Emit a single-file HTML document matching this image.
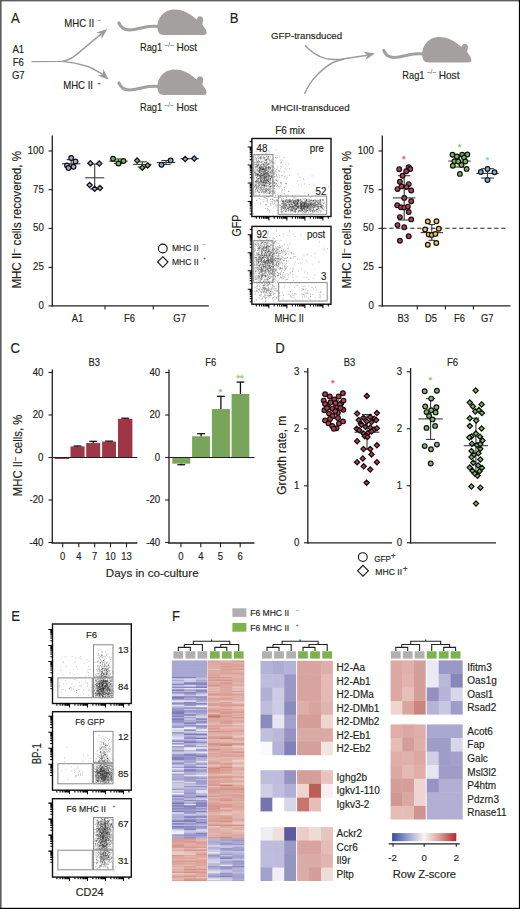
<!DOCTYPE html>
<html><head><meta charset="utf-8"><style>
html,body{margin:0;padding:0;background:#fff;}
svg{display:block;font-family:"Liberation Sans",sans-serif;}
</style></head><body>
<svg width="520" height="909" viewBox="0 0 520 909">
<rect width="520" height="909" fill="#fff"/>
<rect x="0" y="0" width="520" height="1.4" fill="#5d5d5d"/>
<rect x="0" y="0" width="1.6" height="909" fill="#5d5d5d"/>
<rect x="518.9" y="0" width="1.1" height="909" fill="#000"/>
<rect x="0" y="907.8" width="520" height="1.2" fill="#000"/>
<text x="11" y="22.7" font-size="14.3" fill="#231f20" textLength="8.77" lengthAdjust="spacingAndGlyphs" stroke-width="0.16" stroke="#231f20">A</text>
<text x="229.8" y="22.5" font-size="14.3" fill="#231f20" textLength="8.77" lengthAdjust="spacingAndGlyphs" stroke-width="0.16" stroke="#231f20">B</text>
<text x="10.6" y="353.3" font-size="14.3" fill="#231f20" textLength="9.5" lengthAdjust="spacingAndGlyphs" stroke-width="0.16" stroke="#231f20">C</text>
<text x="275.3" y="353" font-size="14.3" fill="#231f20" textLength="9.5" lengthAdjust="spacingAndGlyphs" stroke-width="0.16" stroke="#231f20">D</text>
<text x="11.2" y="620.9" font-size="14.3" fill="#231f20" textLength="8.77" lengthAdjust="spacingAndGlyphs" stroke-width="0.16" stroke="#231f20">E</text>
<text x="172.1" y="621.1" font-size="14.3" fill="#231f20" textLength="8.04" lengthAdjust="spacingAndGlyphs" stroke-width="0.16" stroke="#231f20">F</text>
<g transform="translate(0,0)"><path d="M158,31 C157,27 157,22 160,17.5 C163.5,11.5 169,9.4 175,9.4 C183,9.4 191,14 196.8,19.6 C197,17.5 198.3,16.2 200,16.2 C202,16.2 203.1,17.6 203.1,19.5 C203.1,21.5 202.6,23 202.3,24.4 C204.2,26.8 206.6,29.8 206.6,32.6 C206.6,34.4 205.3,35 203.2,35 L164,35 C161,35 159,34 158,31 Z" fill="#a4a09f"/><path d="M118.9,22.9 C120.6,27 124,30 129.5,30 C136,30 143,27.2 149,26.5 C152.5,26.1 155.5,26.1 158.5,26.4" fill="none" stroke="#a4a09f" stroke-width="3" stroke-linecap="round"/></g>
<g transform="translate(0,60)"><path d="M158,31 C157,27 157,22 160,17.5 C163.5,11.5 169,9.4 175,9.4 C183,9.4 191,14 196.8,19.6 C197,17.5 198.3,16.2 200,16.2 C202,16.2 203.1,17.6 203.1,19.5 C203.1,21.5 202.6,23 202.3,24.4 C204.2,26.8 206.6,29.8 206.6,32.6 C206.6,34.4 205.3,35 203.2,35 L164,35 C161,35 159,34 158,31 Z" fill="#a4a09f"/><path d="M118.9,22.9 C120.6,27 124,30 129.5,30 C136,30 143,27.2 149,26.5 C152.5,26.1 155.5,26.1 158.5,26.4" fill="none" stroke="#a4a09f" stroke-width="3" stroke-linecap="round"/></g>
<g transform="translate(264.8,27.5)"><path d="M158,31 C157,27 157,22 160,17.5 C163.5,11.5 169,9.4 175,9.4 C183,9.4 191,14 196.8,19.6 C197,17.5 198.3,16.2 200,16.2 C202,16.2 203.1,17.6 203.1,19.5 C203.1,21.5 202.6,23 202.3,24.4 C204.2,26.8 206.6,29.8 206.6,32.6 C206.6,34.4 205.3,35 203.2,35 L164,35 C161,35 159,34 158,31 Z" fill="#a4a09f"/><path d="M118.9,22.9 C120.6,27 124,30 129.5,30 C136,30 143,27.2 149,26.5 C152.5,26.1 155.5,26.1 158.5,26.4" fill="none" stroke="#a4a09f" stroke-width="3" stroke-linecap="round"/></g>
<text x="140.0" y="51.4" font-size="10.6" fill="#231f20" textLength="22.2" lengthAdjust="spacingAndGlyphs" stroke-width="0.16" stroke="#231f20">Rag1</text>
<text x="164.6" y="46.9" font-size="6.6" fill="#231f20" stroke-width="0" fill-opacity="0.85" stroke="#231f20">&#8211;/&#8211;</text>
<text x="176.4" y="51.4" font-size="10.6" fill="#231f20" textLength="20.8" lengthAdjust="spacingAndGlyphs" stroke-width="0.16" stroke="#231f20">Host</text>
<text x="140.0" y="111.4" font-size="10.6" fill="#231f20" textLength="22.2" lengthAdjust="spacingAndGlyphs" stroke-width="0.16" stroke="#231f20">Rag1</text>
<text x="164.6" y="106.9" font-size="6.6" fill="#231f20" stroke-width="0" fill-opacity="0.85" stroke="#231f20">&#8211;/&#8211;</text>
<text x="176.4" y="111.4" font-size="10.6" fill="#231f20" textLength="20.8" lengthAdjust="spacingAndGlyphs" stroke-width="0.16" stroke="#231f20">Host</text>
<text x="402.3" y="78.9" font-size="10.6" fill="#231f20" textLength="22.2" lengthAdjust="spacingAndGlyphs" stroke-width="0.16" stroke="#231f20">Rag1</text>
<text x="426.90000000000003" y="74.4" font-size="6.6" fill="#231f20" stroke-width="0" fill-opacity="0.85" stroke="#231f20">&#8211;/&#8211;</text>
<text x="438.7" y="78.9" font-size="10.6" fill="#231f20" textLength="20.8" lengthAdjust="spacingAndGlyphs" stroke-width="0.16" stroke="#231f20">Host</text>
<text x="18.3" y="53.2" font-size="10.6" text-anchor="middle" fill="#231f20" textLength="11.67" lengthAdjust="spacingAndGlyphs" stroke-width="0.16" stroke="#231f20">A1</text>
<text x="18.3" y="66" font-size="10.6" text-anchor="middle" fill="#231f20" textLength="11.13" lengthAdjust="spacingAndGlyphs" stroke-width="0.16" stroke="#231f20">F6</text>
<text x="18.3" y="78.6" font-size="10.6" text-anchor="middle" fill="#231f20" textLength="12.73" lengthAdjust="spacingAndGlyphs" stroke-width="0.16" stroke="#231f20">G7</text>
<path d="M31.5,61.6 L62,61.4 C66.5,61 69,59.5 73,57.2 C82,50.5 91,42 101.5,33.9" fill="none" stroke="#9c9a9a" stroke-width="1.4"/>
<path d="M62,61.4 C70,62 80,64 88,66.5 C92,68 96,70.5 103,74.6" fill="none" stroke="#9c9a9a" stroke-width="1.4"/>
<path d="M107.30,28.90 L96.22,32.43 L101.42,33.72 L101.68,39.07 Z" fill="#9c9a9a"/>
<path d="M108.70,79.60 L103.28,69.32 L102.92,74.67 L97.69,75.86 Z" fill="#9c9a9a"/>
<text x="64.3" y="27.3" font-size="10.6" fill="#231f20" textLength="29.8" lengthAdjust="spacingAndGlyphs" stroke-width="0.16" stroke="#231f20">MHC II</text>
<text x="99.3" y="21.6" font-size="6" text-anchor="middle" fill="#231f20" stroke-width="0" stroke="#231f20">&#8211;</text>
<text x="63.2" y="89" font-size="10.6" fill="#231f20" textLength="29.8" lengthAdjust="spacingAndGlyphs" stroke-width="0.16" stroke="#231f20">MHC II</text>
<text x="99" y="84.5" font-size="6" text-anchor="middle" fill="#231f20" stroke-width="0" stroke="#231f20">+</text>
<text x="271" y="39" font-size="9.7" fill="#231f20" stroke-width="0.16" stroke="#231f20">GFP-transduced</text>
<text x="271" y="111" font-size="9.7" fill="#231f20" stroke-width="0.16" stroke="#231f20">MHCII-transduced</text>
<path d="M305,45.2 C310,51 318,56.5 326,58.6 C331,59.6 336,59.6 341,59.2 L367.5,55.2" fill="none" stroke="#9c9a9a" stroke-width="1.4"/>
<path d="M304.5,93.7 C308,86 312,80 317,75 C322,70 327,65.5 333,62.5 C337,60.6 340,59.8 344,59.2" fill="none" stroke="#9c9a9a" stroke-width="1.4"/>
<path d="M374.90,53.40 L363.40,51.70 L367.50,55.15 L365.38,60.07 Z" fill="#9c9a9a"/>
<line x1="52.3" y1="135.4" x2="52.3" y2="306.4" stroke="#231f20" stroke-width="1.3"/>
<line x1="51.699999999999996" y1="305.9" x2="208.8" y2="305.9" stroke="#231f20" stroke-width="1.3"/>
<line x1="48.5" y1="151" x2="52.3" y2="151" stroke="#231f20" stroke-width="1.1"/>
<text x="43.8" y="154.0" font-size="10.4" text-anchor="end" fill="#231f20" textLength="16.14" lengthAdjust="spacingAndGlyphs" stroke-width="0.16" stroke="#231f20">100</text>
<line x1="48.5" y1="189.7" x2="52.3" y2="189.7" stroke="#231f20" stroke-width="1.1"/>
<text x="43.8" y="192.7" font-size="10.4" text-anchor="end" fill="#231f20" textLength="10.76" lengthAdjust="spacingAndGlyphs" stroke-width="0.16" stroke="#231f20">75</text>
<line x1="48.5" y1="228.4" x2="52.3" y2="228.4" stroke="#231f20" stroke-width="1.1"/>
<text x="43.8" y="231.4" font-size="10.4" text-anchor="end" fill="#231f20" textLength="10.76" lengthAdjust="spacingAndGlyphs" stroke-width="0.16" stroke="#231f20">50</text>
<line x1="48.5" y1="267.4" x2="52.3" y2="267.4" stroke="#231f20" stroke-width="1.1"/>
<text x="43.8" y="270.4" font-size="10.4" text-anchor="end" fill="#231f20" textLength="10.76" lengthAdjust="spacingAndGlyphs" stroke-width="0.16" stroke="#231f20">25</text>
<line x1="48.5" y1="305.9" x2="52.3" y2="305.9" stroke="#231f20" stroke-width="1.1"/>
<text x="43.8" y="308.9" font-size="10.4" text-anchor="end" fill="#231f20" textLength="5.38" lengthAdjust="spacingAndGlyphs" stroke-width="0.16" stroke="#231f20">0</text>
<line x1="105" y1="305.9" x2="105" y2="309.5" stroke="#231f20" stroke-width="1.1"/>
<line x1="153.3" y1="305.9" x2="153.3" y2="309.5" stroke="#231f20" stroke-width="1.1"/>
<text x="77.6" y="322.2" font-size="10.2" text-anchor="middle" fill="#231f20" textLength="11.48" lengthAdjust="spacingAndGlyphs" stroke-width="0.16" stroke="#231f20">A1</text>
<text x="129.5" y="322.2" font-size="10.2" text-anchor="middle" fill="#231f20" textLength="10.95" lengthAdjust="spacingAndGlyphs" stroke-width="0.16" stroke="#231f20">F6</text>
<text x="179.6" y="322.2" font-size="10.2" text-anchor="middle" fill="#231f20" textLength="12.52" lengthAdjust="spacingAndGlyphs" stroke-width="0.16" stroke="#231f20">G7</text>
<text transform="translate(20.6,219.85) rotate(-90)" x="0" y="0" font-size="12.6" text-anchor="middle" fill="#231f20" stroke="#231f20" stroke-width="0.16" textLength="137.5" lengthAdjust="spacingAndGlyphs">MHC II<tspan dy="-4.5" font-size="8">&#8211;</tspan><tspan dy="4.5"> cells recovered, %</tspan></text>
<line x1="62.0" y1="163.8" x2="80.4" y2="163.8" stroke="#3a3a3a" stroke-width="1.1"/>
<line x1="71.2" y1="159.6" x2="71.2" y2="167.5" stroke="#3a3a3a" stroke-width="1.1"/>
<line x1="66.60000000000001" y1="159.6" x2="75.8" y2="159.6" stroke="#3a3a3a" stroke-width="1.1"/>
<line x1="66.60000000000001" y1="167.5" x2="75.8" y2="167.5" stroke="#3a3a3a" stroke-width="1.1"/>
<circle cx="71.2" cy="158" r="2.35" fill="#afa7d8" stroke="#111" stroke-width="1.2"/>
<circle cx="75.5" cy="161.5" r="2.35" fill="#afa7d8" stroke="#111" stroke-width="1.2"/>
<circle cx="67" cy="165.5" r="2.35" fill="#afa7d8" stroke="#111" stroke-width="1.2"/>
<circle cx="73.5" cy="166.8" r="2.35" fill="#afa7d8" stroke="#111" stroke-width="1.2"/>
<circle cx="68.5" cy="168" r="2.35" fill="#afa7d8" stroke="#111" stroke-width="1.2"/>
<line x1="85.2" y1="177.8" x2="104.2" y2="177.8" stroke="#3a3a3a" stroke-width="1.1"/>
<line x1="94.7" y1="164" x2="94.7" y2="189" stroke="#3a3a3a" stroke-width="1.1"/>
<line x1="90.10000000000001" y1="164" x2="99.3" y2="164" stroke="#3a3a3a" stroke-width="1.1"/>
<line x1="90.10000000000001" y1="189" x2="99.3" y2="189" stroke="#3a3a3a" stroke-width="1.1"/>
<path d="M90.4,160.60L93.00,163.2L90.4,165.80L87.80,163.2Z" fill="#afa7d8" stroke="#111" stroke-width="1.25"/>
<path d="M99.3,160.90L101.90,163.5L99.3,166.10L96.70,163.5Z" fill="#afa7d8" stroke="#111" stroke-width="1.25"/>
<path d="M89.6,182.40L92.20,185L89.6,187.60L87.00,185Z" fill="#afa7d8" stroke="#111" stroke-width="1.25"/>
<path d="M94.7,186.20L97.30,188.8L94.7,191.40L92.10,188.8Z" fill="#afa7d8" stroke="#111" stroke-width="1.25"/>
<path d="M100,185.40L102.60,188L100,190.60L97.40,188Z" fill="#afa7d8" stroke="#111" stroke-width="1.25"/>
<line x1="109.3" y1="161.2" x2="127.7" y2="161.2" stroke="#3a3a3a" stroke-width="1.1"/>
<line x1="118.5" y1="159" x2="118.5" y2="163.4" stroke="#3a3a3a" stroke-width="1.1"/>
<line x1="113.9" y1="159" x2="123.1" y2="159" stroke="#3a3a3a" stroke-width="1.1"/>
<line x1="113.9" y1="163.4" x2="123.1" y2="163.4" stroke="#3a3a3a" stroke-width="1.1"/>
<circle cx="113" cy="158.8" r="2.35" fill="#79b85a" stroke="#111" stroke-width="1.2"/>
<circle cx="118.5" cy="163.5" r="2.35" fill="#79b85a" stroke="#111" stroke-width="1.2"/>
<circle cx="123.5" cy="161" r="2.35" fill="#79b85a" stroke="#111" stroke-width="1.2"/>
<line x1="133.10000000000002" y1="164.4" x2="151.5" y2="164.4" stroke="#3a3a3a" stroke-width="1.1"/>
<line x1="142.3" y1="161.8" x2="142.3" y2="167" stroke="#3a3a3a" stroke-width="1.1"/>
<line x1="137.70000000000002" y1="161.8" x2="146.9" y2="161.8" stroke="#3a3a3a" stroke-width="1.1"/>
<line x1="137.70000000000002" y1="167" x2="146.9" y2="167" stroke="#3a3a3a" stroke-width="1.1"/>
<path d="M137.1,158.00L139.70,160.6L137.1,163.20L134.50,160.6Z" fill="#79b85a" stroke="#111" stroke-width="1.25"/>
<path d="M142.3,165.10L144.90,167.7L142.3,170.30L139.70,167.7Z" fill="#79b85a" stroke="#111" stroke-width="1.25"/>
<path d="M147.7,162.80L150.30,165.4L147.7,168.00L145.10,165.4Z" fill="#79b85a" stroke="#111" stroke-width="1.25"/>
<line x1="156.7" y1="162.5" x2="175.3" y2="162.5" stroke="#3a3a3a" stroke-width="1.1"/>
<line x1="166" y1="160.5" x2="166" y2="164.5" stroke="#3a3a3a" stroke-width="1.1"/>
<line x1="161.4" y1="160.5" x2="170.6" y2="160.5" stroke="#3a3a3a" stroke-width="1.1"/>
<line x1="161.4" y1="164.5" x2="170.6" y2="164.5" stroke="#3a3a3a" stroke-width="1.1"/>
<circle cx="161.5" cy="164.8" r="2.35" fill="#79b0dd" stroke="#111" stroke-width="1.2"/>
<circle cx="170.6" cy="160.4" r="2.35" fill="#79b0dd" stroke="#111" stroke-width="1.2"/>
<line x1="180.5" y1="158.7" x2="198.89999999999998" y2="158.7" stroke="#3a3a3a" stroke-width="1.1"/>
<path d="M185.2,156.40L187.80,159L185.2,161.60L182.60,159Z" fill="#79b0dd" stroke="#111" stroke-width="1.25"/>
<path d="M194.2,155.90L196.80,158.5L194.2,161.10L191.60,158.5Z" fill="#79b0dd" stroke="#111" stroke-width="1.25"/>
<circle cx="162.8" cy="248.5" r="4.4" fill="none" stroke="#111" stroke-width="1.1"/>
<path d="M162.8,256.7L168,262L162.8,267.3L157.6,262Z" fill="none" stroke="#111" stroke-width="1.1"/>
<text x="172" y="251.0" font-size="9.0" fill="#231f20" textLength="26.5" lengthAdjust="spacingAndGlyphs" stroke-width="0.16" stroke="#231f20">MHC II</text>
<text x="204.5" y="246.3" font-size="6" text-anchor="middle" fill="#231f20" stroke-width="0" fill-opacity="0.8" stroke="#231f20">&#8211;</text>
<text x="172" y="264.5" font-size="9.0" fill="#231f20" textLength="26.5" lengthAdjust="spacingAndGlyphs" stroke-width="0.16" stroke="#231f20">MHC II</text>
<text x="204.5" y="260.3" font-size="6" text-anchor="middle" fill="#231f20" stroke-width="0" fill-opacity="0.8" stroke="#231f20">+</text>
<line x1="382.3" y1="135.4" x2="382.3" y2="306.4" stroke="#231f20" stroke-width="1.3"/>
<line x1="381.7" y1="305.9" x2="510.4" y2="305.9" stroke="#231f20" stroke-width="1.3"/>
<line x1="378.5" y1="151" x2="382.3" y2="151" stroke="#231f20" stroke-width="1.1"/>
<text x="373.8" y="154.0" font-size="10.4" text-anchor="end" fill="#231f20" textLength="16.14" lengthAdjust="spacingAndGlyphs" stroke-width="0.16" stroke="#231f20">100</text>
<line x1="378.5" y1="189.7" x2="382.3" y2="189.7" stroke="#231f20" stroke-width="1.1"/>
<text x="373.8" y="192.7" font-size="10.4" text-anchor="end" fill="#231f20" textLength="10.76" lengthAdjust="spacingAndGlyphs" stroke-width="0.16" stroke="#231f20">75</text>
<line x1="378.5" y1="228.4" x2="382.3" y2="228.4" stroke="#231f20" stroke-width="1.1"/>
<text x="373.8" y="231.4" font-size="10.4" text-anchor="end" fill="#231f20" textLength="10.76" lengthAdjust="spacingAndGlyphs" stroke-width="0.16" stroke="#231f20">50</text>
<line x1="378.5" y1="267.4" x2="382.3" y2="267.4" stroke="#231f20" stroke-width="1.1"/>
<text x="373.8" y="270.4" font-size="10.4" text-anchor="end" fill="#231f20" textLength="10.76" lengthAdjust="spacingAndGlyphs" stroke-width="0.16" stroke="#231f20">25</text>
<line x1="378.5" y1="305.9" x2="382.3" y2="305.9" stroke="#231f20" stroke-width="1.1"/>
<text x="373.8" y="308.9" font-size="10.4" text-anchor="end" fill="#231f20" textLength="5.38" lengthAdjust="spacingAndGlyphs" stroke-width="0.16" stroke="#231f20">0</text>
<line x1="417.3" y1="305.9" x2="417.3" y2="309.5" stroke="#231f20" stroke-width="1.1"/>
<line x1="445.4" y1="305.9" x2="445.4" y2="309.5" stroke="#231f20" stroke-width="1.1"/>
<line x1="473.4" y1="305.9" x2="473.4" y2="309.5" stroke="#231f20" stroke-width="1.1"/>
<text x="403.3" y="322.4" font-size="10.2" text-anchor="middle" fill="#231f20" textLength="11.48" lengthAdjust="spacingAndGlyphs" stroke-width="0.16" stroke="#231f20">B3</text>
<text x="431" y="322.4" font-size="10.2" text-anchor="middle" fill="#231f20" textLength="12.0" lengthAdjust="spacingAndGlyphs" stroke-width="0.16" stroke="#231f20">D5</text>
<text x="459.5" y="322.4" font-size="10.2" text-anchor="middle" fill="#231f20" textLength="10.95" lengthAdjust="spacingAndGlyphs" stroke-width="0.16" stroke="#231f20">F6</text>
<text x="487.3" y="322.4" font-size="10.2" text-anchor="middle" fill="#231f20" textLength="12.52" lengthAdjust="spacingAndGlyphs" stroke-width="0.16" stroke="#231f20">G7</text>
<text transform="translate(350.6,219.85) rotate(-90)" x="0" y="0" font-size="12.6" text-anchor="middle" fill="#231f20" stroke="#231f20" stroke-width="0.16" textLength="137.5" lengthAdjust="spacingAndGlyphs">MHC II<tspan dy="-4.5" font-size="8">&#8211;</tspan><tspan dy="4.5"> cells recovered, %</tspan></text>
<line x1="382.3" y1="228.3" x2="506" y2="228.3" stroke="#231f20" stroke-width="1.1" stroke-dasharray="4.2,2.8"/>
<line x1="393.0" y1="197.9" x2="415.4" y2="197.9" stroke="#3a3a3a" stroke-width="1.1"/>
<line x1="404.2" y1="175.7" x2="404.2" y2="220" stroke="#3a3a3a" stroke-width="1.1"/>
<line x1="398.09999999999997" y1="175.7" x2="410.3" y2="175.7" stroke="#3a3a3a" stroke-width="1.1"/>
<line x1="398.09999999999997" y1="220" x2="410.3" y2="220" stroke="#3a3a3a" stroke-width="1.1"/>
<circle cx="399.2" cy="169.3" r="2.35" fill="#b83e52" stroke="#111" stroke-width="1.2"/>
<circle cx="408.7" cy="167.3" r="2.35" fill="#b83e52" stroke="#111" stroke-width="1.2"/>
<circle cx="410.3" cy="169" r="2.35" fill="#b83e52" stroke="#111" stroke-width="1.2"/>
<circle cx="406.2" cy="171.2" r="2.35" fill="#b83e52" stroke="#111" stroke-width="1.2"/>
<circle cx="402.6" cy="175.7" r="2.35" fill="#b83e52" stroke="#111" stroke-width="1.2"/>
<circle cx="399.9" cy="181.7" r="2.35" fill="#b83e52" stroke="#111" stroke-width="1.2"/>
<circle cx="408.7" cy="184.1" r="2.35" fill="#b83e52" stroke="#111" stroke-width="1.2"/>
<circle cx="401.5" cy="186.4" r="2.35" fill="#b83e52" stroke="#111" stroke-width="1.2"/>
<circle cx="406.6" cy="187.1" r="2.35" fill="#b83e52" stroke="#111" stroke-width="1.2"/>
<circle cx="397.5" cy="189.1" r="2.35" fill="#b83e52" stroke="#111" stroke-width="1.2"/>
<circle cx="411.2" cy="190.5" r="2.35" fill="#b83e52" stroke="#111" stroke-width="1.2"/>
<circle cx="404.2" cy="197.9" r="2.35" fill="#b83e52" stroke="#111" stroke-width="1.2"/>
<circle cx="411.2" cy="201.2" r="2.35" fill="#b83e52" stroke="#111" stroke-width="1.2"/>
<circle cx="397.2" cy="205.3" r="2.35" fill="#b83e52" stroke="#111" stroke-width="1.2"/>
<circle cx="400.9" cy="207.3" r="2.35" fill="#b83e52" stroke="#111" stroke-width="1.2"/>
<circle cx="404.2" cy="207.6" r="2.35" fill="#b83e52" stroke="#111" stroke-width="1.2"/>
<circle cx="407.9" cy="206.6" r="2.35" fill="#b83e52" stroke="#111" stroke-width="1.2"/>
<circle cx="408.7" cy="212" r="2.35" fill="#b83e52" stroke="#111" stroke-width="1.2"/>
<circle cx="399.9" cy="217.1" r="2.35" fill="#b83e52" stroke="#111" stroke-width="1.2"/>
<circle cx="411.2" cy="219.4" r="2.35" fill="#b83e52" stroke="#111" stroke-width="1.2"/>
<circle cx="397.5" cy="225.1" r="2.35" fill="#b83e52" stroke="#111" stroke-width="1.2"/>
<circle cx="404.2" cy="227.2" r="2.35" fill="#b83e52" stroke="#111" stroke-width="1.2"/>
<circle cx="408.7" cy="236.2" r="2.35" fill="#b83e52" stroke="#111" stroke-width="1.2"/>
<circle cx="399.9" cy="240.7" r="2.35" fill="#b83e52" stroke="#111" stroke-width="1.2"/>
<line x1="420.6" y1="232.6" x2="443.0" y2="232.6" stroke="#3a3a3a" stroke-width="1.1"/>
<line x1="431.8" y1="224.5" x2="431.8" y2="240.3" stroke="#3a3a3a" stroke-width="1.1"/>
<line x1="428.6" y1="224.5" x2="435.0" y2="224.5" stroke="#3a3a3a" stroke-width="1.1"/>
<line x1="428.6" y1="240.3" x2="435.0" y2="240.3" stroke="#3a3a3a" stroke-width="1.1"/>
<circle cx="427.8" cy="221.4" r="2.35" fill="#f5c843" stroke="#111" stroke-width="1.2"/>
<circle cx="436.5" cy="221.2" r="2.35" fill="#f5c843" stroke="#111" stroke-width="1.2"/>
<circle cx="425.1" cy="229.5" r="2.35" fill="#f5c843" stroke="#111" stroke-width="1.2"/>
<circle cx="438.8" cy="228.8" r="2.35" fill="#f5c843" stroke="#111" stroke-width="1.2"/>
<circle cx="428.7" cy="234.6" r="2.35" fill="#f5c843" stroke="#111" stroke-width="1.2"/>
<circle cx="431.8" cy="234.9" r="2.35" fill="#f5c843" stroke="#111" stroke-width="1.2"/>
<circle cx="435.4" cy="233.9" r="2.35" fill="#f5c843" stroke="#111" stroke-width="1.2"/>
<circle cx="427.8" cy="244.7" r="2.35" fill="#f5c843" stroke="#111" stroke-width="1.2"/>
<circle cx="436.3" cy="243" r="2.35" fill="#f5c843" stroke="#111" stroke-width="1.2"/>
<line x1="448.3" y1="161.1" x2="470.7" y2="161.1" stroke="#3a3a3a" stroke-width="1.1"/>
<line x1="459.5" y1="155" x2="459.5" y2="167" stroke="#3a3a3a" stroke-width="1.1"/>
<line x1="455.0" y1="155" x2="464.0" y2="155" stroke="#3a3a3a" stroke-width="1.1"/>
<line x1="455.0" y1="167" x2="464.0" y2="167" stroke="#3a3a3a" stroke-width="1.1"/>
<circle cx="452.5" cy="154.8" r="2.35" fill="#79b85a" stroke="#111" stroke-width="1.2"/>
<circle cx="456.8" cy="156.4" r="2.35" fill="#79b85a" stroke="#111" stroke-width="1.2"/>
<circle cx="462.2" cy="154.8" r="2.35" fill="#79b85a" stroke="#111" stroke-width="1.2"/>
<circle cx="467.3" cy="154.5" r="2.35" fill="#79b85a" stroke="#111" stroke-width="1.2"/>
<circle cx="464" cy="157.5" r="2.35" fill="#79b85a" stroke="#111" stroke-width="1.2"/>
<circle cx="454.5" cy="161.3" r="2.35" fill="#79b85a" stroke="#111" stroke-width="1.2"/>
<circle cx="458.2" cy="161.5" r="2.35" fill="#79b85a" stroke="#111" stroke-width="1.2"/>
<circle cx="465.3" cy="161.5" r="2.35" fill="#79b85a" stroke="#111" stroke-width="1.2"/>
<circle cx="452.8" cy="165.8" r="2.35" fill="#79b85a" stroke="#111" stroke-width="1.2"/>
<circle cx="461.5" cy="164.9" r="2.35" fill="#79b85a" stroke="#111" stroke-width="1.2"/>
<circle cx="466.6" cy="168.9" r="2.35" fill="#79b85a" stroke="#111" stroke-width="1.2"/>
<circle cx="459.9" cy="173.9" r="2.35" fill="#79b85a" stroke="#111" stroke-width="1.2"/>
<line x1="476.3" y1="173.4" x2="498.7" y2="173.4" stroke="#3a3a3a" stroke-width="1.1"/>
<line x1="487.5" y1="168.7" x2="487.5" y2="178" stroke="#3a3a3a" stroke-width="1.1"/>
<line x1="481.1" y1="168.7" x2="493.9" y2="168.7" stroke="#3a3a3a" stroke-width="1.1"/>
<line x1="481.1" y1="178" x2="493.9" y2="178" stroke="#3a3a3a" stroke-width="1.1"/>
<circle cx="480.8" cy="172" r="2.35" fill="#79b0dd" stroke="#111" stroke-width="1.2"/>
<circle cx="487.5" cy="169" r="2.35" fill="#79b0dd" stroke="#111" stroke-width="1.2"/>
<circle cx="494.5" cy="172.3" r="2.35" fill="#79b0dd" stroke="#111" stroke-width="1.2"/>
<circle cx="487.5" cy="180.1" r="2.35" fill="#79b0dd" stroke="#111" stroke-width="1.2"/>
<text x="403.8" y="161.6" font-size="9.5" text-anchor="middle" fill="#d9667a" stroke="#d9667a" stroke-width="0.3">*</text>
<text x="459.5" y="149.5" font-size="9.5" text-anchor="middle" fill="#8fcc6f" stroke="#8fcc6f" stroke-width="0.3">*</text>
<text x="487.4" y="162.9" font-size="9.5" text-anchor="middle" fill="#93c6ee" stroke="#93c6ee" stroke-width="0.3">*</text>
<path d="M260.3,162.6h.8M266.2,159.7h.8M264.1,170.5h.8M255.5,175.8h.8M255.2,173.0h.8M255.8,160.4h.8M262.1,187.6h.8M256.7,165.3h.8M265.8,192.1h.8M264.9,171.7h.8M272.1,158.7h.8M270.0,167.7h.8M257.1,161.4h.8M260.1,187.2h.8M257.8,178.5h.8M266.0,170.8h.8M264.4,159.3h.8M255.6,164.6h.8M266.7,172.8h.8M260.2,178.7h.8M262.7,168.1h.8M268.8,182.9h.8M258.9,178.3h.8M264.0,189.4h.8M267.6,167.7h.8M272.1,161.4h.8M262.0,185.0h.8M257.2,175.1h.8M255.2,181.7h.8M268.3,178.2h.8M270.3,168.6h.8M267.0,179.0h.8M264.9,173.9h.8M269.6,192.0h.8M263.0,181.6h.8M255.6,183.0h.8M266.1,193.7h.8M269.3,167.5h.8M261.4,181.7h.8M254.9,174.1h.8M257.5,161.3h.8M255.6,185.4h.8M256.8,166.2h.8M261.5,189.2h.8M256.0,173.6h.8M264.4,189.7h.8M269.2,189.0h.8M259.5,172.4h.8M261.0,189.7h.8M271.7,162.6h.8M257.7,165.6h.8M258.7,174.9h.8M265.1,166.7h.8M254.6,172.5h.8M261.1,178.0h.8M271.7,182.5h.8M263.8,179.9h.8M266.7,159.0h.8M270.7,185.9h.8M270.2,186.5h.8M261.6,171.8h.8M256.4,180.5h.8M255.6,159.5h.8M258.3,163.0h.8M260.6,158.9h.8M254.5,162.6h.8M256.3,170.5h.8M255.0,189.4h.8M265.6,162.5h.8M259.0,169.9h.8M261.1,161.5h.8M269.8,193.7h.8M262.9,174.9h.8M256.0,160.8h.8M260.7,166.8h.8M269.4,163.0h.8M254.9,192.2h.8M264.0,162.4h.8M264.3,158.0h.8M264.0,193.2h.8M270.0,182.8h.8M259.2,170.6h.8M257.5,185.6h.8M264.1,185.8h.8M260.4,165.3h.8M269.1,193.4h.8M269.8,186.8h.8M269.2,184.4h.8M258.6,176.2h.8M260.9,158.1h.8M255.0,167.3h.8M259.2,182.6h.8M271.7,173.5h.8M271.4,193.6h.8M271.7,170.5h.8M258.5,165.4h.8M258.0,164.6h.8M265.7,190.3h.8M269.6,174.7h.8M266.3,186.6h.8M256.0,181.4h.8M270.9,185.9h.8M268.0,174.7h.8M257.7,186.2h.8M260.5,186.6h.8M272.0,171.6h.8M261.7,192.0h.8M267.5,163.3h.8M256.8,162.6h.8M270.8,186.8h.8M257.1,187.6h.8M272.1,181.3h.8M260.8,177.3h.8M256.9,157.5h.8M272.0,181.0h.8M264.0,191.5h.8M262.3,189.3h.8M269.4,164.8h.8M259.0,167.8h.8M258.8,178.7h.8M259.2,172.5h.8M256.9,190.7h.8M260.9,174.0h.8M265.0,190.5h.8M262.1,191.0h.8M263.5,176.7h.8M263.9,157.7h.8M262.4,163.8h.8M254.6,186.6h.8M257.6,174.5h.8M267.6,177.6h.8M260.4,176.2h.8M264.5,186.0h.8M256.4,177.7h.8M259.0,167.2h.8M268.4,175.8h.8M264.6,185.1h.8M270.9,173.4h.8M265.5,175.7h.8M263.7,182.6h.8M262.6,176.7h.8M263.1,191.8h.8M267.1,189.4h.8M271.5,166.6h.8M264.6,191.9h.8M269.6,162.1h.8M256.7,173.4h.8M255.8,165.9h.8M255.8,181.8h.8M268.6,190.2h.8M257.3,183.5h.8M266.4,162.3h.8M270.4,192.8h.8M258.5,192.2h.8M261.7,175.0h.8M272.3,187.8h.8M257.4,173.0h.8M263.8,169.5h.8M258.0,168.8h.8M267.5,157.7h.8M264.5,173.3h.8M254.8,169.3h.8M265.7,176.0h.8M255.7,193.4h.8M268.7,193.0h.8M256.4,166.8h.8M255.2,185.8h.8M259.4,161.8h.8M262.1,190.7h.8M269.2,166.6h.8M257.2,191.0h.8M264.8,182.9h.8M256.1,159.1h.8M266.9,172.7h.8M255.8,191.7h.8M265.9,186.7h.8M256.0,188.7h.8M255.7,188.9h.8M262.7,169.5h.8M264.5,191.3h.8M259.3,161.8h.8M264.0,165.8h.8M256.5,163.0h.8M255.4,164.5h.8M260.1,168.3h.8M268.2,167.7h.8M263.5,163.6h.8M260.7,157.7h.8M259.0,157.6h.8M267.7,177.4h.8M257.9,174.6h.8M271.3,160.9h.8M269.2,173.0h.8M263.4,187.9h.8M261.6,175.7h.8M266.9,193.4h.8M260.7,187.8h.8M267.2,180.5h.8M261.8,169.9h.8M255.5,161.8h.8M255.8,184.4h.8M259.1,163.0h.8M256.0,188.1h.8M270.2,181.8h.8M259.6,166.0h.8M259.8,174.0h.8M257.3,173.5h.8M259.2,192.6h.8M272.0,177.2h.8M258.9,192.7h.8M260.1,170.2h.8M254.5,171.1h.8M263.0,175.6h.8M258.1,175.7h.8M254.6,166.8h.8M256.1,171.8h.8M255.3,157.8h.8M260.0,165.6h.8M265.0,176.6h.8M268.0,181.3h.8M267.4,189.5h.8M261.5,169.1h.8M272.2,162.5h.8M267.5,180.8h.8M255.3,187.9h.8M270.6,180.2h.8M267.7,187.1h.8M257.0,176.4h.8M263.6,187.9h.8M269.0,187.6h.8M265.0,190.0h.8M266.8,182.7h.8M258.6,158.2h.8M256.9,170.3h.8M256.4,187.9h.8M264.6,180.2h.8M265.8,182.2h.8M263.3,157.1h.8M268.9,184.7h.8M263.6,176.8h.8M266.4,159.4h.8M267.8,166.3h.8M255.8,166.8h.8M267.6,164.6h.8M267.8,193.1h.8M263.4,171.2h.8M263.1,182.3h.8M268.3,179.8h.8M266.1,159.9h.8M257.2,166.4h.8M267.9,168.3h.8M264.7,157.5h.8M255.6,166.9h.8M266.6,182.6h.8M266.7,167.8h.8M263.8,174.2h.8M262.9,161.4h.8M270.6,164.4h.8M272.1,191.6h.8M254.8,174.0h.8M269.3,192.8h.8M262.6,166.9h.8M258.3,192.0h.8M258.3,178.5h.8M257.1,176.4h.8M271.6,161.9h.8M269.3,175.8h.8M270.5,183.0h.8M258.7,190.2h.8M263.3,157.9h.8M254.6,175.2h.8M262.6,168.2h.8M257.0,169.7h.8M260.2,188.1h.8M254.5,184.8h.8M269.6,161.4h.8M271.2,183.4h.8M270.7,167.7h.8M261.2,171.5h.8M272.5,178.8h.8M261.0,172.8h.8M259.5,158.8h.8M256.3,187.9h.8M259.6,191.6h.8M259.0,166.8h.8M263.7,164.0h.8M261.2,192.4h.8M270.4,187.0h.8M265.9,190.8h.8M271.4,177.3h.8M267.5,158.8h.8M267.7,173.7h.8M268.0,180.8h.8M259.7,158.8h.8M271.2,161.7h.8M263.0,169.7h.8M259.9,184.3h.8M272.1,166.6h.8M266.3,168.1h.8M264.5,171.6h.8M265.1,180.7h.8M266.6,196.5h.8M259.6,175.6h.8M278.9,156.8h.8M260.6,177.2h.8M264.3,179.6h.8M262.2,179.2h.8M263.8,183.2h.8M263.5,165.2h.8M257.8,181.8h.8M259.9,181.8h.8M267.6,178.6h.8M266.3,174.5h.8M255.7,175.2h.8M266.0,170.2h.8M263.0,183.0h.8M258.7,181.9h.8M273.7,170.0h.8M264.3,174.0h.8M272.0,178.7h.8M268.4,168.6h.8M263.4,175.4h.8M268.4,158.0h.8M267.6,174.2h.8M266.0,179.2h.8M255.3,173.4h.8M271.7,169.8h.8M257.9,161.9h.8M256.8,178.9h.8M272.8,179.8h.8M264.9,197.8h.8M260.6,168.8h.8M266.4,181.0h.8M257.9,163.8h.8M265.1,178.0h.8M256.3,173.5h.8M260.5,180.1h.8M262.9,174.6h.8M261.6,186.0h.8M271.1,171.8h.8M268.2,167.9h.8M263.9,183.0h.8M271.8,171.7h.8M263.1,177.5h.8M255.3,175.7h.8M259.8,179.2h.8M257.3,155.7h.8M263.7,178.1h.8M260.5,184.4h.8M262.0,169.4h.8M266.1,159.8h.8M259.8,175.3h.8M268.2,173.9h.8M265.2,168.9h.8M265.2,192.1h.8M259.7,199.2h.8M260.0,175.7h.8M264.5,185.7h.8M256.7,154.5h.8M266.8,183.5h.8M266.9,201.8h.8M264.6,178.0h.8M268.6,179.2h.8M272.7,163.1h.8M268.0,171.8h.8M268.6,197.0h.8M263.5,173.0h.8M260.8,167.1h.8M260.0,181.9h.8M263.7,176.2h.8M262.5,184.6h.8M266.2,174.1h.8M267.2,174.0h.8M257.2,190.1h.8M266.1,165.9h.8M269.4,178.9h.8M254.9,191.6h.8M265.3,184.4h.8M264.6,174.0h.8M255.0,185.2h.8M263.7,172.6h.8M265.4,176.3h.8M267.2,171.8h.8M263.3,154.1h.8M261.2,182.3h.8M270.9,171.9h.8M262.8,191.3h.8M261.7,182.8h.8M272.7,175.9h.8M270.2,168.4h.8M264.6,174.7h.8M264.1,186.8h.8M276.6,168.8h.8M260.3,180.5h.8M257.7,180.5h.8M266.6,172.7h.8M266.4,160.0h.8M267.7,160.1h.8M259.7,169.9h.8M261.3,184.1h.8M263.9,171.5h.8M266.5,191.3h.8M263.5,179.2h.8M270.3,178.2h.8M256.4,200.4h.8M275.6,155.7h.8M263.3,179.7h.8M268.8,182.2h.8M262.0,165.0h.8M264.1,185.8h.8M257.5,165.2h.8M263.4,156.1h.8M262.1,171.1h.8M266.0,168.5h.8M258.6,171.6h.8M263.2,168.9h.8M263.6,183.0h.8M270.0,192.5h.8M259.2,171.3h.8M259.5,175.2h.8M266.4,161.9h.8M266.1,175.2h.8M270.1,156.8h.8M267.9,177.6h.8M266.1,179.9h.8M270.7,173.3h.8M268.3,171.4h.8M267.5,167.4h.8M262.9,192.8h.8M266.0,173.9h.8M257.2,167.6h.8M264.6,184.9h.8M265.8,180.7h.8M263.3,189.0h.8M261.4,170.0h.8M268.4,176.1h.8M262.0,169.7h.8M262.1,181.7h.8M265.4,163.4h.8M265.8,177.3h.8M258.0,183.2h.8M262.0,172.1h.8M267.9,188.7h.8M259.7,179.9h.8M258.7,198.6h.8M260.8,187.4h.8M259.9,183.6h.8M275.7,150.1h.8M261.1,180.5h.8M263.0,168.8h.8M275.3,176.3h.8M254.5,184.0h.8M254.0,187.0h.8M260.3,176.9h.8M270.4,176.7h.8M255.8,158.5h.8M270.0,182.9h.8M259.0,184.1h.8M266.2,182.0h.8M268.5,182.8h.8M268.3,150.9h.8M264.4,180.4h.8M277.5,166.0h.8M261.7,175.9h.8M268.4,171.1h.8M269.8,167.6h.8M265.0,170.2h.8M264.4,168.6h.8M254.7,186.4h.8M265.2,169.9h.8M264.6,185.4h.8M258.1,174.4h.8M266.5,180.8h.8M261.7,154.4h.8M270.3,178.8h.8M263.6,172.7h.8M264.9,171.2h.8M257.9,168.1h.8M260.2,169.4h.8M257.1,181.9h.8M256.3,182.1h.8M257.9,179.0h.8M271.1,177.5h.8M259.5,176.0h.8M264.3,158.2h.8M260.2,177.1h.8M260.9,176.3h.8M267.5,183.2h.8M268.5,181.4h.8M261.9,175.3h.8M262.0,172.4h.8M262.5,158.3h.8M261.7,175.3h.8M258.1,175.3h.8M266.3,173.9h.8M262.4,157.2h.8M266.4,172.5h.8M266.5,153.1h.8M268.2,179.2h.8M263.6,169.6h.8M267.0,170.6h.8M264.7,170.4h.8M264.6,183.0h.8M258.7,175.2h.8M266.9,177.0h.8M270.3,195.4h.8M258.5,156.3h.8M268.2,190.8h.8M268.6,183.6h.8M260.1,168.4h.8M268.4,166.4h.8M277.2,194.7h.8M259.7,168.2h.8M264.8,168.0h.8M270.7,174.7h.8M257.5,188.6h.8M260.3,177.7h.8M263.4,172.4h.8M265.3,168.6h.8M256.5,167.9h.8M263.4,176.1h.8M266.6,176.7h.8M259.1,168.4h.8M266.2,180.8h.8M262.8,173.8h.8M268.6,175.7h.8M267.6,181.3h.8M264.7,188.6h.8M260.4,171.9h.8M259.1,167.5h.8M272.1,193.1h.8M263.6,181.2h.8M270.0,183.6h.8M270.1,162.9h.8M260.0,180.0h.8M271.4,176.5h.8M258.8,172.0h.8M259.9,166.9h.8M271.8,169.2h.8M263.6,197.1h.8M270.0,178.9h.8M260.1,179.6h.8M272.4,181.7h.8M270.4,176.5h.8M266.3,173.5h.8M265.8,188.5h.8M255.6,174.9h.8M264.8,169.8h.8M261.8,183.4h.8M274.5,181.8h.8M265.3,160.0h.8M274.1,176.3h.8M263.3,164.3h.8M263.2,164.5h.8M263.9,180.2h.8M263.7,178.3h.8M258.8,189.8h.8M259.9,157.3h.8M262.5,167.9h.8M257.9,172.0h.8M265.1,163.7h.8M262.7,189.8h.8M267.3,174.0h.8M264.2,174.3h.8M263.2,182.8h.8M263.0,151.5h.8M263.4,166.6h.8M267.1,169.4h.8M264.3,197.3h.8M257.7,164.3h.8M255.7,151.6h.8M260.0,156.8h.8M255.3,181.7h.8M259.2,171.8h.8M265.3,189.1h.8M274.2,185.8h.8M264.3,177.3h.8M273.4,189.8h.8M261.8,180.1h.8M265.1,176.0h.8M260.7,162.2h.8M260.6,160.1h.8M270.2,180.9h.8M256.9,189.5h.8M268.4,156.4h.8M273.6,183.6h.8M274.9,163.2h.8M266.4,179.7h.8M264.6,177.2h.8M269.3,160.6h.8M256.7,161.6h.8M260.4,169.4h.8M265.5,178.2h.8M263.7,168.7h.8M261.1,185.0h.8M267.7,176.5h.8M261.7,191.0h.8M260.2,182.0h.8M269.8,172.8h.8M268.0,164.3h.8M269.1,177.5h.8M254.8,182.2h.8M258.6,188.3h.8M259.8,173.9h.8M265.1,172.2h.8M264.9,170.0h.8M267.2,175.6h.8M269.9,175.8h.8M266.1,186.2h.8M257.5,191.0h.8M262.6,199.4h.8M262.7,182.3h.8M261.5,164.3h.8M269.5,184.6h.8M272.0,184.1h.8M260.3,158.9h.8M259.9,168.7h.8M259.0,181.3h.8M265.3,172.8h.8M264.4,174.0h.8M264.7,183.0h.8M268.8,168.6h.8M255.2,189.8h.8M264.1,186.6h.8M254.5,172.2h.8M263.6,161.1h.8M260.7,182.7h.8M269.4,191.4h.8M258.8,161.5h.8M266.4,184.9h.8M264.6,162.5h.8M267.8,183.4h.8M266.5,170.6h.8M265.2,183.4h.8M260.4,157.1h.8M265.3,180.3h.8M263.6,184.4h.8M260.3,174.7h.8M261.8,181.2h.8M272.3,173.0h.8M274.8,190.8h.8M267.8,181.4h.8M273.2,173.7h.8M262.9,164.9h.8M266.1,188.9h.8M266.4,179.7h.8M262.4,177.2h.8M255.7,186.0h.8M261.2,164.5h.8M259.4,167.3h.8M268.2,186.1h.8M256.0,184.8h.8M268.4,169.7h.8M255.3,168.0h.8M260.0,178.9h.8M261.5,155.2h.8M264.8,160.2h.8M268.5,163.4h.8M259.7,167.0h.8M260.5,188.5h.8M268.2,181.5h.8M265.3,160.0h.8M260.6,170.0h.8M258.1,180.6h.8M259.4,168.4h.8M257.8,154.9h.8M266.8,188.8h.8M264.5,165.7h.8M270.2,178.5h.8M268.6,190.3h.8M269.7,171.1h.8M269.3,183.3h.8M255.0,171.4h.8M255.7,174.4h.8M266.7,164.8h.8M265.6,190.2h.8M256.2,186.1h.8M274.9,195.6h.8M262.3,178.2h.8M262.7,185.5h.8M269.2,176.4h.8M256.0,182.9h.8M260.9,181.8h.8M264.9,191.7h.8M269.8,171.0h.8M265.4,193.1h.8M260.5,179.8h.8M270.0,188.1h.8M266.4,162.3h.8M256.6,178.0h.8M265.6,201.0h.8M258.8,186.9h.8M267.7,158.8h.8M259.0,177.2h.8M260.8,174.0h.8M266.1,167.4h.8M266.1,169.1h.8M260.5,180.9h.8M260.3,178.4h.8M272.3,175.8h.8M262.7,182.9h.8M261.5,186.3h.8M256.4,181.7h.8M260.7,167.5h.8M273.2,167.0h.8M273.2,182.1h.8M271.5,165.7h.8M270.1,190.1h.8M262.9,174.2h.8M277.0,177.3h.8M261.2,169.2h.8M266.0,178.8h.8M264.5,192.7h.8M261.7,180.2h.8M271.5,165.5h.8M269.2,193.8h.8M256.0,164.5h.8M257.8,157.0h.8M266.0,156.9h.8M266.2,190.0h.8M254.6,172.3h.8M259.4,172.8h.8M263.8,181.0h.8M261.6,175.7h.8M260.5,176.6h.8M257.1,176.1h.8M274.0,176.3h.8M256.6,178.1h.8M258.2,159.0h.8M259.4,182.9h.8M265.6,174.5h.8M258.4,164.7h.8M270.9,177.9h.8M258.3,154.4h.8M256.0,200.3h.8M257.2,174.7h.8M264.7,173.9h.8M262.0,161.8h.8M257.7,192.4h.8M259.3,184.0h.8M254.2,172.8h.8M264.9,185.9h.8M257.3,181.5h.8M265.6,168.1h.8M266.1,166.5h.8M259.1,175.3h.8M258.0,160.9h.8M261.2,183.1h.8M261.3,188.2h.8M257.1,162.4h.8M272.0,179.5h.8M268.7,167.2h.8M267.9,178.1h.8M267.1,175.8h.8M270.1,169.0h.8M258.2,160.7h.8M269.9,168.1h.8M257.8,166.1h.8M261.1,162.8h.8M261.9,169.2h.8M260.5,165.9h.8M263.7,170.9h.8M264.1,178.0h.8M265.4,153.6h.8M260.6,167.5h.8M267.8,159.7h.8M259.6,172.6h.8M261.7,185.4h.8M261.1,185.1h.8M255.4,157.4h.8M270.2,179.9h.8M266.2,176.7h.8M266.2,163.3h.8M268.7,170.2h.8M268.9,176.4h.8M269.7,174.1h.8M261.3,177.9h.8M261.2,170.1h.8M264.1,176.9h.8M271.8,176.0h.8M273.8,193.5h.8M272.9,186.1h.8M264.2,176.9h.8M262.7,168.2h.8M263.1,169.1h.8M272.5,180.8h.8M261.0,156.3h.8M263.2,171.3h.8M257.5,164.1h.8M263.1,201.3h.8M263.3,174.0h.8M271.4,176.8h.8M264.4,171.8h.8M260.2,190.5h.8M269.0,192.7h.8M261.6,175.8h.8M258.7,185.2h.8M255.8,181.1h.8M269.5,189.6h.8M258.3,186.4h.8M259.6,167.9h.8M256.2,187.1h.8M272.6,169.6h.8M259.3,172.1h.8M277.3,185.5h.8M260.5,157.6h.8M259.8,187.4h.8M273.8,172.8h.8M259.7,170.4h.8M257.5,186.1h.8M254.1,162.8h.8M265.1,167.9h.8M267.8,175.6h.8M257.0,181.7h.8M268.1,156.4h.8M273.5,180.5h.8M267.7,156.9h.8M259.5,172.0h.8M269.4,160.9h.8M258.6,155.2h.8M262.2,179.0h.8M254.2,169.6h.8M266.3,191.4h.8M267.2,172.5h.8M257.0,166.1h.8M259.8,177.0h.8M263.2,192.2h.8M265.1,164.8h.8M272.0,185.0h.8M264.1,168.3h.8M268.5,167.5h.8M256.2,177.5h.8M264.8,181.6h.8M267.1,189.6h.8M258.9,185.3h.8M258.1,182.4h.8M264.5,177.9h.8M268.8,175.3h.8M269.6,184.3h.8M264.2,169.8h.8M259.4,170.2h.8M262.4,175.3h.8M279.9,181.9h.8M267.7,166.9h.8M259.6,172.3h.8M264.6,165.1h.8M272.4,169.9h.8M269.4,152.1h.8M263.5,178.3h.8M264.6,181.5h.8M265.0,177.1h.8M265.2,173.5h.8M259.0,169.7h.8M273.7,192.8h.8M263.2,188.4h.8M254.8,156.1h.8M260.8,166.8h.8M260.4,177.4h.8M280.1,168.9h.8M263.8,178.3h.8M263.3,184.8h.8M273.3,163.1h.8M264.4,172.9h.8M265.5,160.2h.8M266.4,177.4h.8M263.9,151.8h.8M261.4,167.9h.8M255.7,166.3h.8M267.3,180.9h.8M263.4,180.6h.8M260.2,176.2h.8M263.7,181.0h.8M263.1,174.1h.8M262.8,169.1h.8M275.8,180.6h.8M265.9,198.4h.8M271.2,159.9h.8M267.3,183.9h.8M273.9,188.7h.8M267.7,163.7h.8M258.7,178.2h.8M266.3,165.3h.8M261.4,171.5h.8M263.8,178.9h.8M261.9,163.1h.8M270.3,191.5h.8M262.9,185.7h.8M265.9,182.1h.8M266.1,167.9h.8M266.7,185.6h.8M258.6,195.2h.8M275.0,193.7h.8M274.4,182.9h.8M261.6,169.5h.8M259.0,176.7h.8M263.3,182.2h.8M276.0,175.2h.8M267.2,180.3h.8M265.0,173.4h.8M262.8,167.3h.8M264.5,175.3h.8M265.3,166.9h.8M263.7,176.0h.8M266.8,164.9h.8M265.8,185.3h.8M266.8,171.8h.8M260.8,173.1h.8M267.5,191.0h.8M262.6,169.1h.8M265.6,177.5h.8M258.5,168.1h.8M262.9,182.2h.8M256.9,165.3h.8M266.2,163.3h.8M264.1,179.0h.8M262.9,165.3h.8M263.2,172.2h.8M265.3,167.1h.8M269.5,158.7h.8M262.5,175.6h.8M268.8,169.4h.8M266.5,169.8h.8M267.6,192.9h.8M261.3,179.9h.8M258.4,185.2h.8M270.2,175.9h.8M257.3,179.5h.8M269.8,186.4h.8M268.0,157.2h.8M259.8,189.7h.8M256.8,186.8h.8M273.9,183.1h.8M269.7,172.2h.8M256.8,174.5h.8M262.4,175.0h.8M267.3,174.1h.8M264.6,179.7h.8M263.5,193.9h.8M265.9,176.3h.8M262.4,169.2h.8M270.9,177.0h.8M257.6,169.9h.8M262.7,171.0h.8M269.5,163.9h.8M266.2,176.9h.8M257.0,176.0h.8M263.0,180.5h.8M261.0,178.5h.8M254.3,164.7h.8M267.8,185.9h.8M263.4,169.5h.8M269.5,154.6h.8M259.1,182.2h.8M267.1,165.2h.8M264.3,166.5h.8M263.8,184.5h.8M267.6,154.7h.8M267.7,157.7h.8M269.8,179.5h.8M275.9,169.4h.8M263.5,186.0h.8M260.0,168.5h.8M261.5,174.8h.8M257.5,180.3h.8M266.5,176.2h.8M272.9,172.2h.8M270.7,170.0h.8M267.7,156.2h.8M264.6,173.7h.8M260.8,169.4h.8M261.6,168.3h.8M260.5,170.3h.8M257.7,174.1h.8M267.8,173.0h.8M260.8,189.1h.8M268.9,184.7h.8M269.9,172.2h.8M262.8,186.6h.8M260.5,174.3h.8M265.6,179.2h.8M262.0,185.3h.8M262.5,182.8h.8M269.4,182.1h.8M267.5,163.9h.8M256.3,169.3h.8M266.1,190.5h.8M256.8,178.6h.8M258.8,168.2h.8M262.0,182.4h.8M264.7,187.3h.8M258.1,184.4h.8M268.6,176.2h.8M266.1,169.9h.8M257.5,171.4h.8M260.8,192.0h.8M264.6,178.6h.8M267.6,167.7h.8M268.5,179.3h.8M255.2,181.5h.8M266.5,180.0h.8M272.2,171.4h.8M266.3,183.0h.8M258.5,187.5h.8M255.5,162.5h.8M266.4,164.6h.8M262.9,159.1h.8M263.9,164.2h.8M265.4,160.2h.8M266.0,172.8h.8M263.9,174.8h.8M264.2,162.3h.8M258.4,171.0h.8M265.8,155.6h.8M259.3,169.4h.8M257.7,178.8h.8M262.7,167.3h.8M258.1,183.6h.8M259.9,181.4h.8M266.0,156.6h.8M257.5,175.5h.8M265.4,183.3h.8M267.9,185.8h.8M261.4,173.4h.8M267.8,171.2h.8M269.3,159.6h.8M267.1,173.8h.8M265.2,175.7h.8M257.6,170.8h.8M271.8,167.2h.8M256.9,174.2h.8M261.3,166.4h.8M258.9,186.0h.8M255.6,195.1h.8M260.5,164.6h.8M267.8,181.1h.8M257.8,183.0h.8M269.7,172.9h.8M256.3,180.6h.8M268.5,175.3h.8M265.8,183.2h.8M273.7,173.0h.8M260.8,175.1h.8M270.1,166.1h.8M267.9,168.7h.8M266.0,182.4h.8M257.0,174.6h.8M264.8,181.4h.8M258.4,165.6h.8M262.4,173.3h.8M255.3,184.8h.8M260.6,189.9h.8M268.2,175.7h.8M267.5,164.4h.8M261.7,169.7h.8M256.5,175.7h.8M262.7,189.9h.8M258.4,170.9h.8M265.8,179.5h.8M263.7,170.8h.8M266.2,179.1h.8M255.9,163.7h.8M264.3,176.1h.8M264.1,166.7h.8M262.4,166.4h.8M265.6,182.4h.8M273.2,188.2h.8M259.1,170.9h.8M258.3,178.6h.8M274.4,182.6h.8M256.4,180.7h.8M263.5,178.5h.8M273.3,167.2h.8M258.8,195.2h.8M265.4,167.7h.8M263.7,185.4h.8M262.7,168.6h.8M259.4,194.5h.8M263.6,181.7h.8M261.3,180.5h.8M268.0,174.0h.8M261.0,173.6h.8M258.2,173.4h.8M261.8,177.6h.8M270.8,188.6h.8M261.1,181.5h.8M265.1,183.1h.8M263.6,178.2h.8M260.9,167.7h.8M268.3,188.5h.8M267.1,179.9h.8M265.0,171.0h.8M264.6,170.0h.8M258.2,188.3h.8M267.0,199.2h.8M259.6,175.3h.8M260.7,177.1h.8M262.3,168.0h.8M269.4,167.7h.8M260.7,181.0h.8M260.5,171.2h.8M265.5,171.8h.8M256.6,174.5h.8M274.7,200.5h.8M269.4,191.6h.8M271.3,175.7h.8M274.0,183.2h.8M281.2,201.0h.8M272.2,196.0h.8M282.0,189.8h.8M271.4,190.8h.8M275.4,184.2h.8M274.4,188.0h.8M282.7,193.6h.8M274.8,191.9h.8M284.7,168.8h.8M284.8,164.0h.8M279.3,187.1h.8M284.9,183.3h.8M273.1,170.4h.8M268.5,189.2h.8M274.6,171.4h.8M279.2,170.8h.8M273.4,174.5h.8M285.9,197.6h.8M275.1,161.1h.8M277.7,180.9h.8M278.1,186.8h.8M274.1,191.1h.8M281.0,182.5h.8M273.6,174.2h.8M280.2,166.8h.8M275.0,171.0h.8M275.8,180.4h.8M281.2,162.1h.8M275.6,183.5h.8M281.0,167.0h.8M280.3,182.6h.8M284.1,193.7h.8M276.0,174.9h.8M274.0,168.7h.8M275.8,157.5h.8M275.5,185.1h.8M281.9,175.8h.8M284.3,172.2h.8M275.2,157.5h.8M271.4,170.5h.8M284.8,186.2h.8M269.5,186.3h.8M278.8,177.3h.8M276.1,176.4h.8M272.8,159.2h.8M275.5,195.1h.8M284.4,176.7h.8M271.6,177.5h.8M281.3,184.1h.8M272.6,184.2h.8M274.8,186.0h.8M273.6,162.8h.8M276.3,188.9h.8M269.5,178.7h.8M281.1,175.6h.8M272.2,203.8h.8M280.9,192.0h.8M270.5,199.1h.8M280.3,195.5h.8M270.6,172.2h.8M277.1,157.5h.8M279.7,186.5h.8M273.4,186.3h.8M280.5,183.6h.8M279.0,197.6h.8M273.2,181.9h.8M273.0,192.0h.8M273.6,185.5h.8M276.8,180.8h.8M286.0,179.0h.8M284.2,189.6h.8M283.7,178.1h.8M281.4,188.8h.8M272.4,183.1h.8M275.3,179.6h.8M283.6,171.6h.8M273.4,172.5h.8M276.1,186.6h.8M286.2,183.6h.8M278.7,171.5h.8M279.4,195.7h.8M283.8,157.4h.8M281.2,198.3h.8M280.8,162.7h.8M274.2,186.8h.8M278.4,170.6h.8M270.9,191.2h.8M268.3,196.6h.8M276.1,183.5h.8M268.3,173.1h.8M280.0,163.0h.8M288.0,163.8h.8M268.9,180.5h.8M278.8,188.5h.8M273.9,177.6h.8M274.6,173.4h.8M277.4,181.8h.8M272.4,182.9h.8M275.9,179.1h.8M282.4,160.1h.8M277.5,167.7h.8M274.2,197.3h.8M269.8,178.8h.8M272.6,190.9h.8M270.4,160.6h.8M279.0,175.9h.8M274.2,192.5h.8M270.9,175.7h.8M276.9,184.8h.8M273.0,191.9h.8M288.9,175.3h.8M317.3,211.7h.8M321.4,207.2h.8M315.1,200.3h.8M309.4,207.1h.8M293.5,206.6h.8M321.0,205.5h.8M308.2,203.2h.8M295.4,210.6h.8M282.2,201.9h.8M309.5,205.1h.8M284.6,207.8h.8M296.6,206.8h.8M298.5,206.1h.8M304.7,204.5h.8M285.8,201.8h.8M318.4,206.4h.8M285.7,210.3h.8M291.6,200.7h.8M303.3,202.6h.8M301.5,206.4h.8M290.5,206.7h.8M285.7,205.9h.8M305.7,200.5h.8M298.1,200.4h.8M299.5,210.3h.8M304.1,208.4h.8M312.8,200.9h.8M322.6,208.5h.8M285.3,209.9h.8M297.5,201.6h.8M321.3,206.5h.8M313.5,201.2h.8M313.6,200.2h.8M290.9,204.2h.8M281.6,206.9h.8M290.0,203.2h.8M310.7,204.8h.8M318.3,207.3h.8M317.6,206.5h.8M319.5,210.4h.8M288.1,208.8h.8M295.3,209.0h.8M309.6,209.8h.8M286.2,204.2h.8M312.0,211.4h.8M311.3,200.0h.8M306.4,200.7h.8M304.1,209.5h.8M285.7,211.1h.8M309.4,202.7h.8M289.1,205.1h.8M316.2,206.8h.8M285.8,199.8h.8M285.6,209.5h.8M288.8,206.4h.8M293.2,208.1h.8M297.0,201.3h.8M317.8,206.2h.8M310.0,209.6h.8M320.8,199.7h.8M295.4,201.4h.8M302.1,210.4h.8M314.6,199.9h.8M288.7,209.7h.8M309.5,204.4h.8M301.0,201.5h.8M316.5,204.4h.8M317.7,207.1h.8M284.2,203.6h.8M290.1,210.7h.8M305.7,200.0h.8M288.1,204.0h.8M300.6,206.7h.8M297.3,203.9h.8M281.3,206.7h.8M295.0,199.8h.8M300.3,211.8h.8M282.9,201.3h.8M309.2,202.9h.8M292.5,205.8h.8M292.0,206.6h.8M303.2,211.5h.8M322.7,199.9h.8M304.5,209.1h.8M317.6,209.2h.8M307.6,207.4h.8M296.2,203.0h.8M314.4,210.4h.8M320.4,208.0h.8M293.8,209.0h.8M312.1,205.9h.8M307.7,203.9h.8M304.1,204.6h.8M283.5,203.7h.8M294.6,211.9h.8M301.2,204.1h.8M291.2,202.4h.8M295.7,201.2h.8M281.3,210.4h.8M300.0,205.1h.8M304.9,203.3h.8M288.1,200.3h.8M293.7,203.4h.8M311.5,206.4h.8M320.4,203.8h.8M319.7,206.8h.8M284.4,201.7h.8M305.4,211.8h.8M296.0,209.2h.8M299.0,210.4h.8M283.8,205.6h.8M318.8,202.9h.8M291.8,199.8h.8M287.9,202.9h.8M310.6,202.2h.8M297.8,202.0h.8M306.3,210.3h.8M308.2,202.0h.8M311.8,211.5h.8M306.2,200.5h.8M315.0,210.4h.8M295.3,201.2h.8M288.9,206.2h.8M317.8,207.5h.8M319.8,202.2h.8M294.7,208.9h.8M308.3,204.6h.8M309.5,203.7h.8M283.4,204.7h.8M282.9,207.3h.8M295.0,205.7h.8M306.1,202.7h.8M300.5,199.7h.8M319.9,206.6h.8M322.5,200.2h.8M306.8,208.6h.8M294.8,200.7h.8M287.6,201.3h.8M313.2,200.6h.8M315.2,204.8h.8M303.6,206.9h.8M304.3,207.7h.8M306.3,203.6h.8M312.1,202.7h.8M310.9,209.0h.8M313.6,203.4h.8M313.4,211.7h.8M300.0,203.0h.8M303.0,211.3h.8M286.5,199.6h.8M301.0,207.7h.8M313.5,204.0h.8M322.6,202.4h.8M312.8,200.6h.8M282.2,201.2h.8M283.5,205.8h.8M304.3,201.8h.8M320.5,204.1h.8M287.3,201.7h.8M312.0,211.0h.8M287.8,199.9h.8M313.7,202.5h.8M322.3,205.7h.8M307.7,203.8h.8M314.6,205.3h.8M294.6,210.8h.8M285.5,208.7h.8M283.7,207.6h.8M297.9,210.3h.8M283.5,206.6h.8M298.2,211.0h.8M320.7,207.3h.8M290.4,202.6h.8M292.0,204.9h.8M290.7,202.0h.8M312.9,207.5h.8M293.5,211.9h.8M290.1,206.6h.8M287.6,210.3h.8M317.5,202.8h.8M312.6,209.8h.8M292.9,203.6h.8M301.4,210.6h.8M287.8,208.0h.8M306.1,205.2h.8M305.3,210.5h.8M289.8,210.5h.8M296.1,209.2h.8M317.3,201.8h.8M317.3,211.9h.8M293.5,199.8h.8M285.7,211.7h.8M281.4,210.9h.8M287.3,208.7h.8M285.1,201.6h.8M309.7,200.6h.8M295.3,211.0h.8M311.1,210.5h.8M322.1,199.9h.8M290.9,209.4h.8M310.0,200.0h.8M302.2,202.4h.8M299.1,200.8h.8M281.8,211.9h.8M294.3,210.5h.8M286.1,205.6h.8M286.7,204.9h.8M288.5,208.1h.8M287.2,208.7h.8M302.0,200.9h.8M295.9,205.7h.8M319.6,203.9h.8M290.0,211.6h.8M318.1,208.6h.8M292.5,201.7h.8M292.1,200.4h.8M282.8,205.9h.8M298.1,206.5h.8M296.2,199.6h.8M309.9,207.7h.8M303.8,206.4h.8M310.0,211.8h.8M317.7,208.5h.8M297.8,203.5h.8M298.6,211.7h.8M297.3,204.3h.8M298.2,201.3h.8M322.9,199.6h.8M306.5,211.1h.8M291.7,207.1h.8M296.8,202.5h.8M289.3,201.0h.8M316.4,209.3h.8M319.2,200.1h.8M310.2,203.6h.8M308.1,206.4h.8M294.3,211.6h.8M281.0,208.8h.8M316.8,205.9h.8M305.9,211.9h.8M290.8,207.4h.8M312.2,204.2h.8M310.9,204.4h.8M303.1,207.2h.8M309.4,203.5h.8M307.4,206.3h.8M290.4,207.2h.8M292.1,210.9h.8M300.9,208.5h.8M302.9,205.5h.8M290.3,201.3h.8M319.9,206.1h.8M303.0,206.1h.8M315.2,202.5h.8M288.2,209.8h.8M300.3,207.5h.8M315.8,210.7h.8M317.4,200.0h.8M297.0,209.9h.8M315.3,201.0h.8M287.5,202.6h.8M285.3,204.0h.8M314.7,206.0h.8M300.0,200.6h.8M297.6,212.0h.8M310.2,205.1h.8M301.1,209.5h.8M312.9,201.4h.8M309.6,204.1h.8M302.9,202.5h.8M296.6,203.8h.8M297.0,199.7h.8M289.4,206.6h.8M283.4,201.7h.8M311.2,202.9h.8M294.6,202.5h.8M316.0,200.6h.8M307.7,210.2h.8M289.5,204.8h.8M314.3,207.2h.8M296.6,200.0h.8M299.6,204.1h.8M310.9,203.2h.8M298.1,207.6h.8M315.1,203.9h.8M297.2,206.7h.8M319.8,201.9h.8M321.8,208.4h.8M296.6,207.8h.8M294.8,200.4h.8M312.8,204.2h.8M303.1,205.7h.8M318.9,209.0h.8M282.1,206.9h.8M300.4,205.3h.8M316.3,204.7h.8M300.9,210.6h.8M299.5,205.6h.8M302.5,209.8h.8M309.2,208.8h.8M297.9,200.0h.8M309.6,206.4h.8M313.3,209.1h.8M286.0,202.3h.8M284.2,209.7h.8M285.3,200.6h.8M312.6,206.6h.8M283.3,208.0h.8M310.9,205.5h.8M283.3,208.1h.8M298.6,206.8h.8M322.9,209.7h.8M317.6,201.3h.8M295.0,206.0h.8M281.3,211.9h.8M292.5,202.8h.8M294.1,202.7h.8M317.1,206.4h.8M302.5,204.8h.8M283.1,203.3h.8M317.4,209.5h.8M317.0,202.7h.8M289.5,200.2h.8M303.5,204.2h.8M300.5,205.6h.8M305.5,204.1h.8M314.7,202.0h.8M319.6,206.5h.8M283.1,203.4h.8M303.4,204.6h.8M304.7,203.5h.8M292.5,209.5h.8M293.2,208.4h.8M314.7,206.9h.8M300.1,211.2h.8M299.7,210.5h.8M283.4,204.9h.8M307.8,200.1h.8M317.2,200.4h.8M306.0,201.8h.8M319.7,206.5h.8M314.6,205.7h.8M309.3,207.9h.8M293.4,202.1h.8M316.2,201.3h.8M319.6,202.1h.8M285.2,200.7h.8M313.9,211.4h.8M298.4,207.7h.8M291.8,210.8h.8M309.8,201.4h.8M283.4,208.2h.8M282.8,210.0h.8M293.3,202.4h.8M305.4,203.5h.8M304.5,201.4h.8M319.3,203.6h.8M316.3,201.4h.8M314.6,211.8h.8M297.4,199.9h.8M297.0,207.5h.8M290.4,206.3h.8M284.9,205.3h.8M311.6,204.9h.8M309.5,200.9h.8M315.8,201.0h.8M319.8,212.0h.8M320.5,206.1h.8M293.2,203.8h.8M312.5,205.7h.8M320.1,200.7h.8M301.4,210.3h.8M306.1,206.3h.8M284.7,201.2h.8M292.4,210.7h.8M316.5,202.3h.8M319.8,199.9h.8M306.1,211.6h.8M295.5,211.3h.8M308.6,200.1h.8M295.0,205.1h.8M291.4,208.8h.8M288.5,209.3h.8M293.5,200.4h.8M304.5,200.7h.8M304.2,209.3h.8M306.0,205.3h.8M282.4,205.9h.8M285.1,207.6h.8M286.5,206.7h.8M295.8,204.2h.8M308.9,201.5h.8M288.1,211.3h.8M294.9,210.0h.8M317.7,205.5h.8M287.3,200.7h.8M317.9,201.0h.8M301.8,206.2h.8M285.9,205.3h.8M287.9,206.2h.8M302.3,204.1h.8M289.3,204.5h.8M289.5,201.1h.8M291.1,210.4h.8M302.1,210.6h.8M281.6,211.3h.8M301.5,209.4h.8M305.0,208.1h.8M290.6,208.9h.8M287.5,202.8h.8M282.3,204.4h.8M302.8,203.1h.8M318.4,200.6h.8M305.3,202.4h.8M306.0,209.3h.8M310.9,200.3h.8M291.3,207.0h.8M322.3,200.0h.8M307.0,208.1h.8M315.2,203.8h.8M315.0,205.3h.8M319.7,199.6h.8M320.5,204.6h.8M298.1,200.6h.8M291.3,208.7h.8M309.5,201.4h.8M295.5,201.3h.8M289.3,202.2h.8M294.9,211.7h.8M322.9,209.4h.8M301.1,205.7h.8M313.7,210.9h.8M312.6,207.5h.8M289.4,207.3h.8M316.5,209.3h.8M284.9,208.5h.8M295.7,201.5h.8M321.6,207.9h.8M312.3,201.2h.8M315.8,211.2h.8M319.0,208.8h.8M316.0,209.5h.8M305.8,204.9h.8M315.7,209.3h.8M317.6,203.2h.8M321.4,206.1h.8M320.7,200.9h.8M321.7,209.3h.8M291.6,210.0h.8M290.7,202.0h.8M293.2,206.1h.8M294.2,200.7h.8M286.0,209.1h.8M305.5,200.7h.8M320.2,203.3h.8M297.1,206.3h.8M289.0,200.4h.8M293.1,209.3h.8M311.1,200.5h.8M313.7,205.6h.8M306.3,205.7h.8M305.4,202.3h.8M291.4,203.3h.8M297.1,207.5h.8M288.1,210.6h.8M294.3,203.6h.8M308.4,206.9h.8M297.4,202.1h.8M290.4,200.4h.8M313.1,208.9h.8M320.8,207.1h.8M304.5,207.9h.8M311.1,204.7h.8M304.7,212.3h.8M283.1,201.0h.8M290.8,207.9h.8M313.6,204.4h.8M308.1,205.3h.8M304.2,203.8h.8M300.7,205.5h.8M313.0,212.6h.8M281.8,207.2h.8M300.9,208.6h.8M312.2,208.0h.8M309.6,202.5h.8M282.9,210.8h.8M313.8,202.5h.8M314.7,207.6h.8M290.5,209.2h.8M293.8,203.1h.8M284.6,204.8h.8M311.8,203.4h.8M281.3,212.3h.8M320.6,207.7h.8M295.3,201.6h.8M283.6,207.3h.8M314.8,202.1h.8M301.0,204.6h.8M298.3,207.1h.8M323.2,203.5h.8M310.0,209.0h.8M298.0,205.0h.8M286.8,208.9h.8M295.4,203.4h.8M301.7,202.8h.8M289.9,204.6h.8M316.8,204.8h.8M306.6,200.8h.8M280.3,211.3h.8M296.8,200.6h.8M299.9,207.4h.8M282.7,202.7h.8M303.8,202.6h.8M309.5,208.6h.8M305.7,204.1h.8M300.5,203.5h.8M299.6,206.5h.8M297.8,208.6h.8M304.6,208.1h.8M307.8,204.7h.8M295.9,208.7h.8M307.6,207.1h.8M292.5,207.5h.8M309.4,204.9h.8M307.9,212.4h.8M281.1,207.4h.8M288.6,201.2h.8M298.5,207.2h.8M301.6,201.8h.8M285.7,203.7h.8M301.1,202.9h.8M285.0,211.1h.8M292.1,205.0h.8M295.2,203.6h.8M301.4,204.5h.8M307.6,201.7h.8M285.2,211.7h.8M300.2,208.0h.8M313.6,207.3h.8M301.4,200.5h.8M284.0,208.6h.8M308.2,207.3h.8M283.3,198.7h.8M289.7,201.7h.8M302.7,202.2h.8M317.9,203.5h.8M295.0,208.3h.8M304.5,202.6h.8M309.8,211.6h.8M287.9,204.7h.8M289.5,199.3h.8M307.7,207.7h.8M311.4,206.9h.8M279.5,205.4h.8M293.9,201.7h.8M289.2,208.0h.8M297.8,211.8h.8M306.0,199.4h.8M310.6,209.5h.8M301.3,201.6h.8M319.9,201.3h.8M300.1,199.4h.8M287.6,200.0h.8M312.7,209.3h.8M296.7,201.1h.8M300.4,206.7h.8M284.7,201.8h.8M299.9,207.8h.8M301.8,206.9h.8M304.3,202.5h.8M299.7,204.3h.8M306.2,203.0h.8M316.5,205.6h.8M306.7,207.5h.8M312.1,206.8h.8M282.2,203.5h.8M321.0,207.0h.8M307.0,207.0h.8M294.1,203.3h.8M294.0,209.2h.8M304.9,211.2h.8M306.4,211.6h.8M305.9,201.7h.8M319.7,206.6h.8M313.8,206.2h.8M297.5,206.0h.8M288.9,201.6h.8M291.4,203.8h.8M286.4,205.2h.8M304.3,212.1h.8M320.9,205.3h.8M310.5,204.8h.8M305.2,205.4h.8M295.2,205.7h.8M285.0,206.9h.8M297.9,202.0h.8M297.1,207.3h.8M293.7,207.0h.8M307.2,210.6h.8M289.2,205.1h.8M306.5,210.4h.8M303.8,207.9h.8M285.1,203.6h.8M319.0,204.6h.8M324.4,203.1h.8M298.0,200.3h.8M307.9,206.4h.8M322.9,206.0h.8M298.3,200.9h.8M300.1,208.6h.8M309.0,209.5h.8M310.4,205.3h.8M307.6,206.1h.8M286.5,211.1h.8M305.1,202.1h.8M305.2,206.4h.8M311.8,210.2h.8M317.6,202.4h.8M280.8,206.4h.8M304.7,206.6h.8M288.9,204.0h.8M303.1,207.9h.8M324.9,206.5h.8M294.4,197.8h.8M312.7,205.1h.8M299.8,202.3h.8M309.0,199.6h.8M302.2,205.9h.8M304.3,209.8h.8M299.9,205.8h.8M310.3,200.4h.8M297.8,205.7h.8M311.4,202.9h.8M309.8,206.8h.8M284.8,200.7h.8M285.4,206.0h.8M303.3,207.9h.8M310.0,203.7h.8M312.7,208.2h.8M306.2,207.1h.8M286.9,206.7h.8M289.7,201.6h.8M297.2,206.0h.8M300.4,204.4h.8M290.1,206.1h.8M292.9,200.9h.8M302.0,210.3h.8M296.6,202.0h.8M316.1,211.1h.8M297.8,204.8h.8M302.5,208.8h.8M305.9,199.5h.8M288.9,201.5h.8M305.7,205.8h.8M320.6,204.6h.8M304.4,205.7h.8M302.5,213.1h.8M304.1,210.3h.8M315.2,203.5h.8M308.5,204.2h.8M302.2,206.0h.8M301.2,204.0h.8M318.1,204.6h.8M308.7,211.0h.8M307.9,208.9h.8M316.2,209.1h.8M319.8,200.8h.8M322.5,205.6h.8M281.8,203.4h.8M285.7,205.4h.8M284.7,202.2h.8M304.2,206.0h.8M292.2,204.7h.8M299.9,205.7h.8M300.9,204.8h.8M310.6,200.2h.8M295.6,205.9h.8M296.6,203.7h.8M296.2,206.2h.8M314.7,204.9h.8M298.1,206.7h.8M298.3,199.1h.8M303.9,204.3h.8M294.7,207.6h.8M301.5,203.6h.8M301.2,205.1h.8M305.8,206.2h.8M295.7,201.3h.8M289.0,205.0h.8M288.4,208.0h.8M286.4,199.6h.8M298.9,199.6h.8M318.9,202.2h.8M300.4,204.7h.8M292.0,199.7h.8M280.5,208.4h.8M312.2,212.6h.8M284.9,207.3h.8M300.8,208.3h.8M295.3,207.9h.8M310.9,207.5h.8M316.9,204.9h.8M318.0,203.2h.8M301.1,202.9h.8M301.0,208.9h.8M308.9,205.8h.8M319.7,200.6h.8M292.0,210.5h.8M304.6,198.7h.8M304.7,201.6h.8M317.3,209.3h.8M295.0,209.8h.8M291.8,208.5h.8M307.4,205.1h.8M285.4,204.6h.8M280.6,209.5h.8M307.4,206.7h.8M295.4,212.5h.8M309.5,205.7h.8M306.3,208.7h.8M294.5,200.8h.8M300.5,200.0h.8M301.1,208.0h.8M317.6,206.4h.8M303.2,208.0h.8M316.4,204.4h.8M287.5,202.9h.8M287.2,202.6h.8M299.7,206.6h.8M302.7,205.7h.8M297.1,206.9h.8M310.7,208.0h.8M317.5,204.5h.8M298.2,211.1h.8M303.2,206.9h.8M297.3,208.7h.8M296.6,202.2h.8M300.3,204.0h.8M310.2,204.3h.8M302.4,204.8h.8M304.7,203.4h.8M313.2,200.8h.8M296.8,203.2h.8M308.1,205.6h.8M306.3,204.4h.8M293.1,201.8h.8M297.3,203.7h.8M304.1,206.7h.8M311.7,205.1h.8M292.8,202.0h.8M301.7,206.7h.8M322.4,206.1h.8M320.3,211.7h.8M289.5,209.5h.8M313.5,209.9h.8M300.9,208.7h.8M295.7,205.3h.8M301.2,211.4h.8M298.6,208.7h.8M301.7,203.2h.8M303.7,207.7h.8M293.2,207.6h.8M293.2,202.6h.8M303.4,204.7h.8M290.2,200.1h.8M301.3,206.3h.8M295.9,206.1h.8M284.2,206.8h.8M305.6,206.4h.8M294.3,205.8h.8M302.4,209.0h.8M304.0,206.3h.8M293.0,208.3h.8M313.9,203.9h.8M308.0,206.5h.8M300.5,201.3h.8M320.3,199.3h.8M304.3,204.3h.8M313.6,204.1h.8M301.4,207.5h.8M306.0,203.8h.8M308.5,206.8h.8M311.9,203.8h.8M300.5,204.2h.8M291.8,206.3h.8M305.5,210.2h.8M297.4,206.8h.8M313.5,205.1h.8M301.7,205.9h.8M293.4,202.2h.8M313.3,206.1h.8M300.2,201.4h.8M302.3,209.4h.8M288.4,202.6h.8M313.2,210.2h.8M318.0,203.7h.8M307.6,203.0h.8M306.7,204.3h.8M303.1,209.9h.8M304.7,204.7h.8M301.6,206.4h.8M295.4,206.2h.8M307.6,210.6h.8M287.5,208.4h.8M302.3,209.2h.8M295.4,203.9h.8M304.7,203.6h.8M313.1,205.5h.8M305.2,213.8h.8M296.1,208.5h.8M292.0,209.6h.8M311.5,206.0h.8M311.8,210.8h.8M316.0,205.5h.8M300.4,209.1h.8M284.9,203.5h.8M306.3,207.4h.8M321.3,211.3h.8M304.5,206.9h.8M286.6,204.9h.8M303.8,204.8h.8M301.7,207.5h.8M290.6,203.6h.8M281.6,209.2h.8M289.5,199.9h.8M309.4,204.8h.8M311.5,204.3h.8M324.1,207.8h.8M302.6,205.9h.8M298.8,208.1h.8M322.8,204.1h.8M289.2,207.4h.8M312.6,200.6h.8M293.5,202.2h.8M307.1,207.1h.8M293.0,201.8h.8M308.4,198.8h.8M308.0,205.0h.8M321.9,208.7h.8M294.7,204.6h.8M298.0,203.1h.8M301.9,208.6h.8M284.6,204.8h.8M317.2,207.9h.8M292.2,202.9h.8M291.7,200.3h.8M313.5,205.7h.8M293.4,200.8h.8M296.8,203.8h.8M319.7,204.0h.8M302.3,209.0h.8M308.2,204.9h.8M307.5,204.1h.8M300.0,202.4h.8M291.3,200.7h.8M306.4,207.2h.8M302.9,208.0h.8M306.8,205.9h.8M291.4,207.4h.8M313.8,207.5h.8M314.5,204.0h.8M290.4,209.6h.8M294.7,206.3h.8M298.9,205.6h.8M298.1,203.8h.8M281.7,211.7h.8M303.2,199.3h.8M291.2,201.9h.8M307.2,210.8h.8M298.3,207.9h.8M307.5,201.5h.8M314.1,200.0h.8M294.8,204.3h.8M314.5,205.9h.8M299.7,202.9h.8M302.0,205.6h.8M308.9,210.0h.8M308.9,205.6h.8M299.4,210.7h.8M303.2,205.4h.8M320.4,210.6h.8M307.1,205.1h.8M294.2,208.9h.8M296.1,208.6h.8M292.6,205.8h.8M305.3,206.0h.8M303.5,206.7h.8M288.9,201.9h.8M299.4,211.3h.8M299.7,202.5h.8M293.9,205.6h.8M313.7,203.7h.8M307.0,206.1h.8M297.2,202.5h.8M299.4,203.2h.8M306.8,199.8h.8M313.1,207.9h.8M307.2,210.3h.8M307.5,200.0h.8M301.6,207.0h.8M293.7,201.9h.8M305.7,207.1h.8M296.4,204.7h.8M295.6,203.7h.8M300.4,209.0h.8M283.7,204.4h.8M318.3,206.5h.8M302.7,208.2h.8M290.2,201.6h.8M283.2,200.8h.8M303.7,208.2h.8M296.5,203.3h.8M305.3,207.5h.8M303.8,199.4h.8M303.6,202.8h.8M294.0,210.3h.8M315.2,207.0h.8M304.0,206.1h.8M294.7,205.3h.8M321.5,202.7h.8M293.9,206.0h.8M310.6,208.2h.8M290.6,205.1h.8M298.2,201.5h.8M301.8,204.0h.8M310.8,206.9h.8M292.7,205.8h.8M297.2,203.5h.8M295.8,208.9h.8M296.6,200.0h.8M292.7,208.1h.8M324.0,202.1h.8M297.2,204.4h.8M285.9,206.8h.8M300.5,206.4h.8M325.0,204.6h.8M309.5,208.2h.8M294.2,203.6h.8M317.7,207.8h.8M302.5,202.0h.8M310.4,207.2h.8M324.5,210.2h.8M309.6,206.4h.8M301.7,203.7h.8M304.3,206.3h.8M308.0,209.0h.8M304.3,203.8h.8M309.6,210.5h.8M292.1,206.8h.8M306.9,207.2h.8M306.4,205.2h.8M299.9,210.9h.8M319.5,201.0h.8M293.8,203.8h.8M284.0,206.6h.8M300.4,203.8h.8M310.6,213.3h.8M316.8,209.3h.8M296.6,207.6h.8M300.6,209.2h.8M307.2,205.4h.8M306.9,203.2h.8M309.5,210.3h.8M297.1,207.3h.8M283.2,208.5h.8M310.4,202.2h.8M319.6,205.9h.8M282.5,201.1h.8M310.3,204.6h.8M312.8,200.5h.8M299.9,208.6h.8M293.8,207.7h.8M297.2,206.6h.8M304.5,212.7h.8M287.8,208.0h.8M315.0,201.9h.8M301.9,212.9h.8M298.5,200.0h.8M304.2,203.2h.8M295.0,202.8h.8M304.1,204.0h.8M291.3,204.8h.8M305.3,202.8h.8M312.9,200.2h.8M305.4,204.3h.8M317.8,203.4h.8M293.9,201.2h.8M322.2,207.5h.8M289.4,204.4h.8M290.8,210.4h.8M305.5,199.0h.8M303.2,208.4h.8M301.0,207.0h.8M299.8,206.2h.8M303.3,203.2h.8M304.7,206.0h.8M300.6,203.3h.8M290.2,206.3h.8M309.8,197.7h.8M295.3,209.8h.8M310.8,203.2h.8M315.5,202.3h.8M292.6,211.7h.8M296.3,204.8h.8M283.4,202.3h.8M288.4,205.1h.8M281.4,208.9h.8M297.2,203.6h.8M294.2,207.9h.8M317.4,204.2h.8M318.3,210.7h.8M315.4,206.5h.8M285.1,207.7h.8M296.6,206.1h.8M280.8,204.6h.8M303.5,202.5h.8M304.1,210.9h.8M303.5,203.3h.8M291.2,206.8h.8M294.7,198.1h.8M303.8,208.2h.8M292.5,210.2h.8M306.4,209.3h.8M284.7,205.5h.8M318.1,212.0h.8M315.1,205.5h.8M303.0,203.5h.8M312.8,203.3h.8M302.3,198.9h.8M284.9,211.2h.8M301.6,206.2h.8M323.2,200.7h.8M295.3,204.8h.8M287.5,201.1h.8M287.7,207.6h.8M300.5,208.1h.8M289.4,207.4h.8M296.3,205.8h.8M311.0,205.6h.8M297.2,200.1h.8M301.7,208.0h.8M294.2,205.3h.8M282.0,201.2h.8M305.3,209.7h.8M297.7,200.1h.8M296.9,200.5h.8M298.0,211.7h.8M304.2,205.0h.8M312.2,204.3h.8M304.6,206.1h.8M305.8,200.7h.8M308.7,208.4h.8M291.3,210.3h.8M301.2,207.7h.8M307.0,208.4h.8M294.1,203.6h.8M305.1,207.5h.8M307.2,206.6h.8M295.8,209.1h.8M306.1,208.9h.8M293.8,205.9h.8M295.8,204.5h.8M303.1,206.6h.8M292.6,207.3h.8M291.9,206.9h.8M297.0,202.4h.8M313.7,210.9h.8M299.9,205.3h.8M311.4,201.2h.8M291.5,209.2h.8M310.8,203.9h.8M292.6,206.6h.8M285.7,203.9h.8M279.8,160.0h.8M291.2,204.6h.8M297.8,174.1h.8M265.2,182.7h.8M269.5,189.7h.8M285.9,200.3h.8M303.1,178.9h.8M295.2,196.1h.8M266.8,196.1h.8M272.9,208.0h.8M301.1,185.4h.8M270.5,195.8h.8M268.4,206.5h.8M285.4,183.4h.8M273.5,204.1h.8M272.1,191.3h.8M294.5,212.1h.8M292.1,195.3h.8M306.6,203.2h.8M289.1,202.0h.8M293.2,197.9h.8M280.7,171.8h.8M311.7,175.9h.8M310.0,211.0h.8M274.6,197.7h.8M282.7,166.3h.8M278.3,198.1h.8M299.4,177.2h.8M287.6,195.1h.8M285.1,196.1h.8M277.9,174.9h.8M289.3,199.4h.8M291.1,211.4h.8M265.7,161.3h.8M270.2,199.6h.8M282.8,204.2h.8M327.9,186.8h.8M280.6,185.6h.8M286.4,201.3h.8M269.4,212.4h.8M299.0,200.2h.8M281.5,190.7h.8M260.0,203.2h.8M269.4,187.0h.8M296.9,181.1h.8M275.7,206.0h.8M309.0,184.3h.8M298.4,184.8h.8M288.4,200.8h.8M267.1,208.4h.8M308.2,194.7h.8M286.8,177.6h.8M308.0,194.9h.8M265.1,204.7h.8M262.5,184.4h.8M253.2,213.3h.8M313.9,185.1h.8M273.9,185.9h.8M275.1,201.8h.8M303.4,179.9h.8M289.2,168.8h.8M304.3,192.8h.8M273.2,215.4h.8M281.5,213.2h.8M271.8,194.8h.8M288.2,191.3h.8M304.3,184.0h.8M297.0,213.1h.8M255.7,180.4h.8M270.3,186.4h.8M288.5,191.6h.8M284.1,187.6h.8M276.5,204.9h.8M281.5,199.9h.8M276.3,200.0h.8M275.9,197.3h.8M282.7,205.7h.8M276.3,200.3h.8M274.3,200.3h.8M267.7,209.5h.8M270.0,205.3h.8M280.6,196.7h.8M265.5,205.2h.8M265.1,208.7h.8M274.0,203.3h.8M277.0,200.8h.8M276.1,201.8h.8M284.5,202.6h.8M276.8,200.9h.8M273.2,200.1h.8M277.1,210.3h.8M283.7,203.9h.8M287.0,207.1h.8M278.2,202.3h.8M270.4,204.0h.8M275.1,196.7h.8M269.3,210.7h.8M278.3,205.0h.8M278.2,201.1h.8M279.8,207.3h.8M275.1,205.0h.8M283.2,201.1h.8M278.0,200.0h.8M280.6,201.5h.8M283.9,199.9h.8M287.1,201.8h.8M272.0,199.4h.8M281.0,199.6h.8M287.8,208.1h.8M280.1,197.3h.8M276.9,200.1h.8M266.1,204.7h.8M290.2,200.9h.8M281.9,208.1h.8M271.2,201.6h.8M278.6,204.9h.8M270.1,203.9h.8M276.4,206.8h.8M267.4,200.7h.8M274.0,201.7h.8M281.3,200.5h.8M282.0,207.1h.8M282.8,202.2h.8M272.0,202.0h.8M281.0,203.5h.8M280.5,205.3h.8M271.7,199.3h.8M285.6,201.1h.8M267.5,210.4h.8M272.0,199.3h.8" stroke="#222" stroke-opacity="0.45" stroke-width="0.8" fill="none"/>
<rect x="251.9" y="138.5" width="79.1" height="78.0" fill="none" stroke="#111" stroke-width="1.4"/>
<path d="M247.7,201.5h4.2M247.7,183.0h4.2M247.7,165.0h4.2M247.7,147.0h4.2M249.7,214.1h2.2M249.7,210.9h2.2M249.7,208.7h2.2M249.7,206.9h2.2M249.7,205.5h2.2M249.7,204.3h2.2M249.7,203.2h2.2M249.7,202.3h2.2M249.7,196.1h2.2M249.7,192.9h2.2M249.7,190.7h2.2M249.7,188.9h2.2M249.7,187.5h2.2M249.7,186.3h2.2M249.7,185.2h2.2M249.7,184.3h2.2M249.7,177.6h2.2M249.7,174.4h2.2M249.7,172.2h2.2M249.7,170.4h2.2M249.7,169.0h2.2M249.7,167.8h2.2M249.7,166.7h2.2M249.7,165.8h2.2M249.7,159.6h2.2M249.7,156.4h2.2M249.7,154.2h2.2M249.7,152.4h2.2M249.7,151.0h2.2M249.7,149.8h2.2M249.7,148.7h2.2M249.7,147.8h2.2M249.7,141.6h2.2" stroke="#000" stroke-width="1.05" fill="none"/>
<path d="M268.9,216.5v4.0M286.9,216.5v4.0M304.9,216.5v4.0M322.9,216.5v4.0M256.3,216.5v2.2M259.5,216.5v2.2M261.7,216.5v2.2M263.5,216.5v2.2M264.9,216.5v2.2M266.1,216.5v2.2M267.2,216.5v2.2M268.1,216.5v2.2M274.3,216.5v2.2M277.5,216.5v2.2M279.7,216.5v2.2M281.5,216.5v2.2M282.9,216.5v2.2M284.1,216.5v2.2M285.2,216.5v2.2M286.1,216.5v2.2M292.3,216.5v2.2M295.5,216.5v2.2M297.7,216.5v2.2M299.5,216.5v2.2M300.9,216.5v2.2M302.1,216.5v2.2M303.2,216.5v2.2M304.1,216.5v2.2M310.3,216.5v2.2M313.5,216.5v2.2M315.7,216.5v2.2M317.5,216.5v2.2M318.9,216.5v2.2M320.1,216.5v2.2M321.2,216.5v2.2M322.1,216.5v2.2M328.3,216.5v2.2" stroke="#000" stroke-width="1.05" fill="none"/>
<path d="M270.5,268.8h.8M261.2,266.2h.8M260.1,280.8h.8M259.0,280.9h.8M255.7,242.4h.8M264.7,250.2h.8M263.9,246.7h.8M270.0,268.8h.8M267.2,279.1h.8M272.9,269.1h.8M267.7,242.1h.8M255.4,259.1h.8M272.4,254.5h.8M265.0,242.4h.8M262.2,278.1h.8M265.4,275.0h.8M254.7,250.1h.8M257.8,275.3h.8M256.4,279.3h.8M259.4,277.2h.8M264.0,254.9h.8M272.4,258.2h.8M267.4,244.7h.8M269.9,281.2h.8M256.5,271.8h.8M259.5,247.9h.8M261.2,268.5h.8M272.1,281.8h.8M272.9,266.9h.8M266.6,248.4h.8M267.9,264.1h.8M261.1,278.0h.8M259.2,247.7h.8M257.4,248.0h.8M265.4,274.0h.8M257.5,262.1h.8M265.1,264.4h.8M262.1,263.7h.8M254.8,244.3h.8M262.3,251.5h.8M268.5,251.7h.8M269.7,251.7h.8M256.2,261.1h.8M261.7,255.4h.8M268.7,250.9h.8M266.9,275.4h.8M262.9,262.1h.8M271.6,266.2h.8M257.8,244.8h.8M256.0,255.3h.8M256.1,268.0h.8M262.3,254.3h.8M264.0,279.5h.8M259.0,248.2h.8M260.1,255.0h.8M271.3,270.2h.8M262.4,248.6h.8M255.3,246.9h.8M270.2,267.9h.8M257.4,267.0h.8M255.6,262.3h.8M260.7,246.1h.8M268.2,270.7h.8M263.9,248.7h.8M266.9,259.3h.8M266.7,245.7h.8M271.2,242.1h.8M258.6,257.9h.8M258.2,245.5h.8M267.2,281.8h.8M260.7,252.6h.8M266.9,250.9h.8M261.9,269.5h.8M262.5,248.2h.8M255.8,263.7h.8M272.8,278.8h.8M256.3,262.1h.8M263.5,249.8h.8M266.9,261.8h.8M269.5,253.7h.8M271.8,274.6h.8M263.3,247.7h.8M263.4,247.1h.8M267.2,269.9h.8M265.2,281.1h.8M255.3,270.6h.8M269.3,246.5h.8M260.5,244.2h.8M265.3,270.9h.8M260.9,269.8h.8M261.3,270.5h.8M259.6,281.1h.8M262.6,242.1h.8M256.2,271.0h.8M270.5,267.5h.8M257.4,276.9h.8M267.8,246.6h.8M261.5,268.9h.8M254.6,243.7h.8M261.0,277.0h.8M272.9,254.7h.8M271.3,273.4h.8M270.5,265.5h.8M272.4,267.8h.8M272.0,264.6h.8M258.1,262.7h.8M263.4,255.5h.8M261.4,262.4h.8M265.4,250.9h.8M259.6,262.1h.8M263.8,258.8h.8M266.8,249.4h.8M264.3,253.0h.8M268.7,270.1h.8M268.9,262.7h.8M259.1,279.0h.8M264.0,257.0h.8M259.9,258.1h.8M267.6,274.7h.8M263.4,271.2h.8M258.4,260.1h.8M261.1,254.3h.8M261.2,272.2h.8M268.1,250.3h.8M258.8,273.4h.8M266.6,269.0h.8M266.3,269.7h.8M259.5,244.4h.8M261.2,243.3h.8M272.3,263.0h.8M266.9,280.7h.8M269.4,251.2h.8M260.7,246.3h.8M269.2,271.5h.8M263.5,256.8h.8M259.5,261.5h.8M267.7,277.8h.8M270.2,276.7h.8M262.6,258.8h.8M260.3,281.0h.8M257.9,248.3h.8M259.7,278.9h.8M270.3,255.3h.8M270.3,277.6h.8M262.4,249.7h.8M268.8,257.0h.8M256.7,278.1h.8M262.6,257.9h.8M265.5,252.2h.8M254.9,257.6h.8M261.5,242.4h.8M261.4,272.4h.8M260.7,269.2h.8M266.1,249.5h.8M254.9,269.0h.8M265.8,253.8h.8M258.2,276.2h.8M271.3,251.3h.8M265.3,265.0h.8M260.5,243.5h.8M260.5,267.8h.8M265.6,262.4h.8M256.8,250.5h.8M260.3,258.7h.8M261.2,278.1h.8M256.6,281.5h.8M258.9,276.3h.8M259.0,265.5h.8M261.5,243.5h.8M269.2,274.4h.8M259.5,273.0h.8M263.4,281.5h.8M255.5,257.2h.8M258.7,267.0h.8M268.9,275.7h.8M264.6,257.5h.8M269.3,246.2h.8M259.3,272.1h.8M262.6,281.7h.8M256.2,260.5h.8M258.4,242.1h.8M256.2,245.6h.8M261.3,259.3h.8M263.9,253.6h.8M267.5,262.6h.8M272.7,248.8h.8M263.9,261.7h.8M261.4,276.4h.8M258.4,277.1h.8M261.1,255.4h.8M265.9,264.5h.8M259.8,245.4h.8M272.2,256.8h.8M256.6,268.3h.8M264.3,255.1h.8M260.6,275.8h.8M260.8,258.7h.8M272.2,256.4h.8M261.9,248.5h.8M266.8,268.6h.8M262.8,258.2h.8M258.8,273.6h.8M263.0,275.3h.8M261.4,271.3h.8M255.0,250.8h.8M272.3,269.3h.8M267.0,261.9h.8M263.2,249.9h.8M257.7,267.8h.8M267.3,252.3h.8M266.4,247.4h.8M265.8,248.9h.8M263.9,254.6h.8M264.7,247.4h.8M263.4,266.7h.8M257.0,254.3h.8M267.1,263.8h.8M265.9,273.2h.8M265.1,250.9h.8M262.7,275.2h.8M265.0,272.1h.8M261.2,259.9h.8M272.4,274.9h.8M266.6,246.3h.8M265.8,243.3h.8M271.8,280.9h.8M268.0,252.7h.8M270.1,249.1h.8M269.8,262.8h.8M254.8,277.6h.8M262.6,275.2h.8M267.2,263.3h.8M270.5,250.1h.8M271.1,255.6h.8M255.0,255.5h.8M255.7,244.9h.8M266.0,246.8h.8M257.5,253.7h.8M259.7,278.8h.8M271.2,276.8h.8M272.8,259.6h.8M269.2,253.2h.8M271.6,274.4h.8M268.0,251.1h.8M256.2,279.0h.8M264.7,266.5h.8M270.4,247.7h.8M267.4,260.6h.8M269.0,260.2h.8M258.1,280.3h.8M259.7,271.8h.8M269.9,251.9h.8M267.4,257.8h.8M258.6,250.7h.8M272.1,256.7h.8M263.9,262.1h.8M255.0,272.1h.8M268.3,277.0h.8M261.1,250.4h.8M260.9,271.3h.8M266.7,258.2h.8M264.2,248.2h.8M271.5,260.9h.8M263.9,273.5h.8M258.2,270.9h.8M261.0,274.5h.8M256.2,253.0h.8M266.3,261.3h.8M261.5,265.1h.8M258.5,259.5h.8M254.5,273.9h.8M259.2,275.2h.8M264.7,266.1h.8M266.1,247.0h.8M268.9,253.7h.8M270.5,273.5h.8M267.0,274.6h.8M262.6,268.9h.8M272.1,249.6h.8M256.4,258.5h.8M263.9,248.0h.8M258.6,276.7h.8M261.7,248.0h.8M257.9,265.1h.8M258.0,261.0h.8M264.4,259.6h.8M263.8,275.5h.8M254.8,279.2h.8M258.2,243.5h.8M268.7,264.8h.8M264.5,250.7h.8M268.9,254.3h.8M267.9,251.1h.8M265.1,267.9h.8M261.4,261.2h.8M255.7,267.7h.8M267.3,248.1h.8M264.7,271.3h.8M256.4,275.6h.8M270.6,244.0h.8M265.0,266.0h.8M264.9,266.1h.8M259.7,261.6h.8M262.6,273.7h.8M256.5,276.3h.8M264.4,255.2h.8M265.1,262.5h.8M263.4,266.0h.8M261.0,241.2h.8M269.8,260.8h.8M276.5,265.6h.8M260.3,267.5h.8M280.3,273.9h.8M257.5,260.0h.8M268.9,249.1h.8M268.1,272.0h.8M270.6,253.2h.8M260.2,248.0h.8M256.1,264.8h.8M265.3,276.3h.8M266.9,257.3h.8M255.2,279.1h.8M266.1,260.7h.8M258.1,248.8h.8M269.4,249.7h.8M269.0,268.4h.8M262.4,242.2h.8M267.8,277.5h.8M259.3,246.4h.8M272.5,262.8h.8M260.7,275.4h.8M263.1,266.4h.8M262.2,252.3h.8M266.5,251.1h.8M273.5,273.9h.8M279.9,272.7h.8M276.1,264.0h.8M262.0,266.5h.8M258.5,269.7h.8M261.9,264.1h.8M259.1,259.6h.8M271.7,258.6h.8M260.4,264.4h.8M271.1,258.9h.8M257.0,243.0h.8M255.8,273.5h.8M264.4,266.7h.8M272.4,264.4h.8M268.3,255.2h.8M264.3,267.8h.8M257.7,259.5h.8M278.8,251.3h.8M265.7,276.4h.8M263.4,262.6h.8M262.0,276.1h.8M264.4,256.8h.8M268.0,258.4h.8M261.5,279.0h.8M271.7,262.4h.8M270.5,270.7h.8M269.0,261.7h.8M265.5,265.9h.8M268.9,265.3h.8M261.2,260.3h.8M268.1,249.8h.8M264.9,269.9h.8M266.2,257.9h.8M264.8,255.6h.8M271.7,256.8h.8M267.1,263.6h.8M261.8,246.0h.8M264.0,251.5h.8M260.5,261.2h.8M259.7,264.8h.8M259.9,255.8h.8M263.4,278.0h.8M275.8,272.0h.8M260.0,261.2h.8M271.3,270.5h.8M259.9,269.8h.8M269.4,255.0h.8M279.7,258.0h.8M281.7,259.2h.8M264.4,283.0h.8M261.4,255.8h.8M275.1,260.7h.8M268.3,246.7h.8M277.3,272.5h.8M267.4,269.3h.8M261.6,255.7h.8M254.2,265.4h.8M273.5,271.0h.8M271.3,269.3h.8M258.7,246.2h.8M269.4,263.1h.8M271.8,258.0h.8M259.0,266.3h.8M261.2,242.4h.8M260.8,251.1h.8M257.4,254.9h.8M271.5,288.1h.8M276.8,256.4h.8M272.8,260.4h.8M267.8,253.5h.8M264.5,242.0h.8M277.3,252.4h.8M269.0,254.5h.8M266.9,247.7h.8M262.4,271.6h.8M269.1,239.0h.8M270.8,246.2h.8M267.0,267.1h.8M260.6,257.6h.8M263.3,265.8h.8M271.3,276.8h.8M267.2,284.0h.8M258.5,281.5h.8M263.2,270.0h.8M264.1,262.1h.8M258.7,265.6h.8M278.9,262.9h.8M264.9,261.2h.8M269.9,258.9h.8M265.0,263.7h.8M273.9,272.1h.8M257.8,254.0h.8M265.1,270.9h.8M271.6,258.8h.8M279.6,259.3h.8M274.6,277.4h.8M275.9,263.5h.8M268.9,243.8h.8M269.9,273.3h.8M264.3,273.1h.8M269.0,278.6h.8M254.1,251.8h.8M258.4,249.3h.8M276.3,250.7h.8M259.3,256.7h.8M271.1,255.9h.8M270.0,267.5h.8M260.6,234.3h.8M258.7,247.0h.8M276.2,253.0h.8M257.7,265.5h.8M265.4,250.5h.8M272.5,271.6h.8M266.9,252.6h.8M259.0,237.8h.8M267.6,265.7h.8M258.7,261.5h.8M287.5,248.3h.8M262.1,255.5h.8M269.3,259.7h.8M271.8,267.1h.8M273.0,262.5h.8M266.7,245.3h.8M265.5,271.2h.8M258.0,261.6h.8M259.9,249.7h.8M260.8,275.7h.8M269.7,260.8h.8M264.4,262.6h.8M267.0,263.3h.8M259.1,231.4h.8M269.8,247.4h.8M264.0,260.1h.8M260.9,267.2h.8M263.1,258.0h.8M258.4,257.9h.8M257.9,261.6h.8M274.1,272.7h.8M267.9,245.6h.8M272.1,271.8h.8M279.2,235.5h.8M265.1,257.3h.8M272.5,248.7h.8M262.4,287.6h.8M271.8,238.4h.8M265.1,276.7h.8M260.8,267.9h.8M265.7,244.4h.8M260.7,274.1h.8M273.2,254.2h.8M272.7,253.0h.8M266.7,260.9h.8M256.4,264.8h.8M259.3,251.4h.8M259.3,249.9h.8M260.3,233.1h.8M271.1,261.9h.8M266.8,258.0h.8M265.4,258.1h.8M257.5,243.7h.8M265.5,272.7h.8M266.6,279.5h.8M255.6,258.1h.8M260.7,275.2h.8M276.7,255.1h.8M270.0,258.3h.8M258.1,259.8h.8M257.8,278.8h.8M269.1,274.7h.8M267.5,233.2h.8M270.5,262.1h.8M272.0,280.7h.8M258.0,270.1h.8M267.3,259.1h.8M263.0,267.1h.8M269.0,268.6h.8M262.2,245.9h.8M274.1,275.9h.8M261.1,260.7h.8M270.6,240.9h.8M268.4,288.8h.8M266.9,253.0h.8M279.1,261.2h.8M266.5,256.2h.8M266.2,240.4h.8M256.2,244.1h.8M271.2,260.0h.8M272.9,237.6h.8M260.9,277.8h.8M259.5,239.6h.8M259.9,257.1h.8M264.9,276.0h.8M274.1,278.9h.8M269.0,255.3h.8M261.6,244.0h.8M273.8,275.4h.8M265.6,250.8h.8M269.6,266.6h.8M266.1,247.7h.8M266.6,254.5h.8M270.1,267.9h.8M268.0,256.1h.8M275.5,269.9h.8M273.7,270.7h.8M269.6,265.5h.8M257.6,240.1h.8M258.6,268.1h.8M271.3,263.1h.8M265.6,282.1h.8M262.3,240.5h.8M254.4,257.3h.8M269.8,269.5h.8M263.5,270.4h.8M264.7,252.7h.8M262.4,269.7h.8M271.6,248.1h.8M258.2,262.4h.8M279.6,247.6h.8M256.4,265.8h.8M268.5,254.0h.8M264.8,266.6h.8M269.1,271.6h.8M273.0,260.2h.8M255.1,276.5h.8M270.3,253.7h.8M272.1,273.0h.8M264.0,233.9h.8M261.8,252.3h.8M259.3,260.1h.8M257.6,265.5h.8M278.0,247.3h.8M272.1,254.9h.8M268.7,259.5h.8M273.8,252.8h.8M270.0,252.1h.8M266.6,260.8h.8M272.5,242.9h.8M255.7,277.0h.8M267.6,280.5h.8M257.9,263.4h.8M269.1,281.3h.8M264.6,255.9h.8M269.9,259.8h.8M259.9,269.8h.8M274.3,255.3h.8M262.8,265.3h.8M272.7,267.1h.8M258.4,254.5h.8M272.2,259.6h.8M260.7,271.1h.8M272.8,286.0h.8M257.6,252.9h.8M260.3,265.1h.8M261.7,273.8h.8M260.6,257.8h.8M268.9,263.3h.8M258.1,278.3h.8M268.9,255.3h.8M266.4,248.3h.8M256.6,257.5h.8M267.5,262.2h.8M259.7,245.1h.8M267.5,251.8h.8M273.1,267.2h.8M262.2,253.9h.8M272.8,264.8h.8M276.2,265.2h.8M261.0,254.1h.8M260.2,263.9h.8M266.7,268.0h.8M268.1,248.9h.8M263.6,250.2h.8M268.3,245.9h.8M261.0,251.1h.8M260.8,258.0h.8M275.3,258.1h.8M255.2,257.5h.8M270.1,267.4h.8M266.6,283.9h.8M272.6,262.1h.8M273.3,245.6h.8M263.8,251.0h.8M266.2,279.6h.8M261.6,279.3h.8M258.0,277.4h.8M271.8,259.9h.8M266.0,260.9h.8M266.2,258.9h.8M258.3,257.7h.8M265.8,250.6h.8M268.2,281.3h.8M263.1,261.2h.8M265.7,252.7h.8M264.8,261.1h.8M264.4,278.7h.8M265.9,244.0h.8M254.3,267.8h.8M262.7,253.9h.8M255.8,257.5h.8M264.4,253.1h.8M262.6,271.2h.8M270.3,267.3h.8M263.8,245.4h.8M270.3,278.2h.8M273.7,274.4h.8M266.9,265.3h.8M264.9,275.4h.8M263.2,285.7h.8M270.3,257.3h.8M265.0,242.5h.8M260.0,257.5h.8M281.7,251.6h.8M271.2,261.9h.8M263.0,268.2h.8M278.2,264.4h.8M264.6,262.8h.8M269.5,255.4h.8M265.8,266.8h.8M262.6,265.5h.8M267.3,269.2h.8M258.3,254.8h.8M262.1,274.8h.8M266.7,242.0h.8M256.3,283.3h.8M267.3,246.1h.8M258.8,262.6h.8M274.7,279.6h.8M262.5,257.6h.8M278.0,249.7h.8M275.6,264.9h.8M265.6,275.8h.8M268.3,251.4h.8M254.6,261.2h.8M268.5,276.7h.8M269.2,278.5h.8M270.4,263.5h.8M267.9,265.6h.8M260.7,259.7h.8M265.9,255.8h.8M255.0,244.4h.8M268.4,267.0h.8M265.7,247.5h.8M270.8,256.5h.8M254.9,287.0h.8M268.6,255.9h.8M275.1,276.7h.8M266.8,241.3h.8M262.4,257.7h.8M268.1,259.6h.8M267.3,242.2h.8M260.6,277.6h.8M255.1,271.7h.8M280.7,268.5h.8M255.6,275.4h.8M262.2,275.3h.8M273.0,263.2h.8M277.2,272.3h.8M261.8,249.7h.8M281.7,256.3h.8M267.8,259.7h.8M261.8,242.4h.8M264.0,259.7h.8M271.7,255.1h.8M254.4,248.6h.8M264.7,263.9h.8M269.9,256.6h.8M268.7,262.7h.8M276.5,260.4h.8M266.0,267.5h.8M273.3,250.4h.8M261.8,257.8h.8M272.3,261.3h.8M287.9,275.7h.8M278.8,279.1h.8M271.2,244.6h.8M275.4,265.9h.8M256.9,261.6h.8M270.1,272.4h.8M266.2,255.0h.8M270.2,252.2h.8M264.5,269.8h.8M255.2,265.3h.8M256.6,260.0h.8M269.9,260.4h.8M271.2,262.1h.8M263.6,266.7h.8M263.4,262.6h.8M272.1,254.4h.8M272.8,248.2h.8M263.5,240.9h.8M261.4,279.4h.8M267.4,275.7h.8M255.0,249.3h.8M268.2,270.6h.8M270.7,241.6h.8M268.5,260.2h.8M265.8,266.5h.8M263.1,241.4h.8M257.7,244.3h.8M256.0,259.5h.8M273.9,252.7h.8M259.8,247.7h.8M261.7,258.2h.8M258.5,266.6h.8M256.8,267.4h.8M260.5,270.1h.8M259.0,266.1h.8M268.0,260.1h.8M276.1,263.0h.8M259.0,269.0h.8M259.4,254.7h.8M265.1,263.1h.8M276.6,240.8h.8M263.2,274.1h.8M263.9,264.7h.8M275.4,246.7h.8M265.3,270.2h.8M261.0,240.7h.8M258.2,263.3h.8M266.3,282.4h.8M274.0,243.1h.8M272.1,271.6h.8M276.0,259.2h.8M261.2,262.7h.8M275.5,268.2h.8M276.6,270.1h.8M261.0,249.3h.8M277.6,243.4h.8M262.6,257.3h.8M258.8,254.4h.8M265.0,288.6h.8M264.6,254.9h.8M265.8,271.9h.8M259.4,256.3h.8M269.6,278.4h.8M256.8,286.2h.8M271.0,257.8h.8M262.3,257.4h.8M256.7,269.9h.8M260.9,252.6h.8M268.5,262.3h.8M261.0,258.3h.8M261.6,276.6h.8M271.8,252.6h.8M264.7,276.9h.8M263.0,281.7h.8M268.0,268.8h.8M267.3,267.8h.8M268.3,267.1h.8M261.5,271.5h.8M265.4,248.8h.8M258.1,262.9h.8M267.3,235.4h.8M264.9,294.1h.8M254.5,258.1h.8M260.9,267.5h.8M274.6,279.7h.8M258.1,275.4h.8M256.7,264.6h.8M266.2,268.2h.8M259.5,276.6h.8M264.5,260.8h.8M263.2,248.6h.8M269.9,264.9h.8M268.1,282.7h.8M259.1,257.7h.8M265.1,271.0h.8M263.8,271.9h.8M268.1,240.5h.8M260.3,237.4h.8M263.0,256.2h.8M269.0,263.0h.8M264.6,275.7h.8M269.1,246.7h.8M260.3,264.8h.8M276.6,258.7h.8M263.8,264.1h.8M270.3,260.0h.8M267.0,256.1h.8M261.2,251.8h.8M269.5,254.5h.8M268.8,265.7h.8M258.4,246.8h.8M263.9,270.4h.8M282.3,279.0h.8M274.3,265.4h.8M262.4,267.2h.8M265.1,268.2h.8M258.0,248.2h.8M260.6,260.5h.8M267.4,256.9h.8M267.4,268.9h.8M257.1,259.8h.8M254.4,254.6h.8M271.2,252.7h.8M277.7,266.9h.8M271.1,262.2h.8M270.9,273.8h.8M265.7,254.8h.8M261.2,283.5h.8M263.7,255.7h.8M260.2,241.3h.8M261.6,264.8h.8M261.7,252.2h.8M267.8,266.4h.8M262.0,264.6h.8M258.3,271.0h.8M258.3,257.1h.8M265.9,256.1h.8M257.2,285.5h.8M275.4,240.7h.8M265.8,246.2h.8M267.1,245.8h.8M269.0,267.2h.8M276.7,275.1h.8M261.9,272.0h.8M261.9,259.7h.8M261.6,240.4h.8M269.1,237.3h.8M263.4,267.1h.8M265.8,242.6h.8M260.6,268.9h.8M272.5,279.6h.8M261.7,269.9h.8M269.8,253.5h.8M262.5,249.6h.8M272.6,245.5h.8M258.8,257.1h.8M262.8,285.7h.8M266.9,251.3h.8M269.0,265.0h.8M266.9,260.2h.8M268.2,247.3h.8M256.8,256.0h.8M257.4,269.2h.8M278.3,275.4h.8M268.1,265.0h.8M260.3,245.8h.8M268.8,243.7h.8M267.1,259.4h.8M270.1,261.6h.8M265.7,254.2h.8M269.8,273.2h.8M274.4,249.4h.8M258.6,269.2h.8M261.9,291.0h.8M267.2,243.3h.8M261.2,279.4h.8M255.5,279.7h.8M261.9,249.0h.8M279.9,262.2h.8M263.2,247.4h.8M267.3,255.5h.8M259.2,277.2h.8M268.0,250.6h.8M275.1,260.4h.8M268.4,262.7h.8M273.1,268.2h.8M262.6,269.4h.8M262.3,262.6h.8M276.2,248.6h.8M257.9,256.3h.8M261.6,276.2h.8M254.1,287.8h.8M275.8,255.7h.8M266.3,256.8h.8M269.6,268.7h.8M270.1,270.0h.8M278.2,259.0h.8M269.8,258.8h.8M265.3,263.6h.8M264.6,265.0h.8M259.2,259.2h.8M260.9,247.3h.8M260.2,255.2h.8M264.0,242.7h.8M263.2,247.8h.8M259.4,263.2h.8M272.6,264.4h.8M261.7,255.9h.8M274.2,242.0h.8M272.8,243.4h.8M260.7,261.5h.8M263.5,280.5h.8M268.4,260.4h.8M271.5,261.4h.8M259.5,274.1h.8M275.3,276.0h.8M257.0,283.3h.8M262.1,270.0h.8M273.2,288.8h.8M273.1,266.8h.8M268.0,258.8h.8M265.0,263.7h.8M270.2,257.9h.8M258.9,256.8h.8M278.5,253.0h.8M264.5,283.2h.8M272.2,262.4h.8M270.0,257.8h.8M258.8,272.7h.8M265.9,279.8h.8M263.2,256.6h.8M267.4,258.8h.8M262.9,250.5h.8M266.7,264.8h.8M277.6,260.7h.8M280.7,255.8h.8M259.5,259.0h.8M263.7,243.3h.8M269.0,250.7h.8M269.4,283.5h.8M273.6,263.3h.8M261.5,257.9h.8M271.6,254.9h.8M267.9,272.3h.8M258.8,254.1h.8M268.1,261.1h.8M264.1,254.8h.8M264.6,282.8h.8M274.3,242.1h.8M265.3,262.1h.8M265.3,244.8h.8M264.1,262.7h.8M260.3,264.7h.8M265.7,265.6h.8M263.9,255.6h.8M266.3,273.7h.8M271.2,260.1h.8M261.8,273.5h.8M268.7,271.4h.8M263.1,250.9h.8M266.3,253.7h.8M272.9,271.0h.8M274.2,273.2h.8M261.7,250.9h.8M271.7,272.9h.8M265.4,247.4h.8M254.5,264.1h.8M259.3,253.0h.8M268.1,273.3h.8M273.9,260.5h.8M262.6,268.5h.8M257.2,246.6h.8M265.1,279.4h.8M272.0,260.9h.8M272.0,256.2h.8M256.9,241.3h.8M266.9,271.6h.8M267.6,260.6h.8M262.2,273.8h.8M264.7,244.1h.8M274.4,253.4h.8M267.7,261.0h.8M272.2,263.9h.8M273.4,263.5h.8M261.8,255.0h.8M269.5,251.3h.8M271.4,258.2h.8M258.6,250.7h.8M264.0,281.8h.8M270.3,261.2h.8M258.8,283.4h.8M263.1,261.0h.8M262.1,276.7h.8M266.2,255.6h.8M266.3,249.3h.8M257.8,259.1h.8M278.7,247.9h.8M264.0,242.4h.8M266.2,263.5h.8M270.1,245.3h.8M260.9,253.4h.8M263.3,287.9h.8M263.6,260.5h.8M261.5,270.4h.8M282.6,274.7h.8M275.5,248.4h.8M272.3,261.3h.8M273.6,273.5h.8M269.5,241.3h.8M265.9,255.1h.8M268.1,261.4h.8M272.2,242.1h.8M259.9,260.1h.8M267.2,256.2h.8M264.8,261.7h.8M272.2,259.7h.8M266.7,239.6h.8M267.5,233.9h.8M267.8,259.9h.8M265.0,252.4h.8M262.1,270.8h.8M267.5,260.7h.8M261.6,263.5h.8M273.2,260.8h.8M262.5,247.1h.8M265.7,250.2h.8M255.1,271.3h.8M260.7,237.0h.8M260.1,282.7h.8M264.3,245.4h.8M257.4,269.5h.8M267.8,263.5h.8M263.7,266.7h.8M275.6,266.7h.8M263.9,244.5h.8M268.1,279.5h.8M269.5,246.2h.8M266.3,276.3h.8M260.6,266.8h.8M273.3,280.3h.8M254.0,240.4h.8M267.6,269.3h.8M262.6,260.8h.8M262.2,275.2h.8M256.2,253.0h.8M254.4,250.3h.8M264.8,261.3h.8M277.3,258.4h.8M267.4,265.2h.8M266.8,278.3h.8M266.0,262.8h.8M264.2,261.0h.8M264.6,272.8h.8M265.1,261.8h.8M264.7,270.0h.8M261.7,272.1h.8M261.1,269.2h.8M278.2,263.7h.8M264.4,247.1h.8M270.1,261.2h.8M271.3,253.2h.8M268.6,282.4h.8M267.8,257.1h.8M256.0,260.9h.8M269.5,268.1h.8M257.3,248.9h.8M258.3,248.9h.8M263.1,264.1h.8M278.3,263.3h.8M275.0,241.4h.8M275.6,270.4h.8M268.0,270.8h.8M269.3,283.6h.8M270.6,240.4h.8M264.4,276.6h.8M262.6,253.2h.8M262.6,264.7h.8M266.3,253.7h.8M268.7,268.3h.8M258.7,247.8h.8M265.1,252.8h.8M260.8,259.4h.8M265.2,267.8h.8M270.8,266.2h.8M272.7,249.5h.8M269.2,265.4h.8M257.8,253.0h.8M268.1,261.9h.8M256.3,254.4h.8M275.5,271.0h.8M265.6,277.0h.8M258.7,259.0h.8M271.6,257.0h.8M257.3,267.9h.8M276.1,230.9h.8M266.1,246.2h.8M262.9,244.3h.8M283.0,252.9h.8M265.3,252.6h.8M258.2,255.6h.8M266.4,281.8h.8M267.0,279.6h.8M257.6,261.8h.8M262.0,242.4h.8M290.8,258.1h.8M266.7,252.1h.8M261.0,248.7h.8M272.1,256.2h.8M264.0,263.1h.8M256.5,263.8h.8M263.8,266.3h.8M262.3,261.5h.8M268.6,272.5h.8M260.2,272.5h.8M258.2,258.8h.8M265.9,262.7h.8M263.7,272.0h.8M260.1,278.9h.8M268.7,261.2h.8M266.8,272.1h.8M259.4,268.0h.8M272.4,258.2h.8M259.1,248.5h.8M268.0,251.5h.8M282.2,267.8h.8M256.0,257.6h.8M275.6,269.1h.8M258.0,273.3h.8M261.7,287.3h.8M261.2,268.1h.8M268.9,255.7h.8M263.9,274.7h.8M268.4,260.3h.8M268.1,281.7h.8M271.4,266.6h.8M267.3,242.5h.8M265.9,255.2h.8M270.1,253.8h.8M268.1,248.5h.8M271.2,252.4h.8M264.8,267.8h.8M262.8,261.1h.8M272.3,282.0h.8M269.7,272.2h.8M261.7,262.1h.8M263.7,288.0h.8M263.6,246.9h.8M254.3,245.9h.8M274.0,256.4h.8M278.5,268.6h.8M267.6,268.6h.8M270.5,271.9h.8M258.2,254.4h.8M261.2,262.2h.8M263.3,246.4h.8M260.2,282.2h.8M279.7,250.9h.8M267.6,260.6h.8M259.1,269.5h.8M264.5,280.8h.8M268.2,257.3h.8M270.9,252.5h.8M271.1,269.1h.8M267.2,269.9h.8M266.1,260.8h.8M262.6,257.6h.8M265.0,248.4h.8M269.4,257.1h.8M268.6,255.0h.8M267.8,262.5h.8M271.2,266.5h.8M271.5,259.0h.8M264.6,257.9h.8M256.3,259.5h.8M272.5,270.1h.8M259.1,264.6h.8M270.2,244.9h.8M267.4,264.9h.8M270.2,264.0h.8M278.7,256.3h.8M273.8,276.0h.8M265.6,247.5h.8M274.5,260.6h.8M268.6,266.7h.8M271.6,273.0h.8M255.2,244.3h.8M266.0,261.1h.8M270.4,259.4h.8M263.7,285.0h.8M274.5,274.7h.8M272.2,251.7h.8M264.4,260.2h.8M257.4,250.7h.8M266.1,246.6h.8M268.7,266.6h.8M263.4,257.0h.8M269.2,266.7h.8M267.5,246.5h.8M260.5,256.7h.8M259.9,270.4h.8M262.1,255.2h.8M259.6,255.8h.8M254.1,264.2h.8M273.3,262.8h.8M261.3,275.9h.8M268.4,248.8h.8M261.0,253.8h.8M264.7,275.3h.8M260.1,259.3h.8M265.8,246.9h.8M261.7,268.2h.8M272.8,238.9h.8M269.9,257.6h.8M273.9,268.3h.8M278.6,264.7h.8M262.3,251.2h.8M255.1,267.5h.8M268.6,270.7h.8M267.4,243.4h.8M262.2,258.1h.8M266.1,270.0h.8M274.8,264.4h.8M256.7,263.8h.8M263.5,274.1h.8M272.5,255.6h.8M271.5,261.2h.8M268.2,276.9h.8M272.2,261.3h.8M288.1,253.8h.8M280.3,263.4h.8M276.5,247.9h.8M274.9,251.4h.8M285.4,264.7h.8M283.2,249.2h.8M282.0,263.6h.8M285.2,254.2h.8M283.8,276.8h.8M289.7,252.0h.8M272.3,246.2h.8M284.7,268.4h.8M281.0,252.7h.8M286.4,279.3h.8M278.8,260.7h.8M286.1,267.5h.8M287.0,257.6h.8M281.0,258.4h.8M275.6,258.8h.8M277.3,267.4h.8M277.2,262.8h.8M274.2,248.8h.8M287.5,251.4h.8M289.8,272.1h.8M276.5,262.2h.8M277.9,255.5h.8M286.4,260.6h.8M284.7,254.6h.8M274.9,276.4h.8M277.3,250.2h.8M278.0,273.3h.8M278.1,254.3h.8M282.8,272.6h.8M277.8,258.6h.8M276.8,291.1h.8M277.9,280.8h.8M278.1,266.4h.8M279.3,258.6h.8M276.6,247.3h.8M270.2,263.8h.8M275.2,261.0h.8M277.9,256.6h.8M274.7,282.0h.8M272.5,256.5h.8M277.3,249.6h.8M273.3,271.3h.8M284.5,263.4h.8M298.2,270.9h.8M286.3,253.2h.8M285.4,280.1h.8M276.8,281.5h.8M274.2,249.8h.8M278.7,253.3h.8M282.8,250.1h.8M279.5,241.0h.8M278.8,273.3h.8M277.5,265.4h.8M285.5,250.2h.8M271.5,262.9h.8M280.7,259.1h.8M273.3,275.0h.8M272.1,259.2h.8M278.8,269.8h.8M276.4,253.2h.8M290.9,252.9h.8M283.7,260.4h.8M276.2,261.5h.8M277.5,265.3h.8M279.4,251.6h.8M276.7,287.1h.8M290.0,268.9h.8M280.4,258.7h.8M287.2,257.2h.8M274.2,269.4h.8M273.3,253.5h.8M287.6,244.8h.8M278.6,263.3h.8M280.6,246.4h.8M277.7,258.4h.8M290.4,272.8h.8M274.5,271.4h.8M282.9,260.8h.8M277.6,259.1h.8M269.9,255.2h.8M284.6,277.5h.8M290.0,258.0h.8M282.7,236.2h.8M277.4,248.4h.8M283.9,244.2h.8M272.9,250.1h.8M281.4,271.0h.8M273.6,281.4h.8M280.0,253.1h.8M281.1,261.9h.8M284.0,265.7h.8M292.0,274.6h.8M275.2,270.5h.8M283.5,251.3h.8M274.6,253.3h.8M277.7,275.2h.8M275.7,262.8h.8M283.3,272.4h.8M280.9,250.8h.8M292.1,271.3h.8M287.1,279.4h.8M287.3,266.5h.8M281.8,268.8h.8M270.1,270.7h.8M273.3,266.5h.8M273.0,269.7h.8M276.2,288.7h.8M280.2,267.5h.8M273.7,258.9h.8M278.7,258.9h.8M276.5,252.6h.8M283.5,257.9h.8M274.2,265.9h.8M274.2,260.1h.8M276.0,252.1h.8M277.7,253.2h.8M271.6,265.8h.8M277.3,246.3h.8M276.7,264.0h.8M281.6,266.0h.8M280.5,268.4h.8M276.1,253.5h.8M282.7,257.6h.8M279.1,269.0h.8M284.6,275.1h.8M275.0,258.0h.8M282.3,246.7h.8M271.6,268.5h.8M275.4,252.1h.8M283.8,267.7h.8M284.5,258.5h.8M277.3,258.4h.8M280.8,240.3h.8M275.0,269.6h.8M274.4,261.3h.8M279.8,267.6h.8M276.2,249.9h.8M293.8,254.3h.8M289.2,243.2h.8M279.7,259.9h.8M290.2,283.8h.8M284.8,251.2h.8M274.3,254.0h.8M276.0,264.8h.8M274.4,259.4h.8M287.7,277.4h.8M268.1,251.8h.8M276.9,275.9h.8M277.1,282.4h.8M281.2,277.4h.8M274.0,258.7h.8M285.1,268.1h.8M268.0,259.1h.8M280.1,268.7h.8M275.3,280.6h.8M280.0,277.5h.8M281.4,262.9h.8M277.2,249.5h.8M284.2,270.1h.8M284.6,258.0h.8M273.1,258.0h.8M277.2,261.9h.8M284.9,252.3h.8M276.2,269.4h.8M284.4,285.6h.8M282.2,253.0h.8M272.9,253.6h.8M279.5,264.7h.8M278.7,255.5h.8M278.0,261.2h.8M282.6,262.9h.8M274.3,249.5h.8M287.8,261.1h.8M278.0,261.8h.8M285.7,258.7h.8M280.1,259.5h.8M282.5,251.2h.8M280.3,273.0h.8M286.0,268.6h.8M280.8,278.8h.8M283.2,276.9h.8M272.0,250.3h.8M283.8,259.2h.8M276.5,251.9h.8M287.8,249.3h.8M279.7,247.2h.8M278.1,286.0h.8M293.4,256.8h.8M273.1,279.4h.8M274.0,243.0h.8M281.1,250.5h.8M270.5,274.0h.8M274.8,250.7h.8M280.1,260.0h.8M285.7,263.0h.8M288.4,274.1h.8M289.6,274.0h.8M279.5,267.8h.8M279.2,245.5h.8M272.2,269.9h.8M271.5,261.3h.8M273.0,264.7h.8M277.9,257.0h.8M274.1,238.4h.8M279.5,248.3h.8M277.4,266.0h.8M285.2,269.5h.8M287.8,246.9h.8M283.1,278.7h.8M281.4,250.2h.8M281.4,256.5h.8M275.3,273.4h.8M278.0,250.1h.8M275.1,282.9h.8M274.1,269.2h.8M280.1,274.5h.8M277.5,252.0h.8M275.3,251.1h.8M294.3,264.1h.8M277.2,275.4h.8M282.9,260.1h.8M282.7,264.9h.8M285.7,279.6h.8M277.3,261.7h.8M278.0,275.0h.8M281.3,270.4h.8M284.4,255.3h.8M279.9,276.8h.8M284.5,270.7h.8M277.5,258.2h.8M274.1,259.2h.8M278.7,246.8h.8M285.9,253.9h.8M280.6,268.4h.8M275.9,242.8h.8M284.8,266.4h.8M277.6,274.1h.8M284.3,251.9h.8M278.6,243.3h.8M277.6,277.0h.8M260.4,296.0h.8M255.8,290.6h.8M272.6,300.3h.8M269.2,295.7h.8M254.4,301.2h.8M283.0,294.9h.8M266.6,293.3h.8M266.3,289.0h.8M266.0,291.4h.8M270.7,295.3h.8M272.8,294.9h.8M259.5,298.7h.8M268.4,289.5h.8M278.9,286.7h.8M258.1,289.6h.8M269.0,295.9h.8M266.9,295.2h.8M261.3,289.1h.8M267.0,285.5h.8M267.4,290.1h.8M270.8,287.1h.8M262.5,289.3h.8M263.6,287.2h.8M264.3,285.5h.8M269.8,295.3h.8M266.0,291.1h.8M260.1,287.4h.8M264.6,287.6h.8M258.1,292.8h.8M266.0,290.1h.8M260.6,291.8h.8M261.4,289.9h.8M267.4,295.5h.8M271.3,289.1h.8M274.3,286.4h.8M264.9,298.3h.8M282.2,292.6h.8M263.7,290.2h.8M257.9,291.3h.8M263.2,288.4h.8M274.2,288.3h.8M277.6,296.1h.8M270.5,289.2h.8M268.0,290.7h.8M268.7,288.8h.8M269.4,284.8h.8M274.8,290.3h.8M265.0,284.6h.8M259.3,295.4h.8M261.1,291.8h.8M265.1,301.6h.8M272.1,285.6h.8M262.9,286.5h.8M256.7,288.7h.8M273.6,292.2h.8M270.7,291.4h.8M263.2,292.4h.8M265.6,301.3h.8M278.3,293.8h.8M260.7,295.9h.8M274.4,290.1h.8M264.6,289.8h.8M271.5,292.1h.8M276.3,297.7h.8M264.0,289.1h.8M264.5,287.8h.8M263.3,291.7h.8M272.1,284.4h.8M256.6,288.3h.8M264.0,294.2h.8M260.8,299.3h.8M262.5,291.0h.8M266.5,297.7h.8M268.1,292.1h.8M262.4,292.8h.8M268.8,290.3h.8M265.9,283.1h.8M262.5,297.7h.8M275.7,291.7h.8M263.3,296.9h.8M261.9,298.7h.8M273.9,286.9h.8M264.6,286.1h.8M268.0,290.1h.8M256.0,286.9h.8M267.7,284.6h.8M273.4,294.2h.8M264.9,298.8h.8M259.8,295.3h.8M256.9,290.4h.8M270.4,289.4h.8M265.3,295.2h.8M276.4,298.3h.8M269.2,290.7h.8M256.3,300.3h.8M271.9,291.8h.8M270.8,293.5h.8M264.8,292.0h.8M265.8,297.7h.8M264.3,289.4h.8M270.5,295.1h.8M269.0,293.4h.8M276.0,297.4h.8M267.5,291.0h.8M262.6,288.6h.8M267.2,290.1h.8M282.7,295.6h.8M266.1,290.5h.8M274.4,296.0h.8M272.3,297.9h.8M263.6,288.8h.8M261.2,292.5h.8M272.8,286.9h.8M262.5,285.5h.8M279.5,295.9h.8M267.5,286.1h.8M259.1,288.9h.8M266.3,285.8h.8M264.5,297.9h.8M266.2,292.5h.8M265.1,288.6h.8M256.7,291.7h.8M259.2,289.3h.8M255.3,291.5h.8M272.2,287.9h.8M268.2,284.6h.8M270.0,294.6h.8M263.5,296.3h.8M260.2,292.2h.8M277.4,291.9h.8M258.5,297.6h.8M269.7,290.7h.8M255.8,299.2h.8M268.0,287.9h.8M273.8,299.1h.8M260.4,294.4h.8M255.0,293.8h.8M278.3,285.1h.8M266.4,288.9h.8M265.4,292.4h.8M267.9,296.3h.8M269.5,297.1h.8M272.9,297.4h.8M261.5,294.0h.8M263.6,287.9h.8M279.2,293.4h.8M264.5,295.8h.8M264.7,289.3h.8M276.0,290.5h.8M263.8,291.5h.8M264.5,297.1h.8M269.9,291.7h.8M263.6,290.9h.8M277.4,290.5h.8M270.5,284.3h.8M268.2,295.4h.8M274.6,293.5h.8M269.9,293.6h.8M273.2,302.0h.8M267.4,288.0h.8M270.1,291.5h.8M270.4,295.8h.8M267.1,289.9h.8M268.1,285.9h.8M267.9,287.7h.8M269.1,292.6h.8M264.6,286.1h.8M266.4,288.7h.8M265.1,295.4h.8M272.5,285.7h.8M272.3,298.6h.8M273.6,293.4h.8M265.5,300.5h.8M263.9,284.6h.8M266.7,293.4h.8M259.1,286.1h.8M279.3,292.6h.8M271.3,289.2h.8M255.9,291.1h.8M275.1,288.7h.8M254.1,291.2h.8M264.2,292.1h.8M259.1,290.5h.8M281.8,277.5h.8M292.5,277.3h.8M260.2,271.4h.8M303.6,277.4h.8M289.0,230.6h.8M282.6,269.1h.8M311.3,256.0h.8M281.6,248.4h.8M305.8,277.3h.8M262.2,283.3h.8M276.1,236.2h.8M265.8,249.2h.8M271.1,250.2h.8M292.6,269.3h.8M282.9,234.2h.8M283.9,250.0h.8M262.7,264.5h.8M267.7,231.5h.8M313.4,278.5h.8M312.3,264.1h.8M283.9,260.5h.8M269.3,275.0h.8M294.3,256.7h.8M261.6,260.1h.8M315.1,287.5h.8M303.6,255.8h.8M292.3,271.8h.8M293.2,280.4h.8M253.1,246.0h.8M269.0,273.7h.8M306.7,262.0h.8M298.4,263.4h.8M292.8,253.7h.8M284.0,282.9h.8M286.1,261.3h.8M308.5,279.3h.8M284.2,266.5h.8M274.7,264.3h.8M295.0,262.0h.8M292.7,268.4h.8M291.3,253.4h.8M275.4,257.8h.8M314.8,258.0h.8M280.2,253.6h.8M272.0,270.5h.8M275.1,278.0h.8M304.1,272.1h.8M306.1,260.5h.8M263.2,260.9h.8M300.0,234.8h.8M271.5,281.3h.8M296.9,285.7h.8M300.4,263.2h.8M296.8,276.9h.8M289.8,258.3h.8M295.0,256.5h.8M327.2,248.5h.8M266.9,239.3h.8M306.3,254.9h.8M292.6,258.2h.8M294.5,236.5h.8M291.5,251.9h.8M306.9,273.0h.8M270.9,245.0h.8M298.9,283.0h.8M302.0,259.3h.8M287.4,235.7h.8M275.5,258.3h.8M307.0,254.2h.8M297.1,259.1h.8M319.1,241.6h.8M322.8,236.4h.8M293.4,234.1h.8M301.3,269.3h.8M282.3,276.1h.8M286.1,263.3h.8M323.5,249.4h.8M268.2,246.8h.8M314.3,275.0h.8M257.8,252.3h.8M330.8,240.1h.8M289.3,232.2h.8M318.8,262.2h.8M314.6,253.6h.8M324.3,248.2h.8M317.7,262.0h.8M319.5,296.0h.8M304.2,296.8h.8M283.7,287.1h.8M323.5,294.5h.8M289.9,291.7h.8M301.3,294.3h.8M293.6,297.9h.8M311.6,287.4h.8M287.7,294.2h.8M306.6,292.3h.8M303.3,294.6h.8M288.7,294.2h.8M290.4,296.6h.8M320.2,298.1h.8M295.2,293.7h.8M305.7,293.2h.8M308.2,298.3h.8M310.1,294.0h.8M312.5,294.3h.8M318.6,297.6h.8M304.4,292.8h.8M293.9,294.3h.8M310.0,296.1h.8M301.4,288.8h.8M310.3,296.4h.8M303.4,289.5h.8M305.7,297.0h.8M309.6,299.2h.8M290.0,291.3h.8M305.4,289.1h.8M295.4,299.5h.8M306.9,293.6h.8M295.9,294.2h.8M302.8,289.7h.8M313.2,289.0h.8M319.6,292.7h.8M306.9,290.6h.8M320.5,291.6h.8M319.9,292.3h.8M302.5,288.6h.8M303.9,295.6h.8M302.4,289.6h.8M314.8,297.6h.8M302.0,297.1h.8M315.9,290.1h.8M302.7,286.6h.8M289.9,295.7h.8M291.9,295.6h.8M307.8,285.8h.8M303.4,294.5h.8M294.1,287.6h.8M300.8,290.5h.8M304.6,286.3h.8M293.5,295.3h.8M291.5,297.4h.8M292.3,293.4h.8M320.1,296.1h.8M298.9,288.0h.8M282.6,298.8h.8M309.8,294.2h.8M319.4,294.6h.8M293.8,293.6h.8M301.9,293.9h.8M306.7,293.0h.8" stroke="#222" stroke-opacity="0.42" stroke-width="0.8" fill="none"/>
<rect x="251.9" y="226.4" width="79.1" height="77.79999999999998" fill="none" stroke="#111" stroke-width="1.4"/>
<path d="M247.7,289.2h4.2M247.7,270.7h4.2M247.7,252.7h4.2M247.7,234.7h4.2M249.7,301.8h2.2M249.7,298.6h2.2M249.7,296.4h2.2M249.7,294.6h2.2M249.7,293.2h2.2M249.7,292.0h2.2M249.7,290.9h2.2M249.7,290.0h2.2M249.7,283.8h2.2M249.7,280.6h2.2M249.7,278.4h2.2M249.7,276.6h2.2M249.7,275.2h2.2M249.7,274.0h2.2M249.7,272.9h2.2M249.7,272.0h2.2M249.7,265.3h2.2M249.7,262.1h2.2M249.7,259.9h2.2M249.7,258.1h2.2M249.7,256.7h2.2M249.7,255.5h2.2M249.7,254.4h2.2M249.7,253.5h2.2M249.7,247.3h2.2M249.7,244.1h2.2M249.7,241.9h2.2M249.7,240.1h2.2M249.7,238.7h2.2M249.7,237.5h2.2M249.7,236.4h2.2M249.7,235.5h2.2M249.7,229.3h2.2" stroke="#000" stroke-width="1.05" fill="none"/>
<path d="M268.9,304.2v4.0M286.9,304.2v4.0M304.9,304.2v4.0M322.9,304.2v4.0M256.3,304.2v2.2M259.5,304.2v2.2M261.7,304.2v2.2M263.5,304.2v2.2M264.9,304.2v2.2M266.1,304.2v2.2M267.2,304.2v2.2M268.1,304.2v2.2M274.3,304.2v2.2M277.5,304.2v2.2M279.7,304.2v2.2M281.5,304.2v2.2M282.9,304.2v2.2M284.1,304.2v2.2M285.2,304.2v2.2M286.1,304.2v2.2M292.3,304.2v2.2M295.5,304.2v2.2M297.7,304.2v2.2M299.5,304.2v2.2M300.9,304.2v2.2M302.1,304.2v2.2M303.2,304.2v2.2M304.1,304.2v2.2M310.3,304.2v2.2M313.5,304.2v2.2M315.7,304.2v2.2M317.5,304.2v2.2M318.9,304.2v2.2M320.1,304.2v2.2M321.2,304.2v2.2M322.1,304.2v2.2M328.3,304.2v2.2" stroke="#000" stroke-width="1.05" fill="none"/>
<rect x="253.7" y="154.6" width="19.30000000000001" height="41.5" fill="none" stroke="#8a8a8a" stroke-width="1"/>
<rect x="278.2" y="196.1" width="48.5" height="18.200000000000017" fill="none" stroke="#8a8a8a" stroke-width="1"/>
<rect x="253.7" y="240.7" width="19.30000000000001" height="41.900000000000034" fill="none" stroke="#8a8a8a" stroke-width="1"/>
<rect x="278.7" y="282.6" width="48.5" height="18.399999999999977" fill="none" stroke="#8a8a8a" stroke-width="1"/>
<text x="290.1" y="134.3" font-size="10.2" text-anchor="middle" fill="#231f20" textLength="29.8" lengthAdjust="spacingAndGlyphs" stroke-width="0.16" stroke="#231f20">F6 mix</text>
<text x="256.6" y="152.4" font-size="10.2" fill="#231f20" textLength="10.78" lengthAdjust="spacingAndGlyphs" stroke-width="0.16" stroke="#231f20">48</text>
<text x="323.8" y="152.2" font-size="10.2" text-anchor="end" fill="#231f20" textLength="14.01" lengthAdjust="spacingAndGlyphs" stroke-width="0.16" stroke="#231f20">pre</text>
<text x="326.3" y="194.5" font-size="10.2" text-anchor="end" fill="#231f20" textLength="10.78" lengthAdjust="spacingAndGlyphs" stroke-width="0.16" stroke="#231f20">52</text>
<text x="256.6" y="238.4" font-size="10.2" fill="#231f20" textLength="10.78" lengthAdjust="spacingAndGlyphs" stroke-width="0.16" stroke="#231f20">92</text>
<text x="325.2" y="238.2" font-size="10.2" text-anchor="end" fill="#231f20" textLength="18.32" lengthAdjust="spacingAndGlyphs" stroke-width="0.16" stroke="#231f20">post</text>
<text x="326.5" y="279.5" font-size="10.2" text-anchor="end" fill="#231f20" textLength="5.39" lengthAdjust="spacingAndGlyphs" stroke-width="0.16" stroke="#231f20">3</text>
<text transform="translate(240.6,225.5) rotate(-90)" x="0" y="0" font-size="12.8" text-anchor="middle" fill="#231f20" stroke="#231f20" stroke-width="0.16" textLength="21.8" lengthAdjust="spacingAndGlyphs">GFP</text>
<text x="289.2" y="322" font-size="10.2" text-anchor="middle" fill="#231f20" textLength="29.5" lengthAdjust="spacingAndGlyphs" stroke-width="0.16" stroke="#231f20">MHC II</text>
<text x="94.2" y="366" font-size="10.2" text-anchor="middle" fill="#231f20" textLength="11.48" lengthAdjust="spacingAndGlyphs" stroke-width="0.16" stroke="#231f20">B3</text>
<text x="210.7" y="365.8" font-size="10.2" text-anchor="middle" fill="#231f20" textLength="10.95" lengthAdjust="spacingAndGlyphs" stroke-width="0.16" stroke="#231f20">F6</text>
<rect x="54.7" y="457.50" width="14.50" height="1.49" fill="#9e3645"/>
<rect x="70.5" y="446.45" width="14.10" height="11.05" fill="#9e3645"/>
<line x1="77.55" y1="446.45" x2="77.55" y2="446.025" stroke="#111" stroke-width="1.3"/>
<line x1="73.64999999999999" y1="446.025" x2="81.45" y2="446.025" stroke="#111" stroke-width="1.3"/>
<rect x="86.2" y="443.05" width="14.00" height="14.45" fill="#9e3645"/>
<line x1="93.2" y1="443.05" x2="93.2" y2="441.35" stroke="#111" stroke-width="1.3"/>
<line x1="89.3" y1="441.35" x2="97.10000000000001" y2="441.35" stroke="#111" stroke-width="1.3"/>
<rect x="102.1" y="441.56" width="13.90" height="15.94" fill="#9e3645"/>
<line x1="109.05" y1="441.5625" x2="109.05" y2="441.1375" stroke="#111" stroke-width="1.3"/>
<line x1="105.14999999999999" y1="441.1375" x2="112.95" y2="441.1375" stroke="#111" stroke-width="1.3"/>
<rect x="118.0" y="418.82" width="14.40" height="38.68" fill="#9e3645"/>
<line x1="125.2" y1="418.825" x2="125.2" y2="418.1875" stroke="#111" stroke-width="1.3"/>
<line x1="121.3" y1="418.1875" x2="129.1" y2="418.1875" stroke="#111" stroke-width="1.3"/>
<line x1="52.3" y1="369.5" x2="52.3" y2="543.6" stroke="#231f20" stroke-width="1.3"/>
<line x1="51.699999999999996" y1="457.5" x2="137.3" y2="457.5" stroke="#231f20" stroke-width="1.2"/>
<line x1="51.699999999999996" y1="543" x2="137.3" y2="543" stroke="#231f20" stroke-width="1.3"/>
<line x1="48.5" y1="372.5" x2="52.3" y2="372.5" stroke="#231f20" stroke-width="1.1"/>
<text x="43.5" y="375.5" font-size="10.4" text-anchor="end" fill="#231f20" textLength="10.76" lengthAdjust="spacingAndGlyphs" stroke-width="0.16" stroke="#231f20">40</text>
<line x1="48.5" y1="415" x2="52.3" y2="415" stroke="#231f20" stroke-width="1.1"/>
<text x="43.5" y="418.0" font-size="10.4" text-anchor="end" fill="#231f20" textLength="10.76" lengthAdjust="spacingAndGlyphs" stroke-width="0.16" stroke="#231f20">20</text>
<line x1="48.5" y1="457.5" x2="52.3" y2="457.5" stroke="#231f20" stroke-width="1.1"/>
<text x="43.5" y="460.5" font-size="10.4" text-anchor="end" fill="#231f20" textLength="5.38" lengthAdjust="spacingAndGlyphs" stroke-width="0.16" stroke="#231f20">0</text>
<line x1="48.5" y1="500.0" x2="52.3" y2="500.0" stroke="#231f20" stroke-width="1.1"/>
<text x="43.5" y="503.0" font-size="10.4" text-anchor="end" fill="#231f20" textLength="13.98" lengthAdjust="spacingAndGlyphs" stroke-width="0.16" stroke="#231f20">-20</text>
<line x1="48.5" y1="542.5" x2="52.3" y2="542.5" stroke="#231f20" stroke-width="1.1"/>
<text x="43.5" y="545.5" font-size="10.4" text-anchor="end" fill="#231f20" textLength="13.98" lengthAdjust="spacingAndGlyphs" stroke-width="0.16" stroke="#231f20">-40</text>
<line x1="62.7" y1="543" x2="62.7" y2="547.3" stroke="#231f20" stroke-width="1.1"/>
<text x="62.7" y="560" font-size="10.2" text-anchor="middle" fill="#231f20" textLength="5.28" lengthAdjust="spacingAndGlyphs" stroke-width="0.16" stroke="#231f20">0</text>
<line x1="78.8" y1="543" x2="78.8" y2="547.3" stroke="#231f20" stroke-width="1.1"/>
<text x="78.8" y="560" font-size="10.2" text-anchor="middle" fill="#231f20" textLength="5.28" lengthAdjust="spacingAndGlyphs" stroke-width="0.16" stroke="#231f20">4</text>
<line x1="94.7" y1="543" x2="94.7" y2="547.3" stroke="#231f20" stroke-width="1.1"/>
<text x="94.7" y="560" font-size="10.2" text-anchor="middle" fill="#231f20" textLength="5.28" lengthAdjust="spacingAndGlyphs" stroke-width="0.16" stroke="#231f20">7</text>
<line x1="110.5" y1="543" x2="110.5" y2="547.3" stroke="#231f20" stroke-width="1.1"/>
<text x="110.5" y="560" font-size="10.2" text-anchor="middle" fill="#231f20" textLength="10.55" lengthAdjust="spacingAndGlyphs" stroke-width="0.16" stroke="#231f20">10</text>
<line x1="126.5" y1="543" x2="126.5" y2="547.3" stroke="#231f20" stroke-width="1.1"/>
<text x="126.5" y="560" font-size="10.2" text-anchor="middle" fill="#231f20" textLength="10.55" lengthAdjust="spacingAndGlyphs" stroke-width="0.16" stroke="#231f20">13</text>
<rect x="172.3" y="457.50" width="18.00" height="6.16" fill="#79a55b"/>
<line x1="181.3" y1="463.6625" x2="181.3" y2="464.725" stroke="#111" stroke-width="1.3"/>
<line x1="177.4" y1="464.725" x2="185.20000000000002" y2="464.725" stroke="#111" stroke-width="1.3"/>
<rect x="192.1" y="436.25" width="18.00" height="21.25" fill="#79a55b"/>
<line x1="201.1" y1="436.25" x2="201.1" y2="433.7" stroke="#111" stroke-width="1.3"/>
<line x1="197.2" y1="433.7" x2="205.0" y2="433.7" stroke="#111" stroke-width="1.3"/>
<rect x="211.9" y="409.05" width="18.00" height="48.45" fill="#79a55b"/>
<line x1="220.9" y1="409.05" x2="220.9" y2="396.3" stroke="#111" stroke-width="1.3"/>
<line x1="217.0" y1="396.3" x2="224.8" y2="396.3" stroke="#111" stroke-width="1.3"/>
<rect x="231.6" y="393.96" width="17.70" height="63.54" fill="#79a55b"/>
<line x1="240.45" y1="393.9625" x2="240.45" y2="382.0625" stroke="#111" stroke-width="1.3"/>
<line x1="236.54999999999998" y1="382.0625" x2="244.35" y2="382.0625" stroke="#111" stroke-width="1.3"/>
<line x1="169.0" y1="369.5" x2="169.0" y2="543.6" stroke="#231f20" stroke-width="1.3"/>
<line x1="168.4" y1="457.5" x2="254.4" y2="457.5" stroke="#231f20" stroke-width="1.2"/>
<line x1="168.4" y1="543" x2="254.4" y2="543" stroke="#231f20" stroke-width="1.3"/>
<line x1="165.2" y1="372.5" x2="169.0" y2="372.5" stroke="#231f20" stroke-width="1.1"/>
<text x="160.2" y="375.5" font-size="10.4" text-anchor="end" fill="#231f20" textLength="10.76" lengthAdjust="spacingAndGlyphs" stroke-width="0.16" stroke="#231f20">40</text>
<line x1="165.2" y1="415" x2="169.0" y2="415" stroke="#231f20" stroke-width="1.1"/>
<text x="160.2" y="418.0" font-size="10.4" text-anchor="end" fill="#231f20" textLength="10.76" lengthAdjust="spacingAndGlyphs" stroke-width="0.16" stroke="#231f20">20</text>
<line x1="165.2" y1="457.5" x2="169.0" y2="457.5" stroke="#231f20" stroke-width="1.1"/>
<text x="160.2" y="460.5" font-size="10.4" text-anchor="end" fill="#231f20" textLength="5.38" lengthAdjust="spacingAndGlyphs" stroke-width="0.16" stroke="#231f20">0</text>
<line x1="165.2" y1="500.0" x2="169.0" y2="500.0" stroke="#231f20" stroke-width="1.1"/>
<text x="160.2" y="503.0" font-size="10.4" text-anchor="end" fill="#231f20" textLength="13.98" lengthAdjust="spacingAndGlyphs" stroke-width="0.16" stroke="#231f20">-20</text>
<line x1="165.2" y1="542.5" x2="169.0" y2="542.5" stroke="#231f20" stroke-width="1.1"/>
<text x="160.2" y="545.5" font-size="10.4" text-anchor="end" fill="#231f20" textLength="13.98" lengthAdjust="spacingAndGlyphs" stroke-width="0.16" stroke="#231f20">-40</text>
<line x1="180.9" y1="543" x2="180.9" y2="547.3" stroke="#231f20" stroke-width="1.1"/>
<text x="180.9" y="560" font-size="10.2" text-anchor="middle" fill="#231f20" textLength="5.28" lengthAdjust="spacingAndGlyphs" stroke-width="0.16" stroke="#231f20">0</text>
<line x1="200.8" y1="543" x2="200.8" y2="547.3" stroke="#231f20" stroke-width="1.1"/>
<text x="200.8" y="560" font-size="10.2" text-anchor="middle" fill="#231f20" textLength="5.28" lengthAdjust="spacingAndGlyphs" stroke-width="0.16" stroke="#231f20">4</text>
<line x1="220.5" y1="543" x2="220.5" y2="547.3" stroke="#231f20" stroke-width="1.1"/>
<text x="220.5" y="560" font-size="10.2" text-anchor="middle" fill="#231f20" textLength="5.28" lengthAdjust="spacingAndGlyphs" stroke-width="0.16" stroke="#231f20">5</text>
<line x1="240.2" y1="543" x2="240.2" y2="547.3" stroke="#231f20" stroke-width="1.1"/>
<text x="240.2" y="560" font-size="10.2" text-anchor="middle" fill="#231f20" textLength="5.28" lengthAdjust="spacingAndGlyphs" stroke-width="0.16" stroke="#231f20">6</text>
<text x="105.8" y="576.5" font-size="11.6" fill="#231f20" stroke-width="0.16" stroke="#231f20">Days in co-culture</text>
<text transform="translate(21.6,455.5) rotate(-90)" x="0" y="0" font-size="12.6" text-anchor="middle" fill="#231f20" stroke="#231f20" stroke-width="0.16" textLength="81.5" lengthAdjust="spacingAndGlyphs">MHC II<tspan dy="-4.5" font-size="8">&#8211;</tspan><tspan dy="4.5"> cells, %</tspan></text>
<text x="220.3" y="395.1" font-size="9.5" text-anchor="middle" fill="#8fcc6f" stroke="#8fcc6f" stroke-width="0.3">*</text>
<text x="240" y="381.1" font-size="9.5" text-anchor="middle" fill="#8fcc6f" stroke="#8fcc6f" stroke-width="0.3">**</text>
<text x="349.5" y="365.8" font-size="10.2" text-anchor="middle" fill="#231f20" textLength="11.48" lengthAdjust="spacingAndGlyphs" stroke-width="0.16" stroke="#231f20">B3</text>
<text x="452.5" y="365.8" font-size="10.2" text-anchor="middle" fill="#231f20" textLength="10.95" lengthAdjust="spacingAndGlyphs" stroke-width="0.16" stroke="#231f20">F6</text>
<line x1="307.8" y1="368" x2="307.8" y2="543.4" stroke="#231f20" stroke-width="1.3"/>
<line x1="307.2" y1="542.8" x2="392.0" y2="542.8" stroke="#231f20" stroke-width="1.3"/>
<line x1="304.0" y1="371.79999999999995" x2="307.8" y2="371.79999999999995" stroke="#231f20" stroke-width="1.1"/>
<text x="299.4" y="374.79999999999995" font-size="10.4" text-anchor="end" fill="#231f20" textLength="5.38" lengthAdjust="spacingAndGlyphs" stroke-width="0.16" stroke="#231f20">3</text>
<line x1="304.0" y1="428.79999999999995" x2="307.8" y2="428.79999999999995" stroke="#231f20" stroke-width="1.1"/>
<text x="299.4" y="431.79999999999995" font-size="10.4" text-anchor="end" fill="#231f20" textLength="5.38" lengthAdjust="spacingAndGlyphs" stroke-width="0.16" stroke="#231f20">2</text>
<line x1="304.0" y1="485.79999999999995" x2="307.8" y2="485.79999999999995" stroke="#231f20" stroke-width="1.1"/>
<text x="299.4" y="488.79999999999995" font-size="10.4" text-anchor="end" fill="#231f20" textLength="5.38" lengthAdjust="spacingAndGlyphs" stroke-width="0.16" stroke="#231f20">1</text>
<line x1="304.0" y1="542.8" x2="307.8" y2="542.8" stroke="#231f20" stroke-width="1.1"/>
<text x="299.4" y="545.8" font-size="10.4" text-anchor="end" fill="#231f20" textLength="5.38" lengthAdjust="spacingAndGlyphs" stroke-width="0.16" stroke="#231f20">0</text>
<line x1="410.6" y1="368" x2="410.6" y2="543.4" stroke="#231f20" stroke-width="1.3"/>
<line x1="410.0" y1="542.8" x2="496.0" y2="542.8" stroke="#231f20" stroke-width="1.3"/>
<line x1="406.8" y1="371.79999999999995" x2="410.6" y2="371.79999999999995" stroke="#231f20" stroke-width="1.1"/>
<text x="402.2" y="374.79999999999995" font-size="10.4" text-anchor="end" fill="#231f20" textLength="5.38" lengthAdjust="spacingAndGlyphs" stroke-width="0.16" stroke="#231f20">3</text>
<line x1="406.8" y1="428.79999999999995" x2="410.6" y2="428.79999999999995" stroke="#231f20" stroke-width="1.1"/>
<text x="402.2" y="431.79999999999995" font-size="10.4" text-anchor="end" fill="#231f20" textLength="5.38" lengthAdjust="spacingAndGlyphs" stroke-width="0.16" stroke="#231f20">2</text>
<line x1="406.8" y1="485.79999999999995" x2="410.6" y2="485.79999999999995" stroke="#231f20" stroke-width="1.1"/>
<text x="402.2" y="488.79999999999995" font-size="10.4" text-anchor="end" fill="#231f20" textLength="5.38" lengthAdjust="spacingAndGlyphs" stroke-width="0.16" stroke="#231f20">1</text>
<line x1="406.8" y1="542.8" x2="410.6" y2="542.8" stroke="#231f20" stroke-width="1.1"/>
<text x="402.2" y="545.8" font-size="10.4" text-anchor="end" fill="#231f20" textLength="5.38" lengthAdjust="spacingAndGlyphs" stroke-width="0.16" stroke="#231f20">0</text>
<text transform="translate(285.8,455.2) rotate(-90)" x="0" y="0" font-size="12.4" text-anchor="middle" fill="#231f20" stroke="#231f20" stroke-width="0.16" textLength="79" lengthAdjust="spacingAndGlyphs">Growth rate, m</text>
<line x1="322.3" y1="409.5" x2="345.3" y2="409.5" stroke="#3a3a3a" stroke-width="1.1"/>
<line x1="333.8" y1="400.3" x2="333.8" y2="418.5" stroke="#3a3a3a" stroke-width="1.1"/>
<line x1="328.8" y1="400.3" x2="338.8" y2="400.3" stroke="#3a3a3a" stroke-width="1.1"/>
<line x1="328.8" y1="418.5" x2="338.8" y2="418.5" stroke="#3a3a3a" stroke-width="1.1"/>
<circle cx="325.1" cy="394.2" r="2.35" fill="#bf3a50" stroke="#111" stroke-width="1.2"/>
<circle cx="329.8" cy="396.5" r="2.35" fill="#bf3a50" stroke="#111" stroke-width="1.2"/>
<circle cx="334.2" cy="399.5" r="2.35" fill="#bf3a50" stroke="#111" stroke-width="1.2"/>
<circle cx="338.6" cy="396.5" r="2.35" fill="#bf3a50" stroke="#111" stroke-width="1.2"/>
<circle cx="342.9" cy="393.2" r="2.35" fill="#bf3a50" stroke="#111" stroke-width="1.2"/>
<circle cx="323.7" cy="400.6" r="2.35" fill="#bf3a50" stroke="#111" stroke-width="1.2"/>
<circle cx="327.8" cy="404.9" r="2.35" fill="#bf3a50" stroke="#111" stroke-width="1.2"/>
<circle cx="332.5" cy="408.6" r="2.35" fill="#bf3a50" stroke="#111" stroke-width="1.2"/>
<circle cx="337.2" cy="406.6" r="2.35" fill="#bf3a50" stroke="#111" stroke-width="1.2"/>
<circle cx="341.2" cy="403.3" r="2.35" fill="#bf3a50" stroke="#111" stroke-width="1.2"/>
<circle cx="343.5" cy="400.6" r="2.35" fill="#bf3a50" stroke="#111" stroke-width="1.2"/>
<circle cx="325" cy="404" r="2.35" fill="#bf3a50" stroke="#111" stroke-width="1.2"/>
<circle cx="339.9" cy="404.6" r="2.35" fill="#bf3a50" stroke="#111" stroke-width="1.2"/>
<circle cx="330.5" cy="402.5" r="2.35" fill="#bf3a50" stroke="#111" stroke-width="1.2"/>
<circle cx="335.5" cy="403" r="2.35" fill="#bf3a50" stroke="#111" stroke-width="1.2"/>
<circle cx="324.4" cy="410.3" r="2.35" fill="#bf3a50" stroke="#111" stroke-width="1.2"/>
<circle cx="329.1" cy="413.6" r="2.35" fill="#bf3a50" stroke="#111" stroke-width="1.2"/>
<circle cx="332.5" cy="416" r="2.35" fill="#bf3a50" stroke="#111" stroke-width="1.2"/>
<circle cx="337.9" cy="412.7" r="2.35" fill="#bf3a50" stroke="#111" stroke-width="1.2"/>
<circle cx="343.3" cy="409.7" r="2.35" fill="#bf3a50" stroke="#111" stroke-width="1.2"/>
<circle cx="335.2" cy="411.3" r="2.35" fill="#bf3a50" stroke="#111" stroke-width="1.2"/>
<circle cx="327" cy="408" r="2.35" fill="#bf3a50" stroke="#111" stroke-width="1.2"/>
<circle cx="340.5" cy="408" r="2.35" fill="#bf3a50" stroke="#111" stroke-width="1.2"/>
<circle cx="325.1" cy="420.4" r="2.35" fill="#bf3a50" stroke="#111" stroke-width="1.2"/>
<circle cx="328.5" cy="423.2" r="2.35" fill="#bf3a50" stroke="#111" stroke-width="1.2"/>
<circle cx="332.2" cy="425.9" r="2.35" fill="#bf3a50" stroke="#111" stroke-width="1.2"/>
<circle cx="336.5" cy="428.2" r="2.35" fill="#bf3a50" stroke="#111" stroke-width="1.2"/>
<circle cx="333.8" cy="428.8" r="2.35" fill="#bf3a50" stroke="#111" stroke-width="1.2"/>
<circle cx="339" cy="423.5" r="2.35" fill="#bf3a50" stroke="#111" stroke-width="1.2"/>
<circle cx="343" cy="421.4" r="2.35" fill="#bf3a50" stroke="#111" stroke-width="1.2"/>
<circle cx="330" cy="419" r="2.35" fill="#bf3a50" stroke="#111" stroke-width="1.2"/>
<circle cx="338" cy="418" r="2.35" fill="#bf3a50" stroke="#111" stroke-width="1.2"/>
<line x1="354.5" y1="432.2" x2="379.5" y2="432.2" stroke="#3a3a3a" stroke-width="1.1"/>
<line x1="367" y1="414.5" x2="367" y2="449" stroke="#3a3a3a" stroke-width="1.1"/>
<line x1="362" y1="414.5" x2="372" y2="414.5" stroke="#3a3a3a" stroke-width="1.1"/>
<line x1="362" y1="449" x2="372" y2="449" stroke="#3a3a3a" stroke-width="1.1"/>
<path d="M366.8,393.30L369.40,395.9L366.8,398.50L364.20,395.9Z" fill="#bf3a50" stroke="#111" stroke-width="1.25"/>
<path d="M357.1,411.00L359.70,413.6L357.1,416.20L354.50,413.6Z" fill="#bf3a50" stroke="#111" stroke-width="1.25"/>
<path d="M376.9,410.50L379.50,413.1L376.9,415.70L374.30,413.1Z" fill="#bf3a50" stroke="#111" stroke-width="1.25"/>
<path d="M363.5,415.20L366.10,417.8L363.5,420.40L360.90,417.8Z" fill="#bf3a50" stroke="#111" stroke-width="1.25"/>
<path d="M370.2,414.40L372.80,417L370.2,419.60L367.60,417Z" fill="#bf3a50" stroke="#111" stroke-width="1.25"/>
<path d="M374.2,416.10L376.80,418.7L374.2,421.30L371.60,418.7Z" fill="#bf3a50" stroke="#111" stroke-width="1.25"/>
<path d="M358.7,417.50L361.30,420.1L358.7,422.70L356.10,420.1Z" fill="#bf3a50" stroke="#111" stroke-width="1.25"/>
<path d="M360.8,420.90L363.40,423.5L360.8,426.10L358.20,423.5Z" fill="#bf3a50" stroke="#111" stroke-width="1.25"/>
<path d="M366.8,418.80L369.40,421.4L366.8,424.00L364.20,421.4Z" fill="#bf3a50" stroke="#111" stroke-width="1.25"/>
<path d="M371.5,419.50L374.10,422.1L371.5,424.70L368.90,422.1Z" fill="#bf3a50" stroke="#111" stroke-width="1.25"/>
<path d="M376.2,417.50L378.80,420.1L376.2,422.70L373.60,420.1Z" fill="#bf3a50" stroke="#111" stroke-width="1.25"/>
<path d="M361.4,422.20L364.00,424.8L361.4,427.40L358.80,424.8Z" fill="#bf3a50" stroke="#111" stroke-width="1.25"/>
<path d="M365.5,424.20L368.10,426.8L365.5,429.40L362.90,426.8Z" fill="#bf3a50" stroke="#111" stroke-width="1.25"/>
<path d="M370.2,424.90L372.80,427.5L370.2,430.10L367.60,427.5Z" fill="#bf3a50" stroke="#111" stroke-width="1.25"/>
<path d="M356.7,426.20L359.30,428.8L356.7,431.40L354.10,428.8Z" fill="#bf3a50" stroke="#111" stroke-width="1.25"/>
<path d="M374.2,426.90L376.80,429.5L374.2,432.10L371.60,429.5Z" fill="#bf3a50" stroke="#111" stroke-width="1.25"/>
<path d="M376.9,425.60L379.50,428.2L376.9,430.80L374.30,428.2Z" fill="#bf3a50" stroke="#111" stroke-width="1.25"/>
<path d="M359.4,427.60L362.00,430.2L359.4,432.80L356.80,430.2Z" fill="#bf3a50" stroke="#111" stroke-width="1.25"/>
<path d="M363.5,430.90L366.10,433.5L363.5,436.10L360.90,433.5Z" fill="#bf3a50" stroke="#111" stroke-width="1.25"/>
<path d="M368.2,430.30L370.80,432.9L368.2,435.50L365.60,432.9Z" fill="#bf3a50" stroke="#111" stroke-width="1.25"/>
<path d="M371.5,428.90L374.10,431.5L371.5,434.10L368.90,431.5Z" fill="#bf3a50" stroke="#111" stroke-width="1.25"/>
<path d="M364.8,433.60L367.40,436.2L364.8,438.80L362.20,436.2Z" fill="#bf3a50" stroke="#111" stroke-width="1.25"/>
<path d="M367.5,434.30L370.10,436.9L367.5,439.50L364.90,436.9Z" fill="#bf3a50" stroke="#111" stroke-width="1.25"/>
<path d="M357.1,438.60L359.70,441.2L357.1,443.80L354.50,441.2Z" fill="#bf3a50" stroke="#111" stroke-width="1.25"/>
<path d="M376.9,442.70L379.50,445.3L376.9,447.90L374.30,445.3Z" fill="#bf3a50" stroke="#111" stroke-width="1.25"/>
<path d="M363.5,446.40L366.10,449L363.5,451.60L360.90,449Z" fill="#bf3a50" stroke="#111" stroke-width="1.25"/>
<path d="M370.2,446.40L372.80,449L370.2,451.60L367.60,449Z" fill="#bf3a50" stroke="#111" stroke-width="1.25"/>
<path d="M371.5,451.80L374.10,454.4L371.5,457.00L368.90,454.4Z" fill="#bf3a50" stroke="#111" stroke-width="1.25"/>
<path d="M362.8,455.90L365.40,458.5L362.8,461.10L360.20,458.5Z" fill="#bf3a50" stroke="#111" stroke-width="1.25"/>
<path d="M357.1,459.60L359.70,462.2L357.1,464.80L354.50,462.2Z" fill="#bf3a50" stroke="#111" stroke-width="1.25"/>
<path d="M376.9,459.60L379.50,462.2L376.9,464.80L374.30,462.2Z" fill="#bf3a50" stroke="#111" stroke-width="1.25"/>
<path d="M363.7,463.70L366.30,466.3L363.7,468.90L361.10,466.3Z" fill="#bf3a50" stroke="#111" stroke-width="1.25"/>
<path d="M370.2,467.00L372.80,469.6L370.2,472.20L367.60,469.6Z" fill="#bf3a50" stroke="#111" stroke-width="1.25"/>
<path d="M366.6,480.20L369.20,482.8L366.6,485.40L364.00,482.8Z" fill="#bf3a50" stroke="#111" stroke-width="1.25"/>
<line x1="418.40000000000003" y1="418.9" x2="442.8" y2="418.9" stroke="#3a3a3a" stroke-width="1.1"/>
<line x1="430.6" y1="398.6" x2="430.6" y2="439.4" stroke="#3a3a3a" stroke-width="1.1"/>
<line x1="426.0" y1="398.6" x2="435.20000000000005" y2="398.6" stroke="#3a3a3a" stroke-width="1.1"/>
<line x1="426.0" y1="439.4" x2="435.20000000000005" y2="439.4" stroke="#3a3a3a" stroke-width="1.1"/>
<circle cx="424.7" cy="391.3" r="2.35" fill="#80ba60" stroke="#111" stroke-width="1.2"/>
<circle cx="436.9" cy="390.8" r="2.35" fill="#80ba60" stroke="#111" stroke-width="1.2"/>
<circle cx="431.2" cy="398.6" r="2.35" fill="#80ba60" stroke="#111" stroke-width="1.2"/>
<circle cx="425.2" cy="406.4" r="2.35" fill="#80ba60" stroke="#111" stroke-width="1.2"/>
<circle cx="436.4" cy="407.2" r="2.35" fill="#80ba60" stroke="#111" stroke-width="1.2"/>
<circle cx="431.2" cy="410.3" r="2.35" fill="#80ba60" stroke="#111" stroke-width="1.2"/>
<circle cx="426.5" cy="412.1" r="2.35" fill="#80ba60" stroke="#111" stroke-width="1.2"/>
<circle cx="435.6" cy="412.4" r="2.35" fill="#80ba60" stroke="#111" stroke-width="1.2"/>
<circle cx="429.1" cy="416" r="2.35" fill="#80ba60" stroke="#111" stroke-width="1.2"/>
<circle cx="432.5" cy="419.4" r="2.35" fill="#80ba60" stroke="#111" stroke-width="1.2"/>
<circle cx="426.5" cy="427.9" r="2.35" fill="#80ba60" stroke="#111" stroke-width="1.2"/>
<circle cx="435.1" cy="425.9" r="2.35" fill="#80ba60" stroke="#111" stroke-width="1.2"/>
<circle cx="424.7" cy="446.1" r="2.35" fill="#80ba60" stroke="#111" stroke-width="1.2"/>
<circle cx="431" cy="449.2" r="2.35" fill="#80ba60" stroke="#111" stroke-width="1.2"/>
<circle cx="436.9" cy="444.6" r="2.35" fill="#80ba60" stroke="#111" stroke-width="1.2"/>
<circle cx="430.7" cy="463.5" r="2.35" fill="#80ba60" stroke="#111" stroke-width="1.2"/>
<line x1="463.79999999999995" y1="445.7" x2="488.0" y2="445.7" stroke="#3a3a3a" stroke-width="1.1"/>
<line x1="475.9" y1="418.2" x2="475.9" y2="472.7" stroke="#3a3a3a" stroke-width="1.1"/>
<line x1="472.59999999999997" y1="418.2" x2="479.2" y2="418.2" stroke="#3a3a3a" stroke-width="1.1"/>
<line x1="472.59999999999997" y1="472.7" x2="479.2" y2="472.7" stroke="#3a3a3a" stroke-width="1.1"/>
<path d="M475.7,387.90L478.30,390.5L475.7,393.10L473.10,390.5Z" fill="#80ba60" stroke="#111" stroke-width="1.25"/>
<path d="M469.8,400.00L472.40,402.6L469.8,405.20L467.20,402.6Z" fill="#80ba60" stroke="#111" stroke-width="1.25"/>
<path d="M472.9,403.80L475.50,406.4L472.9,409.00L470.30,406.4Z" fill="#80ba60" stroke="#111" stroke-width="1.25"/>
<path d="M481.6,401.80L484.20,404.4L481.6,407.00L479.00,404.4Z" fill="#80ba60" stroke="#111" stroke-width="1.25"/>
<path d="M475.3,408.80L477.90,411.4L475.3,414.00L472.70,411.4Z" fill="#80ba60" stroke="#111" stroke-width="1.25"/>
<path d="M478.9,407.40L481.50,410L478.9,412.60L476.30,410Z" fill="#80ba60" stroke="#111" stroke-width="1.25"/>
<path d="M481.9,410.40L484.50,413L481.9,415.60L479.30,413Z" fill="#80ba60" stroke="#111" stroke-width="1.25"/>
<path d="M469.8,415.60L472.40,418.2L469.8,420.80L467.20,418.2Z" fill="#80ba60" stroke="#111" stroke-width="1.25"/>
<path d="M476.2,417.90L478.80,420.5L476.2,423.10L473.60,420.5Z" fill="#80ba60" stroke="#111" stroke-width="1.25"/>
<path d="M469.8,423.40L472.40,426L469.8,428.60L467.20,426Z" fill="#80ba60" stroke="#111" stroke-width="1.25"/>
<path d="M481.6,425.90L484.20,428.5L481.6,431.10L479.00,428.5Z" fill="#80ba60" stroke="#111" stroke-width="1.25"/>
<path d="M475.9,431.00L478.50,433.6L475.9,436.20L473.30,433.6Z" fill="#80ba60" stroke="#111" stroke-width="1.25"/>
<path d="M471.5,433.80L474.10,436.4L471.5,439.00L468.90,436.4Z" fill="#80ba60" stroke="#111" stroke-width="1.25"/>
<path d="M469.3,434.90L471.90,437.5L469.3,440.10L466.70,437.5Z" fill="#80ba60" stroke="#111" stroke-width="1.25"/>
<path d="M480,434.10L482.60,436.7L480,439.30L477.40,436.7Z" fill="#80ba60" stroke="#111" stroke-width="1.25"/>
<path d="M482.5,438.00L485.10,440.6L482.5,443.20L479.90,440.6Z" fill="#80ba60" stroke="#111" stroke-width="1.25"/>
<path d="M472,441.10L474.60,443.7L472,446.30L469.40,443.7Z" fill="#80ba60" stroke="#111" stroke-width="1.25"/>
<path d="M477,442.40L479.60,445L477,447.60L474.40,445Z" fill="#80ba60" stroke="#111" stroke-width="1.25"/>
<path d="M480.3,441.50L482.90,444.1L480.3,446.70L477.70,444.1Z" fill="#80ba60" stroke="#111" stroke-width="1.25"/>
<path d="M471.5,448.40L474.10,451L471.5,453.60L468.90,451Z" fill="#80ba60" stroke="#111" stroke-width="1.25"/>
<path d="M480.3,446.20L482.90,448.8L480.3,451.40L477.70,448.8Z" fill="#80ba60" stroke="#111" stroke-width="1.25"/>
<path d="M478.4,450.60L481.00,453.2L478.4,455.80L475.80,453.2Z" fill="#80ba60" stroke="#111" stroke-width="1.25"/>
<path d="M473.7,452.30L476.30,454.9L473.7,457.50L471.10,454.9Z" fill="#80ba60" stroke="#111" stroke-width="1.25"/>
<path d="M471.5,454.50L474.10,457.1L471.5,459.70L468.90,457.1Z" fill="#80ba60" stroke="#111" stroke-width="1.25"/>
<path d="M480.3,456.90L482.90,459.5L480.3,462.10L477.70,459.5Z" fill="#80ba60" stroke="#111" stroke-width="1.25"/>
<path d="M473.3,460.20L475.90,462.8L473.3,465.40L470.70,462.8Z" fill="#80ba60" stroke="#111" stroke-width="1.25"/>
<path d="M478.1,462.80L480.70,465.4L478.1,468.00L475.50,465.4Z" fill="#80ba60" stroke="#111" stroke-width="1.25"/>
<path d="M469.8,465.00L472.40,467.6L469.8,470.20L467.20,467.6Z" fill="#80ba60" stroke="#111" stroke-width="1.25"/>
<path d="M481.9,465.30L484.50,467.9L481.9,470.50L479.30,467.9Z" fill="#80ba60" stroke="#111" stroke-width="1.25"/>
<path d="M472.6,468.30L475.20,470.9L472.6,473.50L470.00,470.9Z" fill="#80ba60" stroke="#111" stroke-width="1.25"/>
<path d="M479.5,468.60L482.10,471.2L479.5,473.80L476.90,471.2Z" fill="#80ba60" stroke="#111" stroke-width="1.25"/>
<path d="M474.8,471.00L477.40,473.6L474.8,476.20L472.20,473.6Z" fill="#80ba60" stroke="#111" stroke-width="1.25"/>
<path d="M477.5,473.20L480.10,475.8L477.5,478.40L474.90,475.8Z" fill="#80ba60" stroke="#111" stroke-width="1.25"/>
<path d="M471.4,483.90L474.00,486.5L471.4,489.10L468.80,486.5Z" fill="#80ba60" stroke="#111" stroke-width="1.25"/>
<path d="M480.4,485.10L483.00,487.7L480.4,490.30L477.80,487.7Z" fill="#80ba60" stroke="#111" stroke-width="1.25"/>
<path d="M476,501.00L478.60,503.6L476,506.20L473.40,503.6Z" fill="#80ba60" stroke="#111" stroke-width="1.25"/>
<text x="332.9" y="386.1" font-size="9.5" text-anchor="middle" fill="#d9667a" stroke="#d9667a" stroke-width="0.3">*</text>
<text x="430.4" y="383.20000000000005" font-size="9.5" text-anchor="middle" fill="#8fcc6f" stroke="#8fcc6f" stroke-width="0.3">*</text>
<circle cx="362.8" cy="557.1" r="4.4" fill="none" stroke="#111" stroke-width="1.1"/>
<path d="M363,565.4L368.4,570.8L363,576.2L357.6,570.8Z" fill="none" stroke="#111" stroke-width="1.1"/>
<text x="374.2" y="561.8" font-size="9.0" fill="#231f20" textLength="16.6" lengthAdjust="spacingAndGlyphs" stroke-width="0.16" stroke="#231f20">GFP</text>
<text x="393.1" y="558.6" font-size="8.4" text-anchor="middle" fill="#231f20" stroke-width="0.1" stroke="#231f20">+</text>
<text x="375.3" y="575.3" font-size="9.0" fill="#231f20" textLength="26.8" lengthAdjust="spacingAndGlyphs" stroke-width="0.16" stroke="#231f20">MHC II</text>
<text x="405.1" y="572.2" font-size="8.4" text-anchor="middle" fill="#231f20" stroke-width="0.1" stroke="#231f20">+</text>
<path d="M99.7,682.1h.8M109.9,695.5h.8M103.2,682.0h.8M94.4,686.4h.8M108.8,690.7h.8M95.8,684.0h.8M99.3,694.9h.8M102.6,682.1h.8M98.8,693.4h.8M102.5,692.9h.8M97.3,693.5h.8M94.9,687.8h.8M102.0,688.7h.8M98.1,693.1h.8M98.3,684.5h.8M106.7,688.8h.8M99.2,695.4h.8M105.6,694.1h.8M102.2,695.7h.8M100.7,681.3h.8M103.0,679.6h.8M109.3,692.4h.8M94.6,689.0h.8M107.3,685.8h.8M105.1,684.5h.8M102.7,687.5h.8M105.5,682.2h.8M97.4,690.0h.8M100.5,691.1h.8M100.5,680.1h.8M106.7,689.6h.8M106.7,686.0h.8M101.2,695.6h.8M105.6,687.7h.8M103.5,691.6h.8M99.2,689.7h.8M104.0,688.6h.8M106.3,691.3h.8M106.5,692.8h.8M97.7,695.3h.8M96.7,692.1h.8M107.6,694.1h.8M110.7,679.7h.8M104.9,690.8h.8M109.3,682.6h.8M103.1,685.8h.8M102.2,687.1h.8M102.8,688.4h.8M99.5,684.1h.8M98.6,697.6h.8M107.7,686.9h.8M98.1,690.9h.8M100.0,696.9h.8M108.6,687.3h.8M106.1,683.2h.8M95.1,693.1h.8M111.2,686.2h.8M98.1,686.8h.8M109.1,688.3h.8M102.9,688.1h.8M107.3,687.8h.8M103.8,687.6h.8M97.4,696.1h.8M99.5,680.1h.8M100.8,688.2h.8M107.1,679.1h.8M96.6,689.1h.8M104.9,681.4h.8M97.3,689.1h.8M102.3,678.3h.8M98.6,696.9h.8M97.7,694.3h.8M95.3,697.0h.8M111.1,684.2h.8M99.6,691.8h.8M96.8,691.3h.8M109.1,689.6h.8M104.6,687.1h.8M108.1,683.1h.8M111.0,687.9h.8M101.4,678.2h.8M100.8,689.4h.8M109.3,678.3h.8M102.4,683.9h.8M97.0,688.0h.8M99.2,693.2h.8M105.6,686.0h.8M103.7,682.2h.8M97.7,683.6h.8M102.7,682.9h.8M100.9,682.8h.8M104.2,681.1h.8M102.9,688.6h.8M107.8,683.5h.8M97.3,679.0h.8M106.8,684.2h.8M108.0,687.5h.8M99.6,692.8h.8M99.9,692.1h.8M94.7,694.1h.8M104.6,680.6h.8M100.4,684.1h.8M98.7,692.8h.8M103.7,692.5h.8M107.3,681.1h.8M96.2,690.8h.8M103.2,688.5h.8M98.9,694.1h.8M105.5,694.9h.8M101.2,692.2h.8M102.7,682.3h.8M102.6,678.0h.8M102.1,689.1h.8M106.5,681.7h.8M96.3,683.6h.8M99.2,683.9h.8M111.9,681.0h.8M102.4,687.5h.8M99.3,683.7h.8M94.6,682.9h.8M109.5,696.5h.8M101.6,692.2h.8M105.3,688.7h.8M102.3,695.3h.8M105.9,686.6h.8M101.8,693.6h.8M100.0,683.7h.8M101.6,685.0h.8M109.3,690.1h.8M102.6,684.8h.8M110.1,690.7h.8M101.9,684.7h.8M101.6,689.1h.8M107.0,690.9h.8M110.9,678.8h.8M103.1,679.5h.8M97.8,684.4h.8M99.7,682.2h.8M95.4,694.8h.8M101.4,693.8h.8M100.0,693.3h.8M100.2,690.4h.8M97.6,696.4h.8M105.2,694.3h.8M101.6,695.7h.8M103.4,685.1h.8M99.8,688.3h.8M98.4,680.8h.8M103.7,692.3h.8M101.5,693.1h.8M110.9,680.4h.8M104.3,682.2h.8M99.8,689.1h.8M107.2,691.3h.8M101.2,694.6h.8M110.3,691.0h.8M94.1,687.1h.8M101.5,678.3h.8M102.7,692.5h.8M101.7,686.9h.8M110.4,684.3h.8M98.3,688.2h.8M108.6,691.6h.8M103.4,685.0h.8M109.2,693.3h.8M94.3,690.0h.8M106.1,684.2h.8M96.5,686.2h.8M94.2,691.4h.8M102.9,695.1h.8M96.6,685.9h.8M112.1,689.1h.8M100.2,689.1h.8M106.9,682.0h.8M102.5,678.2h.8M95.1,678.7h.8M107.2,689.9h.8M106.7,695.3h.8M103.2,689.4h.8M105.0,690.8h.8M97.7,686.3h.8M102.2,688.2h.8M99.2,687.2h.8M104.4,689.1h.8M106.0,692.9h.8M105.8,693.8h.8M107.2,696.4h.8M106.1,684.3h.8M109.3,692.4h.8M103.2,681.1h.8M105.2,685.9h.8M110.8,681.0h.8M97.5,690.8h.8M105.8,683.2h.8M103.0,689.5h.8M103.8,691.2h.8M106.9,685.8h.8M101.1,682.0h.8M106.8,691.5h.8M102.8,689.9h.8M104.6,686.6h.8M104.6,680.2h.8M107.4,685.5h.8M100.1,679.0h.8M102.4,686.9h.8M99.8,678.6h.8M103.8,690.5h.8M108.7,691.1h.8M110.6,695.2h.8M102.5,681.7h.8M105.2,693.8h.8M95.2,680.6h.8M106.4,684.7h.8M110.3,689.3h.8M100.2,680.0h.8M96.5,680.1h.8M101.9,685.7h.8M106.5,695.5h.8M102.0,694.8h.8M101.9,680.3h.8M112.8,683.9h.8M103.0,680.5h.8M106.4,689.2h.8M101.5,685.6h.8M100.1,683.7h.8M95.9,695.3h.8M107.5,679.6h.8M97.1,690.4h.8M101.4,686.5h.8M104.2,686.9h.8M108.4,693.9h.8M105.8,697.5h.8M101.8,684.7h.8M104.8,681.6h.8M102.3,685.6h.8M97.6,694.7h.8M101.0,690.7h.8M100.3,688.9h.8M100.7,688.4h.8M102.5,683.9h.8M105.2,686.9h.8M98.1,681.7h.8M105.2,696.0h.8M96.4,685.5h.8M105.3,694.3h.8M106.6,680.9h.8M103.2,693.4h.8M104.2,686.6h.8M97.1,689.0h.8M102.7,688.2h.8M110.5,695.1h.8M99.0,689.4h.8M101.4,688.6h.8M111.2,693.5h.8M103.2,684.0h.8M102.2,690.2h.8M100.5,694.6h.8M103.1,680.9h.8M101.6,687.3h.8M108.0,694.7h.8M110.3,697.4h.8M104.6,688.7h.8M108.1,687.8h.8M96.7,685.3h.8M106.3,691.7h.8M97.4,695.2h.8M104.6,678.9h.8M105.3,694.1h.8M105.7,686.1h.8M99.0,694.7h.8M104.1,688.0h.8M101.0,681.8h.8M108.6,692.6h.8M99.6,697.2h.8M101.9,681.9h.8M107.9,696.3h.8M101.0,680.6h.8M103.3,697.2h.8M104.4,683.6h.8M106.6,685.0h.8M109.4,685.8h.8M104.0,682.3h.8M96.6,690.1h.8M104.8,682.1h.8M105.8,685.5h.8M100.2,687.6h.8M105.0,692.4h.8M109.2,690.3h.8M99.3,683.9h.8M104.9,680.8h.8M102.1,685.7h.8M102.5,689.1h.8M108.2,697.9h.8M107.4,694.1h.8M97.6,694.2h.8M109.5,679.8h.8M103.3,683.2h.8M100.1,694.4h.8M104.3,685.7h.8M108.8,682.4h.8M98.7,684.6h.8M99.2,692.1h.8M101.8,681.7h.8M103.8,688.6h.8M106.1,686.6h.8M105.0,682.4h.8M103.1,688.9h.8M96.9,691.5h.8M103.7,688.3h.8M103.0,683.4h.8M98.7,691.6h.8M101.9,683.3h.8M99.4,693.6h.8M103.4,694.3h.8M102.9,680.9h.8M107.3,689.9h.8M99.7,686.1h.8M98.1,693.0h.8M100.9,690.9h.8M104.3,686.4h.8M104.9,686.5h.8M97.1,685.5h.8M97.1,692.5h.8M106.3,684.5h.8M106.1,689.5h.8M107.9,682.4h.8M103.1,682.0h.8M99.6,696.2h.8M105.4,692.7h.8M94.4,690.2h.8M108.5,693.4h.8M99.3,696.1h.8M102.1,691.7h.8M102.0,697.6h.8M101.4,689.1h.8M104.4,683.7h.8M101.8,681.2h.8M101.8,688.5h.8M104.2,697.9h.8M105.2,681.1h.8M103.4,688.0h.8M98.0,692.3h.8M112.5,692.0h.8M106.9,694.4h.8M102.4,693.8h.8M99.0,689.1h.8M106.5,695.8h.8M101.6,686.2h.8M105.3,687.5h.8M103.7,692.8h.8M99.2,693.2h.8M104.9,686.4h.8M96.8,684.2h.8M102.8,693.6h.8M104.0,681.2h.8M107.3,690.4h.8M105.2,682.2h.8M97.5,693.4h.8M110.0,690.2h.8M102.0,685.3h.8M94.5,693.9h.8M102.5,695.4h.8M99.4,694.3h.8M99.4,691.5h.8M109.8,683.8h.8M107.5,688.0h.8M98.3,689.2h.8M106.2,683.7h.8M101.7,684.6h.8M99.2,686.7h.8M107.1,685.0h.8M109.2,685.7h.8M99.6,694.4h.8M110.0,684.1h.8M105.9,681.1h.8M101.0,685.8h.8M106.5,680.5h.8M100.5,683.9h.8M103.5,680.7h.8M104.1,679.0h.8M107.1,680.2h.8M109.2,683.0h.8M97.6,690.8h.8M106.3,681.0h.8M94.2,690.3h.8M108.0,688.8h.8M103.0,696.2h.8M98.8,694.5h.8M107.1,684.3h.8M103.6,688.6h.8M105.9,682.2h.8M101.8,688.5h.8M103.1,688.1h.8M104.2,686.9h.8M100.5,694.1h.8M99.8,686.1h.8M98.7,681.2h.8M105.2,687.7h.8M102.3,690.7h.8M102.1,692.0h.8M111.9,690.1h.8M101.7,697.8h.8M106.5,678.1h.8M109.6,689.2h.8M107.2,681.2h.8M98.8,684.2h.8M105.7,681.3h.8M99.5,693.6h.8M99.8,688.7h.8M102.6,687.3h.8M95.9,693.7h.8M107.0,693.2h.8M100.5,681.2h.8M102.6,689.0h.8M102.1,684.5h.8M98.1,683.7h.8M102.6,685.1h.8M111.2,686.4h.8M105.2,685.3h.8M102.1,682.3h.8M100.6,679.2h.8M97.8,690.5h.8M102.4,684.6h.8M106.6,684.7h.8M105.1,685.8h.8M107.8,693.6h.8M103.3,694.4h.8M105.5,697.2h.8M102.4,678.9h.8M104.0,689.4h.8M101.2,686.8h.8M101.7,680.6h.8M111.4,683.4h.8M97.7,678.7h.8M98.9,687.8h.8M110.2,691.5h.8M99.4,680.7h.8M97.5,687.5h.8M107.2,685.2h.8M108.3,687.4h.8M106.3,693.8h.8M98.1,688.4h.8M103.9,683.6h.8M106.4,687.2h.8M103.8,697.6h.8M102.2,694.1h.8M99.3,688.9h.8M105.6,686.4h.8M108.3,689.0h.8M102.6,680.5h.8M101.4,683.7h.8M101.5,689.3h.8M96.4,694.2h.8M101.7,691.5h.8M101.5,685.7h.8M99.7,689.8h.8M105.0,682.2h.8M101.4,694.3h.8M107.2,687.4h.8M96.0,685.9h.8M99.4,695.3h.8M94.7,693.4h.8M95.5,684.6h.8M96.1,683.9h.8M100.8,690.2h.8M100.1,692.0h.8M111.5,688.9h.8M97.3,686.9h.8M102.5,685.9h.8M108.6,694.8h.8M112.8,691.1h.8M106.2,683.2h.8M100.0,693.3h.8M103.7,681.4h.8M103.0,680.8h.8M102.7,681.0h.8M98.4,685.0h.8M97.2,684.8h.8M108.1,692.7h.8M106.4,686.1h.8M103.6,683.5h.8M102.1,683.2h.8M95.9,682.1h.8M112.4,690.3h.8M99.3,687.3h.8M100.8,695.1h.8M102.8,684.2h.8M106.3,689.9h.8M99.6,683.4h.8M103.7,678.4h.8M98.5,693.9h.8M107.2,694.5h.8M100.8,684.5h.8M101.6,685.2h.8M109.2,686.7h.8M109.6,683.8h.8M104.8,697.5h.8M99.3,684.1h.8M100.0,678.5h.8M101.5,684.2h.8M107.6,687.8h.8M104.4,692.2h.8M100.2,688.2h.8M103.6,697.7h.8M109.8,689.0h.8M96.4,693.2h.8M102.7,694.8h.8M103.2,689.0h.8M106.1,683.7h.8M98.7,693.5h.8M106.3,692.8h.8M109.6,680.1h.8M103.2,690.0h.8M108.0,694.3h.8M98.4,686.4h.8M102.2,683.9h.8M99.0,684.1h.8M108.5,696.0h.8M106.6,697.9h.8M103.4,681.6h.8M99.8,689.2h.8M107.9,695.1h.8M98.6,693.6h.8M100.3,691.5h.8M107.4,696.7h.8M100.4,689.4h.8M105.0,685.5h.8M103.4,691.5h.8M94.9,684.2h.8M98.3,691.0h.8M106.2,690.6h.8M105.8,684.4h.8M110.7,681.4h.8M105.4,686.4h.8M94.6,693.3h.8M101.6,692.2h.8M109.1,689.0h.8M99.7,686.7h.8M102.6,696.5h.8M107.1,697.3h.8M106.6,683.5h.8M107.4,693.7h.8M102.3,690.7h.8M101.4,680.6h.8M102.5,692.5h.8M99.0,694.4h.8M104.0,694.6h.8M99.3,685.5h.8M98.1,683.4h.8M105.4,688.8h.8M100.6,689.7h.8M96.6,685.7h.8M95.6,679.2h.8M96.3,681.5h.8M110.6,696.1h.8M109.0,684.6h.8M106.0,681.3h.8M100.3,689.4h.8M95.2,689.2h.8M102.3,688.8h.8M97.4,691.3h.8M103.5,683.7h.8M110.9,689.5h.8M100.5,686.7h.8M94.5,686.6h.8M105.7,689.2h.8M96.8,683.0h.8M103.5,689.8h.8M98.5,686.7h.8M99.0,691.7h.8M106.0,684.7h.8M100.7,680.7h.8M102.9,693.1h.8M105.7,696.7h.8M101.3,682.6h.8M108.0,693.4h.8M99.7,694.5h.8M102.9,687.7h.8M111.9,691.1h.8M104.4,686.1h.8M103.9,694.2h.8M105.1,683.5h.8M105.1,687.3h.8M104.4,686.8h.8M106.3,685.3h.8M104.1,693.8h.8M103.8,680.2h.8M107.6,684.8h.8M100.1,689.2h.8M105.1,680.6h.8M102.9,688.3h.8M109.9,695.6h.8M98.5,690.1h.8M110.8,682.0h.8M101.2,683.6h.8M105.5,690.4h.8M102.7,691.9h.8M99.1,685.8h.8M102.7,688.3h.8M109.3,688.4h.8M109.3,689.4h.8M108.6,689.1h.8M98.4,682.9h.8M112.0,686.1h.8M98.8,693.5h.8M95.5,693.4h.8M104.8,691.7h.8M97.0,690.3h.8M107.5,687.7h.8M108.0,688.1h.8M104.6,686.1h.8M96.3,687.1h.8M105.4,683.5h.8M109.4,686.7h.8M99.2,695.4h.8M102.1,679.0h.8M100.8,682.7h.8M102.0,682.5h.8M103.3,690.7h.8M100.1,686.8h.8M102.2,692.9h.8M99.4,692.5h.8M109.0,686.8h.8M98.2,686.2h.8M94.2,684.8h.8M97.1,687.0h.8M101.1,691.1h.8M103.5,690.5h.8M102.7,689.7h.8M97.4,692.0h.8M109.3,694.6h.8M96.3,690.5h.8M94.9,692.5h.8M101.9,685.2h.8M99.3,686.6h.8M102.9,682.2h.8M103.2,689.6h.8M105.5,687.7h.8M107.9,689.9h.8M96.1,691.7h.8M102.1,690.3h.8M103.1,688.6h.8M102.2,696.3h.8M104.8,686.3h.8M98.7,684.8h.8M104.5,688.9h.8M104.4,696.1h.8M108.5,690.5h.8M103.1,687.6h.8M101.8,694.0h.8M96.7,681.8h.8M100.7,682.2h.8M99.3,695.2h.8M96.5,686.5h.8M100.1,682.1h.8M95.6,688.4h.8M101.0,694.6h.8M112.1,686.2h.8M99.0,686.3h.8M105.2,693.6h.8M98.2,690.8h.8M102.8,694.9h.8M100.9,686.8h.8M98.7,680.1h.8M104.3,692.3h.8M108.5,689.6h.8M100.7,682.5h.8M97.2,683.7h.8M104.6,688.5h.8M101.5,681.7h.8M102.8,691.2h.8M97.8,679.9h.8M101.3,689.6h.8M101.7,697.3h.8M103.7,682.0h.8M106.8,684.1h.8M106.3,688.6h.8M109.0,682.0h.8M106.5,690.6h.8M98.5,692.2h.8M99.2,687.1h.8M109.4,689.5h.8M110.3,684.1h.8M109.4,678.5h.8M102.1,686.2h.8M100.5,695.3h.8M100.0,690.1h.8M112.1,693.0h.8M100.9,683.6h.8M107.3,694.6h.8M99.0,695.3h.8M108.6,696.1h.8M101.5,688.1h.8M100.5,685.3h.8M111.2,696.5h.8M111.9,695.3h.8M103.3,690.9h.8M110.4,686.8h.8M110.6,693.4h.8M99.8,685.5h.8M106.7,682.0h.8M99.4,682.5h.8M96.8,695.3h.8M112.0,693.8h.8M103.6,692.4h.8M106.7,686.9h.8M103.8,681.3h.8M99.1,685.2h.8M101.1,690.9h.8M99.1,683.3h.8M109.9,693.1h.8M110.8,693.0h.8M98.3,687.8h.8M109.2,693.5h.8M98.9,687.7h.8M105.0,679.2h.8M99.1,692.3h.8M106.3,687.0h.8M104.7,688.5h.8M100.9,680.5h.8M107.6,692.9h.8M102.4,692.9h.8M109.1,691.4h.8M108.7,696.4h.8M95.7,696.0h.8M102.7,693.0h.8M107.5,680.8h.8M105.0,680.6h.8M107.4,685.1h.8M101.4,683.9h.8M108.8,690.5h.8M100.1,692.3h.8M98.2,693.4h.8M105.3,692.8h.8M105.5,696.7h.8M106.8,687.3h.8M105.0,689.2h.8M99.9,684.5h.8M108.6,693.7h.8M111.4,691.4h.8M103.6,686.1h.8M107.0,690.7h.8M111.0,692.5h.8M101.5,684.0h.8M95.8,693.0h.8M102.3,686.1h.8M95.9,687.9h.8M110.3,684.0h.8M107.6,692.7h.8M106.2,689.7h.8M99.2,691.1h.8M104.9,696.4h.8M103.8,685.4h.8M110.4,690.2h.8M100.8,690.7h.8M97.6,682.4h.8M110.0,687.3h.8M108.6,682.9h.8M103.0,683.3h.8M108.6,689.7h.8M101.7,685.9h.8M98.6,682.8h.8M106.7,684.6h.8M96.8,685.9h.8M102.7,696.8h.8M101.6,686.3h.8M111.5,692.0h.8M102.8,686.2h.8M98.8,681.7h.8M103.0,690.5h.8M96.8,687.6h.8M97.9,689.8h.8M100.9,691.0h.8M108.3,686.3h.8M101.5,680.4h.8M98.6,690.2h.8M108.7,681.5h.8M111.6,695.5h.8M101.2,688.7h.8M106.4,684.9h.8M101.2,692.0h.8M103.2,686.9h.8M104.6,681.1h.8M103.0,684.3h.8M97.8,688.4h.8M106.9,688.5h.8M103.5,691.1h.8M102.2,696.7h.8M98.6,679.1h.8M104.7,691.5h.8M101.5,686.2h.8M100.8,683.4h.8M108.5,694.5h.8M99.7,689.2h.8M102.8,681.4h.8M107.5,688.6h.8M111.8,695.4h.8M110.4,683.7h.8M96.9,693.6h.8M96.8,691.4h.8M98.0,691.7h.8M95.9,680.6h.8M109.8,688.3h.8M102.7,696.5h.8M108.3,683.1h.8M107.0,685.9h.8M102.9,684.6h.8M98.9,684.4h.8M99.6,682.4h.8M109.9,685.8h.8M104.5,693.6h.8M106.5,681.8h.8M111.2,695.8h.8M109.3,684.9h.8M109.1,690.6h.8M95.5,685.8h.8M106.9,688.8h.8M111.1,693.2h.8M109.2,696.6h.8M100.8,695.3h.8M95.0,693.4h.8M96.5,688.0h.8M102.5,680.3h.8M105.8,693.2h.8M98.8,683.4h.8M108.1,688.5h.8M95.3,684.5h.8M111.0,684.0h.8M99.9,687.1h.8M110.1,693.6h.8M101.5,691.0h.8M95.5,680.2h.8M101.3,690.4h.8M97.4,679.8h.8M109.5,682.3h.8M95.9,680.5h.8M96.3,684.1h.8M104.8,690.8h.8M99.9,688.3h.8M100.7,689.4h.8M96.9,690.2h.8M95.0,695.6h.8M98.6,689.0h.8M98.2,687.0h.8M99.5,690.5h.8M108.2,694.2h.8M111.6,687.2h.8M104.3,685.3h.8M99.9,688.1h.8M111.5,680.0h.8M107.7,684.8h.8M105.2,683.8h.8M107.2,687.9h.8M100.3,687.1h.8M95.1,680.8h.8M110.4,680.5h.8M101.8,691.1h.8M95.6,695.8h.8M98.5,696.3h.8M102.4,689.6h.8M105.3,680.6h.8M103.6,692.5h.8M108.4,692.2h.8M106.6,681.3h.8M102.0,688.2h.8M95.7,692.8h.8M96.7,689.2h.8M99.5,681.9h.8M111.2,690.2h.8M107.5,689.9h.8M104.6,694.7h.8M96.1,685.8h.8M98.7,689.7h.8M101.7,695.6h.8M99.0,683.8h.8M110.6,692.0h.8M102.3,685.7h.8M107.5,681.7h.8M107.3,683.1h.8M108.7,680.3h.8M110.5,694.5h.8M95.4,681.9h.8M110.5,693.7h.8M100.0,693.4h.8M104.9,683.4h.8M106.7,686.5h.8M97.4,694.3h.8M107.2,683.4h.8M102.3,691.3h.8M101.3,683.6h.8M103.9,696.1h.8M96.6,683.5h.8M103.2,696.7h.8M111.9,679.2h.8M105.9,681.5h.8M98.5,681.4h.8M103.5,696.9h.8M111.4,685.6h.8M110.3,691.4h.8M96.3,695.2h.8M99.6,696.6h.8M97.2,695.2h.8M103.7,688.3h.8M98.1,687.8h.8M107.9,689.0h.8M111.7,688.6h.8M110.4,681.4h.8M107.5,689.8h.8M110.0,685.0h.8M102.9,693.6h.8M99.3,685.7h.8M109.4,690.7h.8M103.3,679.3h.8M108.0,686.5h.8M99.0,685.9h.8M97.3,694.1h.8M108.6,696.4h.8M106.5,681.9h.8M102.2,696.9h.8M95.0,685.2h.8M97.5,682.1h.8M99.7,690.1h.8M96.1,694.6h.8M102.3,682.1h.8M96.7,688.4h.8M100.9,688.0h.8M96.8,685.4h.8M103.6,680.5h.8M103.5,694.1h.8M105.0,681.3h.8M105.7,680.5h.8M97.4,679.2h.8M104.0,682.2h.8M99.7,681.2h.8M110.2,681.6h.8M106.5,693.5h.8M102.6,689.5h.8M100.7,693.7h.8M106.7,680.4h.8M107.0,681.5h.8M101.1,676.8h.8M98.0,677.6h.8M103.1,666.3h.8M107.6,668.9h.8M98.8,663.2h.8M97.5,655.5h.8M109.5,670.9h.8M104.2,670.3h.8M96.9,665.4h.8M104.0,666.2h.8M100.4,663.2h.8M102.5,673.4h.8M108.2,665.4h.8M107.9,667.6h.8M98.7,657.7h.8M103.4,660.4h.8M104.3,676.6h.8M102.0,655.1h.8M103.6,670.2h.8M103.4,667.6h.8M106.5,668.7h.8M107.4,677.7h.8M106.0,667.1h.8M109.3,658.8h.8M107.3,662.2h.8M99.3,670.6h.8M102.4,661.4h.8M105.9,674.8h.8M108.6,665.0h.8M94.6,662.5h.8M98.8,655.3h.8M109.5,661.3h.8M101.2,656.1h.8M100.3,665.6h.8M112.6,672.2h.8M105.4,675.0h.8M100.8,671.7h.8M103.6,671.9h.8M102.2,668.4h.8M106.8,673.4h.8M103.1,673.7h.8M108.5,670.2h.8M108.9,666.7h.8M107.8,665.7h.8M102.7,672.9h.8M103.0,660.3h.8M101.9,672.3h.8M107.6,654.1h.8M101.1,674.6h.8M106.8,674.3h.8M104.1,666.7h.8M105.9,658.6h.8M102.9,673.8h.8M109.3,674.0h.8M99.1,667.0h.8M106.1,677.3h.8M103.7,674.2h.8M101.7,673.0h.8M104.4,664.2h.8M105.2,652.2h.8M105.9,674.7h.8M102.3,655.6h.8M100.7,660.5h.8M104.5,668.5h.8M103.1,676.0h.8M102.4,668.9h.8M101.5,666.5h.8M105.2,677.6h.8M99.4,659.3h.8M100.3,656.2h.8M100.2,659.5h.8M106.2,663.4h.8M101.3,674.7h.8M104.9,668.3h.8M109.2,663.2h.8M104.4,676.1h.8M106.2,655.4h.8M104.5,672.8h.8M102.1,663.1h.8M104.4,674.3h.8M100.5,675.9h.8M104.3,670.4h.8M96.8,671.3h.8M100.3,671.6h.8M109.5,667.6h.8M106.7,675.8h.8M99.4,677.2h.8M106.3,663.1h.8M99.2,671.9h.8M106.2,669.5h.8M108.3,673.9h.8M104.7,664.4h.8M100.8,675.0h.8M106.6,668.7h.8M112.4,648.0h.8M99.5,677.4h.8M105.3,665.7h.8M104.0,665.9h.8M101.2,669.4h.8M104.4,659.0h.8M101.7,671.7h.8M96.3,675.8h.8M104.6,661.6h.8M101.9,671.1h.8M106.4,677.0h.8M101.0,655.1h.8M106.2,672.3h.8M108.3,672.5h.8M102.2,676.2h.8M105.9,671.7h.8M103.8,668.6h.8M100.5,674.0h.8M98.1,668.4h.8M99.7,674.9h.8M102.7,660.6h.8M101.4,661.5h.8M101.0,675.4h.8M107.5,669.0h.8M101.1,667.2h.8M104.9,671.1h.8M106.0,666.7h.8M104.5,665.4h.8M99.5,662.7h.8M97.6,673.6h.8M109.5,671.1h.8M107.0,674.0h.8M107.5,656.1h.8M105.9,673.6h.8M102.2,675.8h.8M98.3,654.2h.8M106.3,666.1h.8M104.8,676.5h.8M97.0,666.3h.8M103.8,662.3h.8M101.6,677.1h.8M98.8,671.2h.8M101.5,653.0h.8M102.1,677.5h.8M101.4,677.0h.8M104.7,676.4h.8M105.6,676.0h.8M107.4,668.0h.8M108.2,674.3h.8M109.1,671.2h.8M101.8,668.1h.8M106.1,672.5h.8M108.2,675.7h.8M101.4,651.5h.8M105.1,677.5h.8M109.2,676.5h.8M107.5,666.3h.8M101.6,671.1h.8M97.7,674.9h.8M97.3,676.3h.8M104.3,664.2h.8M102.2,666.1h.8M105.1,669.1h.8M107.4,671.2h.8M109.2,656.9h.8M102.8,668.4h.8M104.3,676.7h.8M107.7,669.6h.8M110.6,657.5h.8M106.8,672.2h.8M106.2,653.9h.8M94.7,673.9h.8M97.7,661.4h.8M107.8,668.9h.8M105.4,656.8h.8M102.0,664.9h.8M96.6,673.5h.8M111.7,654.1h.8M96.4,669.3h.8M103.4,674.8h.8M98.0,665.7h.8M99.0,668.2h.8M104.9,666.0h.8M102.4,662.5h.8M99.9,656.7h.8M105.4,672.8h.8M101.8,652.0h.8M101.7,672.7h.8M101.2,675.9h.8M100.0,665.1h.8M103.5,674.1h.8M98.1,653.4h.8M102.7,673.4h.8M100.2,662.6h.8M107.2,669.6h.8M107.5,664.0h.8M109.4,667.5h.8M106.3,673.8h.8M102.3,669.3h.8M106.5,672.9h.8M109.9,673.9h.8M104.0,676.6h.8M99.8,676.8h.8M112.2,671.5h.8M104.6,670.5h.8M104.1,669.4h.8M103.9,672.0h.8M98.8,677.3h.8M103.7,675.2h.8M101.3,673.9h.8M100.2,662.8h.8M101.5,671.5h.8M99.5,649.3h.8M99.3,658.2h.8M100.9,676.0h.8M107.5,677.9h.8M95.7,661.9h.8M101.1,655.3h.8M106.8,673.9h.8M97.3,662.0h.8M107.2,671.6h.8M100.1,670.6h.8M106.4,676.3h.8M102.3,656.6h.8M101.9,665.1h.8M100.2,670.1h.8M99.2,673.2h.8M105.9,670.3h.8M105.5,674.3h.8M102.9,676.2h.8M105.7,676.6h.8M99.2,676.0h.8M103.3,674.2h.8M98.1,676.2h.8M108.1,665.6h.8M106.4,662.2h.8M103.7,663.3h.8M104.6,674.4h.8M106.5,670.3h.8M97.0,670.8h.8M104.5,676.3h.8M106.1,673.9h.8M107.6,670.6h.8M105.4,669.1h.8M100.7,677.9h.8M98.5,666.8h.8M99.0,669.5h.8M105.8,676.8h.8M98.4,650.3h.8M105.1,669.2h.8M107.4,671.8h.8M98.6,669.1h.8M97.7,660.8h.8M106.2,670.3h.8M106.1,670.0h.8M102.6,670.1h.8M101.4,668.9h.8M109.1,675.4h.8M103.1,674.4h.8M101.7,677.4h.8M105.2,676.0h.8M100.4,665.6h.8M98.8,669.2h.8M97.8,673.6h.8M103.4,668.5h.8M106.3,671.1h.8M108.0,664.5h.8M105.7,673.3h.8M102.4,670.1h.8M110.2,674.3h.8M102.0,675.6h.8M100.9,672.0h.8M95.3,674.6h.8M101.1,674.1h.8M107.6,671.4h.8M100.0,674.9h.8M100.9,669.2h.8M103.0,660.5h.8M104.6,677.3h.8M98.4,673.6h.8M100.9,673.2h.8M103.2,676.1h.8M103.7,656.2h.8M112.5,673.8h.8M102.2,664.2h.8M101.9,657.7h.8M102.2,671.6h.8M110.1,659.5h.8M101.5,669.7h.8M97.5,668.8h.8M96.8,661.7h.8M104.4,659.9h.8M95.8,669.6h.8M98.9,665.9h.8M101.0,673.2h.8M106.1,674.5h.8M106.2,670.0h.8M102.2,672.6h.8M98.8,676.5h.8M102.2,668.3h.8M103.9,673.6h.8M88.5,666.8h.8M85.2,676.8h.8M62.7,674.8h.8M60.6,670.4h.8M83.8,663.5h.8M86.7,671.9h.8M74.9,661.2h.8M64.8,656.7h.8M76.2,666.5h.8M65.6,666.7h.8M62.4,661.6h.8M80.1,658.3h.8M75.7,657.9h.8M86.5,659.7h.8M87.9,675.2h.8M88.9,661.2h.8M80.4,656.5h.8M89.2,670.2h.8M61.1,658.0h.8M63.2,662.7h.8M88.1,672.4h.8M69.8,672.8h.8M60.3,667.0h.8M71.7,656.7h.8M87.6,669.5h.8M89.9,669.1h.8M78.6,657.8h.8M74.3,674.7h.8M76.8,669.0h.8M73.8,662.9h.8M59.4,682.9h.8M65.1,680.6h.8M60.8,692.6h.8M91.8,691.6h.8M86.4,682.8h.8M87.0,685.9h.8M87.2,683.3h.8M68.9,688.5h.8M66.4,683.7h.8M83.0,693.2h.8M91.4,690.8h.8M70.6,687.4h.8M78.3,689.7h.8M89.3,689.2h.8M90.7,687.6h.8M73.7,679.5h.8M69.7,687.7h.8M59.4,686.9h.8M62.8,683.8h.8M88.2,695.5h.8M62.8,689.6h.8M75.1,680.0h.8M68.8,688.6h.8M73.0,689.3h.8M61.2,690.0h.8M79.2,682.4h.8M77.7,695.8h.8M88.4,690.1h.8M76.2,692.5h.8M74.0,691.7h.8M71.3,689.0h.8M83.2,689.5h.8M78.9,685.9h.8M70.6,690.8h.8M73.7,686.9h.8M71.5,684.2h.8M79.7,694.8h.8M65.4,690.7h.8M76.5,690.5h.8M80.9,686.2h.8M59.3,685.5h.8M76.2,690.3h.8M89.6,690.8h.8M80.6,685.3h.8M85.2,681.3h.8" stroke="#222" stroke-opacity="0.4" stroke-width="0.8" fill="none"/>
<rect x="52.5" y="624" width="78.80000000000001" height="79.5" fill="none" stroke="#111" stroke-width="1.4"/>
<path d="M48.3,677.5h4.2M48.3,661.5h4.2M48.3,645.5h4.2M48.3,629.5h4.2M50.3,688.7h2.2M50.3,685.9h2.2M50.3,683.9h2.2M50.3,682.3h2.2M50.3,681.0h2.2M50.3,680.0h2.2M50.3,679.1h2.2M50.3,678.2h2.2M50.3,672.7h2.2M50.3,669.9h2.2M50.3,667.9h2.2M50.3,666.3h2.2M50.3,665.0h2.2M50.3,664.0h2.2M50.3,663.1h2.2M50.3,662.2h2.2M50.3,656.7h2.2M50.3,653.9h2.2M50.3,651.9h2.2M50.3,650.3h2.2M50.3,649.0h2.2M50.3,648.0h2.2M50.3,647.1h2.2M50.3,646.2h2.2M50.3,640.7h2.2M50.3,637.9h2.2M50.3,635.9h2.2M50.3,634.3h2.2M50.3,633.0h2.2M50.3,632.0h2.2M50.3,631.1h2.2M50.3,630.2h2.2" stroke="#000" stroke-width="1.05" fill="none"/>
<path d="M69.5,703.5v4.0M87.5,703.5v4.0M105.5,703.5v4.0M123.5,703.5v4.0M56.9,703.5v2.2M60.1,703.5v2.2M62.3,703.5v2.2M64.1,703.5v2.2M65.5,703.5v2.2M66.7,703.5v2.2M67.8,703.5v2.2M68.7,703.5v2.2M74.9,703.5v2.2M78.1,703.5v2.2M80.3,703.5v2.2M82.1,703.5v2.2M83.5,703.5v2.2M84.7,703.5v2.2M85.8,703.5v2.2M86.7,703.5v2.2M92.9,703.5v2.2M96.1,703.5v2.2M98.3,703.5v2.2M100.1,703.5v2.2M101.5,703.5v2.2M102.7,703.5v2.2M103.8,703.5v2.2M104.7,703.5v2.2M110.9,703.5v2.2M114.1,703.5v2.2M116.3,703.5v2.2M118.1,703.5v2.2M119.5,703.5v2.2M120.7,703.5v2.2M121.8,703.5v2.2M122.7,703.5v2.2M128.9,703.5v2.2" stroke="#000" stroke-width="1.05" fill="none"/>
<rect x="93.5" y="644.8" width="19.5" height="32.200000000000045" fill="none" stroke="#8a8a8a" stroke-width="1"/>
<rect x="93.5" y="677.9" width="19.5" height="19.800000000000068" fill="none" stroke="#8a8a8a" stroke-width="1"/>
<rect x="57.9" y="677.9" width="34.4" height="19.800000000000068" fill="none" stroke="#8a8a8a" stroke-width="1"/>
<path d="M107.4,769.4h.8M95.7,776.7h.8M104.3,775.5h.8M100.0,771.6h.8M98.9,773.1h.8M100.6,777.2h.8M103.0,777.2h.8M111.1,772.6h.8M101.5,776.2h.8M111.3,780.8h.8M98.0,776.3h.8M109.5,774.4h.8M98.5,783.4h.8M98.8,771.4h.8M102.7,778.4h.8M106.4,777.1h.8M108.9,774.3h.8M100.1,773.8h.8M101.8,770.2h.8M102.9,770.3h.8M106.1,770.4h.8M105.4,775.9h.8M103.8,777.1h.8M99.5,778.3h.8M103.0,771.6h.8M111.6,780.3h.8M101.6,777.3h.8M106.3,783.1h.8M108.0,773.1h.8M101.7,767.5h.8M104.2,779.0h.8M101.0,777.9h.8M103.6,771.5h.8M96.8,780.4h.8M97.5,768.2h.8M104.2,777.8h.8M112.2,775.0h.8M103.6,776.3h.8M101.2,772.5h.8M102.4,777.3h.8M94.7,773.2h.8M110.6,776.2h.8M106.5,778.1h.8M104.0,776.1h.8M98.9,772.9h.8M112.2,767.1h.8M102.1,766.9h.8M100.3,769.7h.8M96.8,775.5h.8M98.2,777.1h.8M102.3,776.2h.8M104.0,781.0h.8M110.5,768.7h.8M102.5,775.9h.8M98.6,774.6h.8M94.6,771.5h.8M102.1,766.8h.8M104.9,766.5h.8M105.8,773.7h.8M103.8,766.5h.8M101.9,776.8h.8M94.2,768.1h.8M106.3,773.7h.8M97.5,771.8h.8M101.7,776.6h.8M97.1,774.1h.8M107.9,776.4h.8M109.7,777.5h.8M105.3,782.8h.8M100.7,771.0h.8M97.9,775.5h.8M105.2,779.4h.8M110.2,777.6h.8M109.1,772.6h.8M98.2,778.3h.8M108.1,781.7h.8M102.2,771.4h.8M101.2,776.1h.8M102.7,773.0h.8M104.3,772.4h.8M104.7,770.6h.8M95.2,772.3h.8M112.5,769.4h.8M107.6,781.8h.8M100.3,775.5h.8M110.7,775.1h.8M99.3,774.7h.8M104.4,771.7h.8M101.4,769.4h.8M105.9,775.2h.8M104.7,771.2h.8M105.5,772.3h.8M104.5,773.1h.8M99.7,767.8h.8M94.8,769.4h.8M102.0,767.3h.8M109.2,767.4h.8M102.5,770.4h.8M106.8,765.7h.8M104.5,775.3h.8M105.8,776.5h.8M101.4,768.6h.8M105.7,772.7h.8M103.8,780.4h.8M102.5,783.8h.8M107.2,765.5h.8M100.1,781.1h.8M100.5,780.9h.8M100.2,773.3h.8M108.1,764.9h.8M103.4,771.4h.8M103.8,783.9h.8M105.5,766.2h.8M107.8,771.4h.8M103.8,780.7h.8M101.4,779.6h.8M103.9,768.8h.8M101.4,766.2h.8M108.9,775.0h.8M107.8,767.6h.8M107.2,767.1h.8M104.4,773.9h.8M100.0,775.8h.8M103.2,769.0h.8M99.3,766.5h.8M109.9,774.9h.8M101.2,778.0h.8M98.7,767.3h.8M104.8,783.2h.8M104.5,774.9h.8M111.7,765.1h.8M102.6,766.2h.8M96.9,772.6h.8M99.9,775.6h.8M97.9,772.5h.8M101.5,772.3h.8M100.4,773.3h.8M94.0,771.5h.8M100.4,768.0h.8M107.0,769.0h.8M110.1,776.9h.8M98.9,777.5h.8M100.1,777.3h.8M107.6,780.7h.8M97.7,773.3h.8M103.0,766.9h.8M105.1,778.0h.8M96.1,770.8h.8M97.5,766.6h.8M97.7,782.0h.8M99.7,771.7h.8M107.9,780.0h.8M99.8,771.6h.8M102.2,780.8h.8M102.1,773.7h.8M105.6,776.6h.8M105.5,775.9h.8M106.0,773.7h.8M105.0,766.4h.8M108.7,766.9h.8M110.0,779.9h.8M102.7,772.3h.8M106.9,772.2h.8M97.1,775.6h.8M96.9,771.3h.8M112.0,778.7h.8M100.7,773.6h.8M99.8,773.9h.8M95.8,778.0h.8M103.1,770.4h.8M100.8,771.2h.8M100.1,771.1h.8M109.5,778.0h.8M105.1,776.1h.8M110.6,778.2h.8M104.1,775.6h.8M104.0,774.1h.8M105.8,774.3h.8M107.9,775.8h.8M101.6,777.5h.8M103.9,771.4h.8M101.1,771.5h.8M101.5,771.4h.8M102.4,780.5h.8M100.6,773.1h.8M99.3,766.1h.8M98.7,771.0h.8M103.8,772.0h.8M97.0,771.8h.8M110.6,768.9h.8M103.3,779.9h.8M99.0,770.7h.8M100.4,774.9h.8M103.5,774.9h.8M105.3,772.3h.8M103.8,766.0h.8M101.4,782.8h.8M104.2,770.2h.8M103.7,780.1h.8M94.4,766.7h.8M99.7,771.4h.8M102.6,770.6h.8M103.5,774.5h.8M97.2,770.4h.8M96.8,775.7h.8M104.3,777.8h.8M98.6,770.9h.8M94.9,776.0h.8M108.4,776.6h.8M106.1,775.3h.8M104.9,779.5h.8M101.7,778.9h.8M107.3,776.5h.8M104.3,766.6h.8M108.4,768.8h.8M99.7,769.0h.8M105.8,768.4h.8M105.3,777.3h.8M103.5,772.0h.8M106.0,781.6h.8M100.7,767.9h.8M100.0,768.9h.8M101.8,773.1h.8M98.9,771.5h.8M97.9,775.3h.8M104.1,782.8h.8M101.6,779.3h.8M104.6,768.6h.8M108.0,770.5h.8M104.8,771.7h.8M101.9,774.9h.8M97.4,774.6h.8M107.9,772.9h.8M102.1,777.1h.8M110.9,768.7h.8M95.0,772.4h.8M106.8,766.3h.8M108.6,779.5h.8M106.9,769.1h.8M96.5,777.8h.8M104.3,778.0h.8M108.6,779.8h.8M101.6,774.0h.8M105.3,778.3h.8M102.1,771.0h.8M98.1,780.0h.8M104.7,770.7h.8M96.6,771.0h.8M96.6,771.4h.8M100.3,777.0h.8M100.0,766.0h.8M106.7,772.8h.8M94.7,768.9h.8M102.9,773.8h.8M104.5,779.7h.8M108.5,773.3h.8M96.5,771.8h.8M106.2,768.6h.8M109.3,768.4h.8M97.4,778.8h.8M102.5,775.9h.8M101.5,774.2h.8M106.3,773.3h.8M105.4,778.8h.8M100.4,775.0h.8M104.0,770.7h.8M99.1,772.8h.8M101.5,771.6h.8M106.3,774.4h.8M111.5,779.0h.8M101.2,770.1h.8M105.5,771.8h.8M94.9,774.7h.8M101.5,772.7h.8M106.1,775.1h.8M102.5,775.8h.8M100.8,771.0h.8M111.7,765.6h.8M97.2,780.6h.8M110.7,774.7h.8M104.2,767.6h.8M101.2,766.3h.8M102.5,773.5h.8M103.6,778.6h.8M97.2,766.7h.8M101.2,771.5h.8M102.8,781.9h.8M103.1,767.7h.8M101.5,768.9h.8M101.8,777.4h.8M97.4,778.1h.8M111.9,782.8h.8M111.1,774.5h.8M102.7,775.3h.8M101.2,768.6h.8M106.1,765.9h.8M96.1,777.2h.8M101.1,769.1h.8M105.5,782.2h.8M101.6,773.2h.8M105.8,779.4h.8M108.1,777.9h.8M99.7,777.1h.8M109.2,777.3h.8M109.8,773.6h.8M106.6,773.6h.8M103.8,779.3h.8M103.3,777.5h.8M102.8,781.1h.8M111.3,776.5h.8M100.5,770.4h.8M112.9,774.5h.8M105.5,777.4h.8M108.7,764.6h.8M101.3,774.4h.8M103.3,777.3h.8M105.0,776.1h.8M102.3,775.7h.8M103.3,781.1h.8M103.5,773.1h.8M102.1,766.6h.8M103.7,771.3h.8M109.4,772.1h.8M100.7,770.9h.8M110.7,775.8h.8M102.3,770.3h.8M109.4,775.7h.8M101.4,779.2h.8M107.4,768.3h.8M108.7,780.3h.8M101.8,766.4h.8M108.4,772.0h.8M102.0,772.4h.8M101.7,778.8h.8M97.6,777.1h.8M108.8,780.1h.8M106.6,775.5h.8M102.0,773.3h.8M98.7,783.6h.8M102.4,768.2h.8M107.1,782.7h.8M104.4,772.2h.8M97.5,777.7h.8M101.8,770.2h.8M106.0,766.6h.8M100.0,765.8h.8M101.8,778.6h.8M96.6,781.8h.8M99.7,771.3h.8M107.9,769.8h.8M110.2,772.8h.8M102.6,768.5h.8M108.7,773.6h.8M100.7,768.6h.8M99.9,773.5h.8M99.5,778.6h.8M102.9,770.5h.8M105.3,782.2h.8M108.4,774.8h.8M107.1,765.2h.8M99.4,779.8h.8M102.6,774.4h.8M106.1,776.1h.8M105.3,771.2h.8M101.6,781.5h.8M100.6,765.8h.8M101.3,779.1h.8M111.9,774.9h.8M100.0,777.5h.8M104.5,780.7h.8M105.6,778.3h.8M105.6,776.4h.8M98.6,773.1h.8M110.9,781.6h.8M107.8,776.3h.8M102.5,776.0h.8M101.5,780.2h.8M101.6,769.7h.8M95.2,782.9h.8M99.4,769.1h.8M106.4,772.1h.8M105.9,769.3h.8M101.9,774.2h.8M103.2,778.4h.8M107.2,772.4h.8M104.4,769.2h.8M100.1,772.1h.8M108.1,770.1h.8M95.5,768.3h.8M97.3,773.0h.8M101.6,767.4h.8M99.3,771.7h.8M105.0,777.5h.8M109.6,772.6h.8M106.2,774.4h.8M97.8,770.4h.8M111.2,778.7h.8M111.2,772.9h.8M107.7,772.3h.8M97.8,767.4h.8M105.3,764.9h.8M104.9,769.1h.8M104.9,766.2h.8M107.3,772.7h.8M95.7,765.9h.8M103.5,764.7h.8M104.8,776.8h.8M100.0,781.9h.8M110.2,775.8h.8M105.4,776.7h.8M101.9,781.5h.8M103.3,776.5h.8M107.2,767.8h.8M109.9,769.4h.8M106.2,778.2h.8M104.1,780.4h.8M105.6,771.6h.8M95.3,782.1h.8M110.7,770.7h.8M98.4,780.4h.8M103.5,768.6h.8M100.9,774.4h.8M108.0,782.9h.8M100.2,782.7h.8M95.9,778.1h.8M102.5,776.5h.8M101.1,770.0h.8M104.6,780.4h.8M101.3,767.9h.8M96.7,776.9h.8M105.9,777.7h.8M100.2,771.6h.8M111.7,771.8h.8M103.8,779.7h.8M111.3,776.1h.8M99.6,772.2h.8M109.5,775.8h.8M109.0,774.6h.8M103.4,770.7h.8M97.2,776.9h.8M105.0,777.3h.8M100.6,771.6h.8M105.0,777.5h.8M112.8,769.1h.8M108.0,779.0h.8M101.9,774.8h.8M102.9,782.7h.8M102.0,779.4h.8M105.6,773.0h.8M106.9,779.0h.8M101.3,778.8h.8M101.7,774.9h.8M96.2,782.4h.8M101.4,774.9h.8M103.0,778.3h.8M100.4,778.2h.8M99.2,765.6h.8M105.7,774.9h.8M103.7,770.4h.8M102.3,771.8h.8M101.4,770.2h.8M95.1,776.0h.8M112.9,769.7h.8M98.8,767.4h.8M98.3,781.1h.8M106.5,779.1h.8M104.9,775.3h.8M100.4,768.5h.8M101.4,781.2h.8M99.8,774.2h.8M111.4,773.6h.8M106.3,770.8h.8M112.3,767.0h.8M105.9,772.7h.8M104.2,776.1h.8M109.6,779.0h.8M108.3,776.1h.8M98.0,781.7h.8M110.6,776.8h.8M107.1,772.7h.8M96.2,779.6h.8M106.5,773.9h.8M100.2,774.6h.8M98.3,771.9h.8M110.9,772.3h.8M112.1,773.5h.8M105.2,768.7h.8M101.8,771.5h.8M106.1,773.5h.8M97.9,774.2h.8M98.1,768.5h.8M94.8,777.2h.8M96.4,773.2h.8M103.5,769.7h.8M111.8,777.1h.8M100.1,764.6h.8M104.0,770.2h.8M108.1,768.0h.8M109.0,771.4h.8M104.1,772.5h.8M106.2,780.6h.8M100.6,768.9h.8M112.4,779.5h.8M112.4,779.5h.8M103.8,783.3h.8M99.9,771.6h.8M101.2,777.9h.8M99.1,773.0h.8M99.1,772.7h.8M108.6,780.4h.8M99.8,776.6h.8M97.4,781.1h.8M102.6,775.6h.8M109.3,774.2h.8M100.1,770.5h.8M98.6,777.2h.8M100.9,776.9h.8M95.9,771.5h.8M102.7,780.8h.8M104.5,782.8h.8M97.5,778.4h.8M98.0,777.9h.8M99.0,776.4h.8M105.4,769.9h.8M104.3,767.9h.8M107.9,779.2h.8M102.4,778.0h.8M94.1,775.9h.8M101.0,769.5h.8M107.5,779.8h.8M106.0,783.4h.8M100.1,771.6h.8M102.1,774.3h.8M98.5,775.3h.8M108.3,770.4h.8M105.9,773.1h.8M102.4,774.7h.8M110.5,777.0h.8M106.5,774.9h.8M103.0,774.6h.8M100.7,765.2h.8M105.8,767.2h.8M102.2,771.1h.8M100.1,769.6h.8M100.8,778.5h.8M111.0,779.3h.8M103.1,773.2h.8M101.9,773.9h.8M100.1,773.0h.8M107.2,772.7h.8M99.1,773.3h.8M103.5,773.6h.8M101.8,778.1h.8M102.9,768.2h.8M105.9,769.9h.8M106.9,778.7h.8M105.5,775.8h.8M96.5,772.9h.8M103.7,777.7h.8M97.6,773.1h.8M95.6,775.0h.8M103.5,774.7h.8M111.2,778.2h.8M102.2,770.7h.8M100.9,778.5h.8M107.6,771.1h.8M102.5,771.5h.8M106.5,775.1h.8M99.6,768.9h.8M109.5,766.0h.8M107.3,777.2h.8M107.2,780.5h.8M100.8,773.9h.8M107.9,777.2h.8M99.4,769.7h.8M96.0,775.5h.8M100.5,765.1h.8M100.4,775.9h.8M104.0,772.7h.8M103.9,777.8h.8M97.2,769.3h.8M107.9,778.2h.8M96.2,769.9h.8M110.2,778.3h.8M102.4,779.9h.8M109.8,782.1h.8M96.3,766.6h.8M100.6,773.7h.8M101.4,775.4h.8M110.4,780.3h.8M108.0,774.0h.8M111.2,776.6h.8M104.3,773.9h.8M103.0,779.2h.8M97.4,779.9h.8M104.3,768.6h.8M107.8,774.1h.8M98.2,776.2h.8M98.0,779.6h.8M104.2,773.6h.8M107.3,774.2h.8M108.2,782.2h.8M107.3,768.5h.8M106.4,772.5h.8M104.6,779.6h.8M99.8,775.2h.8M110.3,769.2h.8M102.1,778.2h.8M102.0,779.9h.8M98.1,765.4h.8M105.0,773.2h.8M104.6,779.5h.8M108.3,772.0h.8M98.3,775.4h.8M104.2,765.5h.8M107.0,773.8h.8M108.5,772.0h.8M107.9,767.7h.8M106.5,776.4h.8M106.4,783.6h.8M106.9,776.9h.8M95.3,776.1h.8M101.3,768.5h.8M98.1,773.2h.8M106.0,770.3h.8M104.6,778.1h.8M101.5,769.8h.8M106.4,773.0h.8M104.6,773.3h.8M107.4,774.0h.8M104.2,773.6h.8M105.8,766.9h.8M105.1,777.7h.8M112.4,769.8h.8M103.8,779.4h.8M99.8,770.7h.8M108.4,779.5h.8M98.3,777.8h.8M108.7,766.8h.8M103.1,772.9h.8M106.6,774.0h.8M106.3,776.4h.8M104.1,781.7h.8M95.4,777.7h.8M99.5,777.1h.8M103.6,764.8h.8M97.9,781.2h.8M102.5,781.1h.8M104.8,779.1h.8M101.1,775.3h.8M101.2,779.2h.8M100.2,780.3h.8M110.9,767.1h.8M102.2,777.1h.8M111.9,780.6h.8M107.2,770.7h.8M104.0,776.3h.8M96.1,780.1h.8M107.6,777.3h.8M106.0,776.0h.8M96.2,771.1h.8M107.1,772.1h.8M103.2,776.1h.8M103.5,775.5h.8M105.5,774.0h.8M97.6,772.5h.8M107.8,770.2h.8M105.4,775.8h.8M103.0,769.6h.8M100.0,779.3h.8M99.3,776.0h.8M103.7,775.1h.8M107.8,773.2h.8M101.7,770.2h.8M103.3,774.3h.8M98.5,783.3h.8M99.4,773.2h.8M96.8,774.9h.8M98.3,773.1h.8M110.8,773.1h.8M111.8,778.0h.8M97.2,781.5h.8M106.8,773.0h.8M98.2,776.9h.8M98.2,773.3h.8M97.6,772.4h.8M111.4,775.8h.8M103.7,776.1h.8M106.1,775.8h.8M99.8,768.8h.8M105.3,781.7h.8M109.8,773.8h.8M100.0,775.6h.8M95.8,773.9h.8M108.3,782.4h.8M96.5,768.6h.8M103.2,776.0h.8M111.4,766.9h.8M97.2,773.7h.8M108.5,765.5h.8M101.5,777.8h.8M102.1,768.2h.8M96.2,778.7h.8M103.7,774.7h.8M106.6,778.7h.8M101.8,771.6h.8M110.6,766.4h.8M108.2,773.3h.8M104.1,769.5h.8M111.0,770.5h.8M100.4,766.1h.8M110.2,779.9h.8M95.9,767.7h.8M99.9,765.5h.8M103.5,780.3h.8M107.2,774.1h.8M111.6,770.5h.8M100.4,769.8h.8M105.2,773.4h.8M97.1,773.9h.8M111.4,780.8h.8M105.6,780.5h.8M103.3,773.9h.8M106.8,768.6h.8M105.1,774.0h.8M100.1,774.0h.8M98.0,776.6h.8M96.9,773.0h.8M95.9,774.7h.8M96.6,779.8h.8M95.3,779.5h.8M100.1,782.2h.8M100.6,767.6h.8M106.4,769.4h.8M108.8,773.6h.8M99.5,775.6h.8M98.8,769.8h.8M96.4,769.3h.8M98.7,767.9h.8M102.1,773.1h.8M105.1,774.9h.8M106.6,776.0h.8M103.0,780.4h.8M97.4,769.9h.8M95.2,781.4h.8M110.0,772.3h.8M109.3,775.1h.8M110.8,781.2h.8M100.6,770.0h.8M102.1,782.2h.8M103.0,771.5h.8M95.4,771.9h.8M110.7,772.5h.8M108.5,781.1h.8M110.9,778.2h.8M103.4,770.4h.8M111.0,779.5h.8M107.6,766.0h.8M106.0,777.4h.8M97.3,770.9h.8M102.7,769.6h.8M96.8,767.7h.8M102.8,765.2h.8M108.5,772.5h.8M99.7,769.5h.8M100.4,775.8h.8M107.2,772.7h.8M107.2,775.3h.8M108.8,778.1h.8M108.0,765.4h.8M101.0,767.1h.8M109.1,768.0h.8M110.7,771.2h.8M97.6,777.6h.8M98.1,771.5h.8M102.5,776.4h.8M103.8,776.9h.8M108.5,782.4h.8M105.6,772.7h.8M103.4,771.3h.8M109.2,774.8h.8M106.8,779.7h.8M106.8,781.0h.8M102.7,777.5h.8M110.0,773.8h.8M109.0,770.0h.8M97.7,780.3h.8M104.4,782.3h.8M105.2,769.6h.8M97.1,781.2h.8M99.3,768.0h.8M104.0,777.9h.8M104.8,765.9h.8M108.3,777.2h.8M100.5,781.6h.8M103.4,778.8h.8M96.5,770.5h.8M107.9,777.3h.8M106.9,777.5h.8M95.5,780.4h.8M95.7,769.4h.8M100.1,774.0h.8M96.6,772.7h.8M97.4,771.0h.8M100.9,767.0h.8M108.7,765.6h.8M98.4,781.1h.8M101.9,782.0h.8M100.2,774.3h.8M104.0,772.3h.8M111.8,772.2h.8M108.5,774.1h.8M100.9,780.2h.8M110.7,765.3h.8M105.2,778.6h.8M103.6,772.3h.8M107.2,767.8h.8M103.1,768.6h.8M109.7,779.1h.8M101.7,779.1h.8M104.2,776.8h.8M99.1,778.9h.8M106.0,782.9h.8M99.5,772.2h.8M108.2,769.7h.8M108.0,780.3h.8M97.8,778.1h.8M99.9,769.9h.8M101.0,779.0h.8M105.8,771.9h.8M106.6,779.6h.8M98.3,780.6h.8M103.9,776.4h.8M109.6,768.8h.8M103.0,777.8h.8M95.3,772.0h.8M104.2,773.1h.8M103.6,780.1h.8M96.9,778.0h.8M99.8,766.5h.8M102.9,767.3h.8M102.8,768.0h.8M102.6,767.5h.8M111.9,768.8h.8M102.5,775.9h.8M106.5,767.3h.8M109.4,771.7h.8M96.4,772.7h.8M105.6,771.5h.8M107.4,770.6h.8M108.9,781.8h.8M108.9,766.1h.8M102.1,774.6h.8M101.5,768.3h.8M105.0,767.1h.8M97.8,772.5h.8M111.9,771.9h.8M111.4,777.1h.8M106.0,781.4h.8M104.9,778.3h.8M103.0,779.3h.8M109.9,765.0h.8M110.9,765.6h.8M105.9,766.3h.8M107.9,772.8h.8M97.3,780.2h.8M99.2,781.2h.8M101.5,775.1h.8M102.6,778.7h.8M101.0,774.2h.8M98.9,771.1h.8M96.9,769.7h.8M99.7,777.4h.8M97.5,767.8h.8M111.5,776.6h.8M96.5,780.6h.8M107.9,776.0h.8M111.4,774.6h.8M97.4,765.2h.8M96.5,773.3h.8M104.4,780.0h.8M96.2,766.3h.8M96.6,771.5h.8M110.9,779.1h.8M95.7,775.6h.8M98.1,769.0h.8M100.5,769.4h.8M100.0,769.0h.8M100.8,775.6h.8M104.6,778.1h.8M99.8,765.5h.8M104.7,770.6h.8M98.6,772.4h.8M111.1,775.8h.8M107.2,765.8h.8M104.2,777.6h.8M109.7,778.7h.8M95.9,782.8h.8M95.3,778.9h.8M103.0,781.7h.8M111.1,778.5h.8M96.4,776.6h.8M97.0,772.6h.8M97.2,770.4h.8M95.9,774.7h.8M96.6,769.4h.8M108.2,770.3h.8M104.8,780.6h.8M105.8,779.7h.8M110.9,769.4h.8M98.2,782.9h.8M110.6,770.8h.8M110.7,766.6h.8M98.9,780.5h.8M96.8,780.5h.8M98.8,778.9h.8M97.2,774.0h.8M104.8,775.1h.8M109.7,765.6h.8M107.0,780.3h.8M103.9,769.2h.8M108.6,772.7h.8M99.4,778.9h.8M108.0,779.8h.8M103.4,765.3h.8M95.4,774.9h.8M95.6,776.2h.8M97.3,779.0h.8M109.3,764.1h.8M99.0,764.1h.8M105.3,754.7h.8M106.6,760.4h.8M106.5,764.0h.8M104.6,744.1h.8M104.7,761.7h.8M100.6,742.1h.8M103.4,751.9h.8M100.8,753.8h.8M101.7,758.5h.8M109.5,760.8h.8M106.7,758.3h.8M105.1,747.2h.8M95.7,754.1h.8M100.9,748.0h.8M107.4,757.3h.8M103.9,762.8h.8M102.8,749.8h.8M110.8,741.3h.8M102.8,761.0h.8M103.9,741.2h.8M97.4,756.7h.8M105.2,745.0h.8M104.8,754.6h.8M103.1,763.3h.8M102.0,758.8h.8M101.2,764.4h.8M103.1,747.4h.8M98.0,763.6h.8M104.4,755.4h.8M100.6,759.8h.8M105.6,737.2h.8M99.1,760.0h.8M101.8,757.1h.8M98.9,755.5h.8M101.5,759.3h.8M102.5,736.3h.8M106.7,749.6h.8M106.5,763.9h.8M101.3,758.9h.8M103.6,764.3h.8M103.6,764.1h.8M105.0,755.4h.8M98.5,761.3h.8M104.4,754.3h.8M99.3,749.1h.8M100.2,758.2h.8M97.9,760.8h.8M103.5,743.6h.8M101.5,764.5h.8M102.3,760.5h.8M101.0,760.4h.8M104.1,758.4h.8M105.4,752.5h.8M110.8,754.1h.8M100.4,758.2h.8M100.7,754.7h.8M105.5,764.2h.8M104.4,751.4h.8M104.5,747.0h.8M107.0,762.2h.8M101.2,757.2h.8M100.0,748.4h.8M104.4,757.4h.8M105.2,762.9h.8M101.9,746.8h.8M104.6,760.5h.8M107.1,745.5h.8M100.1,756.1h.8M99.3,757.5h.8M100.5,757.9h.8M105.3,749.8h.8M104.3,749.3h.8M102.6,755.5h.8M106.4,754.6h.8M103.6,755.3h.8M107.5,763.2h.8M101.1,756.2h.8M100.6,752.0h.8M107.6,762.1h.8M101.5,742.9h.8M104.2,761.6h.8M99.8,761.1h.8M103.9,739.9h.8M99.5,755.2h.8M102.5,756.8h.8M96.7,751.3h.8M105.6,753.3h.8M108.3,743.3h.8M105.3,762.0h.8M106.9,758.5h.8M105.9,760.9h.8M106.6,744.3h.8M103.6,754.3h.8M99.6,741.7h.8M103.3,746.6h.8M103.2,762.6h.8M103.9,751.9h.8M101.4,748.2h.8M106.6,756.2h.8M99.3,761.2h.8M105.6,754.2h.8M106.3,745.8h.8M106.9,761.2h.8M104.9,745.6h.8M101.4,756.7h.8M111.2,762.1h.8M108.1,744.8h.8M102.8,744.4h.8M107.4,738.3h.8M110.3,751.0h.8M106.7,751.7h.8M106.8,759.2h.8M108.6,748.6h.8M99.2,763.1h.8M97.5,763.4h.8M108.5,751.1h.8M102.6,742.6h.8M96.2,759.0h.8M101.3,737.9h.8M100.0,751.9h.8M103.0,743.7h.8M108.1,759.5h.8M100.0,753.0h.8M100.1,763.4h.8M99.4,761.4h.8M98.1,757.2h.8M108.5,760.8h.8M106.8,761.5h.8M99.6,752.8h.8M100.0,763.3h.8M99.1,757.2h.8M104.2,763.6h.8M103.4,761.4h.8M100.4,761.0h.8M103.3,752.3h.8M105.6,764.0h.8M101.5,742.0h.8M108.2,758.1h.8M106.9,758.6h.8M98.1,761.6h.8M103.8,751.7h.8M100.2,751.8h.8M107.0,760.3h.8M109.5,749.0h.8M105.7,764.5h.8M102.7,755.8h.8M105.4,740.7h.8M104.9,752.7h.8M104.7,754.2h.8M105.4,759.5h.8M106.3,745.1h.8M98.9,759.3h.8M107.5,758.6h.8M101.2,745.0h.8M102.8,756.7h.8M103.8,760.1h.8M108.6,748.2h.8M95.5,761.1h.8M104.5,745.8h.8M100.8,746.8h.8M107.0,758.4h.8M112.9,763.6h.8M103.6,744.4h.8M102.9,757.5h.8M104.6,760.1h.8M105.6,749.1h.8M101.6,756.6h.8M105.1,744.0h.8M99.2,760.7h.8M100.5,752.0h.8M106.9,755.8h.8M94.9,761.6h.8M108.8,749.9h.8M101.7,762.0h.8M95.4,759.0h.8M103.5,761.4h.8M112.7,759.9h.8M102.8,760.8h.8M102.3,747.0h.8M107.6,762.3h.8M104.9,762.4h.8M100.7,745.1h.8M100.7,758.9h.8M104.1,761.0h.8M102.0,763.5h.8M104.3,754.2h.8M99.9,749.3h.8M102.5,763.7h.8M101.7,760.9h.8M104.0,764.3h.8M105.9,756.7h.8M101.3,755.0h.8M100.4,748.9h.8M107.5,762.3h.8M106.4,749.9h.8M98.8,735.2h.8M96.9,750.5h.8M101.6,753.6h.8M102.8,753.5h.8M98.2,761.6h.8M104.0,753.9h.8M103.6,748.2h.8M102.3,758.5h.8M101.8,761.2h.8M98.9,747.8h.8M100.0,752.1h.8M110.7,759.3h.8M102.1,752.6h.8M99.2,744.1h.8M102.2,757.8h.8M102.0,760.5h.8M107.3,760.8h.8M104.4,760.7h.8M103.5,738.4h.8M101.2,755.5h.8M100.7,751.9h.8M103.3,753.1h.8M101.6,758.1h.8M103.4,761.5h.8M109.7,761.4h.8M109.0,751.8h.8M104.6,747.9h.8M101.6,759.0h.8M106.4,757.1h.8M102.3,758.1h.8M109.2,746.1h.8M103.2,750.3h.8M104.4,759.7h.8M106.4,746.0h.8M98.6,761.0h.8M100.4,758.4h.8M98.7,747.1h.8M104.5,763.2h.8M103.4,756.1h.8M100.8,763.3h.8M101.1,747.8h.8M106.8,759.0h.8M104.4,746.8h.8M102.6,760.7h.8M105.2,763.4h.8M104.3,757.2h.8M100.9,759.0h.8M99.8,760.2h.8M101.6,763.4h.8M103.4,755.4h.8M103.3,743.0h.8M107.6,755.8h.8M103.4,742.5h.8M105.6,748.2h.8M108.4,750.8h.8M108.2,740.7h.8M105.1,745.7h.8M100.9,763.8h.8M102.3,761.3h.8M106.6,751.2h.8M99.2,762.5h.8M110.8,764.4h.8M104.0,761.5h.8M97.4,754.3h.8M109.0,739.3h.8M110.0,749.1h.8M108.9,760.5h.8M105.6,756.1h.8M101.8,764.2h.8M102.3,750.3h.8M98.6,763.0h.8M96.2,763.9h.8M107.5,753.0h.8M103.7,752.7h.8M64.2,758.0h.8M87.5,755.9h.8M66.6,747.2h.8M83.1,754.8h.8M64.4,761.9h.8M82.6,761.4h.8M89.5,758.3h.8M87.9,761.0h.8M78.5,774.9h.8M65.3,769.4h.8M78.2,774.2h.8M77.6,775.6h.8M76.7,768.8h.8M74.3,770.0h.8M74.1,772.5h.8M71.4,770.8h.8M71.1,766.7h.8M77.3,766.9h.8M78.5,770.9h.8M82.2,773.9h.8M61.5,770.8h.8M79.4,771.5h.8M75.2,776.3h.8M75.6,775.9h.8M80.2,774.0h.8M82.6,771.8h.8M75.7,775.2h.8M67.5,779.5h.8M77.6,772.1h.8M80.0,774.9h.8" stroke="#222" stroke-opacity="0.4" stroke-width="0.8" fill="none"/>
<rect x="52.5" y="711.7" width="78.80000000000001" height="78.5" fill="none" stroke="#111" stroke-width="1.4"/>
<path d="M48.3,764.2h4.2M48.3,748.2h4.2M48.3,732.2h4.2M48.3,716.2h4.2M50.3,775.4h2.2M50.3,772.6h2.2M50.3,770.6h2.2M50.3,769.0h2.2M50.3,767.7h2.2M50.3,766.7h2.2M50.3,765.8h2.2M50.3,764.9h2.2M50.3,759.4h2.2M50.3,756.6h2.2M50.3,754.6h2.2M50.3,753.0h2.2M50.3,751.7h2.2M50.3,750.7h2.2M50.3,749.8h2.2M50.3,748.9h2.2M50.3,743.4h2.2M50.3,740.6h2.2M50.3,738.6h2.2M50.3,737.0h2.2M50.3,735.7h2.2M50.3,734.7h2.2M50.3,733.8h2.2M50.3,732.9h2.2M50.3,727.4h2.2M50.3,724.6h2.2M50.3,722.6h2.2M50.3,721.0h2.2M50.3,719.7h2.2M50.3,718.7h2.2M50.3,717.8h2.2M50.3,716.9h2.2" stroke="#000" stroke-width="1.05" fill="none"/>
<path d="M69.5,790.2v4.0M87.5,790.2v4.0M105.5,790.2v4.0M123.5,790.2v4.0M56.9,790.2v2.2M60.1,790.2v2.2M62.3,790.2v2.2M64.1,790.2v2.2M65.5,790.2v2.2M66.7,790.2v2.2M67.8,790.2v2.2M68.7,790.2v2.2M74.9,790.2v2.2M78.1,790.2v2.2M80.3,790.2v2.2M82.1,790.2v2.2M83.5,790.2v2.2M84.7,790.2v2.2M85.8,790.2v2.2M86.7,790.2v2.2M92.9,790.2v2.2M96.1,790.2v2.2M98.3,790.2v2.2M100.1,790.2v2.2M101.5,790.2v2.2M102.7,790.2v2.2M103.8,790.2v2.2M104.7,790.2v2.2M110.9,790.2v2.2M114.1,790.2v2.2M116.3,790.2v2.2M118.1,790.2v2.2M119.5,790.2v2.2M120.7,790.2v2.2M121.8,790.2v2.2M122.7,790.2v2.2M128.9,790.2v2.2" stroke="#000" stroke-width="1.05" fill="none"/>
<rect x="93.5" y="731.3" width="19.5" height="31.40000000000009" fill="none" stroke="#8a8a8a" stroke-width="1"/>
<rect x="93.5" y="763.7" width="19.5" height="20.09999999999991" fill="none" stroke="#8a8a8a" stroke-width="1"/>
<rect x="57.9" y="763.7" width="34.4" height="20.09999999999991" fill="none" stroke="#8a8a8a" stroke-width="1"/>
<path d="M103.0,825.4h.8M107.3,844.2h.8M105.1,827.2h.8M103.9,823.6h.8M99.7,828.1h.8M97.7,835.7h.8M102.5,834.1h.8M103.6,828.8h.8M103.9,833.2h.8M100.4,830.5h.8M101.0,819.9h.8M105.7,833.6h.8M104.2,846.6h.8M107.6,829.2h.8M104.9,846.9h.8M102.8,838.1h.8M105.3,822.7h.8M104.7,829.7h.8M102.3,838.7h.8M106.3,824.1h.8M102.4,831.8h.8M99.3,838.0h.8M102.6,826.3h.8M107.5,833.0h.8M98.4,832.9h.8M102.6,837.1h.8M109.7,832.1h.8M105.5,839.4h.8M103.0,836.6h.8M101.5,841.5h.8M102.9,837.9h.8M105.3,824.3h.8M104.3,829.4h.8M97.8,827.9h.8M98.9,836.6h.8M97.4,836.3h.8M105.8,825.8h.8M99.3,830.2h.8M106.8,849.1h.8M112.7,834.9h.8M106.1,836.0h.8M103.4,822.3h.8M101.9,846.1h.8M109.4,827.4h.8M103.6,838.9h.8M104.8,823.4h.8M102.2,827.1h.8M96.8,828.4h.8M100.6,842.4h.8M110.2,826.0h.8M105.9,831.7h.8M94.9,846.8h.8M111.0,825.0h.8M106.2,828.3h.8M103.0,828.9h.8M102.8,834.4h.8M100.8,837.0h.8M97.9,842.8h.8M107.0,830.2h.8M101.1,843.9h.8M105.3,818.4h.8M101.3,826.6h.8M105.4,839.9h.8M101.2,833.6h.8M100.4,831.7h.8M99.7,821.6h.8M107.9,821.5h.8M106.2,823.0h.8M104.5,841.2h.8M99.2,824.9h.8M98.8,840.0h.8M104.7,845.0h.8M97.2,823.8h.8M102.9,829.1h.8M104.8,846.2h.8M104.0,825.2h.8M103.3,826.1h.8M102.5,833.2h.8M98.0,836.6h.8M106.6,841.5h.8M98.4,835.1h.8M107.4,828.8h.8M106.5,828.5h.8M103.4,827.6h.8M97.0,824.8h.8M104.2,830.8h.8M103.4,827.6h.8M107.2,832.0h.8M105.1,828.8h.8M109.1,832.8h.8M100.6,837.5h.8M108.1,838.7h.8M102.1,847.1h.8M100.5,821.0h.8M107.4,834.2h.8M102.5,845.2h.8M102.9,841.0h.8M104.4,846.6h.8M105.8,828.8h.8M109.9,830.1h.8M110.9,820.1h.8M105.7,848.6h.8M101.8,839.1h.8M102.5,849.7h.8M104.9,837.8h.8M106.4,835.4h.8M109.0,834.3h.8M106.1,833.4h.8M99.2,828.5h.8M102.7,819.5h.8M103.3,828.8h.8M111.3,831.3h.8M104.0,835.0h.8M99.9,824.3h.8M108.5,837.2h.8M100.0,842.1h.8M102.1,837.6h.8M99.3,832.9h.8M101.4,837.0h.8M102.5,838.8h.8M108.5,821.6h.8M100.7,848.3h.8M105.8,844.8h.8M100.6,824.5h.8M98.6,831.8h.8M98.5,841.7h.8M100.5,839.6h.8M96.7,843.6h.8M106.4,844.3h.8M107.7,834.5h.8M110.4,830.1h.8M101.5,833.9h.8M104.6,836.0h.8M102.5,845.0h.8M112.8,829.8h.8M97.2,828.9h.8M97.5,820.1h.8M99.0,845.6h.8M104.2,841.7h.8M103.0,845.1h.8M101.7,848.2h.8M107.3,836.4h.8M97.2,822.0h.8M104.6,822.6h.8M102.8,832.2h.8M109.4,826.6h.8M104.1,829.0h.8M100.3,838.8h.8M107.7,818.5h.8M104.2,839.7h.8M99.0,829.6h.8M104.8,833.0h.8M109.4,824.4h.8M102.4,839.7h.8M103.2,831.3h.8M103.0,838.4h.8M106.7,822.5h.8M99.6,821.7h.8M103.5,839.4h.8M102.7,831.2h.8M104.6,826.0h.8M102.0,833.3h.8M95.6,840.8h.8M104.4,840.1h.8M100.9,842.1h.8M101.5,842.4h.8M109.3,840.8h.8M97.3,834.8h.8M104.4,820.2h.8M97.0,848.4h.8M99.2,838.5h.8M102.1,832.4h.8M101.6,834.1h.8M110.5,824.5h.8M105.7,839.3h.8M100.6,822.1h.8M99.7,840.3h.8M104.2,845.2h.8M105.1,835.3h.8M103.6,836.5h.8M103.7,841.3h.8M99.8,845.7h.8M110.5,833.1h.8M106.0,821.3h.8M104.0,818.5h.8M107.8,834.6h.8M108.2,846.3h.8M100.4,842.9h.8M103.1,839.9h.8M100.8,840.9h.8M106.1,849.7h.8M102.9,834.7h.8M105.7,832.2h.8M96.2,828.6h.8M106.5,834.3h.8M106.1,839.9h.8M110.6,843.0h.8M100.9,826.1h.8M98.6,828.8h.8M103.1,847.6h.8M110.7,834.9h.8M106.1,832.3h.8M97.9,839.8h.8M98.5,848.8h.8M97.6,833.3h.8M105.7,829.8h.8M99.4,834.1h.8M110.7,841.2h.8M104.4,840.2h.8M108.6,848.4h.8M102.4,824.6h.8M99.3,834.7h.8M102.2,834.1h.8M100.5,849.5h.8M99.8,825.6h.8M98.5,822.3h.8M96.5,825.2h.8M102.5,841.6h.8M95.8,838.8h.8M103.0,834.0h.8M94.2,839.3h.8M106.4,846.4h.8M102.3,847.4h.8M103.8,824.2h.8M105.8,844.6h.8M104.5,833.7h.8M102.5,841.3h.8M95.7,837.3h.8M98.0,828.5h.8M104.4,847.4h.8M103.5,824.1h.8M100.3,827.6h.8M104.0,819.6h.8M107.3,835.1h.8M101.8,836.3h.8M98.5,836.2h.8M105.1,846.9h.8M112.2,827.3h.8M105.2,825.6h.8M104.1,846.5h.8M106.3,830.9h.8M111.3,843.7h.8M108.9,835.0h.8M109.3,832.5h.8M107.3,834.5h.8M107.8,840.3h.8M100.8,834.8h.8M106.2,840.9h.8M108.5,835.6h.8M104.4,837.1h.8M100.6,828.4h.8M108.1,821.4h.8M110.1,844.3h.8M112.4,827.7h.8M102.2,829.2h.8M107.0,824.4h.8M103.7,836.3h.8M112.2,825.1h.8M107.8,840.2h.8M107.4,822.2h.8M107.8,835.9h.8M100.5,829.7h.8M106.8,833.7h.8M105.8,827.5h.8M101.8,837.6h.8M94.5,833.2h.8M103.0,846.3h.8M107.4,830.3h.8M97.6,845.7h.8M104.0,819.3h.8M99.8,849.2h.8M110.2,841.6h.8M96.9,843.1h.8M99.9,828.6h.8M101.3,845.9h.8M105.8,840.4h.8M101.6,828.5h.8M108.3,827.4h.8M102.3,840.2h.8M102.8,844.9h.8M106.0,841.1h.8M112.9,820.0h.8M100.6,825.3h.8M106.7,848.0h.8M108.3,832.0h.8M107.4,823.8h.8M106.5,826.7h.8M105.7,823.6h.8M105.2,818.9h.8M100.0,835.6h.8M107.1,820.4h.8M111.4,837.3h.8M105.0,829.2h.8M112.1,840.5h.8M103.1,847.6h.8M106.2,830.9h.8M101.9,834.1h.8M109.7,818.3h.8M96.1,841.6h.8M107.2,835.9h.8M96.6,834.8h.8M97.8,838.0h.8M102.8,841.2h.8M107.4,823.9h.8M101.9,842.3h.8M100.7,845.4h.8M106.2,844.1h.8M100.9,842.8h.8M102.6,836.5h.8M106.4,827.8h.8M100.5,840.9h.8M97.2,830.7h.8M106.5,840.0h.8M97.2,838.5h.8M98.1,846.2h.8M105.3,826.9h.8M101.5,833.2h.8M101.0,847.1h.8M104.9,827.7h.8M105.6,818.6h.8M104.2,830.4h.8M101.0,833.4h.8M107.1,827.4h.8M99.9,845.7h.8M101.0,848.1h.8M107.5,837.8h.8M99.9,845.7h.8M105.2,821.9h.8M106.0,832.1h.8M103.0,823.0h.8M104.5,843.6h.8M99.8,843.0h.8M95.5,835.2h.8M104.7,823.3h.8M104.2,819.3h.8M111.7,838.4h.8M108.3,823.6h.8M109.4,832.2h.8M108.6,838.5h.8M105.0,845.8h.8M101.0,829.4h.8M108.3,839.1h.8M101.2,821.8h.8M107.5,832.3h.8M97.9,838.5h.8M99.5,842.5h.8M101.4,833.3h.8M105.0,832.2h.8M100.8,845.3h.8M100.5,838.6h.8M105.3,842.4h.8M106.9,837.1h.8M112.0,842.8h.8M100.3,823.8h.8M100.5,848.9h.8M105.4,827.4h.8M99.2,832.9h.8M106.8,833.2h.8M106.6,835.9h.8M109.3,828.5h.8M103.0,821.3h.8M102.2,822.8h.8M97.1,831.5h.8M98.1,818.3h.8M105.1,840.3h.8M104.9,831.9h.8M100.3,836.1h.8M99.8,831.4h.8M105.2,831.1h.8M96.8,845.2h.8M101.1,828.7h.8M101.2,833.3h.8M102.9,838.0h.8M94.5,832.7h.8M99.8,836.4h.8M99.3,834.7h.8M104.7,833.5h.8M104.5,841.3h.8M99.0,833.4h.8M108.0,844.4h.8M107.7,824.7h.8M100.7,845.0h.8M103.5,837.3h.8M102.0,844.2h.8M104.3,822.9h.8M105.1,830.1h.8M102.4,840.3h.8M104.1,827.6h.8M98.6,829.0h.8M103.0,820.6h.8M100.8,834.7h.8M98.3,830.4h.8M104.6,835.8h.8M96.4,834.4h.8M99.4,846.2h.8M105.0,820.9h.8M107.5,828.5h.8M103.1,835.1h.8M98.0,847.1h.8M104.2,822.4h.8M97.7,839.1h.8M108.6,838.5h.8M104.8,829.3h.8M108.2,840.1h.8M100.1,827.1h.8M94.4,846.9h.8M105.4,842.5h.8M99.2,824.6h.8M110.3,844.2h.8M106.7,832.8h.8M103.3,835.6h.8M105.3,827.3h.8M101.3,823.4h.8M99.5,849.0h.8M100.7,825.6h.8M108.1,832.1h.8M103.3,841.9h.8M108.3,836.7h.8M110.1,826.5h.8M101.3,841.7h.8M102.2,841.7h.8M96.8,836.3h.8M102.5,833.4h.8M101.7,827.0h.8M107.1,822.5h.8M100.9,818.5h.8M110.8,823.8h.8M99.0,848.8h.8M98.0,828.9h.8M105.9,837.9h.8M104.9,837.6h.8M100.6,843.8h.8M97.3,826.4h.8M105.7,835.0h.8M102.8,824.3h.8M99.8,823.2h.8M98.1,835.6h.8M105.3,823.7h.8M104.1,819.4h.8M105.1,830.6h.8M103.2,836.3h.8M109.0,836.5h.8M100.7,835.9h.8M105.2,840.1h.8M108.0,825.1h.8M98.4,841.1h.8M98.7,839.2h.8M97.3,825.0h.8M105.2,831.0h.8M106.5,836.9h.8M104.9,840.4h.8M96.9,846.9h.8M97.5,824.4h.8M105.2,830.0h.8M105.9,821.4h.8M102.0,836.9h.8M103.2,838.8h.8M110.6,842.1h.8M99.2,833.7h.8M102.5,824.7h.8M106.3,829.9h.8M104.5,841.4h.8M112.5,827.4h.8M110.3,837.6h.8M100.4,836.0h.8M100.9,829.6h.8M96.2,831.0h.8M95.0,845.2h.8M105.7,829.7h.8M103.7,835.6h.8M102.4,837.5h.8M102.8,839.3h.8M100.1,835.0h.8M110.7,825.2h.8M100.1,844.8h.8M104.9,836.0h.8M104.3,829.7h.8M101.3,840.0h.8M104.3,841.5h.8M103.9,849.9h.8M107.7,825.9h.8M110.3,828.0h.8M107.9,825.9h.8M105.1,836.1h.8M95.3,845.3h.8M106.8,828.7h.8M101.9,827.0h.8M107.3,837.2h.8M102.9,847.3h.8M100.7,842.9h.8M102.5,839.5h.8M106.9,825.2h.8M101.6,849.4h.8M109.8,821.0h.8M104.3,841.4h.8M102.7,844.8h.8M103.9,824.9h.8M103.4,832.0h.8M102.6,835.4h.8M105.1,825.8h.8M106.4,840.0h.8M101.4,836.8h.8M105.5,842.9h.8M97.0,834.8h.8M108.2,821.6h.8M98.3,829.4h.8M102.4,831.7h.8M108.9,837.7h.8M95.3,843.4h.8M104.0,844.1h.8M104.2,829.2h.8M98.4,844.9h.8M107.2,849.1h.8M94.5,841.0h.8M108.8,826.4h.8M105.5,842.9h.8M105.7,844.0h.8M99.7,843.9h.8M103.3,831.3h.8M103.7,838.5h.8M97.0,834.7h.8M106.4,834.7h.8M99.1,822.4h.8M98.3,844.6h.8M99.8,836.9h.8M101.6,844.7h.8M109.0,845.0h.8M106.4,846.6h.8M110.9,825.1h.8M104.7,827.6h.8M103.7,832.3h.8M104.0,842.7h.8M104.7,846.6h.8M102.6,840.6h.8M106.8,818.2h.8M98.9,837.3h.8M104.9,821.6h.8M103.7,849.2h.8M96.4,841.1h.8M109.0,819.9h.8M108.7,839.8h.8M102.2,835.1h.8M103.4,835.3h.8M102.7,826.7h.8M100.2,820.7h.8M106.3,837.6h.8M105.5,824.2h.8M101.8,846.2h.8M110.4,837.8h.8M100.7,849.4h.8M111.8,825.7h.8M97.9,830.2h.8M100.9,830.8h.8M99.4,842.2h.8M104.8,820.3h.8M106.0,837.3h.8M99.0,836.3h.8M104.9,826.8h.8M104.1,829.8h.8M94.6,819.5h.8M100.8,829.0h.8M101.6,836.2h.8M103.2,832.6h.8M99.9,843.3h.8M105.2,831.5h.8M99.7,838.3h.8M100.0,825.4h.8M101.3,845.5h.8M102.3,833.1h.8M102.0,841.6h.8M102.8,844.2h.8M102.8,844.4h.8M102.2,826.6h.8M105.2,832.7h.8M101.3,826.3h.8M97.7,848.0h.8M105.7,830.5h.8M102.0,826.9h.8M94.7,824.6h.8M101.5,841.6h.8M99.4,831.3h.8M100.1,832.7h.8M105.1,848.5h.8M106.0,839.2h.8M109.3,843.0h.8M105.5,841.4h.8M106.9,823.5h.8M99.6,836.0h.8M95.7,832.0h.8M101.9,838.6h.8M106.3,849.6h.8M100.7,839.7h.8M102.7,824.5h.8M104.4,845.8h.8M101.8,836.1h.8M108.0,833.0h.8M102.0,838.4h.8M105.2,839.6h.8M108.6,840.0h.8M103.5,830.2h.8M104.5,841.0h.8M108.6,820.8h.8M106.6,837.2h.8M106.8,847.2h.8M105.4,826.3h.8M102.8,846.9h.8M96.9,844.9h.8M99.7,828.2h.8M107.6,831.9h.8M96.2,840.7h.8M105.4,826.0h.8M104.3,824.8h.8M103.8,828.6h.8M98.9,842.9h.8M103.3,835.5h.8M98.0,827.2h.8M102.1,828.4h.8M104.7,835.4h.8M102.3,833.2h.8M105.0,846.4h.8M98.6,845.8h.8M107.1,843.9h.8M100.9,837.4h.8M112.3,820.2h.8M106.8,832.1h.8M110.4,836.6h.8M106.9,828.1h.8M97.8,829.2h.8M102.2,821.1h.8M105.9,821.3h.8M103.5,832.4h.8M96.6,835.4h.8M106.8,838.1h.8M106.4,832.9h.8M102.7,842.1h.8M97.9,823.4h.8M98.5,837.8h.8M100.2,843.1h.8M104.7,834.6h.8M107.1,832.2h.8M102.8,838.5h.8M106.6,825.9h.8M101.2,826.6h.8M105.7,839.5h.8M104.1,820.4h.8M99.7,818.8h.8M97.4,826.7h.8M104.5,840.6h.8M95.5,842.1h.8M106.9,818.1h.8M105.3,837.6h.8M104.6,826.8h.8M109.4,836.1h.8M102.1,819.5h.8M103.0,846.0h.8M108.0,843.3h.8M101.4,821.8h.8M102.5,836.4h.8M102.6,831.6h.8M103.8,818.8h.8M107.8,821.7h.8M103.8,825.1h.8M109.1,828.7h.8M99.3,830.8h.8M107.0,821.0h.8M97.7,829.0h.8M102.5,845.5h.8M101.4,841.9h.8M98.4,831.6h.8M100.4,839.4h.8M102.0,830.2h.8M105.4,843.6h.8M104.2,838.9h.8M104.0,821.3h.8M106.6,844.8h.8M100.6,837.0h.8M109.3,837.5h.8M103.5,837.7h.8M96.7,830.8h.8M103.8,842.8h.8M100.3,830.0h.8M101.3,840.5h.8M111.9,837.0h.8M104.0,824.5h.8M106.8,829.3h.8M104.3,824.6h.8M106.0,833.2h.8M106.7,849.1h.8M100.7,844.0h.8M105.1,828.9h.8M104.5,849.1h.8M104.0,846.0h.8M104.8,849.3h.8M102.7,831.1h.8M110.3,829.3h.8M100.0,839.4h.8M109.9,826.8h.8M107.0,829.1h.8M108.0,840.2h.8M109.5,833.9h.8M106.9,820.4h.8M99.1,840.7h.8M103.7,844.9h.8M98.1,822.8h.8M100.6,848.1h.8M105.0,831.5h.8M106.2,833.0h.8M104.4,834.7h.8M97.4,844.2h.8M103.8,828.0h.8M104.1,826.5h.8M103.2,830.6h.8M104.8,824.3h.8M102.9,830.1h.8M99.1,834.0h.8M106.4,843.2h.8M104.7,833.5h.8M107.5,831.6h.8M98.1,826.4h.8M108.3,831.8h.8M105.3,822.2h.8M103.4,827.2h.8M104.5,832.0h.8M112.1,820.0h.8M101.6,839.0h.8M102.0,837.6h.8M107.4,827.4h.8M105.6,833.2h.8M97.6,838.0h.8M98.7,846.6h.8M103.4,836.7h.8M107.8,825.2h.8M106.6,839.6h.8M94.6,834.9h.8M99.2,827.7h.8M101.5,839.0h.8M101.2,832.6h.8M100.8,836.1h.8M107.0,820.9h.8M98.7,829.5h.8M109.6,828.8h.8M104.1,846.8h.8M99.9,829.9h.8M98.5,826.2h.8M107.9,828.3h.8M98.7,841.6h.8M104.6,834.0h.8M112.6,838.0h.8M108.6,820.3h.8M103.1,849.2h.8M106.8,845.1h.8M96.8,831.3h.8M109.6,843.7h.8M103.8,843.7h.8M109.0,823.4h.8M108.2,843.7h.8M109.2,844.8h.8M101.4,837.8h.8M112.5,839.6h.8M100.4,826.2h.8M110.4,838.2h.8M100.4,832.3h.8M101.7,833.0h.8M111.7,826.6h.8M105.8,845.4h.8M112.8,827.4h.8M102.1,829.9h.8M97.8,834.5h.8M99.9,831.9h.8M104.2,843.2h.8M105.0,840.5h.8M105.8,833.4h.8M107.9,836.3h.8M97.3,828.4h.8M111.6,835.8h.8M104.7,848.8h.8M104.5,829.0h.8M98.1,842.5h.8M103.9,823.6h.8M108.9,844.6h.8M97.8,835.6h.8M107.0,844.6h.8M97.4,839.9h.8M106.6,839.0h.8M96.0,829.1h.8M102.9,831.8h.8M107.7,830.0h.8M105.7,825.1h.8M103.3,847.1h.8M101.1,834.0h.8M96.8,820.5h.8M106.2,847.7h.8M100.5,832.2h.8M105.0,829.3h.8M103.8,829.8h.8M106.3,828.4h.8M101.3,818.7h.8M102.9,845.8h.8M97.6,824.5h.8M100.0,839.6h.8M102.1,830.6h.8M99.1,831.2h.8M101.9,825.0h.8M110.0,839.9h.8M102.8,837.8h.8M101.0,833.9h.8M108.8,839.5h.8M102.2,835.4h.8M98.3,830.5h.8M101.6,831.4h.8M109.8,834.6h.8M108.9,834.2h.8M96.6,848.1h.8M101.0,832.9h.8M104.2,848.7h.8M101.2,841.6h.8M99.3,845.4h.8M100.9,841.6h.8M111.0,831.2h.8M103.8,823.3h.8M106.8,833.4h.8M108.9,834.2h.8M102.5,824.7h.8M106.4,832.7h.8M107.9,833.0h.8M103.2,827.9h.8M101.1,834.0h.8M104.4,820.6h.8M94.7,834.9h.8M108.7,826.8h.8M97.2,840.2h.8M100.7,834.1h.8M111.1,834.2h.8M109.7,825.3h.8M95.1,829.7h.8M101.7,841.8h.8M98.4,829.2h.8M100.1,826.8h.8M102.0,835.9h.8M96.6,823.6h.8M99.3,847.7h.8M105.8,844.6h.8M96.1,820.3h.8M105.6,834.7h.8M106.6,845.4h.8M100.3,837.9h.8M94.2,829.5h.8M107.1,823.7h.8M101.9,819.3h.8M103.8,828.6h.8M100.3,830.3h.8M101.6,834.0h.8M102.3,846.9h.8M109.7,831.6h.8M105.1,823.8h.8M106.3,840.5h.8M100.9,821.3h.8M105.9,839.0h.8M98.4,838.5h.8M109.4,823.0h.8M100.9,821.8h.8M105.1,825.1h.8M111.2,840.6h.8M102.6,829.4h.8M108.2,829.5h.8M101.7,835.2h.8M101.9,820.2h.8M99.4,832.1h.8M106.5,838.5h.8M104.0,828.2h.8M99.2,840.7h.8M109.3,836.0h.8M106.2,845.1h.8M103.7,829.2h.8M110.4,827.0h.8M102.2,837.7h.8M101.7,823.2h.8M108.6,833.7h.8M100.4,827.4h.8M106.3,843.0h.8M104.5,846.8h.8M107.7,821.1h.8M103.2,837.6h.8M103.5,822.9h.8M105.8,833.2h.8M96.8,819.6h.8M101.9,844.2h.8M103.5,836.0h.8M107.9,831.4h.8M103.7,833.1h.8M107.7,826.6h.8M105.4,825.8h.8M104.0,846.2h.8M100.1,839.3h.8M104.0,836.4h.8M106.0,834.8h.8M100.5,821.9h.8M107.0,838.2h.8M112.6,826.9h.8M106.9,827.8h.8M101.5,827.3h.8M100.0,823.4h.8M102.2,832.1h.8M103.9,842.9h.8M99.6,832.9h.8M99.8,843.1h.8M99.6,830.0h.8M100.2,845.8h.8M98.3,821.2h.8M101.9,829.9h.8M99.6,846.4h.8M102.8,819.2h.8M100.8,828.4h.8M99.7,829.2h.8M101.9,840.7h.8M101.6,846.4h.8M111.2,842.5h.8M104.0,847.1h.8M101.3,820.2h.8M109.6,824.1h.8M99.1,835.4h.8M99.6,841.3h.8M104.0,831.6h.8M109.8,846.5h.8M106.0,826.4h.8M96.4,826.5h.8M109.0,828.9h.8M110.9,819.7h.8M106.5,832.6h.8M97.5,838.1h.8M101.9,830.7h.8M94.5,822.8h.8M100.7,832.2h.8M101.9,836.2h.8M102.2,848.0h.8M106.2,845.0h.8M96.9,835.7h.8M103.0,841.0h.8M100.7,835.5h.8M99.3,830.0h.8M105.2,828.3h.8M99.9,832.4h.8M105.1,838.5h.8M98.4,829.2h.8M98.5,822.8h.8M106.7,830.7h.8M109.1,842.0h.8M107.0,843.6h.8M105.2,838.1h.8M105.7,841.5h.8M103.5,842.4h.8M102.9,833.0h.8M109.8,829.7h.8M106.0,840.7h.8M97.9,823.3h.8M106.3,832.6h.8M100.1,843.3h.8M99.4,825.7h.8M103.5,843.6h.8M102.7,830.1h.8M104.4,829.8h.8M95.4,844.2h.8M105.7,846.2h.8M98.5,823.3h.8M105.4,846.1h.8M102.0,846.6h.8M100.5,839.7h.8M109.8,825.2h.8M107.4,828.2h.8M101.7,824.2h.8M110.3,828.4h.8M101.8,844.5h.8M101.9,836.7h.8M105.0,842.9h.8M102.6,845.6h.8M98.9,848.8h.8M95.2,843.6h.8M103.8,845.4h.8M97.7,822.6h.8M108.1,832.0h.8M99.7,844.5h.8M105.2,826.1h.8M104.8,837.4h.8M95.8,835.2h.8M105.2,825.4h.8M110.3,830.9h.8M104.5,829.2h.8M102.4,848.4h.8M101.5,833.5h.8M99.4,831.8h.8M99.8,847.9h.8M110.9,824.2h.8M108.1,845.9h.8M106.4,847.3h.8M99.6,846.5h.8M108.3,839.7h.8M102.9,841.0h.8M111.1,825.1h.8M95.5,838.5h.8M96.1,846.1h.8M109.5,848.9h.8M97.3,832.5h.8M96.1,840.4h.8M97.0,823.2h.8M98.5,824.7h.8M109.8,846.7h.8M106.9,840.3h.8M102.3,825.9h.8M98.3,822.4h.8M96.5,828.2h.8M104.4,822.0h.8M104.6,834.5h.8M100.2,822.3h.8M101.9,844.7h.8M107.6,840.6h.8M100.1,825.0h.8M108.1,822.5h.8M102.9,830.4h.8M98.3,821.5h.8M100.1,836.6h.8M103.5,843.6h.8M105.9,847.9h.8M98.8,828.8h.8M101.0,824.2h.8M99.8,834.5h.8M101.6,828.5h.8M108.2,841.1h.8M110.7,835.8h.8M104.9,837.3h.8M110.7,829.5h.8M109.5,834.7h.8M108.1,842.7h.8M99.9,837.2h.8M102.7,824.8h.8M101.5,847.7h.8M100.7,823.8h.8M106.7,833.7h.8M105.4,823.7h.8M103.9,833.0h.8M104.7,833.8h.8M104.4,848.7h.8M96.9,821.5h.8M100.9,823.5h.8M95.6,841.7h.8M109.2,820.2h.8M98.2,826.1h.8M101.5,848.7h.8M96.3,831.3h.8M104.0,825.8h.8M100.7,840.4h.8M106.6,843.1h.8M106.9,829.7h.8M97.3,820.5h.8M106.3,843.1h.8M106.9,837.5h.8M101.9,821.4h.8M102.6,823.2h.8M100.0,842.2h.8M105.0,845.9h.8M109.6,840.9h.8M110.9,824.4h.8M107.6,838.3h.8M104.4,823.5h.8M103.5,846.2h.8M107.1,847.0h.8M108.2,821.9h.8M101.8,844.5h.8M107.3,834.2h.8M102.7,831.4h.8M101.3,830.3h.8M103.0,837.1h.8M97.6,824.9h.8M105.7,836.6h.8M103.3,835.1h.8M101.0,848.9h.8M100.1,835.4h.8M100.1,837.5h.8M100.2,832.3h.8M95.8,829.9h.8M102.7,837.9h.8M108.1,821.5h.8M100.5,827.0h.8M102.8,846.3h.8M110.8,841.0h.8M110.9,834.5h.8M105.5,823.9h.8M107.3,827.7h.8M104.4,826.7h.8M103.7,831.5h.8M109.9,835.2h.8M108.0,827.5h.8M103.6,835.3h.8M100.3,832.0h.8M95.4,824.4h.8M100.6,839.7h.8M104.9,840.7h.8M96.5,826.3h.8M110.8,824.0h.8M98.0,836.1h.8M102.8,845.3h.8M109.6,836.9h.8M102.6,832.9h.8M111.8,823.2h.8M103.2,842.1h.8M106.4,822.8h.8M108.8,846.9h.8M107.7,825.0h.8M110.3,824.2h.8M95.3,840.3h.8M106.7,842.6h.8M104.0,822.0h.8M95.6,838.7h.8M107.9,830.0h.8M108.0,831.0h.8M102.8,839.9h.8M106.7,838.8h.8M97.4,840.0h.8M108.3,841.8h.8M105.7,837.2h.8M99.1,848.9h.8M111.5,827.5h.8M106.2,841.8h.8M103.0,828.4h.8M101.0,824.5h.8M108.6,835.0h.8M112.0,826.2h.8M111.7,838.8h.8M104.3,823.1h.8M96.1,834.4h.8M97.1,838.4h.8M99.0,846.7h.8M106.0,821.4h.8M109.6,839.8h.8M98.7,830.9h.8M106.5,845.9h.8M101.8,843.4h.8M111.0,847.6h.8M105.5,843.8h.8M96.3,840.7h.8M109.5,830.1h.8M109.4,830.2h.8M109.2,829.6h.8M104.4,838.0h.8M97.0,822.4h.8M100.9,832.5h.8M105.9,847.9h.8M111.0,823.7h.8M107.0,823.4h.8M96.1,822.9h.8M110.2,840.6h.8M103.8,836.7h.8M105.6,823.0h.8M103.1,846.3h.8M95.5,840.6h.8M96.2,835.5h.8M98.0,822.2h.8M96.1,832.4h.8M111.5,824.2h.8M102.5,828.9h.8M101.2,826.4h.8M101.7,848.4h.8M97.4,844.1h.8M108.5,833.3h.8M105.0,855.9h.8M109.3,859.2h.8M103.5,853.3h.8M95.4,853.2h.8M104.0,861.3h.8M109.5,854.6h.8M102.1,858.1h.8M108.0,856.6h.8M101.8,857.2h.8M105.0,869.8h.8M111.7,866.0h.8M102.8,864.9h.8M107.5,856.1h.8M104.4,859.1h.8M100.3,867.1h.8M105.9,853.4h.8M101.9,856.8h.8M107.5,857.3h.8M111.0,861.6h.8M100.8,852.8h.8M106.7,851.1h.8M107.8,857.0h.8M102.9,866.9h.8M99.3,867.8h.8M108.6,852.2h.8M111.2,858.7h.8M105.0,853.0h.8M103.2,852.9h.8M102.0,861.3h.8M107.1,864.4h.8M108.8,855.3h.8M106.8,854.1h.8M106.0,860.1h.8M105.2,850.3h.8M98.3,867.6h.8M100.0,851.6h.8M105.2,853.2h.8M105.4,865.2h.8M96.7,856.5h.8M106.8,866.0h.8M103.7,859.1h.8M102.2,862.6h.8M101.3,855.9h.8M100.6,850.9h.8M108.6,855.5h.8M112.0,863.9h.8M106.2,858.4h.8M102.4,860.0h.8M103.4,859.2h.8M99.1,867.4h.8M105.8,852.0h.8M103.1,864.4h.8M107.1,850.0h.8M103.3,856.7h.8M103.6,852.1h.8M102.4,853.6h.8M108.7,857.4h.8M105.5,855.4h.8M95.8,859.9h.8M98.5,851.9h.8M101.8,851.8h.8M104.1,864.1h.8M103.1,860.5h.8M109.9,862.3h.8M104.1,856.2h.8M95.9,860.6h.8M107.0,855.3h.8M102.2,858.7h.8M105.5,859.4h.8M100.0,854.9h.8M104.7,851.0h.8M111.1,857.3h.8M105.7,850.7h.8M109.4,854.0h.8M100.0,854.4h.8M108.5,850.4h.8M102.5,861.9h.8M102.3,862.0h.8M109.0,852.5h.8M109.2,859.6h.8M103.9,853.2h.8M108.3,852.6h.8M96.4,863.1h.8M104.7,855.8h.8M102.7,864.0h.8M101.4,866.5h.8M100.2,862.1h.8M96.9,862.4h.8M99.2,854.2h.8M106.9,850.6h.8M105.9,855.8h.8M109.3,862.0h.8M104.6,854.5h.8M99.5,865.5h.8M99.6,852.8h.8M104.6,862.1h.8M101.4,859.9h.8M105.0,855.7h.8M100.0,860.6h.8M103.1,854.1h.8M103.0,854.2h.8M104.8,863.3h.8M103.8,851.4h.8M102.9,854.7h.8M105.6,861.0h.8M110.7,861.9h.8M96.0,850.0h.8M97.9,857.8h.8M101.0,865.2h.8M106.2,850.2h.8M99.2,865.8h.8M100.1,859.6h.8M97.5,855.7h.8M101.1,852.1h.8M104.6,853.3h.8M96.3,864.0h.8M101.4,858.6h.8M110.3,858.6h.8M107.6,857.2h.8M100.8,857.1h.8M96.4,859.1h.8M107.1,858.7h.8M100.1,853.8h.8M97.1,868.9h.8M99.8,856.6h.8M101.3,856.6h.8M103.3,855.5h.8M105.1,852.1h.8M107.0,857.3h.8M103.2,855.9h.8M108.1,855.5h.8M110.3,856.6h.8M104.5,855.8h.8M104.7,858.9h.8M100.6,861.2h.8M103.9,850.3h.8M100.0,850.2h.8M104.5,851.1h.8M110.5,852.9h.8M102.9,854.8h.8M107.5,850.8h.8M104.9,862.3h.8M104.4,862.7h.8M105.1,855.8h.8M94.8,866.8h.8M101.9,856.8h.8M107.8,860.1h.8M97.7,863.1h.8M103.7,866.9h.8M105.4,852.0h.8M107.3,851.2h.8M102.1,859.3h.8M104.1,857.7h.8M104.3,862.8h.8M112.0,851.3h.8M103.2,858.0h.8M99.9,852.4h.8M104.5,855.8h.8M107.0,854.1h.8M95.8,857.5h.8M104.7,853.0h.8M101.8,854.2h.8M100.0,853.8h.8M103.3,860.6h.8M105.5,853.0h.8M107.3,851.8h.8M101.2,861.5h.8M107.9,861.7h.8M112.2,862.7h.8M103.3,862.1h.8M99.6,861.3h.8M105.1,854.7h.8M100.1,863.0h.8M94.4,854.6h.8M97.0,853.4h.8M101.4,850.1h.8M100.6,857.7h.8M112.1,867.6h.8M102.5,852.9h.8M106.1,850.0h.8M96.7,862.4h.8M101.5,866.2h.8M104.6,859.1h.8M96.6,868.5h.8M106.9,868.0h.8M106.2,855.6h.8M105.0,863.6h.8M101.0,864.5h.8M104.5,857.2h.8M105.3,857.9h.8M99.2,866.4h.8M101.2,853.9h.8M105.9,855.1h.8M102.9,853.2h.8M106.1,851.3h.8M99.8,857.9h.8M109.8,859.6h.8M107.0,859.2h.8M103.1,860.0h.8M106.0,859.2h.8M100.4,852.1h.8M98.9,869.3h.8M104.9,858.6h.8M106.9,854.1h.8M107.1,854.4h.8M106.7,859.6h.8M99.2,850.5h.8M99.7,858.4h.8M107.7,853.4h.8M108.1,861.9h.8M100.7,860.3h.8M109.8,852.5h.8M104.6,860.0h.8M105.7,855.4h.8M103.3,850.3h.8M112.1,866.4h.8M105.3,866.8h.8M103.6,850.1h.8M107.6,857.5h.8M99.8,854.3h.8M104.7,864.6h.8M108.1,864.4h.8M106.7,855.2h.8M106.1,864.2h.8M103.6,859.4h.8M100.6,855.9h.8M95.9,852.5h.8M104.3,850.8h.8M104.1,861.7h.8M96.2,855.2h.8M106.0,859.8h.8M111.5,857.3h.8M108.9,852.0h.8M99.4,852.2h.8M101.5,862.0h.8M106.8,856.0h.8M99.4,856.9h.8M101.6,853.3h.8M95.7,866.7h.8M95.3,855.9h.8M107.0,867.7h.8M107.8,868.1h.8M103.9,863.1h.8M101.2,854.9h.8M108.6,856.8h.8M96.5,862.4h.8M97.7,851.7h.8M105.7,857.5h.8M104.8,854.7h.8M102.9,859.3h.8M101.2,865.2h.8M104.4,862.4h.8M99.5,857.4h.8M95.6,853.1h.8M104.9,853.4h.8M108.2,856.7h.8M103.5,856.9h.8M107.8,867.1h.8M97.1,856.6h.8M101.4,856.1h.8M108.1,857.7h.8M100.2,866.1h.8M102.4,857.6h.8M102.7,857.1h.8M98.2,852.5h.8M102.6,855.3h.8M101.5,863.2h.8M94.2,852.2h.8M109.6,855.1h.8M108.4,859.7h.8M102.2,862.8h.8M101.5,854.5h.8M109.1,860.1h.8M104.4,865.2h.8M103.9,864.6h.8M108.2,852.0h.8M106.2,863.8h.8M104.8,853.0h.8M107.4,863.9h.8M103.4,859.6h.8M104.1,857.7h.8M105.1,853.1h.8M106.8,858.5h.8M111.3,858.0h.8M101.2,854.0h.8M103.5,855.2h.8M111.1,852.6h.8M102.4,852.8h.8M108.0,853.3h.8M97.1,866.2h.8M97.5,860.8h.8M103.6,851.2h.8M96.0,850.9h.8M106.9,855.4h.8M100.9,862.6h.8M103.6,856.4h.8M101.4,857.9h.8M101.6,858.0h.8M102.3,854.2h.8M103.3,858.3h.8M102.6,852.7h.8M107.9,863.9h.8M108.6,860.9h.8M105.5,856.7h.8M106.9,851.2h.8M102.9,858.0h.8M103.0,852.9h.8M100.6,860.1h.8M108.3,856.4h.8M98.3,854.6h.8M100.7,856.8h.8M100.8,858.9h.8M97.6,860.3h.8M100.3,856.6h.8M103.5,852.2h.8M104.3,860.2h.8M102.3,855.3h.8M98.3,855.4h.8M104.2,851.6h.8M103.5,853.2h.8M98.8,855.2h.8M99.9,861.8h.8M99.9,865.4h.8M103.3,855.5h.8M100.1,858.7h.8M108.6,852.0h.8M110.5,857.3h.8M101.4,857.5h.8M100.9,856.1h.8M102.7,860.2h.8M99.6,859.2h.8M102.6,860.4h.8M105.1,850.4h.8M96.0,863.6h.8M102.4,854.9h.8M102.0,853.8h.8M100.1,856.0h.8M96.3,859.5h.8M107.4,851.9h.8M102.7,852.2h.8M105.2,855.1h.8M100.9,850.4h.8M105.4,858.1h.8M101.5,858.4h.8M100.8,857.3h.8M109.1,858.3h.8M97.8,861.7h.8M102.1,861.3h.8M96.2,859.7h.8M108.8,857.3h.8M104.2,854.9h.8M109.0,861.1h.8M107.8,855.1h.8M107.2,862.3h.8M100.0,850.2h.8M107.4,859.0h.8M105.9,856.0h.8M99.7,856.6h.8M96.8,857.6h.8M101.1,859.6h.8M104.1,859.1h.8M110.2,854.0h.8M94.4,862.4h.8M108.0,859.3h.8M111.0,858.3h.8M105.7,856.3h.8M106.3,857.0h.8M99.2,853.2h.8M105.6,866.3h.8M100.0,817.8h.8M113.6,870.8h.8M115.2,866.6h.8M105.1,820.0h.8M114.2,869.3h.8M100.6,824.3h.8M93.3,837.4h.8M97.5,834.1h.8M100.3,860.5h.8M101.9,823.7h.8M106.3,842.2h.8M93.8,841.2h.8M99.0,828.8h.8M113.6,872.0h.8M103.8,865.8h.8M102.1,864.1h.8M104.2,831.7h.8M99.6,866.2h.8M112.8,867.9h.8" stroke="#222" stroke-opacity="0.4" stroke-width="0.8" fill="none"/>
<rect x="52.5" y="798.7" width="78.80000000000001" height="78.39999999999998" fill="none" stroke="#111" stroke-width="1.4"/>
<path d="M48.3,851.1h4.2M48.3,835.1h4.2M48.3,819.1h4.2M48.3,803.1h4.2M50.3,862.3h2.2M50.3,859.5h2.2M50.3,857.5h2.2M50.3,855.9h2.2M50.3,854.6h2.2M50.3,853.6h2.2M50.3,852.7h2.2M50.3,851.8h2.2M50.3,846.3h2.2M50.3,843.5h2.2M50.3,841.5h2.2M50.3,839.9h2.2M50.3,838.6h2.2M50.3,837.6h2.2M50.3,836.7h2.2M50.3,835.8h2.2M50.3,830.3h2.2M50.3,827.5h2.2M50.3,825.5h2.2M50.3,823.9h2.2M50.3,822.6h2.2M50.3,821.6h2.2M50.3,820.7h2.2M50.3,819.8h2.2M50.3,814.3h2.2M50.3,811.5h2.2M50.3,809.5h2.2M50.3,807.9h2.2M50.3,806.6h2.2M50.3,805.6h2.2M50.3,804.7h2.2M50.3,803.8h2.2" stroke="#000" stroke-width="1.05" fill="none"/>
<path d="M69.5,877.1v4.0M87.5,877.1v4.0M105.5,877.1v4.0M123.5,877.1v4.0M56.9,877.1v2.2M60.1,877.1v2.2M62.3,877.1v2.2M64.1,877.1v2.2M65.5,877.1v2.2M66.7,877.1v2.2M67.8,877.1v2.2M68.7,877.1v2.2M74.9,877.1v2.2M78.1,877.1v2.2M80.3,877.1v2.2M82.1,877.1v2.2M83.5,877.1v2.2M84.7,877.1v2.2M85.8,877.1v2.2M86.7,877.1v2.2M92.9,877.1v2.2M96.1,877.1v2.2M98.3,877.1v2.2M100.1,877.1v2.2M101.5,877.1v2.2M102.7,877.1v2.2M103.8,877.1v2.2M104.7,877.1v2.2M110.9,877.1v2.2M114.1,877.1v2.2M116.3,877.1v2.2M118.1,877.1v2.2M119.5,877.1v2.2M120.7,877.1v2.2M121.8,877.1v2.2M122.7,877.1v2.2M128.9,877.1v2.2" stroke="#000" stroke-width="1.05" fill="none"/>
<rect x="93.5" y="817.5" width="19.5" height="31.700000000000045" fill="none" stroke="#8a8a8a" stroke-width="1"/>
<rect x="93.5" y="850.2" width="19.5" height="19.59999999999991" fill="none" stroke="#8a8a8a" stroke-width="1"/>
<rect x="57.9" y="850.2" width="34.4" height="19.59999999999991" fill="none" stroke="#8a8a8a" stroke-width="1"/>
<text x="91.5" y="637.7" font-size="9.6" text-anchor="middle" fill="#231f20" stroke-width="0.16" stroke="#231f20">F6</text>
<text x="89.9" y="725.2" font-size="9.6" text-anchor="middle" fill="#231f20" textLength="29.5" lengthAdjust="spacingAndGlyphs" stroke-width="0.16" stroke="#231f20">F6 GFP</text>
<text x="66.6" y="811.7" font-size="9.6" fill="#231f20" textLength="39.3" lengthAdjust="spacingAndGlyphs" stroke-width="0.16" stroke="#231f20">F6 MHC II</text>
<text x="114" y="807.5" font-size="6" text-anchor="middle" fill="#231f20" stroke-width="0" fill-opacity="0.8" stroke="#231f20">+</text>
<text x="117.9" y="652.5" font-size="9.6" fill="#231f20" stroke-width="0.16" stroke="#231f20">13</text>
<text x="117.9" y="690" font-size="9.6" fill="#231f20" stroke-width="0.16" stroke="#231f20">84</text>
<text x="117.9" y="739.6" font-size="9.6" fill="#231f20" stroke-width="0.16" stroke="#231f20">12</text>
<text x="117.9" y="776.5" font-size="9.6" fill="#231f20" stroke-width="0.16" stroke="#231f20">85</text>
<text x="117.9" y="826.9" font-size="9.6" fill="#231f20" stroke-width="0.16" stroke="#231f20">67</text>
<text x="117.9" y="864" font-size="9.6" fill="#231f20" stroke-width="0.16" stroke="#231f20">31</text>
<text transform="translate(40.6,753.7) rotate(-90)" x="0" y="0" font-size="12.0" text-anchor="middle" fill="#231f20" stroke="#231f20" stroke-width="0.16" textLength="21.2" lengthAdjust="spacingAndGlyphs">BP-1</text>
<text x="89.6" y="896.3" font-size="10.9" text-anchor="middle" fill="#231f20" stroke-width="0.16" stroke="#231f20">CD24</text>
<rect x="232.4" y="608.3" width="14" height="8.6" fill="#b1afaf"/>
<rect x="232.4" y="622.9" width="14" height="8.8" fill="#7cb24f"/>
<text x="250.2" y="616.3" font-size="9.6" fill="#231f20" textLength="39.0" lengthAdjust="spacingAndGlyphs" stroke-width="0.16" stroke="#231f20">F6 MHC II</text>
<text x="297.3" y="612.0" font-size="6" text-anchor="middle" fill="#231f20" stroke-width="0" fill-opacity="0.8" stroke="#231f20">&#8211;</text>
<text x="250.2" y="630.9" font-size="9.6" fill="#231f20" textLength="39.0" lengthAdjust="spacingAndGlyphs" stroke-width="0.16" stroke="#231f20">F6 MHC II</text>
<text x="297.3" y="627.0" font-size="6" text-anchor="middle" fill="#231f20" stroke-width="0" fill-opacity="0.8" stroke="#231f20">+</text>
<path d="M178.3,650.9V647.4H190.4V650.9M184.35000000000002,647.4V644.5M184.35000000000002,644.5H202.4V650.9M214.8,650.9V647.4H226.8V650.9M220.8,647.4V644.5H238.7V650.9M193.38,644.5V641.2H229.75V644.5M211.56,641.2V639.4000000000001" fill="none" stroke="#222" stroke-width="1.1"/>
<rect x="173.40" y="651.3" width="9.8" height="7.3" fill="#b1afaf"/>
<rect x="185.50" y="651.3" width="9.8" height="7.3" fill="#b1afaf"/>
<rect x="197.50" y="651.3" width="9.8" height="7.3" fill="#b1afaf"/>
<rect x="209.90" y="651.3" width="9.8" height="7.3" fill="#7cb24f"/>
<rect x="221.90" y="651.3" width="9.8" height="7.3" fill="#7cb24f"/>
<rect x="233.80" y="651.3" width="9.8" height="7.3" fill="#7cb24f"/>
<path d="M267,650.9V647.4H279V650.9M273.0,647.4V644.5M273.0,644.5H291.2V650.9M303,650.9V647.4H315V650.9M309.0,647.4V644.5H327.2V650.9M282.10,644.5V641.2H318.10V644.5M300.10,641.2V639.4000000000001" fill="none" stroke="#222" stroke-width="1.1"/>
<rect x="262.10" y="651.3" width="9.8" height="7.3" fill="#b1afaf"/>
<rect x="274.10" y="651.3" width="9.8" height="7.3" fill="#b1afaf"/>
<rect x="286.30" y="651.3" width="9.8" height="7.3" fill="#b1afaf"/>
<rect x="298.10" y="651.3" width="9.8" height="7.3" fill="#7cb24f"/>
<rect x="310.10" y="651.3" width="9.8" height="7.3" fill="#7cb24f"/>
<rect x="322.30" y="651.3" width="9.8" height="7.3" fill="#7cb24f"/>
<path d="M395.8,650.9V647.4H407.7V650.9M401.75,647.4V644.5M401.75,644.5H419.6V650.9M443.7,650.9V647.4H455.6V650.9M449.65,647.4V644.5H431.7V650.9M410.68,644.5V641.2H440.67V644.5M425.67,641.2V639.4000000000001" fill="none" stroke="#222" stroke-width="1.1"/>
<rect x="390.90" y="651.3" width="9.8" height="7.3" fill="#b1afaf"/>
<rect x="402.80" y="651.3" width="9.8" height="7.3" fill="#b1afaf"/>
<rect x="414.70" y="651.3" width="9.8" height="7.3" fill="#b1afaf"/>
<rect x="426.80" y="651.3" width="9.8" height="7.3" fill="#7cb24f"/>
<rect x="438.80" y="651.3" width="9.8" height="7.3" fill="#7cb24f"/>
<rect x="450.70" y="651.3" width="9.8" height="7.3" fill="#7cb24f"/>
<rect x="171.9" y="660.40" width="12.7" height="1.98" fill="#a8a7d1"/>
<rect x="184.0" y="660.40" width="12.5" height="1.98" fill="#a8a7d1"/>
<rect x="195.9" y="660.40" width="11.4" height="1.98" fill="#a8a7d1"/>
<rect x="207.9" y="660.40" width="12.8" height="1.98" fill="#dba39a"/>
<rect x="220.1" y="660.40" width="12.7" height="1.98" fill="#dfaca4"/>
<rect x="232.2" y="660.40" width="12.1" height="1.98" fill="#d89c92"/>
<rect x="171.9" y="661.78" width="12.7" height="1.98" fill="#a8a7d1"/>
<rect x="184.0" y="661.78" width="12.5" height="1.98" fill="#a8a7d1"/>
<rect x="195.9" y="661.78" width="11.4" height="1.98" fill="#a8a7d1"/>
<rect x="207.9" y="661.78" width="12.8" height="1.98" fill="#dca69e"/>
<rect x="220.1" y="661.78" width="12.7" height="1.98" fill="#e0afa8"/>
<rect x="232.2" y="661.78" width="12.1" height="1.98" fill="#dfada5"/>
<rect x="171.9" y="663.16" width="12.7" height="1.98" fill="#a8a7d1"/>
<rect x="184.0" y="663.16" width="12.5" height="1.98" fill="#a8a7d1"/>
<rect x="195.9" y="663.16" width="11.4" height="1.98" fill="#a8a7d1"/>
<rect x="207.9" y="663.16" width="12.8" height="1.98" fill="#dda8a0"/>
<rect x="220.1" y="663.16" width="12.7" height="1.98" fill="#d89a91"/>
<rect x="232.2" y="663.16" width="12.1" height="1.98" fill="#dda89f"/>
<rect x="171.9" y="664.54" width="12.7" height="1.98" fill="#a8a7d1"/>
<rect x="184.0" y="664.54" width="12.5" height="1.98" fill="#a8a7d1"/>
<rect x="195.9" y="664.54" width="11.4" height="1.98" fill="#a8a7d1"/>
<rect x="207.9" y="664.54" width="12.8" height="1.98" fill="#dfaea6"/>
<rect x="220.1" y="664.54" width="12.7" height="1.98" fill="#dfaca4"/>
<rect x="232.2" y="664.54" width="12.1" height="1.98" fill="#dba299"/>
<rect x="171.9" y="665.92" width="12.7" height="1.98" fill="#a8a7d1"/>
<rect x="184.0" y="665.92" width="12.5" height="1.98" fill="#a8a7d1"/>
<rect x="195.9" y="665.92" width="11.4" height="1.98" fill="#a8a7d1"/>
<rect x="207.9" y="665.92" width="12.8" height="1.98" fill="#dfaca3"/>
<rect x="220.1" y="665.92" width="12.7" height="1.98" fill="#d79a91"/>
<rect x="232.2" y="665.92" width="12.1" height="1.98" fill="#daa198"/>
<rect x="171.9" y="667.30" width="12.7" height="1.98" fill="#a8a7d1"/>
<rect x="184.0" y="667.30" width="12.5" height="1.98" fill="#a8a7d1"/>
<rect x="195.9" y="667.30" width="11.4" height="1.98" fill="#a8a7d1"/>
<rect x="207.9" y="667.30" width="12.8" height="1.98" fill="#dda89f"/>
<rect x="220.1" y="667.30" width="12.7" height="1.98" fill="#dda89f"/>
<rect x="232.2" y="667.30" width="12.1" height="1.98" fill="#dfaca4"/>
<rect x="171.9" y="668.68" width="12.7" height="1.98" fill="#a8a7d1"/>
<rect x="184.0" y="668.68" width="12.5" height="1.98" fill="#a8a7d1"/>
<rect x="195.9" y="668.68" width="11.4" height="1.98" fill="#a8a7d1"/>
<rect x="207.9" y="668.68" width="12.8" height="1.98" fill="#e6beb7"/>
<rect x="220.1" y="668.68" width="12.7" height="1.98" fill="#d99f96"/>
<rect x="232.2" y="668.68" width="12.1" height="1.98" fill="#d89b92"/>
<rect x="171.9" y="670.06" width="12.7" height="1.98" fill="#a8a7d1"/>
<rect x="184.0" y="670.06" width="12.5" height="1.98" fill="#a8a7d1"/>
<rect x="195.9" y="670.06" width="11.4" height="1.98" fill="#a8a7d1"/>
<rect x="207.9" y="670.06" width="12.8" height="1.98" fill="#deaba3"/>
<rect x="220.1" y="670.06" width="12.7" height="1.98" fill="#dca69e"/>
<rect x="232.2" y="670.06" width="12.1" height="1.98" fill="#e2b5ad"/>
<rect x="171.9" y="671.44" width="12.7" height="1.98" fill="#a8a7d1"/>
<rect x="184.0" y="671.44" width="12.5" height="1.98" fill="#a8a7d1"/>
<rect x="195.9" y="671.44" width="11.4" height="1.98" fill="#a8a7d1"/>
<rect x="207.9" y="671.44" width="12.8" height="1.98" fill="#deaba2"/>
<rect x="220.1" y="671.44" width="12.7" height="1.98" fill="#dda89f"/>
<rect x="232.2" y="671.44" width="12.1" height="1.98" fill="#dea9a1"/>
<rect x="171.9" y="672.82" width="12.7" height="1.98" fill="#a8a7d1"/>
<rect x="184.0" y="672.82" width="12.5" height="1.98" fill="#a8a7d1"/>
<rect x="195.9" y="672.82" width="11.4" height="1.98" fill="#a8a7d1"/>
<rect x="207.9" y="672.82" width="12.8" height="1.98" fill="#dda9a0"/>
<rect x="220.1" y="672.82" width="12.7" height="1.98" fill="#daa097"/>
<rect x="232.2" y="672.82" width="12.1" height="1.98" fill="#dba39a"/>
<rect x="171.9" y="674.20" width="12.7" height="1.98" fill="#a8a7d1"/>
<rect x="184.0" y="674.20" width="12.5" height="1.98" fill="#a8a7d1"/>
<rect x="195.9" y="674.20" width="11.4" height="1.98" fill="#a8a7d1"/>
<rect x="207.9" y="674.20" width="12.8" height="1.98" fill="#daa299"/>
<rect x="220.1" y="674.20" width="12.7" height="1.98" fill="#e0aea6"/>
<rect x="232.2" y="674.20" width="12.1" height="1.98" fill="#dfada5"/>
<rect x="171.9" y="675.58" width="12.7" height="1.98" fill="#a8a7d1"/>
<rect x="184.0" y="675.58" width="12.5" height="1.98" fill="#a8a7d1"/>
<rect x="195.9" y="675.58" width="11.4" height="1.98" fill="#a8a7d1"/>
<rect x="207.9" y="675.58" width="12.8" height="1.98" fill="#dea9a1"/>
<rect x="220.1" y="675.58" width="12.7" height="1.98" fill="#e3b7b0"/>
<rect x="232.2" y="675.58" width="12.1" height="1.98" fill="#e3b5ae"/>
<rect x="171.9" y="676.96" width="12.7" height="1.98" fill="#8280bc"/>
<rect x="184.0" y="676.96" width="12.5" height="1.98" fill="#8886bf"/>
<rect x="195.9" y="676.96" width="11.4" height="1.98" fill="#b5b4d8"/>
<rect x="207.9" y="676.96" width="12.8" height="1.98" fill="#d6968c"/>
<rect x="220.1" y="676.96" width="12.7" height="1.98" fill="#d89b92"/>
<rect x="232.2" y="676.96" width="12.1" height="1.98" fill="#e1b1aa"/>
<rect x="171.9" y="678.34" width="12.7" height="1.98" fill="#d4d4e9"/>
<rect x="184.0" y="678.34" width="12.5" height="1.98" fill="#dcdcee"/>
<rect x="195.9" y="678.34" width="11.4" height="1.98" fill="#c5c4e1"/>
<rect x="207.9" y="678.34" width="12.8" height="1.98" fill="#dea9a1"/>
<rect x="220.1" y="678.34" width="12.7" height="1.98" fill="#e0aea6"/>
<rect x="232.2" y="678.34" width="12.1" height="1.98" fill="#dea9a1"/>
<rect x="171.9" y="679.72" width="12.7" height="1.98" fill="#a9a8d1"/>
<rect x="184.0" y="679.72" width="12.5" height="1.98" fill="#cdcce5"/>
<rect x="195.9" y="679.72" width="11.4" height="1.98" fill="#a8a7d1"/>
<rect x="207.9" y="679.72" width="12.8" height="1.98" fill="#d6978d"/>
<rect x="220.1" y="679.72" width="12.7" height="1.98" fill="#d5958b"/>
<rect x="232.2" y="679.72" width="12.1" height="1.98" fill="#dda9a0"/>
<rect x="171.9" y="681.10" width="12.7" height="1.98" fill="#c9c8e3"/>
<rect x="184.0" y="681.10" width="12.5" height="1.98" fill="#c9c8e3"/>
<rect x="195.9" y="681.10" width="11.4" height="1.98" fill="#aeacd4"/>
<rect x="207.9" y="681.10" width="12.8" height="1.98" fill="#e0b0a8"/>
<rect x="220.1" y="681.10" width="12.7" height="1.98" fill="#dfada5"/>
<rect x="232.2" y="681.10" width="12.1" height="1.98" fill="#dca69d"/>
<rect x="171.9" y="682.48" width="12.7" height="1.98" fill="#bcbbdc"/>
<rect x="184.0" y="682.48" width="12.5" height="1.98" fill="#7876b6"/>
<rect x="195.9" y="682.48" width="11.4" height="1.98" fill="#8584be"/>
<rect x="207.9" y="682.48" width="12.8" height="1.98" fill="#dba39b"/>
<rect x="220.1" y="682.48" width="12.7" height="1.98" fill="#d6968c"/>
<rect x="232.2" y="682.48" width="12.1" height="1.98" fill="#e4b9b2"/>
<rect x="171.9" y="683.86" width="12.7" height="1.98" fill="#8583bd"/>
<rect x="184.0" y="683.86" width="12.5" height="1.98" fill="#9998c9"/>
<rect x="195.9" y="683.86" width="11.4" height="1.98" fill="#8b89c1"/>
<rect x="207.9" y="683.86" width="12.8" height="1.98" fill="#dca69d"/>
<rect x="220.1" y="683.86" width="12.7" height="1.98" fill="#daa299"/>
<rect x="232.2" y="683.86" width="12.1" height="1.98" fill="#dda8a0"/>
<rect x="171.9" y="685.24" width="12.7" height="1.98" fill="#c9c9e3"/>
<rect x="184.0" y="685.24" width="12.5" height="1.98" fill="#e0dff0"/>
<rect x="195.9" y="685.24" width="11.4" height="1.98" fill="#aeadd4"/>
<rect x="207.9" y="685.24" width="12.8" height="1.98" fill="#d28e84"/>
<rect x="220.1" y="685.24" width="12.7" height="1.98" fill="#dda8a0"/>
<rect x="232.2" y="685.24" width="12.1" height="1.98" fill="#dfada4"/>
<rect x="171.9" y="686.62" width="12.7" height="1.98" fill="#8e8cc2"/>
<rect x="184.0" y="686.62" width="12.5" height="1.98" fill="#8886bf"/>
<rect x="195.9" y="686.62" width="11.4" height="1.98" fill="#7d7bb9"/>
<rect x="207.9" y="686.62" width="12.8" height="1.98" fill="#e6beb7"/>
<rect x="220.1" y="686.62" width="12.7" height="1.98" fill="#dca59c"/>
<rect x="232.2" y="686.62" width="12.1" height="1.98" fill="#e9c6bf"/>
<rect x="171.9" y="688.00" width="12.7" height="1.98" fill="#cecde6"/>
<rect x="184.0" y="688.00" width="12.5" height="1.98" fill="#e4e3f2"/>
<rect x="195.9" y="688.00" width="11.4" height="1.98" fill="#dfdfef"/>
<rect x="207.9" y="688.00" width="12.8" height="1.98" fill="#e0b0a8"/>
<rect x="220.1" y="688.00" width="12.7" height="1.98" fill="#deaba3"/>
<rect x="232.2" y="688.00" width="12.1" height="1.98" fill="#e3b7b0"/>
<rect x="171.9" y="689.38" width="12.7" height="1.98" fill="#7876b6"/>
<rect x="184.0" y="689.38" width="12.5" height="1.98" fill="#9d9ccb"/>
<rect x="195.9" y="689.38" width="11.4" height="1.98" fill="#8b8ac1"/>
<rect x="207.9" y="689.38" width="12.8" height="1.98" fill="#e5bbb4"/>
<rect x="220.1" y="689.38" width="12.7" height="1.98" fill="#dca69d"/>
<rect x="232.2" y="689.38" width="12.1" height="1.98" fill="#e8c3bc"/>
<rect x="171.9" y="690.76" width="12.7" height="1.98" fill="#b0afd5"/>
<rect x="184.0" y="690.76" width="12.5" height="1.98" fill="#bbbadb"/>
<rect x="195.9" y="690.76" width="11.4" height="1.98" fill="#8b89c1"/>
<rect x="207.9" y="690.76" width="12.8" height="1.98" fill="#dda89f"/>
<rect x="220.1" y="690.76" width="12.7" height="1.98" fill="#deaaa2"/>
<rect x="232.2" y="690.76" width="12.1" height="1.98" fill="#daa097"/>
<rect x="171.9" y="692.14" width="12.7" height="1.98" fill="#8e8cc2"/>
<rect x="184.0" y="692.14" width="12.5" height="1.98" fill="#7f7eba"/>
<rect x="195.9" y="692.14" width="11.4" height="1.98" fill="#a5a4cf"/>
<rect x="207.9" y="692.14" width="12.8" height="1.98" fill="#e3b7af"/>
<rect x="220.1" y="692.14" width="12.7" height="1.98" fill="#dca59d"/>
<rect x="232.2" y="692.14" width="12.1" height="1.98" fill="#e6beb7"/>
<rect x="171.9" y="693.52" width="12.7" height="1.98" fill="#cccbe5"/>
<rect x="184.0" y="693.52" width="12.5" height="1.98" fill="#a5a4cf"/>
<rect x="195.9" y="693.52" width="11.4" height="1.98" fill="#cecde6"/>
<rect x="207.9" y="693.52" width="12.8" height="1.98" fill="#d5948a"/>
<rect x="220.1" y="693.52" width="12.7" height="1.98" fill="#d99d94"/>
<rect x="232.2" y="693.52" width="12.1" height="1.98" fill="#d89d93"/>
<rect x="171.9" y="694.90" width="12.7" height="1.98" fill="#d3d2e8"/>
<rect x="184.0" y="694.90" width="12.5" height="1.98" fill="#c0bfde"/>
<rect x="195.9" y="694.90" width="11.4" height="1.98" fill="#d7d6eb"/>
<rect x="207.9" y="694.90" width="12.8" height="1.98" fill="#dca49b"/>
<rect x="220.1" y="694.90" width="12.7" height="1.98" fill="#daa198"/>
<rect x="232.2" y="694.90" width="12.1" height="1.98" fill="#deaaa2"/>
<rect x="171.9" y="696.28" width="12.7" height="1.98" fill="#7876b6"/>
<rect x="184.0" y="696.28" width="12.5" height="1.98" fill="#8785be"/>
<rect x="195.9" y="696.28" width="11.4" height="1.98" fill="#8280bc"/>
<rect x="207.9" y="696.28" width="12.8" height="1.98" fill="#e8c2bb"/>
<rect x="220.1" y="696.28" width="12.7" height="1.98" fill="#e3b6ae"/>
<rect x="232.2" y="696.28" width="12.1" height="1.98" fill="#dfada5"/>
<rect x="171.9" y="697.66" width="12.7" height="1.98" fill="#8583be"/>
<rect x="184.0" y="697.66" width="12.5" height="1.98" fill="#afaed5"/>
<rect x="195.9" y="697.66" width="11.4" height="1.98" fill="#9f9ecc"/>
<rect x="207.9" y="697.66" width="12.8" height="1.98" fill="#daa198"/>
<rect x="220.1" y="697.66" width="12.7" height="1.98" fill="#d99d94"/>
<rect x="232.2" y="697.66" width="12.1" height="1.98" fill="#e2b4ac"/>
<rect x="171.9" y="699.04" width="12.7" height="1.98" fill="#a6a5d0"/>
<rect x="184.0" y="699.04" width="12.5" height="1.98" fill="#a2a1cd"/>
<rect x="195.9" y="699.04" width="11.4" height="1.98" fill="#9b99ca"/>
<rect x="207.9" y="699.04" width="12.8" height="1.98" fill="#dba299"/>
<rect x="220.1" y="699.04" width="12.7" height="1.98" fill="#daa198"/>
<rect x="232.2" y="699.04" width="12.1" height="1.98" fill="#e0aea6"/>
<rect x="171.9" y="700.42" width="12.7" height="1.98" fill="#f2f2fa"/>
<rect x="184.0" y="700.42" width="12.5" height="1.98" fill="#f2f2fa"/>
<rect x="195.9" y="700.42" width="11.4" height="1.98" fill="#b1b0d6"/>
<rect x="207.9" y="700.42" width="12.8" height="1.98" fill="#e1b0a8"/>
<rect x="220.1" y="700.42" width="12.7" height="1.98" fill="#e9c6bf"/>
<rect x="232.2" y="700.42" width="12.1" height="1.98" fill="#e4b9b2"/>
<rect x="171.9" y="701.80" width="12.7" height="1.98" fill="#adacd3"/>
<rect x="184.0" y="701.80" width="12.5" height="1.98" fill="#8583bd"/>
<rect x="195.9" y="701.80" width="11.4" height="1.98" fill="#c5c4e1"/>
<rect x="207.9" y="701.80" width="12.8" height="1.98" fill="#e3b7af"/>
<rect x="220.1" y="701.80" width="12.7" height="1.98" fill="#daa299"/>
<rect x="232.2" y="701.80" width="12.1" height="1.98" fill="#eac8c1"/>
<rect x="171.9" y="703.18" width="12.7" height="1.98" fill="#8583bd"/>
<rect x="184.0" y="703.18" width="12.5" height="1.98" fill="#8b89c1"/>
<rect x="195.9" y="703.18" width="11.4" height="1.98" fill="#7a78b7"/>
<rect x="207.9" y="703.18" width="12.8" height="1.98" fill="#d89c92"/>
<rect x="220.1" y="703.18" width="12.7" height="1.98" fill="#dca59c"/>
<rect x="232.2" y="703.18" width="12.1" height="1.98" fill="#e1b2aa"/>
<rect x="171.9" y="704.56" width="12.7" height="1.98" fill="#ddddee"/>
<rect x="184.0" y="704.56" width="12.5" height="1.98" fill="#9b9aca"/>
<rect x="195.9" y="704.56" width="11.4" height="1.98" fill="#cecde6"/>
<rect x="207.9" y="704.56" width="12.8" height="1.98" fill="#d99e95"/>
<rect x="220.1" y="704.56" width="12.7" height="1.98" fill="#d6968d"/>
<rect x="232.2" y="704.56" width="12.1" height="1.98" fill="#d6968d"/>
<rect x="171.9" y="705.94" width="12.7" height="1.98" fill="#c6c5e1"/>
<rect x="184.0" y="705.94" width="12.5" height="1.98" fill="#d7d7eb"/>
<rect x="195.9" y="705.94" width="11.4" height="1.98" fill="#f2f2fa"/>
<rect x="207.9" y="705.94" width="12.8" height="1.98" fill="#e4bab3"/>
<rect x="220.1" y="705.94" width="12.7" height="1.98" fill="#dda79f"/>
<rect x="232.2" y="705.94" width="12.1" height="1.98" fill="#e3b6ae"/>
<rect x="171.9" y="707.32" width="12.7" height="1.98" fill="#a3a1ce"/>
<rect x="184.0" y="707.32" width="12.5" height="1.98" fill="#8c8bc2"/>
<rect x="195.9" y="707.32" width="11.4" height="1.98" fill="#8583bd"/>
<rect x="207.9" y="707.32" width="12.8" height="1.98" fill="#e3b6ae"/>
<rect x="220.1" y="707.32" width="12.7" height="1.98" fill="#e3b7af"/>
<rect x="232.2" y="707.32" width="12.1" height="1.98" fill="#e7c0b9"/>
<rect x="171.9" y="708.70" width="12.7" height="1.98" fill="#9a98c9"/>
<rect x="184.0" y="708.70" width="12.5" height="1.98" fill="#c3c3e0"/>
<rect x="195.9" y="708.70" width="11.4" height="1.98" fill="#b9b8da"/>
<rect x="207.9" y="708.70" width="12.8" height="1.98" fill="#daa097"/>
<rect x="220.1" y="708.70" width="12.7" height="1.98" fill="#d99e94"/>
<rect x="232.2" y="708.70" width="12.1" height="1.98" fill="#e0afa7"/>
<rect x="171.9" y="710.08" width="12.7" height="1.98" fill="#908ec3"/>
<rect x="184.0" y="710.08" width="12.5" height="1.98" fill="#9695c7"/>
<rect x="195.9" y="710.08" width="11.4" height="1.98" fill="#9492c6"/>
<rect x="207.9" y="710.08" width="12.8" height="1.98" fill="#d6978d"/>
<rect x="220.1" y="710.08" width="12.7" height="1.98" fill="#dda79f"/>
<rect x="232.2" y="710.08" width="12.1" height="1.98" fill="#e1b1a9"/>
<rect x="171.9" y="711.46" width="12.7" height="1.98" fill="#7e7cb9"/>
<rect x="184.0" y="711.46" width="12.5" height="1.98" fill="#a09ecc"/>
<rect x="195.9" y="711.46" width="11.4" height="1.98" fill="#9d9ccb"/>
<rect x="207.9" y="711.46" width="12.8" height="1.98" fill="#dda79e"/>
<rect x="220.1" y="711.46" width="12.7" height="1.98" fill="#d79a90"/>
<rect x="232.2" y="711.46" width="12.1" height="1.98" fill="#d5948a"/>
<rect x="171.9" y="712.84" width="12.7" height="1.98" fill="#7876b6"/>
<rect x="184.0" y="712.84" width="12.5" height="1.98" fill="#bdbcdc"/>
<rect x="195.9" y="712.84" width="11.4" height="1.98" fill="#a5a3cf"/>
<rect x="207.9" y="712.84" width="12.8" height="1.98" fill="#e4b8b1"/>
<rect x="220.1" y="712.84" width="12.7" height="1.98" fill="#d7988f"/>
<rect x="232.2" y="712.84" width="12.1" height="1.98" fill="#e3b7b0"/>
<rect x="171.9" y="714.22" width="12.7" height="1.98" fill="#9d9ccb"/>
<rect x="184.0" y="714.22" width="12.5" height="1.98" fill="#7876b6"/>
<rect x="195.9" y="714.22" width="11.4" height="1.98" fill="#b3b2d7"/>
<rect x="207.9" y="714.22" width="12.8" height="1.98" fill="#d6968d"/>
<rect x="220.1" y="714.22" width="12.7" height="1.98" fill="#dfaca4"/>
<rect x="232.2" y="714.22" width="12.1" height="1.98" fill="#dba299"/>
<rect x="171.9" y="715.60" width="12.7" height="1.98" fill="#8583bd"/>
<rect x="184.0" y="715.60" width="12.5" height="1.98" fill="#c9c8e3"/>
<rect x="195.9" y="715.60" width="11.4" height="1.98" fill="#d2d2e8"/>
<rect x="207.9" y="715.60" width="12.8" height="1.98" fill="#c87468"/>
<rect x="220.1" y="715.60" width="12.7" height="1.98" fill="#d5958c"/>
<rect x="232.2" y="715.60" width="12.1" height="1.98" fill="#e2b5ad"/>
<rect x="171.9" y="716.98" width="12.7" height="1.98" fill="#adacd4"/>
<rect x="184.0" y="716.98" width="12.5" height="1.98" fill="#a5a4cf"/>
<rect x="195.9" y="716.98" width="11.4" height="1.98" fill="#cfcee6"/>
<rect x="207.9" y="716.98" width="12.8" height="1.98" fill="#d28d83"/>
<rect x="220.1" y="716.98" width="12.7" height="1.98" fill="#dda79e"/>
<rect x="232.2" y="716.98" width="12.1" height="1.98" fill="#d6988e"/>
<rect x="171.9" y="718.36" width="12.7" height="1.98" fill="#7876b6"/>
<rect x="184.0" y="718.36" width="12.5" height="1.98" fill="#cbcae4"/>
<rect x="195.9" y="718.36" width="11.4" height="1.98" fill="#7d7cb9"/>
<rect x="207.9" y="718.36" width="12.8" height="1.98" fill="#deaba3"/>
<rect x="220.1" y="718.36" width="12.7" height="1.98" fill="#dda8a0"/>
<rect x="232.2" y="718.36" width="12.1" height="1.98" fill="#e4b8b0"/>
<rect x="171.9" y="719.74" width="12.7" height="1.98" fill="#9391c5"/>
<rect x="184.0" y="719.74" width="12.5" height="1.98" fill="#aaa8d2"/>
<rect x="195.9" y="719.74" width="11.4" height="1.98" fill="#aeadd4"/>
<rect x="207.9" y="719.74" width="12.8" height="1.98" fill="#daa299"/>
<rect x="220.1" y="719.74" width="12.7" height="1.98" fill="#dba299"/>
<rect x="232.2" y="719.74" width="12.1" height="1.98" fill="#dfaca4"/>
<rect x="171.9" y="721.12" width="12.7" height="1.98" fill="#8a88c0"/>
<rect x="184.0" y="721.12" width="12.5" height="1.98" fill="#b2b1d6"/>
<rect x="195.9" y="721.12" width="11.4" height="1.98" fill="#8583be"/>
<rect x="207.9" y="721.12" width="12.8" height="1.98" fill="#dca69d"/>
<rect x="220.1" y="721.12" width="12.7" height="1.98" fill="#d6978e"/>
<rect x="232.2" y="721.12" width="12.1" height="1.98" fill="#dba299"/>
<rect x="171.9" y="722.50" width="12.7" height="1.98" fill="#b2b1d6"/>
<rect x="184.0" y="722.50" width="12.5" height="1.98" fill="#7d7bb9"/>
<rect x="195.9" y="722.50" width="11.4" height="1.98" fill="#a9a8d1"/>
<rect x="207.9" y="722.50" width="12.8" height="1.98" fill="#e4bab2"/>
<rect x="220.1" y="722.50" width="12.7" height="1.98" fill="#daa199"/>
<rect x="232.2" y="722.50" width="12.1" height="1.98" fill="#e4bab2"/>
<rect x="171.9" y="723.88" width="12.7" height="1.98" fill="#bcbcdc"/>
<rect x="184.0" y="723.88" width="12.5" height="1.98" fill="#afaed5"/>
<rect x="195.9" y="723.88" width="11.4" height="1.98" fill="#dbdaed"/>
<rect x="207.9" y="723.88" width="12.8" height="1.98" fill="#e2b4ac"/>
<rect x="220.1" y="723.88" width="12.7" height="1.98" fill="#e2b4ac"/>
<rect x="232.2" y="723.88" width="12.1" height="1.98" fill="#e9c6bf"/>
<rect x="171.9" y="725.26" width="12.7" height="1.98" fill="#a09fcd"/>
<rect x="184.0" y="725.26" width="12.5" height="1.98" fill="#8987c0"/>
<rect x="195.9" y="725.26" width="11.4" height="1.98" fill="#8382bc"/>
<rect x="207.9" y="725.26" width="12.8" height="1.98" fill="#d89c92"/>
<rect x="220.1" y="725.26" width="12.7" height="1.98" fill="#d89d93"/>
<rect x="232.2" y="725.26" width="12.1" height="1.98" fill="#deaaa2"/>
<rect x="171.9" y="726.64" width="12.7" height="1.98" fill="#a09ecc"/>
<rect x="184.0" y="726.64" width="12.5" height="1.98" fill="#e3e2f1"/>
<rect x="195.9" y="726.64" width="11.4" height="1.98" fill="#a2a1cd"/>
<rect x="207.9" y="726.64" width="12.8" height="1.98" fill="#deaba3"/>
<rect x="220.1" y="726.64" width="12.7" height="1.98" fill="#e5bbb4"/>
<rect x="232.2" y="726.64" width="12.1" height="1.98" fill="#e6bdb6"/>
<rect x="171.9" y="728.02" width="12.7" height="1.98" fill="#e8e8f4"/>
<rect x="184.0" y="728.02" width="12.5" height="1.98" fill="#f2f2fa"/>
<rect x="195.9" y="728.02" width="11.4" height="1.98" fill="#b5b4d8"/>
<rect x="207.9" y="728.02" width="12.8" height="1.98" fill="#d89b91"/>
<rect x="220.1" y="728.02" width="12.7" height="1.98" fill="#e1b1a9"/>
<rect x="232.2" y="728.02" width="12.1" height="1.98" fill="#e3b6af"/>
<rect x="171.9" y="729.40" width="12.7" height="1.98" fill="#d5d5ea"/>
<rect x="184.0" y="729.40" width="12.5" height="1.98" fill="#807fbb"/>
<rect x="195.9" y="729.40" width="11.4" height="1.98" fill="#f2f2fa"/>
<rect x="207.9" y="729.40" width="12.8" height="1.98" fill="#e2b4ac"/>
<rect x="220.1" y="729.40" width="12.7" height="1.98" fill="#deaba3"/>
<rect x="232.2" y="729.40" width="12.1" height="1.98" fill="#dda79f"/>
<rect x="171.9" y="730.78" width="12.7" height="1.98" fill="#d8d7eb"/>
<rect x="184.0" y="730.78" width="12.5" height="1.98" fill="#cbcae4"/>
<rect x="195.9" y="730.78" width="11.4" height="1.98" fill="#b3b2d7"/>
<rect x="207.9" y="730.78" width="12.8" height="1.98" fill="#d39086"/>
<rect x="220.1" y="730.78" width="12.7" height="1.98" fill="#d89c92"/>
<rect x="232.2" y="730.78" width="12.1" height="1.98" fill="#dca59c"/>
<rect x="171.9" y="732.16" width="12.7" height="1.98" fill="#908fc4"/>
<rect x="184.0" y="732.16" width="12.5" height="1.98" fill="#bfbedd"/>
<rect x="195.9" y="732.16" width="11.4" height="1.98" fill="#dcdbed"/>
<rect x="207.9" y="732.16" width="12.8" height="1.98" fill="#dfada5"/>
<rect x="220.1" y="732.16" width="12.7" height="1.98" fill="#dba39b"/>
<rect x="232.2" y="732.16" width="12.1" height="1.98" fill="#e2b4ac"/>
<rect x="171.9" y="733.54" width="12.7" height="1.98" fill="#c2c2df"/>
<rect x="184.0" y="733.54" width="12.5" height="1.98" fill="#7876b6"/>
<rect x="195.9" y="733.54" width="11.4" height="1.98" fill="#7876b6"/>
<rect x="207.9" y="733.54" width="12.8" height="1.98" fill="#e1b1a9"/>
<rect x="220.1" y="733.54" width="12.7" height="1.98" fill="#e1b1aa"/>
<rect x="232.2" y="733.54" width="12.1" height="1.98" fill="#e2b4ac"/>
<rect x="171.9" y="734.92" width="12.7" height="1.98" fill="#c6c5e2"/>
<rect x="184.0" y="734.92" width="12.5" height="1.98" fill="#b4b3d8"/>
<rect x="195.9" y="734.92" width="11.4" height="1.98" fill="#adacd4"/>
<rect x="207.9" y="734.92" width="12.8" height="1.98" fill="#e2b5ad"/>
<rect x="220.1" y="734.92" width="12.7" height="1.98" fill="#e2b3ab"/>
<rect x="232.2" y="734.92" width="12.1" height="1.98" fill="#e6bdb6"/>
<rect x="171.9" y="736.30" width="12.7" height="1.98" fill="#d4d3e9"/>
<rect x="184.0" y="736.30" width="12.5" height="1.98" fill="#a1a0cd"/>
<rect x="195.9" y="736.30" width="11.4" height="1.98" fill="#c6c5e1"/>
<rect x="207.9" y="736.30" width="12.8" height="1.98" fill="#d89c93"/>
<rect x="220.1" y="736.30" width="12.7" height="1.98" fill="#d79a90"/>
<rect x="232.2" y="736.30" width="12.1" height="1.98" fill="#e7c1ba"/>
<rect x="171.9" y="737.68" width="12.7" height="1.98" fill="#e2e1f1"/>
<rect x="184.0" y="737.68" width="12.5" height="1.98" fill="#8886bf"/>
<rect x="195.9" y="737.68" width="11.4" height="1.98" fill="#7876b6"/>
<rect x="207.9" y="737.68" width="12.8" height="1.98" fill="#d7988f"/>
<rect x="220.1" y="737.68" width="12.7" height="1.98" fill="#d18b80"/>
<rect x="232.2" y="737.68" width="12.1" height="1.98" fill="#dda79e"/>
<rect x="171.9" y="739.06" width="12.7" height="1.98" fill="#c3c3e0"/>
<rect x="184.0" y="739.06" width="12.5" height="1.98" fill="#bbbadc"/>
<rect x="195.9" y="739.06" width="11.4" height="1.98" fill="#d5d4ea"/>
<rect x="207.9" y="739.06" width="12.8" height="1.98" fill="#e4b8b0"/>
<rect x="220.1" y="739.06" width="12.7" height="1.98" fill="#e2b4ad"/>
<rect x="232.2" y="739.06" width="12.1" height="1.98" fill="#dba39a"/>
<rect x="171.9" y="740.44" width="12.7" height="1.98" fill="#8280bb"/>
<rect x="184.0" y="740.44" width="12.5" height="1.98" fill="#9391c5"/>
<rect x="195.9" y="740.44" width="11.4" height="1.98" fill="#b2b1d6"/>
<rect x="207.9" y="740.44" width="12.8" height="1.98" fill="#dfada4"/>
<rect x="220.1" y="740.44" width="12.7" height="1.98" fill="#e7bfb8"/>
<rect x="232.2" y="740.44" width="12.1" height="1.98" fill="#e6beb7"/>
<rect x="171.9" y="741.82" width="12.7" height="1.98" fill="#cccbe5"/>
<rect x="184.0" y="741.82" width="12.5" height="1.98" fill="#7876b6"/>
<rect x="195.9" y="741.82" width="11.4" height="1.98" fill="#908ec4"/>
<rect x="207.9" y="741.82" width="12.8" height="1.98" fill="#e1b0a8"/>
<rect x="220.1" y="741.82" width="12.7" height="1.98" fill="#deaaa2"/>
<rect x="232.2" y="741.82" width="12.1" height="1.98" fill="#e5bab3"/>
<rect x="171.9" y="743.20" width="12.7" height="1.98" fill="#8b8ac1"/>
<rect x="184.0" y="743.20" width="12.5" height="1.98" fill="#bbbadb"/>
<rect x="195.9" y="743.20" width="11.4" height="1.98" fill="#b7b6d9"/>
<rect x="207.9" y="743.20" width="12.8" height="1.98" fill="#d18b81"/>
<rect x="220.1" y="743.20" width="12.7" height="1.98" fill="#d6968d"/>
<rect x="232.2" y="743.20" width="12.1" height="1.98" fill="#d28c82"/>
<rect x="171.9" y="744.58" width="12.7" height="1.98" fill="#f2f2fa"/>
<rect x="184.0" y="744.58" width="12.5" height="1.98" fill="#9b9aca"/>
<rect x="195.9" y="744.58" width="11.4" height="1.98" fill="#d0d0e7"/>
<rect x="207.9" y="744.58" width="12.8" height="1.98" fill="#daa198"/>
<rect x="220.1" y="744.58" width="12.7" height="1.98" fill="#cd8176"/>
<rect x="232.2" y="744.58" width="12.1" height="1.98" fill="#e1b2aa"/>
<rect x="171.9" y="745.96" width="12.7" height="1.98" fill="#9e9dcb"/>
<rect x="184.0" y="745.96" width="12.5" height="1.98" fill="#9897c8"/>
<rect x="195.9" y="745.96" width="11.4" height="1.98" fill="#a6a5d0"/>
<rect x="207.9" y="745.96" width="12.8" height="1.98" fill="#dda8a0"/>
<rect x="220.1" y="745.96" width="12.7" height="1.98" fill="#e4bab2"/>
<rect x="232.2" y="745.96" width="12.1" height="1.98" fill="#ecccc6"/>
<rect x="171.9" y="747.34" width="12.7" height="1.98" fill="#b9b8da"/>
<rect x="184.0" y="747.34" width="12.5" height="1.98" fill="#f2f2fa"/>
<rect x="195.9" y="747.34" width="11.4" height="1.98" fill="#f2f2fa"/>
<rect x="207.9" y="747.34" width="12.8" height="1.98" fill="#e2b4ac"/>
<rect x="220.1" y="747.34" width="12.7" height="1.98" fill="#dfada4"/>
<rect x="232.2" y="747.34" width="12.1" height="1.98" fill="#e5bbb4"/>
<rect x="171.9" y="748.72" width="12.7" height="1.98" fill="#c2c2df"/>
<rect x="184.0" y="748.72" width="12.5" height="1.98" fill="#e8e8f4"/>
<rect x="195.9" y="748.72" width="11.4" height="1.98" fill="#a09fcc"/>
<rect x="207.9" y="748.72" width="12.8" height="1.98" fill="#d39086"/>
<rect x="220.1" y="748.72" width="12.7" height="1.98" fill="#dda79e"/>
<rect x="232.2" y="748.72" width="12.1" height="1.98" fill="#dfada5"/>
<rect x="171.9" y="750.10" width="12.7" height="1.98" fill="#9290c4"/>
<rect x="184.0" y="750.10" width="12.5" height="1.98" fill="#b7b6d9"/>
<rect x="195.9" y="750.10" width="11.4" height="1.98" fill="#9c9aca"/>
<rect x="207.9" y="750.10" width="12.8" height="1.98" fill="#da9f96"/>
<rect x="220.1" y="750.10" width="12.7" height="1.98" fill="#dda9a0"/>
<rect x="232.2" y="750.10" width="12.1" height="1.98" fill="#e5bbb3"/>
<rect x="171.9" y="751.48" width="12.7" height="1.98" fill="#d1d0e7"/>
<rect x="184.0" y="751.48" width="12.5" height="1.98" fill="#dbdaed"/>
<rect x="195.9" y="751.48" width="11.4" height="1.98" fill="#ebebf6"/>
<rect x="207.9" y="751.48" width="12.8" height="1.98" fill="#e3b6ae"/>
<rect x="220.1" y="751.48" width="12.7" height="1.98" fill="#daa198"/>
<rect x="232.2" y="751.48" width="12.1" height="1.98" fill="#d49187"/>
<rect x="171.9" y="752.86" width="12.7" height="1.98" fill="#c8c8e3"/>
<rect x="184.0" y="752.86" width="12.5" height="1.98" fill="#b4b3d8"/>
<rect x="195.9" y="752.86" width="11.4" height="1.98" fill="#bebddd"/>
<rect x="207.9" y="752.86" width="12.8" height="1.98" fill="#dba39a"/>
<rect x="220.1" y="752.86" width="12.7" height="1.98" fill="#dfaca4"/>
<rect x="232.2" y="752.86" width="12.1" height="1.98" fill="#e1b2aa"/>
<rect x="171.9" y="754.24" width="12.7" height="1.98" fill="#9392c5"/>
<rect x="184.0" y="754.24" width="12.5" height="1.98" fill="#7876b6"/>
<rect x="195.9" y="754.24" width="11.4" height="1.98" fill="#9b9aca"/>
<rect x="207.9" y="754.24" width="12.8" height="1.98" fill="#dda89f"/>
<rect x="220.1" y="754.24" width="12.7" height="1.98" fill="#d99f96"/>
<rect x="232.2" y="754.24" width="12.1" height="1.98" fill="#dba299"/>
<rect x="171.9" y="755.62" width="12.7" height="1.98" fill="#9997c8"/>
<rect x="184.0" y="755.62" width="12.5" height="1.98" fill="#9f9dcc"/>
<rect x="195.9" y="755.62" width="11.4" height="1.98" fill="#7f7dba"/>
<rect x="207.9" y="755.62" width="12.8" height="1.98" fill="#dda89f"/>
<rect x="220.1" y="755.62" width="12.7" height="1.98" fill="#dba39a"/>
<rect x="232.2" y="755.62" width="12.1" height="1.98" fill="#dba49b"/>
<rect x="171.9" y="757.00" width="12.7" height="1.98" fill="#8785be"/>
<rect x="184.0" y="757.00" width="12.5" height="1.98" fill="#918fc4"/>
<rect x="195.9" y="757.00" width="11.4" height="1.98" fill="#adacd3"/>
<rect x="207.9" y="757.00" width="12.8" height="1.98" fill="#e0b0a8"/>
<rect x="220.1" y="757.00" width="12.7" height="1.98" fill="#e3b6af"/>
<rect x="232.2" y="757.00" width="12.1" height="1.98" fill="#e3b7b0"/>
<rect x="171.9" y="758.38" width="12.7" height="1.98" fill="#7876b6"/>
<rect x="184.0" y="758.38" width="12.5" height="1.98" fill="#9593c6"/>
<rect x="195.9" y="758.38" width="11.4" height="1.98" fill="#b1b0d6"/>
<rect x="207.9" y="758.38" width="12.8" height="1.98" fill="#e4bab2"/>
<rect x="220.1" y="758.38" width="12.7" height="1.98" fill="#e0aea6"/>
<rect x="232.2" y="758.38" width="12.1" height="1.98" fill="#e4b8b1"/>
<rect x="171.9" y="759.76" width="12.7" height="1.98" fill="#b1b0d6"/>
<rect x="184.0" y="759.76" width="12.5" height="1.98" fill="#aaa9d2"/>
<rect x="195.9" y="759.76" width="11.4" height="1.98" fill="#bab9db"/>
<rect x="207.9" y="759.76" width="12.8" height="1.98" fill="#e1b2aa"/>
<rect x="220.1" y="759.76" width="12.7" height="1.98" fill="#e0aea6"/>
<rect x="232.2" y="759.76" width="12.1" height="1.98" fill="#eccdc7"/>
<rect x="171.9" y="761.14" width="12.7" height="1.98" fill="#c7c6e2"/>
<rect x="184.0" y="761.14" width="12.5" height="1.98" fill="#9d9bca"/>
<rect x="195.9" y="761.14" width="11.4" height="1.98" fill="#e3e3f1"/>
<rect x="207.9" y="761.14" width="12.8" height="1.98" fill="#dda9a0"/>
<rect x="220.1" y="761.14" width="12.7" height="1.98" fill="#e6bdb5"/>
<rect x="232.2" y="761.14" width="12.1" height="1.98" fill="#e9c4bd"/>
<rect x="171.9" y="762.52" width="12.7" height="1.98" fill="#8a88c0"/>
<rect x="184.0" y="762.52" width="12.5" height="1.98" fill="#c3c2e0"/>
<rect x="195.9" y="762.52" width="11.4" height="1.98" fill="#a5a3cf"/>
<rect x="207.9" y="762.52" width="12.8" height="1.98" fill="#d89b92"/>
<rect x="220.1" y="762.52" width="12.7" height="1.98" fill="#dba299"/>
<rect x="232.2" y="762.52" width="12.1" height="1.98" fill="#e0b0a8"/>
<rect x="171.9" y="763.90" width="12.7" height="1.98" fill="#aeadd4"/>
<rect x="184.0" y="763.90" width="12.5" height="1.98" fill="#acabd3"/>
<rect x="195.9" y="763.90" width="11.4" height="1.98" fill="#9f9ecc"/>
<rect x="207.9" y="763.90" width="12.8" height="1.98" fill="#e0b0a8"/>
<rect x="220.1" y="763.90" width="12.7" height="1.98" fill="#d99e95"/>
<rect x="232.2" y="763.90" width="12.1" height="1.98" fill="#e5bbb3"/>
<rect x="171.9" y="765.28" width="12.7" height="1.98" fill="#d7d7eb"/>
<rect x="184.0" y="765.28" width="12.5" height="1.98" fill="#a2a1cd"/>
<rect x="195.9" y="765.28" width="11.4" height="1.98" fill="#deddef"/>
<rect x="207.9" y="765.28" width="12.8" height="1.98" fill="#e7c0b9"/>
<rect x="220.1" y="765.28" width="12.7" height="1.98" fill="#e2b4ac"/>
<rect x="232.2" y="765.28" width="12.1" height="1.98" fill="#eed0ca"/>
<rect x="171.9" y="766.66" width="12.7" height="1.98" fill="#a2a1cd"/>
<rect x="184.0" y="766.66" width="12.5" height="1.98" fill="#8785be"/>
<rect x="195.9" y="766.66" width="11.4" height="1.98" fill="#8280bc"/>
<rect x="207.9" y="766.66" width="12.8" height="1.98" fill="#d89c93"/>
<rect x="220.1" y="766.66" width="12.7" height="1.98" fill="#d18b80"/>
<rect x="232.2" y="766.66" width="12.1" height="1.98" fill="#dfaea6"/>
<rect x="171.9" y="768.04" width="12.7" height="1.98" fill="#e3e3f2"/>
<rect x="184.0" y="768.04" width="12.5" height="1.98" fill="#bab9db"/>
<rect x="195.9" y="768.04" width="11.4" height="1.98" fill="#c4c3e0"/>
<rect x="207.9" y="768.04" width="12.8" height="1.98" fill="#d0887d"/>
<rect x="220.1" y="768.04" width="12.7" height="1.98" fill="#dba49b"/>
<rect x="232.2" y="768.04" width="12.1" height="1.98" fill="#dda8a0"/>
<rect x="171.9" y="769.42" width="12.7" height="1.98" fill="#b7b6d9"/>
<rect x="184.0" y="769.42" width="12.5" height="1.98" fill="#7876b6"/>
<rect x="195.9" y="769.42" width="11.4" height="1.98" fill="#9a98c9"/>
<rect x="207.9" y="769.42" width="12.8" height="1.98" fill="#d89b92"/>
<rect x="220.1" y="769.42" width="12.7" height="1.98" fill="#d89b92"/>
<rect x="232.2" y="769.42" width="12.1" height="1.98" fill="#dfada4"/>
<rect x="171.9" y="770.80" width="12.7" height="1.98" fill="#9d9ccb"/>
<rect x="184.0" y="770.80" width="12.5" height="1.98" fill="#9897c8"/>
<rect x="195.9" y="770.80" width="11.4" height="1.98" fill="#9e9dcb"/>
<rect x="207.9" y="770.80" width="12.8" height="1.98" fill="#d5948a"/>
<rect x="220.1" y="770.80" width="12.7" height="1.98" fill="#dda79e"/>
<rect x="232.2" y="770.80" width="12.1" height="1.98" fill="#e4b8b0"/>
<rect x="171.9" y="772.18" width="12.7" height="1.98" fill="#f2f2fa"/>
<rect x="184.0" y="772.18" width="12.5" height="1.98" fill="#b0afd5"/>
<rect x="195.9" y="772.18" width="11.4" height="1.98" fill="#bcbbdc"/>
<rect x="207.9" y="772.18" width="12.8" height="1.98" fill="#d79a91"/>
<rect x="220.1" y="772.18" width="12.7" height="1.98" fill="#d89d93"/>
<rect x="232.2" y="772.18" width="12.1" height="1.98" fill="#e1b2aa"/>
<rect x="171.9" y="773.56" width="12.7" height="1.98" fill="#9e9dcb"/>
<rect x="184.0" y="773.56" width="12.5" height="1.98" fill="#b2b1d6"/>
<rect x="195.9" y="773.56" width="11.4" height="1.98" fill="#c7c6e2"/>
<rect x="207.9" y="773.56" width="12.8" height="1.98" fill="#e2b4ac"/>
<rect x="220.1" y="773.56" width="12.7" height="1.98" fill="#e7c1ba"/>
<rect x="232.2" y="773.56" width="12.1" height="1.98" fill="#e4b8b0"/>
<rect x="171.9" y="774.94" width="12.7" height="1.98" fill="#b1b0d6"/>
<rect x="184.0" y="774.94" width="12.5" height="1.98" fill="#dedeef"/>
<rect x="195.9" y="774.94" width="11.4" height="1.98" fill="#eaeaf6"/>
<rect x="207.9" y="774.94" width="12.8" height="1.98" fill="#e2b4ad"/>
<rect x="220.1" y="774.94" width="12.7" height="1.98" fill="#e2b3ab"/>
<rect x="232.2" y="774.94" width="12.1" height="1.98" fill="#e4bab3"/>
<rect x="171.9" y="776.32" width="12.7" height="1.98" fill="#adacd4"/>
<rect x="184.0" y="776.32" width="12.5" height="1.98" fill="#9e9dcb"/>
<rect x="195.9" y="776.32" width="11.4" height="1.98" fill="#abaad3"/>
<rect x="207.9" y="776.32" width="12.8" height="1.98" fill="#d6968d"/>
<rect x="220.1" y="776.32" width="12.7" height="1.98" fill="#d38e84"/>
<rect x="232.2" y="776.32" width="12.1" height="1.98" fill="#d99e94"/>
<rect x="171.9" y="777.70" width="12.7" height="1.98" fill="#a9a8d2"/>
<rect x="184.0" y="777.70" width="12.5" height="1.98" fill="#9b99c9"/>
<rect x="195.9" y="777.70" width="11.4" height="1.98" fill="#9b9aca"/>
<rect x="207.9" y="777.70" width="12.8" height="1.98" fill="#dba299"/>
<rect x="220.1" y="777.70" width="12.7" height="1.98" fill="#deaaa1"/>
<rect x="232.2" y="777.70" width="12.1" height="1.98" fill="#e6beb7"/>
<rect x="171.9" y="779.08" width="12.7" height="1.98" fill="#a09ecc"/>
<rect x="184.0" y="779.08" width="12.5" height="1.98" fill="#a4a3ce"/>
<rect x="195.9" y="779.08" width="11.4" height="1.98" fill="#b9b8da"/>
<rect x="207.9" y="779.08" width="12.8" height="1.98" fill="#dea9a1"/>
<rect x="220.1" y="779.08" width="12.7" height="1.98" fill="#deaba3"/>
<rect x="232.2" y="779.08" width="12.1" height="1.98" fill="#e6beb7"/>
<rect x="171.9" y="780.46" width="12.7" height="1.98" fill="#deddef"/>
<rect x="184.0" y="780.46" width="12.5" height="1.98" fill="#a3a2ce"/>
<rect x="195.9" y="780.46" width="11.4" height="1.98" fill="#9a98c9"/>
<rect x="207.9" y="780.46" width="12.8" height="1.98" fill="#daa097"/>
<rect x="220.1" y="780.46" width="12.7" height="1.98" fill="#dba49b"/>
<rect x="232.2" y="780.46" width="12.1" height="1.98" fill="#dca59c"/>
<rect x="171.9" y="781.84" width="12.7" height="1.98" fill="#b9b8da"/>
<rect x="184.0" y="781.84" width="12.5" height="1.98" fill="#d9d9ec"/>
<rect x="195.9" y="781.84" width="11.4" height="1.98" fill="#a3a2ce"/>
<rect x="207.9" y="781.84" width="12.8" height="1.98" fill="#dba39b"/>
<rect x="220.1" y="781.84" width="12.7" height="1.98" fill="#dda79f"/>
<rect x="232.2" y="781.84" width="12.1" height="1.98" fill="#e5bab3"/>
<rect x="171.9" y="783.22" width="12.7" height="1.98" fill="#cdcde6"/>
<rect x="184.0" y="783.22" width="12.5" height="1.98" fill="#b0afd5"/>
<rect x="195.9" y="783.22" width="11.4" height="1.98" fill="#9997c8"/>
<rect x="207.9" y="783.22" width="12.8" height="1.98" fill="#daa198"/>
<rect x="220.1" y="783.22" width="12.7" height="1.98" fill="#eac6c0"/>
<rect x="232.2" y="783.22" width="12.1" height="1.98" fill="#e7bfb8"/>
<rect x="171.9" y="784.60" width="12.7" height="1.98" fill="#c7c6e2"/>
<rect x="184.0" y="784.60" width="12.5" height="1.98" fill="#c7c7e2"/>
<rect x="195.9" y="784.60" width="11.4" height="1.98" fill="#c1c0df"/>
<rect x="207.9" y="784.60" width="12.8" height="1.98" fill="#d89b91"/>
<rect x="220.1" y="784.60" width="12.7" height="1.98" fill="#cb7c71"/>
<rect x="232.2" y="784.60" width="12.1" height="1.98" fill="#deaba3"/>
<rect x="171.9" y="785.98" width="12.7" height="1.98" fill="#cecde6"/>
<rect x="184.0" y="785.98" width="12.5" height="1.98" fill="#9795c7"/>
<rect x="195.9" y="785.98" width="11.4" height="1.98" fill="#9392c5"/>
<rect x="207.9" y="785.98" width="12.8" height="1.98" fill="#e5bcb5"/>
<rect x="220.1" y="785.98" width="12.7" height="1.98" fill="#dea9a1"/>
<rect x="232.2" y="785.98" width="12.1" height="1.98" fill="#dea9a1"/>
<rect x="171.9" y="787.36" width="12.7" height="1.98" fill="#c1c1df"/>
<rect x="184.0" y="787.36" width="12.5" height="1.98" fill="#c3c2e0"/>
<rect x="195.9" y="787.36" width="11.4" height="1.98" fill="#c5c4e1"/>
<rect x="207.9" y="787.36" width="12.8" height="1.98" fill="#d99f96"/>
<rect x="220.1" y="787.36" width="12.7" height="1.98" fill="#d89b91"/>
<rect x="232.2" y="787.36" width="12.1" height="1.98" fill="#d89b91"/>
<rect x="171.9" y="788.74" width="12.7" height="1.98" fill="#9d9ccb"/>
<rect x="184.0" y="788.74" width="12.5" height="1.98" fill="#a5a3cf"/>
<rect x="195.9" y="788.74" width="11.4" height="1.98" fill="#aaa9d2"/>
<rect x="207.9" y="788.74" width="12.8" height="1.98" fill="#daa097"/>
<rect x="220.1" y="788.74" width="12.7" height="1.98" fill="#d5948b"/>
<rect x="232.2" y="788.74" width="12.1" height="1.98" fill="#d39187"/>
<rect x="171.9" y="790.12" width="12.7" height="1.98" fill="#dcdcee"/>
<rect x="184.0" y="790.12" width="12.5" height="1.98" fill="#adacd4"/>
<rect x="195.9" y="790.12" width="11.4" height="1.98" fill="#dfdfef"/>
<rect x="207.9" y="790.12" width="12.8" height="1.98" fill="#d6988e"/>
<rect x="220.1" y="790.12" width="12.7" height="1.98" fill="#dba299"/>
<rect x="232.2" y="790.12" width="12.1" height="1.98" fill="#dba49b"/>
<rect x="171.9" y="791.50" width="12.7" height="1.98" fill="#b9b8da"/>
<rect x="184.0" y="791.50" width="12.5" height="1.98" fill="#a8a7d1"/>
<rect x="195.9" y="791.50" width="11.4" height="1.98" fill="#e3e3f2"/>
<rect x="207.9" y="791.50" width="12.8" height="1.98" fill="#d99d94"/>
<rect x="220.1" y="791.50" width="12.7" height="1.98" fill="#dfada5"/>
<rect x="232.2" y="791.50" width="12.1" height="1.98" fill="#dba39a"/>
<rect x="171.9" y="792.88" width="12.7" height="1.98" fill="#f2f2fa"/>
<rect x="184.0" y="792.88" width="12.5" height="1.98" fill="#9391c5"/>
<rect x="195.9" y="792.88" width="11.4" height="1.98" fill="#bdbcdc"/>
<rect x="207.9" y="792.88" width="12.8" height="1.98" fill="#dda9a1"/>
<rect x="220.1" y="792.88" width="12.7" height="1.98" fill="#deaaa1"/>
<rect x="232.2" y="792.88" width="12.1" height="1.98" fill="#e1b1a9"/>
<rect x="171.9" y="794.26" width="12.7" height="1.98" fill="#b6b5d8"/>
<rect x="184.0" y="794.26" width="12.5" height="1.98" fill="#aeadd4"/>
<rect x="195.9" y="794.26" width="11.4" height="1.98" fill="#b7b7d9"/>
<rect x="207.9" y="794.26" width="12.8" height="1.98" fill="#e0afa7"/>
<rect x="220.1" y="794.26" width="12.7" height="1.98" fill="#daa097"/>
<rect x="232.2" y="794.26" width="12.1" height="1.98" fill="#d89b92"/>
<rect x="171.9" y="795.64" width="12.7" height="1.98" fill="#7f7dba"/>
<rect x="184.0" y="795.64" width="12.5" height="1.98" fill="#9f9ecc"/>
<rect x="195.9" y="795.64" width="11.4" height="1.98" fill="#7a78b7"/>
<rect x="207.9" y="795.64" width="12.8" height="1.98" fill="#d89c93"/>
<rect x="220.1" y="795.64" width="12.7" height="1.98" fill="#deaba2"/>
<rect x="232.2" y="795.64" width="12.1" height="1.98" fill="#d99f96"/>
<rect x="171.9" y="797.02" width="12.7" height="1.98" fill="#b9b9da"/>
<rect x="184.0" y="797.02" width="12.5" height="1.98" fill="#9997c8"/>
<rect x="195.9" y="797.02" width="11.4" height="1.98" fill="#a7a6d0"/>
<rect x="207.9" y="797.02" width="12.8" height="1.98" fill="#e1b2aa"/>
<rect x="220.1" y="797.02" width="12.7" height="1.98" fill="#dfada4"/>
<rect x="232.2" y="797.02" width="12.1" height="1.98" fill="#dba39a"/>
<rect x="171.9" y="798.40" width="12.7" height="1.98" fill="#9695c7"/>
<rect x="184.0" y="798.40" width="12.5" height="1.98" fill="#cccbe5"/>
<rect x="195.9" y="798.40" width="11.4" height="1.98" fill="#e0dff0"/>
<rect x="207.9" y="798.40" width="12.8" height="1.98" fill="#dca49c"/>
<rect x="220.1" y="798.40" width="12.7" height="1.98" fill="#d89c93"/>
<rect x="232.2" y="798.40" width="12.1" height="1.98" fill="#dfaca4"/>
<rect x="171.9" y="799.78" width="12.7" height="1.98" fill="#aeadd4"/>
<rect x="184.0" y="799.78" width="12.5" height="1.98" fill="#8b8ac1"/>
<rect x="195.9" y="799.78" width="11.4" height="1.98" fill="#9998c9"/>
<rect x="207.9" y="799.78" width="12.8" height="1.98" fill="#dda9a0"/>
<rect x="220.1" y="799.78" width="12.7" height="1.98" fill="#d49288"/>
<rect x="232.2" y="799.78" width="12.1" height="1.98" fill="#dca69e"/>
<rect x="171.9" y="801.16" width="12.7" height="1.98" fill="#a7a5d0"/>
<rect x="184.0" y="801.16" width="12.5" height="1.98" fill="#bebddd"/>
<rect x="195.9" y="801.16" width="11.4" height="1.98" fill="#9e9ccb"/>
<rect x="207.9" y="801.16" width="12.8" height="1.98" fill="#e0aea6"/>
<rect x="220.1" y="801.16" width="12.7" height="1.98" fill="#e0afa7"/>
<rect x="232.2" y="801.16" width="12.1" height="1.98" fill="#e2b4ac"/>
<rect x="171.9" y="802.54" width="12.7" height="1.98" fill="#7876b6"/>
<rect x="184.0" y="802.54" width="12.5" height="1.98" fill="#a2a1cd"/>
<rect x="195.9" y="802.54" width="11.4" height="1.98" fill="#807ebb"/>
<rect x="207.9" y="802.54" width="12.8" height="1.98" fill="#d99d94"/>
<rect x="220.1" y="802.54" width="12.7" height="1.98" fill="#e0b0a8"/>
<rect x="232.2" y="802.54" width="12.1" height="1.98" fill="#deaba3"/>
<rect x="171.9" y="803.92" width="12.7" height="1.98" fill="#9f9ecc"/>
<rect x="184.0" y="803.92" width="12.5" height="1.98" fill="#dedeef"/>
<rect x="195.9" y="803.92" width="11.4" height="1.98" fill="#8e8dc3"/>
<rect x="207.9" y="803.92" width="12.8" height="1.98" fill="#dba299"/>
<rect x="220.1" y="803.92" width="12.7" height="1.98" fill="#d79a90"/>
<rect x="232.2" y="803.92" width="12.1" height="1.98" fill="#e0b0a8"/>
<rect x="171.9" y="805.30" width="12.7" height="1.98" fill="#7f7dba"/>
<rect x="184.0" y="805.30" width="12.5" height="1.98" fill="#7e7cba"/>
<rect x="195.9" y="805.30" width="11.4" height="1.98" fill="#7876b6"/>
<rect x="207.9" y="805.30" width="12.8" height="1.98" fill="#d49389"/>
<rect x="220.1" y="805.30" width="12.7" height="1.98" fill="#d5948b"/>
<rect x="232.2" y="805.30" width="12.1" height="1.98" fill="#dca59c"/>
<rect x="171.9" y="806.68" width="12.7" height="1.98" fill="#a2a1ce"/>
<rect x="184.0" y="806.68" width="12.5" height="1.98" fill="#8d8cc2"/>
<rect x="195.9" y="806.68" width="11.4" height="1.98" fill="#b1b0d6"/>
<rect x="207.9" y="806.68" width="12.8" height="1.98" fill="#d89b92"/>
<rect x="220.1" y="806.68" width="12.7" height="1.98" fill="#dca59c"/>
<rect x="232.2" y="806.68" width="12.1" height="1.98" fill="#dca69e"/>
<rect x="171.9" y="808.06" width="12.7" height="1.98" fill="#8786bf"/>
<rect x="184.0" y="808.06" width="12.5" height="1.98" fill="#8d8cc2"/>
<rect x="195.9" y="808.06" width="11.4" height="1.98" fill="#918fc4"/>
<rect x="207.9" y="808.06" width="12.8" height="1.98" fill="#d5948b"/>
<rect x="220.1" y="808.06" width="12.7" height="1.98" fill="#e5bcb5"/>
<rect x="232.2" y="808.06" width="12.1" height="1.98" fill="#dda9a0"/>
<rect x="171.9" y="809.44" width="12.7" height="1.98" fill="#a7a6d0"/>
<rect x="184.0" y="809.44" width="12.5" height="1.98" fill="#a3a2ce"/>
<rect x="195.9" y="809.44" width="11.4" height="1.98" fill="#bdbcdc"/>
<rect x="207.9" y="809.44" width="12.8" height="1.98" fill="#daa097"/>
<rect x="220.1" y="809.44" width="12.7" height="1.98" fill="#daa097"/>
<rect x="232.2" y="809.44" width="12.1" height="1.98" fill="#e0b0a8"/>
<rect x="171.9" y="810.82" width="12.7" height="1.98" fill="#7c7ab9"/>
<rect x="184.0" y="810.82" width="12.5" height="1.98" fill="#9594c7"/>
<rect x="195.9" y="810.82" width="11.4" height="1.98" fill="#8381bc"/>
<rect x="207.9" y="810.82" width="12.8" height="1.98" fill="#dba299"/>
<rect x="220.1" y="810.82" width="12.7" height="1.98" fill="#deaaa1"/>
<rect x="232.2" y="810.82" width="12.1" height="1.98" fill="#e5bcb5"/>
<rect x="171.9" y="812.20" width="12.7" height="1.98" fill="#dfdeef"/>
<rect x="184.0" y="812.20" width="12.5" height="1.98" fill="#8f8dc3"/>
<rect x="195.9" y="812.20" width="11.4" height="1.98" fill="#bebddd"/>
<rect x="207.9" y="812.20" width="12.8" height="1.98" fill="#e1b1aa"/>
<rect x="220.1" y="812.20" width="12.7" height="1.98" fill="#e6bfb8"/>
<rect x="232.2" y="812.20" width="12.1" height="1.98" fill="#e5bab3"/>
<rect x="171.9" y="813.58" width="12.7" height="1.98" fill="#bab9db"/>
<rect x="184.0" y="813.58" width="12.5" height="1.98" fill="#cbcae4"/>
<rect x="195.9" y="813.58" width="11.4" height="1.98" fill="#c5c4e1"/>
<rect x="207.9" y="813.58" width="12.8" height="1.98" fill="#e3b6ae"/>
<rect x="220.1" y="813.58" width="12.7" height="1.98" fill="#e9c4bd"/>
<rect x="232.2" y="813.58" width="12.1" height="1.98" fill="#e3b7af"/>
<rect x="171.9" y="814.96" width="12.7" height="1.98" fill="#b1b0d6"/>
<rect x="184.0" y="814.96" width="12.5" height="1.98" fill="#b9b8da"/>
<rect x="195.9" y="814.96" width="11.4" height="1.98" fill="#acabd3"/>
<rect x="207.9" y="814.96" width="12.8" height="1.98" fill="#dea9a1"/>
<rect x="220.1" y="814.96" width="12.7" height="1.98" fill="#deaaa1"/>
<rect x="232.2" y="814.96" width="12.1" height="1.98" fill="#e2b4ac"/>
<rect x="171.9" y="816.34" width="12.7" height="1.98" fill="#aeadd4"/>
<rect x="184.0" y="816.34" width="12.5" height="1.98" fill="#7876b6"/>
<rect x="195.9" y="816.34" width="11.4" height="1.98" fill="#7d7bb9"/>
<rect x="207.9" y="816.34" width="12.8" height="1.98" fill="#dca49b"/>
<rect x="220.1" y="816.34" width="12.7" height="1.98" fill="#d99d94"/>
<rect x="232.2" y="816.34" width="12.1" height="1.98" fill="#e3b7b0"/>
<rect x="171.9" y="817.72" width="12.7" height="1.98" fill="#b6b5d9"/>
<rect x="184.0" y="817.72" width="12.5" height="1.98" fill="#adacd4"/>
<rect x="195.9" y="817.72" width="11.4" height="1.98" fill="#c7c6e2"/>
<rect x="207.9" y="817.72" width="12.8" height="1.98" fill="#dca59c"/>
<rect x="220.1" y="817.72" width="12.7" height="1.98" fill="#d6988e"/>
<rect x="232.2" y="817.72" width="12.1" height="1.98" fill="#e1b1a9"/>
<rect x="171.9" y="819.10" width="12.7" height="1.98" fill="#afaed5"/>
<rect x="184.0" y="819.10" width="12.5" height="1.98" fill="#908ec3"/>
<rect x="195.9" y="819.10" width="11.4" height="1.98" fill="#9695c7"/>
<rect x="207.9" y="819.10" width="12.8" height="1.98" fill="#d99f96"/>
<rect x="220.1" y="819.10" width="12.7" height="1.98" fill="#dda9a0"/>
<rect x="232.2" y="819.10" width="12.1" height="1.98" fill="#dba49b"/>
<rect x="171.9" y="820.48" width="12.7" height="1.98" fill="#7876b6"/>
<rect x="184.0" y="820.48" width="12.5" height="1.98" fill="#7876b6"/>
<rect x="195.9" y="820.48" width="11.4" height="1.98" fill="#adacd4"/>
<rect x="207.9" y="820.48" width="12.8" height="1.98" fill="#d6968d"/>
<rect x="220.1" y="820.48" width="12.7" height="1.98" fill="#d28d83"/>
<rect x="232.2" y="820.48" width="12.1" height="1.98" fill="#e3b6ae"/>
<rect x="171.9" y="821.86" width="12.7" height="1.98" fill="#bcbbdc"/>
<rect x="184.0" y="821.86" width="12.5" height="1.98" fill="#b1b0d6"/>
<rect x="195.9" y="821.86" width="11.4" height="1.98" fill="#7a78b7"/>
<rect x="207.9" y="821.86" width="12.8" height="1.98" fill="#e2b3ab"/>
<rect x="220.1" y="821.86" width="12.7" height="1.98" fill="#dfaca4"/>
<rect x="232.2" y="821.86" width="12.1" height="1.98" fill="#e8c3bc"/>
<rect x="171.9" y="823.24" width="12.7" height="1.98" fill="#7876b6"/>
<rect x="184.0" y="823.24" width="12.5" height="1.98" fill="#908fc4"/>
<rect x="195.9" y="823.24" width="11.4" height="1.98" fill="#a6a5d0"/>
<rect x="207.9" y="823.24" width="12.8" height="1.98" fill="#dda8a0"/>
<rect x="220.1" y="823.24" width="12.7" height="1.98" fill="#e1b2ab"/>
<rect x="232.2" y="823.24" width="12.1" height="1.98" fill="#e8c4bd"/>
<rect x="171.9" y="824.62" width="12.7" height="1.98" fill="#c1c0df"/>
<rect x="184.0" y="824.62" width="12.5" height="1.98" fill="#b6b5d8"/>
<rect x="195.9" y="824.62" width="11.4" height="1.98" fill="#b9b8da"/>
<rect x="207.9" y="824.62" width="12.8" height="1.98" fill="#d49288"/>
<rect x="220.1" y="824.62" width="12.7" height="1.98" fill="#d49187"/>
<rect x="232.2" y="824.62" width="12.1" height="1.98" fill="#d49288"/>
<rect x="171.9" y="826.00" width="12.7" height="1.98" fill="#7e7cba"/>
<rect x="184.0" y="826.00" width="12.5" height="1.98" fill="#8b8ac1"/>
<rect x="195.9" y="826.00" width="11.4" height="1.98" fill="#9a98c9"/>
<rect x="207.9" y="826.00" width="12.8" height="1.98" fill="#e9c4be"/>
<rect x="220.1" y="826.00" width="12.7" height="1.98" fill="#dba39a"/>
<rect x="232.2" y="826.00" width="12.1" height="1.98" fill="#e3b6ae"/>
<rect x="171.9" y="827.38" width="12.7" height="1.98" fill="#9896c8"/>
<rect x="184.0" y="827.38" width="12.5" height="1.98" fill="#9694c7"/>
<rect x="195.9" y="827.38" width="11.4" height="1.98" fill="#9e9ccb"/>
<rect x="207.9" y="827.38" width="12.8" height="1.98" fill="#e2b4ac"/>
<rect x="220.1" y="827.38" width="12.7" height="1.98" fill="#e6bdb6"/>
<rect x="232.2" y="827.38" width="12.1" height="1.98" fill="#e0afa7"/>
<rect x="171.9" y="828.76" width="12.7" height="1.98" fill="#bebddd"/>
<rect x="184.0" y="828.76" width="12.5" height="1.98" fill="#8583be"/>
<rect x="195.9" y="828.76" width="11.4" height="1.98" fill="#cacae4"/>
<rect x="207.9" y="828.76" width="12.8" height="1.98" fill="#dea9a1"/>
<rect x="220.1" y="828.76" width="12.7" height="1.98" fill="#e3b6ae"/>
<rect x="232.2" y="828.76" width="12.1" height="1.98" fill="#deaaa2"/>
<rect x="171.9" y="830.14" width="12.7" height="1.98" fill="#e6e5f3"/>
<rect x="184.0" y="830.14" width="12.5" height="1.98" fill="#cbcae4"/>
<rect x="195.9" y="830.14" width="11.4" height="1.98" fill="#dadaed"/>
<rect x="207.9" y="830.14" width="12.8" height="1.98" fill="#dfada5"/>
<rect x="220.1" y="830.14" width="12.7" height="1.98" fill="#e3b5ae"/>
<rect x="232.2" y="830.14" width="12.1" height="1.98" fill="#e9c6bf"/>
<rect x="171.9" y="831.52" width="12.7" height="1.98" fill="#efeef8"/>
<rect x="184.0" y="831.52" width="12.5" height="1.98" fill="#c1c1df"/>
<rect x="195.9" y="831.52" width="11.4" height="1.98" fill="#b8b7d9"/>
<rect x="207.9" y="831.52" width="12.8" height="1.98" fill="#dfaea6"/>
<rect x="220.1" y="831.52" width="12.7" height="1.98" fill="#e0afa7"/>
<rect x="232.2" y="831.52" width="12.1" height="1.98" fill="#e4b8b1"/>
<rect x="171.9" y="832.90" width="12.7" height="1.98" fill="#f2f2fa"/>
<rect x="184.0" y="832.90" width="12.5" height="1.98" fill="#aaa9d2"/>
<rect x="195.9" y="832.90" width="11.4" height="1.98" fill="#8785bf"/>
<rect x="207.9" y="832.90" width="12.8" height="1.98" fill="#e4b8b0"/>
<rect x="220.1" y="832.90" width="12.7" height="1.98" fill="#dca69d"/>
<rect x="232.2" y="832.90" width="12.1" height="1.98" fill="#e2b4ad"/>
<rect x="171.9" y="834.28" width="12.7" height="1.98" fill="#9997c8"/>
<rect x="184.0" y="834.28" width="12.5" height="1.98" fill="#9290c5"/>
<rect x="195.9" y="834.28" width="11.4" height="1.98" fill="#9392c5"/>
<rect x="207.9" y="834.28" width="12.8" height="1.98" fill="#dfada5"/>
<rect x="220.1" y="834.28" width="12.7" height="1.98" fill="#e0afa7"/>
<rect x="232.2" y="834.28" width="12.1" height="1.98" fill="#dba49b"/>
<rect x="171.9" y="835.66" width="12.7" height="1.98" fill="#adacd4"/>
<rect x="184.0" y="835.66" width="12.5" height="1.98" fill="#9e9dcb"/>
<rect x="195.9" y="835.66" width="11.4" height="1.98" fill="#a3a2ce"/>
<rect x="207.9" y="835.66" width="12.8" height="1.98" fill="#e0afa7"/>
<rect x="220.1" y="835.66" width="12.7" height="1.98" fill="#dca69e"/>
<rect x="232.2" y="835.66" width="12.1" height="1.98" fill="#dea9a1"/>
<rect x="171.9" y="837.04" width="12.7" height="1.98" fill="#a6a5d0"/>
<rect x="184.0" y="837.04" width="12.5" height="1.98" fill="#9291c5"/>
<rect x="195.9" y="837.04" width="11.4" height="1.98" fill="#b0afd5"/>
<rect x="207.9" y="837.04" width="12.8" height="1.98" fill="#d79990"/>
<rect x="220.1" y="837.04" width="12.7" height="1.98" fill="#d18a7f"/>
<rect x="232.2" y="837.04" width="12.1" height="1.98" fill="#dca69d"/>
<rect x="171.9" y="838.42" width="12.7" height="1.98" fill="#d89d94"/>
<rect x="184.0" y="838.42" width="12.5" height="1.98" fill="#d7988f"/>
<rect x="195.9" y="838.42" width="11.4" height="1.98" fill="#e1b2ab"/>
<rect x="207.9" y="838.42" width="12.8" height="1.98" fill="#bab9db"/>
<rect x="220.1" y="838.42" width="12.7" height="1.98" fill="#aaa8d2"/>
<rect x="232.2" y="838.42" width="12.1" height="1.98" fill="#a6a4d0"/>
<rect x="171.9" y="839.80" width="12.7" height="1.98" fill="#d89b91"/>
<rect x="184.0" y="839.80" width="12.5" height="1.98" fill="#dca69e"/>
<rect x="195.9" y="839.80" width="11.4" height="1.98" fill="#e4b9b2"/>
<rect x="207.9" y="839.80" width="12.8" height="1.98" fill="#b2b1d6"/>
<rect x="220.1" y="839.80" width="12.7" height="1.98" fill="#a09fcd"/>
<rect x="232.2" y="839.80" width="12.1" height="1.98" fill="#9897c8"/>
<rect x="171.9" y="841.18" width="12.7" height="1.98" fill="#d99e95"/>
<rect x="184.0" y="841.18" width="12.5" height="1.98" fill="#d5948a"/>
<rect x="195.9" y="841.18" width="11.4" height="1.98" fill="#daa198"/>
<rect x="207.9" y="841.18" width="12.8" height="1.98" fill="#a6a5d0"/>
<rect x="220.1" y="841.18" width="12.7" height="1.98" fill="#b7b6d9"/>
<rect x="232.2" y="841.18" width="12.1" height="1.98" fill="#a7a6d0"/>
<rect x="171.9" y="842.56" width="12.7" height="1.98" fill="#dda89f"/>
<rect x="184.0" y="842.56" width="12.5" height="1.98" fill="#e0afa7"/>
<rect x="195.9" y="842.56" width="11.4" height="1.98" fill="#d89b92"/>
<rect x="207.9" y="842.56" width="12.8" height="1.98" fill="#b1b0d6"/>
<rect x="220.1" y="842.56" width="12.7" height="1.98" fill="#9594c6"/>
<rect x="232.2" y="842.56" width="12.1" height="1.98" fill="#afaed4"/>
<rect x="171.9" y="843.94" width="12.7" height="1.98" fill="#d99e95"/>
<rect x="184.0" y="843.94" width="12.5" height="1.98" fill="#e0aea6"/>
<rect x="195.9" y="843.94" width="11.4" height="1.98" fill="#dda8a0"/>
<rect x="207.9" y="843.94" width="12.8" height="1.98" fill="#b3b2d7"/>
<rect x="220.1" y="843.94" width="12.7" height="1.98" fill="#9d9ccb"/>
<rect x="232.2" y="843.94" width="12.1" height="1.98" fill="#9796c8"/>
<rect x="171.9" y="845.32" width="12.7" height="1.98" fill="#d5948a"/>
<rect x="184.0" y="845.32" width="12.5" height="1.98" fill="#deaaa2"/>
<rect x="195.9" y="845.32" width="11.4" height="1.98" fill="#dfaca4"/>
<rect x="207.9" y="845.32" width="12.8" height="1.98" fill="#dadaec"/>
<rect x="220.1" y="845.32" width="12.7" height="1.98" fill="#c7c6e2"/>
<rect x="232.2" y="845.32" width="12.1" height="1.98" fill="#cccbe5"/>
<rect x="171.9" y="846.70" width="12.7" height="1.98" fill="#d99e95"/>
<rect x="184.0" y="846.70" width="12.5" height="1.98" fill="#d7988f"/>
<rect x="195.9" y="846.70" width="11.4" height="1.98" fill="#d99e94"/>
<rect x="207.9" y="846.70" width="12.8" height="1.98" fill="#b0afd5"/>
<rect x="220.1" y="846.70" width="12.7" height="1.98" fill="#c4c3e0"/>
<rect x="232.2" y="846.70" width="12.1" height="1.98" fill="#a4a2ce"/>
<rect x="171.9" y="848.08" width="12.7" height="1.98" fill="#e7bfb8"/>
<rect x="184.0" y="848.08" width="12.5" height="1.98" fill="#e2b4ad"/>
<rect x="195.9" y="848.08" width="11.4" height="1.98" fill="#e8c3bd"/>
<rect x="207.9" y="848.08" width="12.8" height="1.98" fill="#b2b1d6"/>
<rect x="220.1" y="848.08" width="12.7" height="1.98" fill="#908fc4"/>
<rect x="232.2" y="848.08" width="12.1" height="1.98" fill="#a5a4cf"/>
<rect x="171.9" y="849.46" width="12.7" height="1.98" fill="#dda9a1"/>
<rect x="184.0" y="849.46" width="12.5" height="1.98" fill="#d49288"/>
<rect x="195.9" y="849.46" width="11.4" height="1.98" fill="#d28e84"/>
<rect x="207.9" y="849.46" width="12.8" height="1.98" fill="#cfcfe7"/>
<rect x="220.1" y="849.46" width="12.7" height="1.98" fill="#a7a6d0"/>
<rect x="232.2" y="849.46" width="12.1" height="1.98" fill="#9795c7"/>
<rect x="171.9" y="850.84" width="12.7" height="1.98" fill="#e8c3bc"/>
<rect x="184.0" y="850.84" width="12.5" height="1.98" fill="#e5bab3"/>
<rect x="195.9" y="850.84" width="11.4" height="1.98" fill="#e4b9b1"/>
<rect x="207.9" y="850.84" width="12.8" height="1.98" fill="#cac9e4"/>
<rect x="220.1" y="850.84" width="12.7" height="1.98" fill="#bdbcdc"/>
<rect x="232.2" y="850.84" width="12.1" height="1.98" fill="#c3c2e0"/>
<rect x="171.9" y="852.22" width="12.7" height="1.98" fill="#edcec8"/>
<rect x="184.0" y="852.22" width="12.5" height="1.98" fill="#e5bcb5"/>
<rect x="195.9" y="852.22" width="11.4" height="1.98" fill="#dfada5"/>
<rect x="207.9" y="852.22" width="12.8" height="1.98" fill="#ebebf6"/>
<rect x="220.1" y="852.22" width="12.7" height="1.98" fill="#b6b5d9"/>
<rect x="232.2" y="852.22" width="12.1" height="1.98" fill="#bbbadb"/>
<rect x="171.9" y="853.60" width="12.7" height="1.98" fill="#ebc9c2"/>
<rect x="184.0" y="853.60" width="12.5" height="1.98" fill="#eac8c2"/>
<rect x="195.9" y="853.60" width="11.4" height="1.98" fill="#d7998f"/>
<rect x="207.9" y="853.60" width="12.8" height="1.98" fill="#b2b1d6"/>
<rect x="220.1" y="853.60" width="12.7" height="1.98" fill="#a1a0cd"/>
<rect x="232.2" y="853.60" width="12.1" height="1.98" fill="#b3b2d7"/>
<rect x="171.9" y="854.98" width="12.7" height="1.98" fill="#d7988f"/>
<rect x="184.0" y="854.98" width="12.5" height="1.98" fill="#dea9a1"/>
<rect x="195.9" y="854.98" width="11.4" height="1.98" fill="#dda79e"/>
<rect x="207.9" y="854.98" width="12.8" height="1.98" fill="#9a99c9"/>
<rect x="220.1" y="854.98" width="12.7" height="1.98" fill="#c4c4e1"/>
<rect x="232.2" y="854.98" width="12.1" height="1.98" fill="#a5a3cf"/>
<rect x="171.9" y="856.36" width="12.7" height="1.98" fill="#dfaea5"/>
<rect x="184.0" y="856.36" width="12.5" height="1.98" fill="#e4b9b1"/>
<rect x="195.9" y="856.36" width="11.4" height="1.98" fill="#dca69d"/>
<rect x="207.9" y="856.36" width="12.8" height="1.98" fill="#a7a6d0"/>
<rect x="220.1" y="856.36" width="12.7" height="1.98" fill="#9795c7"/>
<rect x="232.2" y="856.36" width="12.1" height="1.98" fill="#a09fcd"/>
<rect x="171.9" y="857.74" width="12.7" height="1.98" fill="#dda79f"/>
<rect x="184.0" y="857.74" width="12.5" height="1.98" fill="#daa097"/>
<rect x="195.9" y="857.74" width="11.4" height="1.98" fill="#e4b9b2"/>
<rect x="207.9" y="857.74" width="12.8" height="1.98" fill="#c3c2e0"/>
<rect x="220.1" y="857.74" width="12.7" height="1.98" fill="#8785be"/>
<rect x="232.2" y="857.74" width="12.1" height="1.98" fill="#afaed5"/>
<rect x="171.9" y="859.12" width="12.7" height="1.98" fill="#e1b0a9"/>
<rect x="184.0" y="859.12" width="12.5" height="1.98" fill="#e5bcb5"/>
<rect x="195.9" y="859.12" width="11.4" height="1.98" fill="#dda79e"/>
<rect x="207.9" y="859.12" width="12.8" height="1.98" fill="#cacae4"/>
<rect x="220.1" y="859.12" width="12.7" height="1.98" fill="#bfbede"/>
<rect x="232.2" y="859.12" width="12.1" height="1.98" fill="#c5c4e1"/>
<rect x="171.9" y="860.50" width="12.7" height="1.98" fill="#daa097"/>
<rect x="184.0" y="860.50" width="12.5" height="1.98" fill="#d6968c"/>
<rect x="195.9" y="860.50" width="11.4" height="1.98" fill="#dba299"/>
<rect x="207.9" y="860.50" width="12.8" height="1.98" fill="#d2d2e8"/>
<rect x="220.1" y="860.50" width="12.7" height="1.98" fill="#aeadd4"/>
<rect x="232.2" y="860.50" width="12.1" height="1.98" fill="#9694c7"/>
<rect x="171.9" y="861.88" width="12.7" height="1.98" fill="#dca69d"/>
<rect x="184.0" y="861.88" width="12.5" height="1.98" fill="#e2b3ab"/>
<rect x="195.9" y="861.88" width="11.4" height="1.98" fill="#d99f96"/>
<rect x="207.9" y="861.88" width="12.8" height="1.98" fill="#d8d8ec"/>
<rect x="220.1" y="861.88" width="12.7" height="1.98" fill="#a2a1ce"/>
<rect x="232.2" y="861.88" width="12.1" height="1.98" fill="#a09fcc"/>
<rect x="171.9" y="863.26" width="12.7" height="1.98" fill="#d99e95"/>
<rect x="184.0" y="863.26" width="12.5" height="1.98" fill="#daa097"/>
<rect x="195.9" y="863.26" width="11.4" height="1.98" fill="#dca69e"/>
<rect x="207.9" y="863.26" width="12.8" height="1.98" fill="#b4b3d7"/>
<rect x="220.1" y="863.26" width="12.7" height="1.98" fill="#afaed5"/>
<rect x="232.2" y="863.26" width="12.1" height="1.98" fill="#9d9ccb"/>
<rect x="171.9" y="864.64" width="12.7" height="1.98" fill="#e3b5ae"/>
<rect x="184.0" y="864.64" width="12.5" height="1.98" fill="#e6bcb5"/>
<rect x="195.9" y="864.64" width="11.4" height="1.98" fill="#dea9a1"/>
<rect x="207.9" y="864.64" width="12.8" height="1.98" fill="#bfbedd"/>
<rect x="220.1" y="864.64" width="12.7" height="1.98" fill="#e2e2f1"/>
<rect x="232.2" y="864.64" width="12.1" height="1.98" fill="#adacd4"/>
<rect x="171.9" y="866.02" width="12.7" height="1.98" fill="#e0aea6"/>
<rect x="184.0" y="866.02" width="12.5" height="1.98" fill="#d6988e"/>
<rect x="195.9" y="866.02" width="11.4" height="1.98" fill="#e3b5ae"/>
<rect x="207.9" y="866.02" width="12.8" height="1.98" fill="#9998c9"/>
<rect x="220.1" y="866.02" width="12.7" height="1.98" fill="#9a99c9"/>
<rect x="232.2" y="866.02" width="12.1" height="1.98" fill="#8c8ac1"/>
<rect x="171.9" y="867.40" width="12.7" height="1.98" fill="#e7c1ba"/>
<rect x="184.0" y="867.40" width="12.5" height="1.98" fill="#e4b9b2"/>
<rect x="195.9" y="867.40" width="11.4" height="1.98" fill="#e1b1a9"/>
<rect x="207.9" y="867.40" width="12.8" height="1.98" fill="#afaed5"/>
<rect x="220.1" y="867.40" width="12.7" height="1.98" fill="#918fc4"/>
<rect x="232.2" y="867.40" width="12.1" height="1.98" fill="#b7b6d9"/>
<rect x="171.9" y="868.78" width="12.7" height="1.98" fill="#dfada5"/>
<rect x="184.0" y="868.78" width="12.5" height="1.98" fill="#d0897e"/>
<rect x="195.9" y="868.78" width="11.4" height="1.98" fill="#d6978d"/>
<rect x="207.9" y="868.78" width="12.8" height="1.98" fill="#bcbbdc"/>
<rect x="220.1" y="868.78" width="12.7" height="1.98" fill="#afaed5"/>
<rect x="232.2" y="868.78" width="12.1" height="1.98" fill="#b5b4d8"/>
<rect x="171.9" y="870.16" width="12.7" height="1.98" fill="#e3b5ae"/>
<rect x="184.0" y="870.16" width="12.5" height="1.98" fill="#dfada5"/>
<rect x="195.9" y="870.16" width="11.4" height="1.98" fill="#dfada5"/>
<rect x="207.9" y="870.16" width="12.8" height="1.98" fill="#d1d1e8"/>
<rect x="220.1" y="870.16" width="12.7" height="1.98" fill="#cac9e4"/>
<rect x="232.2" y="870.16" width="12.1" height="1.98" fill="#acabd3"/>
<rect x="171.9" y="871.54" width="12.7" height="1.98" fill="#d6978e"/>
<rect x="184.0" y="871.54" width="12.5" height="1.98" fill="#d1897f"/>
<rect x="195.9" y="871.54" width="11.4" height="1.98" fill="#d7988f"/>
<rect x="207.9" y="871.54" width="12.8" height="1.98" fill="#e5e4f2"/>
<rect x="220.1" y="871.54" width="12.7" height="1.98" fill="#c1c0df"/>
<rect x="232.2" y="871.54" width="12.1" height="1.98" fill="#bfbede"/>
<rect x="171.9" y="872.92" width="12.7" height="1.98" fill="#eac6c0"/>
<rect x="184.0" y="872.92" width="12.5" height="1.98" fill="#e5bcb5"/>
<rect x="195.9" y="872.92" width="11.4" height="1.98" fill="#dca59d"/>
<rect x="207.9" y="872.92" width="12.8" height="1.98" fill="#c1c0df"/>
<rect x="220.1" y="872.92" width="12.7" height="1.98" fill="#9291c5"/>
<rect x="232.2" y="872.92" width="12.1" height="1.98" fill="#b2b1d6"/>
<rect x="171.9" y="874.30" width="12.7" height="1.98" fill="#e3b7b0"/>
<rect x="184.0" y="874.30" width="12.5" height="1.98" fill="#e0afa8"/>
<rect x="195.9" y="874.30" width="11.4" height="1.98" fill="#dda8a0"/>
<rect x="207.9" y="874.30" width="12.8" height="1.98" fill="#a8a7d1"/>
<rect x="220.1" y="874.30" width="12.7" height="1.98" fill="#a4a3cf"/>
<rect x="232.2" y="874.30" width="12.1" height="1.98" fill="#a4a2ce"/>
<rect x="171.9" y="875.68" width="12.7" height="1.98" fill="#d99e95"/>
<rect x="184.0" y="875.68" width="12.5" height="1.98" fill="#d59389"/>
<rect x="195.9" y="875.68" width="11.4" height="1.98" fill="#dca59c"/>
<rect x="207.9" y="875.68" width="12.8" height="1.98" fill="#9b99ca"/>
<rect x="220.1" y="875.68" width="12.7" height="1.98" fill="#8482bd"/>
<rect x="232.2" y="875.68" width="12.1" height="1.98" fill="#a5a3cf"/>
<rect x="171.9" y="877.06" width="12.7" height="1.98" fill="#deaaa2"/>
<rect x="184.0" y="877.06" width="12.5" height="1.98" fill="#e1b2aa"/>
<rect x="195.9" y="877.06" width="11.4" height="1.98" fill="#e6bcb5"/>
<rect x="207.9" y="877.06" width="12.8" height="1.98" fill="#bab9db"/>
<rect x="220.1" y="877.06" width="12.7" height="1.98" fill="#b8b7d9"/>
<rect x="232.2" y="877.06" width="12.1" height="1.98" fill="#9f9ecc"/>
<rect x="171.9" y="878.44" width="12.7" height="1.98" fill="#e5bbb4"/>
<rect x="184.0" y="878.44" width="12.5" height="1.98" fill="#d7998f"/>
<rect x="195.9" y="878.44" width="11.4" height="1.98" fill="#d99f96"/>
<rect x="207.9" y="878.44" width="12.8" height="1.98" fill="#eeeef8"/>
<rect x="220.1" y="878.44" width="12.7" height="1.98" fill="#d0cfe7"/>
<rect x="232.2" y="878.44" width="12.1" height="1.98" fill="#b3b2d7"/>
<rect x="171.9" y="879.82" width="12.7" height="1.28" fill="#dba299"/>
<rect x="184.0" y="879.82" width="12.5" height="1.28" fill="#d28c82"/>
<rect x="195.9" y="879.82" width="11.4" height="1.28" fill="#d5938a"/>
<rect x="207.9" y="879.82" width="12.8" height="1.28" fill="#c4c3e0"/>
<rect x="220.1" y="879.82" width="12.7" height="1.28" fill="#c7c6e2"/>
<rect x="232.2" y="879.82" width="12.1" height="1.28" fill="#a5a4cf"/>
<rect x="260.50" y="660.80" width="12.37" height="13.99" fill="#b3b2d7"/>
<rect x="272.37" y="660.80" width="12.37" height="13.99" fill="#acabd2"/>
<rect x="284.23" y="660.80" width="11.87" height="13.99" fill="#b3b2d7"/>
<rect x="297.10" y="660.80" width="12.43" height="13.99" fill="#d9a49f"/>
<rect x="309.03" y="660.80" width="12.43" height="13.99" fill="#d9a49f"/>
<rect x="320.97" y="660.80" width="11.93" height="13.99" fill="#dfaea9"/>
<rect x="260.50" y="674.29" width="12.37" height="13.99" fill="#bdbcdd"/>
<rect x="272.37" y="674.29" width="12.37" height="13.99" fill="#bdbcdd"/>
<rect x="284.23" y="674.29" width="11.87" height="13.99" fill="#9a99c6"/>
<rect x="297.10" y="674.29" width="12.43" height="13.99" fill="#d8a49f"/>
<rect x="309.03" y="674.29" width="12.43" height="13.99" fill="#d8a49f"/>
<rect x="320.97" y="674.29" width="11.93" height="13.99" fill="#e5b9b4"/>
<rect x="260.50" y="687.77" width="12.37" height="13.99" fill="#b1b0d4"/>
<rect x="272.37" y="687.77" width="12.37" height="13.99" fill="#cccbe4"/>
<rect x="284.23" y="687.77" width="11.87" height="13.99" fill="#9a99c6"/>
<rect x="297.10" y="687.77" width="12.43" height="13.99" fill="#d9a49f"/>
<rect x="309.03" y="687.77" width="12.43" height="13.99" fill="#d9a49f"/>
<rect x="320.97" y="687.77" width="11.93" height="13.99" fill="#e3b9b4"/>
<rect x="260.50" y="701.26" width="12.37" height="13.99" fill="#bdbcdd"/>
<rect x="272.37" y="701.26" width="12.37" height="13.99" fill="#cccbe4"/>
<rect x="284.23" y="701.26" width="11.87" height="13.99" fill="#8b8abd"/>
<rect x="297.10" y="701.26" width="12.43" height="13.99" fill="#dfaea9"/>
<rect x="309.03" y="701.26" width="12.43" height="13.99" fill="#d9a49f"/>
<rect x="320.97" y="701.26" width="11.93" height="13.99" fill="#ddb4af"/>
<rect x="260.50" y="714.74" width="12.37" height="13.99" fill="#8b8abd"/>
<rect x="272.37" y="714.74" width="12.37" height="13.99" fill="#e6e5f1"/>
<rect x="284.23" y="714.74" width="11.87" height="13.99" fill="#a2a1cb"/>
<rect x="297.10" y="714.74" width="12.43" height="13.99" fill="#d59e99"/>
<rect x="309.03" y="714.74" width="12.43" height="13.99" fill="#d59e99"/>
<rect x="320.97" y="714.74" width="11.93" height="13.99" fill="#efd4cf"/>
<rect x="260.50" y="728.23" width="12.37" height="13.99" fill="#c0bfdd"/>
<rect x="272.37" y="728.23" width="12.37" height="13.99" fill="#b9b8d9"/>
<rect x="284.23" y="728.23" width="11.87" height="13.99" fill="#9493c2"/>
<rect x="297.10" y="728.23" width="12.43" height="13.99" fill="#dbaaa5"/>
<rect x="309.03" y="728.23" width="12.43" height="13.99" fill="#dbaaa5"/>
<rect x="320.97" y="728.23" width="11.93" height="13.99" fill="#dcaaa5"/>
<rect x="260.50" y="741.71" width="12.37" height="13.49" fill="#fafafe"/>
<rect x="272.37" y="741.71" width="12.37" height="13.49" fill="#b3b2d7"/>
<rect x="284.23" y="741.71" width="11.87" height="13.49" fill="#8382b8"/>
<rect x="297.10" y="741.71" width="12.43" height="13.49" fill="#d5a09b"/>
<rect x="309.03" y="741.71" width="12.43" height="13.49" fill="#d5a09b"/>
<rect x="320.97" y="741.71" width="11.93" height="13.49" fill="#f3e4df"/>
<rect x="260.50" y="770.20" width="12.37" height="14.23" fill="#bdbcdd"/>
<rect x="272.37" y="770.20" width="12.37" height="14.23" fill="#bdbcdd"/>
<rect x="284.23" y="770.20" width="11.87" height="14.23" fill="#9695c2"/>
<rect x="297.10" y="770.20" width="12.43" height="14.23" fill="#d49e99"/>
<rect x="309.03" y="770.20" width="12.43" height="14.23" fill="#d49e99"/>
<rect x="320.97" y="770.20" width="11.93" height="14.23" fill="#e8c4bf"/>
<rect x="260.50" y="783.93" width="12.37" height="14.23" fill="#d0cee5"/>
<rect x="272.37" y="783.93" width="12.37" height="14.23" fill="#c0bfdd"/>
<rect x="284.23" y="783.93" width="11.87" height="14.23" fill="#b1b0d4"/>
<rect x="297.10" y="783.93" width="12.43" height="14.23" fill="#efd4cf"/>
<rect x="309.03" y="783.93" width="12.43" height="14.23" fill="#bb5e54"/>
<rect x="320.97" y="783.93" width="11.93" height="14.23" fill="#f8f0f0"/>
<rect x="260.50" y="797.67" width="12.37" height="13.73" fill="#7674af"/>
<rect x="272.37" y="797.67" width="12.37" height="13.73" fill="#ffffff"/>
<rect x="284.23" y="797.67" width="11.87" height="13.73" fill="#d7d6eb"/>
<rect x="297.10" y="797.67" width="12.43" height="13.73" fill="#c9746f"/>
<rect x="309.03" y="797.67" width="12.43" height="13.73" fill="#e8bcb7"/>
<rect x="320.97" y="797.67" width="11.93" height="13.73" fill="#ffffff"/>
<rect x="260.50" y="827.10" width="12.37" height="13.97" fill="#efeef5"/>
<rect x="272.37" y="827.10" width="12.37" height="13.97" fill="#f0e0db"/>
<rect x="284.23" y="827.10" width="11.87" height="13.97" fill="#5c5b9d"/>
<rect x="297.10" y="827.10" width="12.43" height="13.97" fill="#ebccc7"/>
<rect x="309.03" y="827.10" width="12.43" height="13.97" fill="#f0dcd7"/>
<rect x="320.97" y="827.10" width="11.93" height="13.97" fill="#e6c4bf"/>
<rect x="260.50" y="840.58" width="12.37" height="13.97" fill="#bdbcdd"/>
<rect x="272.37" y="840.58" width="12.37" height="13.97" fill="#bdbcdd"/>
<rect x="284.23" y="840.58" width="11.87" height="13.97" fill="#9a99c6"/>
<rect x="297.10" y="840.58" width="12.43" height="13.97" fill="#d9a49f"/>
<rect x="309.03" y="840.58" width="12.43" height="13.97" fill="#d9a49f"/>
<rect x="320.97" y="840.58" width="11.93" height="13.97" fill="#e5bcb7"/>
<rect x="260.50" y="854.05" width="12.37" height="13.97" fill="#bdbcdd"/>
<rect x="272.37" y="854.05" width="12.37" height="13.97" fill="#bdbcdd"/>
<rect x="284.23" y="854.05" width="11.87" height="13.97" fill="#9695c2"/>
<rect x="297.10" y="854.05" width="12.43" height="13.97" fill="#dbaca7"/>
<rect x="309.03" y="854.05" width="12.43" height="13.97" fill="#dbaca7"/>
<rect x="320.97" y="854.05" width="11.93" height="13.97" fill="#e0b4af"/>
<rect x="260.50" y="867.52" width="12.37" height="13.47" fill="#a2a1cb"/>
<rect x="272.37" y="867.52" width="12.37" height="13.47" fill="#f0eef6"/>
<rect x="284.23" y="867.52" width="11.87" height="13.47" fill="#9695c2"/>
<rect x="297.10" y="867.52" width="12.43" height="13.47" fill="#dbaca7"/>
<rect x="309.03" y="867.52" width="12.43" height="13.47" fill="#d49e99"/>
<rect x="320.97" y="867.52" width="11.93" height="13.47" fill="#f0dcd7"/>
<rect x="390.60" y="660.40" width="12.20" height="14.05" fill="#dba8a3"/>
<rect x="402.30" y="660.40" width="12.20" height="14.05" fill="#e0b0ab"/>
<rect x="414.00" y="660.40" width="11.70" height="14.05" fill="#d49e99"/>
<rect x="426.70" y="660.40" width="12.50" height="14.05" fill="#eae9f4"/>
<rect x="438.70" y="660.40" width="12.50" height="14.05" fill="#9a99c6"/>
<rect x="450.70" y="660.40" width="12.00" height="14.05" fill="#9a99c6"/>
<rect x="390.60" y="673.95" width="12.20" height="14.05" fill="#dba8a3"/>
<rect x="402.30" y="673.95" width="12.20" height="14.05" fill="#e3b4af"/>
<rect x="414.00" y="673.95" width="11.70" height="14.05" fill="#d49e99"/>
<rect x="426.70" y="673.95" width="12.50" height="14.05" fill="#eae9f4"/>
<rect x="438.70" y="673.95" width="12.50" height="14.05" fill="#b9b8d9"/>
<rect x="450.70" y="673.95" width="12.00" height="14.05" fill="#8786b9"/>
<rect x="390.60" y="687.50" width="12.20" height="14.05" fill="#dba8a3"/>
<rect x="402.30" y="687.50" width="12.20" height="14.05" fill="#e8c0bb"/>
<rect x="414.00" y="687.50" width="11.70" height="14.05" fill="#d49e99"/>
<rect x="426.70" y="687.50" width="12.50" height="14.05" fill="#9291c1"/>
<rect x="438.70" y="687.50" width="12.50" height="14.05" fill="#b5b4d6"/>
<rect x="450.70" y="687.50" width="12.00" height="14.05" fill="#d7d6eb"/>
<rect x="390.60" y="701.05" width="12.20" height="13.55" fill="#efd4cf"/>
<rect x="402.30" y="701.05" width="12.20" height="13.55" fill="#dca49f"/>
<rect x="414.00" y="701.05" width="11.70" height="13.55" fill="#cc847f"/>
<rect x="426.70" y="701.05" width="12.50" height="13.55" fill="#b5b4d6"/>
<rect x="438.70" y="701.05" width="12.50" height="13.55" fill="#c8c7e2"/>
<rect x="450.70" y="701.05" width="12.00" height="13.55" fill="#9e9dc8"/>
<rect x="390.60" y="724.40" width="12.20" height="14.09" fill="#dfaea9"/>
<rect x="402.30" y="724.40" width="12.20" height="14.09" fill="#dba8a3"/>
<rect x="414.00" y="724.40" width="11.70" height="14.09" fill="#dfaea9"/>
<rect x="426.70" y="724.40" width="12.50" height="14.09" fill="#a9a8cf"/>
<rect x="438.70" y="724.40" width="12.50" height="14.09" fill="#a9a8cf"/>
<rect x="450.70" y="724.40" width="12.00" height="14.09" fill="#a9a8cf"/>
<rect x="390.60" y="737.99" width="12.20" height="14.09" fill="#e6bcb7"/>
<rect x="402.30" y="737.99" width="12.20" height="14.09" fill="#d49e99"/>
<rect x="414.00" y="737.99" width="11.70" height="14.09" fill="#e0b0ab"/>
<rect x="426.70" y="737.99" width="12.50" height="14.09" fill="#9e9dc8"/>
<rect x="438.70" y="737.99" width="12.50" height="14.09" fill="#9e9dc8"/>
<rect x="450.70" y="737.99" width="12.00" height="14.09" fill="#d7d6eb"/>
<rect x="390.60" y="751.57" width="12.20" height="14.09" fill="#dfaea9"/>
<rect x="402.30" y="751.57" width="12.20" height="14.09" fill="#e0b0ab"/>
<rect x="414.00" y="751.57" width="11.70" height="14.09" fill="#dba8a3"/>
<rect x="426.70" y="751.57" width="12.50" height="14.09" fill="#d0cfe7"/>
<rect x="438.70" y="751.57" width="12.50" height="14.09" fill="#9e9dc8"/>
<rect x="450.70" y="751.57" width="12.00" height="14.09" fill="#a2a1cb"/>
<rect x="390.60" y="765.16" width="12.20" height="14.09" fill="#dba8a3"/>
<rect x="402.30" y="765.16" width="12.20" height="14.09" fill="#e4b8b3"/>
<rect x="414.00" y="765.16" width="11.70" height="14.09" fill="#dfaea9"/>
<rect x="426.70" y="765.16" width="12.50" height="14.09" fill="#e6e6f3"/>
<rect x="438.70" y="765.16" width="12.50" height="14.09" fill="#9e9dc8"/>
<rect x="450.70" y="765.16" width="12.00" height="14.09" fill="#9e9dc8"/>
<rect x="390.60" y="778.74" width="12.20" height="14.09" fill="#d49e99"/>
<rect x="402.30" y="778.74" width="12.20" height="14.09" fill="#d49e99"/>
<rect x="414.00" y="778.74" width="11.70" height="14.09" fill="#efd4cf"/>
<rect x="426.70" y="778.74" width="12.50" height="14.09" fill="#9695c2"/>
<rect x="438.70" y="778.74" width="12.50" height="14.09" fill="#b1b0d4"/>
<rect x="450.70" y="778.74" width="12.00" height="14.09" fill="#b1b0d4"/>
<rect x="390.60" y="792.33" width="12.20" height="14.09" fill="#d09893"/>
<rect x="402.30" y="792.33" width="12.20" height="14.09" fill="#dba8a3"/>
<rect x="414.00" y="792.33" width="11.70" height="14.09" fill="#efd4cf"/>
<rect x="426.70" y="792.33" width="12.50" height="14.09" fill="#b1b0d4"/>
<rect x="438.70" y="792.33" width="12.50" height="14.09" fill="#b1b0d4"/>
<rect x="450.70" y="792.33" width="12.00" height="14.09" fill="#b1b0d4"/>
<rect x="390.60" y="805.91" width="12.20" height="13.59" fill="#e6bcb7"/>
<rect x="402.30" y="805.91" width="12.20" height="13.59" fill="#e6bcb7"/>
<rect x="414.00" y="805.91" width="11.70" height="13.59" fill="#d0948f"/>
<rect x="426.70" y="805.91" width="12.50" height="13.59" fill="#b1b0d4"/>
<rect x="438.70" y="805.91" width="12.50" height="13.59" fill="#b1b0d4"/>
<rect x="450.70" y="805.91" width="12.00" height="13.59" fill="#b1b0d4"/>
<text x="336.6" y="671.1428571428571" font-size="10" fill="#231f20" stroke-width="0.16" stroke="#231f20">H2-Aa</text>
<text x="336.6" y="684.6285714285714" font-size="10" fill="#231f20" stroke-width="0.16" stroke="#231f20">H2-Ab1</text>
<text x="336.6" y="698.1142857142858" font-size="10" fill="#231f20" stroke-width="0.16" stroke="#231f20">H2-DMa</text>
<text x="336.6" y="711.6" font-size="10" fill="#231f20" stroke-width="0.16" stroke="#231f20">H2-DMb1</text>
<text x="336.6" y="725.0857142857143" font-size="10" fill="#231f20" stroke-width="0.16" stroke="#231f20">H2-DMb2</text>
<text x="336.6" y="738.5714285714286" font-size="10" fill="#231f20" stroke-width="0.16" stroke="#231f20">H2-Eb1</text>
<text x="336.6" y="752.0571428571429" font-size="10" fill="#231f20" stroke-width="0.16" stroke="#231f20">H2-Eb2</text>
<text x="336.6" y="780.6666666666667" font-size="10" fill="#231f20" stroke-width="0.16" stroke="#231f20">Ighg2b</text>
<text x="336.6" y="794.4000000000001" font-size="10" fill="#231f20" stroke-width="0.16" stroke="#231f20">Igkv1-110</text>
<text x="336.6" y="808.1333333333333" font-size="10" fill="#231f20" stroke-width="0.16" stroke="#231f20">Igkv3-2</text>
<text x="336.6" y="837.4375" font-size="10" fill="#231f20" stroke-width="0.16" stroke="#231f20">Ackr2</text>
<text x="336.6" y="850.9125" font-size="10" fill="#231f20" stroke-width="0.16" stroke="#231f20">Ccr6</text>
<text x="336.6" y="864.3874999999999" font-size="10" fill="#231f20" stroke-width="0.16" stroke="#231f20">Il9r</text>
<text x="336.6" y="877.8625" font-size="10" fill="#231f20" stroke-width="0.16" stroke="#231f20">Pltp</text>
<text x="467.3" y="670.775" font-size="10" fill="#231f20" stroke-width="0.16" stroke="#231f20">Ifitm3</text>
<text x="467.3" y="684.325" font-size="10" fill="#231f20" stroke-width="0.16" stroke="#231f20">Oas1g</text>
<text x="467.3" y="697.875" font-size="10" fill="#231f20" stroke-width="0.16" stroke="#231f20">Oasl1</text>
<text x="467.3" y="711.425" font-size="10" fill="#231f20" stroke-width="0.16" stroke="#231f20">Rsad2</text>
<text x="467.3" y="734.7928571428571" font-size="10" fill="#231f20" stroke-width="0.16" stroke="#231f20">Acot6</text>
<text x="467.3" y="748.3785714285715" font-size="10" fill="#231f20" stroke-width="0.16" stroke="#231f20">Fap</text>
<text x="467.3" y="761.9642857142857" font-size="10" fill="#231f20" stroke-width="0.16" stroke="#231f20">Galc</text>
<text x="467.3" y="775.5500000000001" font-size="10" fill="#231f20" stroke-width="0.16" stroke="#231f20">Msl3l2</text>
<text x="467.3" y="789.1357142857142" font-size="10" fill="#231f20" stroke-width="0.16" stroke="#231f20">P4htm</text>
<text x="467.3" y="802.7214285714286" font-size="10" fill="#231f20" stroke-width="0.16" stroke="#231f20">Pdzrn3</text>
<text x="467.3" y="816.3071428571428" font-size="10" fill="#231f20" stroke-width="0.16" stroke="#231f20">Rnase11</text>
<defs><linearGradient id="zg" x1="0" x2="1" y1="0" y2="0"><stop offset="0" stop-color="#3a4b9f"/><stop offset="0.25" stop-color="#9aa3cf"/><stop offset="0.5" stop-color="#f8f6f2"/><stop offset="0.75" stop-color="#d99a96"/><stop offset="1" stop-color="#b0282b"/></linearGradient></defs>
<rect x="392.1" y="833.1" width="64.2" height="8.1" fill="url(#zg)"/>
<line x1="388.7" y1="843.8" x2="459.8" y2="843.8" stroke="#231f20" stroke-width="1.2"/>
<line x1="393" y1="843.8" x2="393" y2="846.8" stroke="#231f20" stroke-width="1.1"/>
<line x1="424.2" y1="843.8" x2="424.2" y2="846.8" stroke="#231f20" stroke-width="1.1"/>
<line x1="456.3" y1="843.8" x2="456.3" y2="846.8" stroke="#231f20" stroke-width="1.1"/>
<text x="392.5" y="860.8" font-size="9.6" text-anchor="middle" fill="#231f20" stroke-width="0.16" stroke="#231f20">-2</text>
<text x="424.2" y="860.8" font-size="9.6" text-anchor="middle" fill="#231f20" stroke-width="0.16" stroke="#231f20">0</text>
<text x="456.3" y="860.8" font-size="9.6" text-anchor="middle" fill="#231f20" stroke-width="0.16" stroke="#231f20">2</text>
<text x="424.4" y="877.7" font-size="11.2" text-anchor="middle" fill="#231f20" stroke-width="0.16" stroke="#231f20">Row Z-score</text>
</svg></body></html>
